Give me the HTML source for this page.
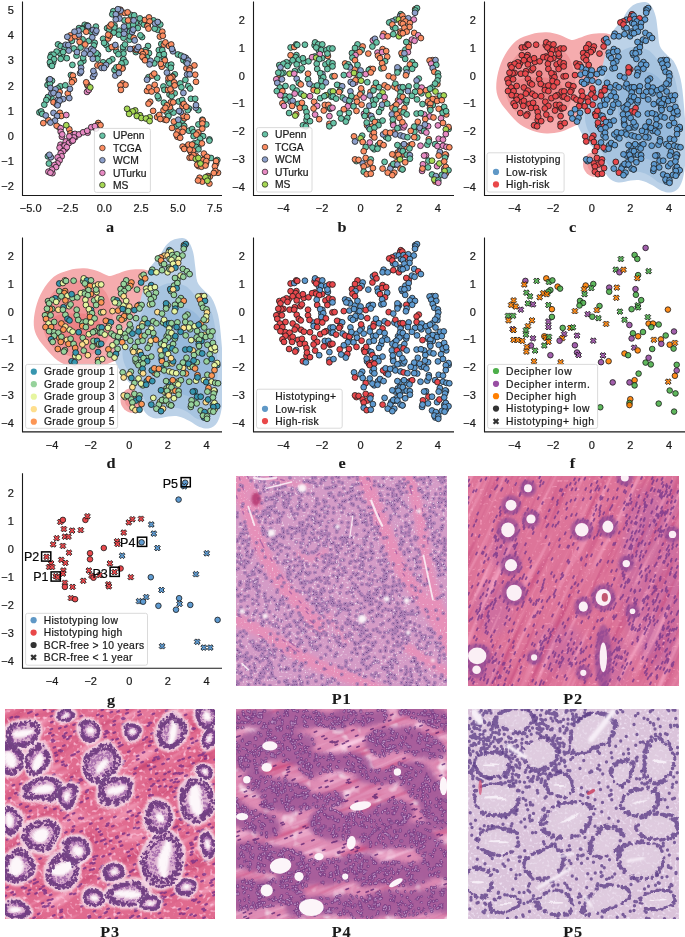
<!DOCTYPE html>
<html><head><meta charset="utf-8"><style>
html,body{margin:0;padding:0;background:#fff;}
body{width:685px;height:937px;overflow:hidden;position:relative;font-family:"Liberation Sans", sans-serif;}
svg{position:absolute;left:0;top:0;will-change:transform;}
.cap{font-family:"Liberation Serif", serif;font-weight:bold;}
text{stroke:#1a1a1a;stroke-width:0.22px;} text.cap{stroke-width:0.1px;}
.sc circle{r:2.9px;} .sc2 circle{r:2.8px;} .sc circle,.sc use{stroke:#1a1a1a;stroke-width:.8px;}
.k0{fill:#66c2a5}.k1{fill:#fc8d62}.k2{fill:#8da0cb}.k3{fill:#e78ac3}.k4{fill:#a6d854}.k5{fill:#e8484c}.k6{fill:#5e9ad0}.k7{fill:#96d29b}.k8{fill:#fc9655}.k9{fill:#e6f5a0}.k10{fill:#3796af}.k11{fill:#fede8c}.k12{fill:#984ea3}.k13{fill:#ff7f00}.k14{fill:#4daf4a}
</style></head><body>
<svg width="685" height="937" viewBox="0 0 685 937" font-family='"Liberation Sans", sans-serif' font-size="11" fill="#1a1a1a">
<defs><path id="xm" d="M-1.3 2.7L0.0 1.4L1.3 2.7L2.7 1.3L1.4 -0.0L2.7 -1.3L1.3 -2.7L-0.0 -1.4L-1.3 -2.7L-2.7 -1.3L-1.4 0.0L-2.7 1.3Z"/></defs><defs><clipPath id="clc"><rect x="485" y="0" width="200" height="195"/></clipPath><clipPath id="cld"><rect x="23" y="236" width="199" height="195"/></clipPath></defs><g clip-path="url(#clc)"><path d="M496.3 89.2C496.0 84.3 496.8 77.8 498.2 72.1C499.6 66.4 501.9 60.2 504.9 55.0C507.9 49.8 511.9 44.3 516.3 40.8C520.7 37.3 526.3 35.6 531.4 34.2C536.5 32.8 541.9 32.1 546.6 32.3C551.4 32.4 555.8 33.8 559.9 35.1C564.0 36.4 568.1 39.4 571.3 39.9C574.5 40.4 575.7 39.0 578.9 38.0C582.1 37.0 586.5 35.0 590.3 34.2C594.1 33.4 598.3 33.2 601.7 33.2C605.1 33.2 608.4 33.4 610.5 34.5C612.6 35.6 614.3 36.4 614.6 40.0C614.9 43.6 613.8 50.2 612.5 56.0C611.2 61.8 608.9 68.5 607.0 75.0C605.1 81.5 603.2 89.2 601.0 95.0C598.8 100.8 596.8 105.7 594.0 110.0C591.2 114.3 588.1 118.0 584.0 121.0C579.9 124.0 573.4 126.5 569.4 128.3C565.4 130.1 563.7 131.2 559.9 132.0C556.1 132.8 551.0 133.6 546.6 133.4C542.2 133.2 537.7 132.5 533.3 131.0C528.9 129.5 524.2 127.4 520.1 124.4C516.0 121.4 512.0 116.8 508.7 113.0C505.4 109.2 502.2 105.6 500.1 101.6C498.0 97.6 496.6 94.1 496.3 89.2Z" fill="#f5acae"/><path d="M506.8 75.9C507.9 70.5 509.6 65.1 512.5 60.7C515.4 56.3 519.2 52.0 523.9 49.3C528.6 46.6 535.5 45.1 540.9 44.6C546.3 44.1 552.0 45.1 556.1 46.5C560.2 47.9 563.1 50.4 565.6 53.1C568.1 55.8 569.7 58.2 571.3 62.6C572.9 67.0 574.8 74.3 575.1 79.7C575.4 85.1 574.5 90.2 573.2 94.9C571.9 99.7 570.4 104.4 567.5 108.2C564.6 112.0 560.5 115.5 556.1 117.7C551.7 119.9 546.0 121.5 540.9 121.5C535.8 121.5 530.5 119.9 525.8 117.7C521.1 115.5 515.8 112.3 512.5 108.2C509.2 104.1 506.8 98.4 505.8 93.0C504.9 87.6 505.7 81.3 506.8 75.9Z" fill="#f09598"/><path d="M516.3 81.6C518.4 79.1 522.7 78.4 527.7 77.8C532.8 77.2 541.2 76.8 546.6 77.8C552.0 78.8 557.0 81.0 559.9 83.5C562.8 86.0 563.7 89.5 563.7 93.0C563.7 96.5 562.8 101.6 559.9 104.4C557.0 107.2 551.4 109.1 546.6 110.1C541.9 111.0 535.8 111.0 531.4 110.1C527.0 109.1 522.8 107.2 520.1 104.4C517.4 101.6 515.9 96.8 515.3 93.0C514.7 89.2 514.2 84.1 516.3 81.6Z" fill="#ec8386"/><circle cx="595.5" cy="164.3" r="12.5" fill="#f5acae"/><circle cx="594.5" cy="165" r="7" fill="#f09598"/><path d="M634.9 4.2C637.8 2.9 642.5 1.8 645.3 2.1C648.1 2.4 649.8 3.8 651.5 6.2C653.2 8.6 654.7 12.4 655.7 16.6C656.8 20.8 657.1 26.3 657.8 31.2C658.5 36.0 658.4 41.9 659.8 45.7C661.2 49.5 663.7 51.3 666.1 54.1C668.5 56.9 672.0 58.2 674.4 62.4C676.8 66.5 679.0 72.1 680.6 79.0C682.2 85.9 682.9 93.8 683.8 104.0C684.7 114.2 685.9 129.0 686.0 140.0C686.1 151.0 685.5 162.3 684.5 170.0C683.5 177.7 682.1 182.3 680.0 186.0C677.9 189.7 675.0 191.5 672.0 192.3C669.0 193.1 665.3 192.2 662.0 191.0C658.7 189.8 655.5 186.8 652.0 185.0C648.5 183.2 644.5 181.2 641.0 180.5C637.5 179.8 634.5 180.2 630.7 180.5C626.9 180.8 621.9 182.9 618.3 182.5C614.7 182.1 611.5 180.4 609.0 178.0C606.5 175.6 605.2 172.5 603.0 168.0C600.8 163.5 598.2 155.5 595.5 151.0C592.8 146.5 589.4 144.7 586.7 141.0C584.0 137.3 581.1 133.0 579.4 129.1C577.7 125.2 576.2 121.8 576.4 117.4C576.6 113.0 578.3 107.6 580.8 102.7C583.2 97.8 587.9 92.9 591.1 88.0C594.3 83.1 597.7 78.3 599.9 73.4C602.1 68.5 602.8 64.1 604.3 58.7C605.8 53.3 607.2 45.8 608.7 41.1C610.2 36.5 610.9 34.3 613.1 30.8C615.3 27.3 619.4 23.5 621.9 20.0C624.4 16.5 625.8 12.6 628.0 10.0C630.2 7.4 632.0 5.5 634.9 4.2Z" fill="#bcd2e8"/><path d="M620.0 52.0C623.5 49.5 628.3 47.3 633.0 47.0C637.7 46.7 643.5 47.5 648.0 50.0C652.5 52.5 656.0 58.3 660.0 62.0C664.0 65.7 669.2 67.7 672.0 72.0C674.8 76.3 675.8 81.7 677.0 88.0C678.2 94.3 678.5 101.3 679.0 110.0C679.5 118.7 680.2 130.3 680.0 140.0C679.8 149.7 679.5 160.8 678.0 168.0C676.5 175.2 674.0 180.5 671.0 183.0C668.0 185.5 663.5 184.2 660.0 183.0C656.5 181.8 653.3 177.8 650.0 176.0C646.7 174.2 643.7 172.7 640.0 172.0C636.3 171.3 632.0 171.8 628.0 172.0C624.0 172.2 619.3 174.2 616.0 173.0C612.7 171.8 610.3 168.5 608.0 165.0C605.7 161.5 604.3 156.2 602.0 152.0C599.7 147.8 596.5 144.0 594.0 140.0C591.5 136.0 588.5 132.3 587.0 128.0C585.5 123.7 584.5 118.7 585.0 114.0C585.5 109.3 587.8 104.3 590.0 100.0C592.2 95.7 595.3 92.3 598.0 88.0C600.7 83.7 603.7 78.3 606.0 74.0C608.3 69.7 609.7 65.7 612.0 62.0C614.3 58.3 616.5 54.5 620.0 52.0Z" fill="#a7c4e0"/><path d="M628.0 78.0C633.0 73.0 642.0 71.0 648.0 72.0C654.0 73.0 660.0 78.5 664.0 84.0C668.0 89.5 670.5 96.5 672.0 105.0C673.5 113.5 673.8 125.8 673.0 135.0C672.2 144.2 670.8 155.8 667.0 160.0C663.2 164.2 655.5 161.7 650.0 160.0C644.5 158.3 638.7 155.0 634.0 150.0C629.3 145.0 624.7 138.0 622.0 130.0C619.3 122.0 617.0 110.7 618.0 102.0C619.0 93.3 623.0 83.0 628.0 78.0Z" fill="#98badc"/></g><g clip-path="url(#cld)"><path d="M33.8 325.2C33.5 320.3 34.3 313.8 35.7 308.1C37.1 302.4 39.4 296.2 42.4 291.0C45.4 285.8 49.4 280.3 53.8 276.8C58.2 273.3 63.8 271.6 68.9 270.2C73.9 268.8 79.4 268.1 84.1 268.3C88.9 268.5 93.3 269.8 97.4 271.1C101.5 272.4 105.6 275.4 108.8 275.9C112.0 276.4 113.2 274.9 116.4 274.0C119.6 273.1 124.0 271.0 127.8 270.2C131.6 269.4 135.8 269.1 139.2 269.2C142.6 269.2 145.8 269.4 148.0 270.5C150.2 271.6 151.8 272.4 152.1 276.0C152.4 279.6 151.3 286.2 150.0 292.0C148.7 297.8 146.4 304.5 144.5 311.0C142.6 317.5 140.7 325.2 138.5 331.0C136.3 336.8 134.3 341.7 131.5 346.0C128.7 350.3 125.6 353.9 121.5 357.0C117.4 360.1 110.9 362.5 106.9 364.3C102.9 366.1 101.2 367.1 97.4 368.0C93.6 368.9 88.5 369.6 84.1 369.4C79.7 369.2 75.2 368.5 70.8 367.0C66.4 365.5 61.7 363.4 57.6 360.4C53.5 357.4 49.5 352.8 46.2 349.0C42.9 345.2 39.7 341.6 37.6 337.6C35.5 333.6 34.1 330.1 33.8 325.2Z" fill="#f5acae"/><path d="M44.3 311.9C45.4 306.5 47.2 301.1 50.0 296.7C52.8 292.3 56.7 288.0 61.4 285.3C66.1 282.6 73.0 281.1 78.4 280.6C83.8 280.1 89.5 281.1 93.6 282.5C97.7 283.9 100.6 286.4 103.1 289.1C105.6 291.8 107.2 294.2 108.8 298.6C110.4 303.0 112.3 310.3 112.6 315.7C112.9 321.1 112.0 326.1 110.7 330.9C109.4 335.6 107.9 340.4 105.0 344.2C102.1 348.0 98.0 351.5 93.6 353.7C89.2 355.9 83.4 357.5 78.4 357.5C73.3 357.5 68.0 355.9 63.3 353.7C58.6 351.5 53.3 348.3 50.0 344.2C46.7 340.1 44.3 334.4 43.3 329.0C42.4 323.6 43.2 317.3 44.3 311.9Z" fill="#f09598"/><path d="M53.8 317.6C55.9 315.1 60.2 314.4 65.2 313.8C70.3 313.2 78.7 312.9 84.1 313.8C89.5 314.8 94.5 317.0 97.4 319.5C100.2 322.0 101.2 325.5 101.2 329.0C101.2 332.5 100.2 337.5 97.4 340.4C94.5 343.2 88.9 345.2 84.1 346.1C79.4 347.1 73.3 347.1 68.9 346.1C64.5 345.2 60.3 343.2 57.6 340.4C54.9 337.5 53.4 332.8 52.8 329.0C52.2 325.2 51.7 320.1 53.8 317.6Z" fill="#ec8386"/><circle cx="133.0" cy="400.3" r="12.5" fill="#f5acae"/><circle cx="132.0" cy="401" r="7" fill="#f09598"/><path d="M172.4 240.2C175.3 238.9 180.0 237.8 182.8 238.1C185.6 238.4 187.3 239.8 189.0 242.2C190.7 244.6 192.2 248.4 193.2 252.6C194.3 256.8 194.6 262.3 195.3 267.2C196.0 272.1 195.9 277.9 197.3 281.7C198.7 285.5 201.2 287.3 203.6 290.1C206.0 292.9 209.5 294.2 211.9 298.4C214.3 302.5 216.5 308.1 218.1 315.0C219.7 321.9 220.4 329.8 221.3 340.0C222.2 350.2 223.4 365.0 223.5 376.0C223.6 387.0 223.0 398.3 222.0 406.0C221.0 413.7 219.6 418.3 217.5 422.0C215.4 425.7 212.5 427.5 209.5 428.3C206.5 429.1 202.8 428.2 199.5 427.0C196.2 425.8 193.0 422.8 189.5 421.0C186.0 419.2 182.0 417.2 178.5 416.5C175.0 415.8 172.0 416.2 168.2 416.5C164.4 416.8 159.4 418.9 155.8 418.5C152.2 418.1 149.0 416.4 146.5 414.0C144.0 411.6 142.8 408.5 140.5 404.0C138.2 399.5 135.7 391.5 133.0 387.0C130.3 382.5 126.9 380.6 124.2 377.0C121.5 373.4 118.6 369.0 116.9 365.1C115.2 361.2 113.7 357.8 113.9 353.4C114.1 349.0 115.8 343.6 118.3 338.7C120.7 333.8 125.4 328.9 128.6 324.0C131.8 319.1 135.2 314.3 137.4 309.4C139.6 304.5 140.3 300.1 141.8 294.7C143.3 289.3 144.7 281.8 146.2 277.1C147.7 272.5 148.4 270.3 150.6 266.8C152.8 263.3 156.9 259.5 159.4 256.0C161.9 252.5 163.3 248.6 165.5 246.0C167.7 243.4 169.5 241.5 172.4 240.2Z" fill="#bcd2e8"/><path d="M157.5 288.0C161.0 285.5 165.8 283.3 170.5 283.0C175.2 282.7 181.0 283.5 185.5 286.0C190.0 288.5 193.5 294.3 197.5 298.0C201.5 301.7 206.7 303.7 209.5 308.0C212.3 312.3 213.3 317.7 214.5 324.0C215.7 330.3 216.0 337.3 216.5 346.0C217.0 354.7 217.7 366.3 217.5 376.0C217.3 385.7 217.0 396.8 215.5 404.0C214.0 411.2 211.5 416.5 208.5 419.0C205.5 421.5 201.0 420.2 197.5 419.0C194.0 417.8 190.8 413.8 187.5 412.0C184.2 410.2 181.2 408.7 177.5 408.0C173.8 407.3 169.5 407.8 165.5 408.0C161.5 408.2 156.8 410.2 153.5 409.0C150.2 407.8 147.8 404.5 145.5 401.0C143.2 397.5 141.8 392.2 139.5 388.0C137.2 383.8 134.0 380.0 131.5 376.0C129.0 372.0 126.0 368.3 124.5 364.0C123.0 359.7 122.0 354.7 122.5 350.0C123.0 345.3 125.3 340.3 127.5 336.0C129.7 331.7 132.8 328.3 135.5 324.0C138.2 319.7 141.2 314.3 143.5 310.0C145.8 305.7 147.2 301.7 149.5 298.0C151.8 294.3 154.0 290.5 157.5 288.0Z" fill="#a7c4e0"/><path d="M165.5 314.0C170.5 309.0 179.5 307.0 185.5 308.0C191.5 309.0 197.5 314.5 201.5 320.0C205.5 325.5 208.0 332.5 209.5 341.0C211.0 349.5 211.3 361.8 210.5 371.0C209.7 380.2 208.3 391.8 204.5 396.0C200.7 400.2 193.0 397.7 187.5 396.0C182.0 394.3 176.2 391.0 171.5 386.0C166.8 381.0 162.2 374.0 159.5 366.0C156.8 358.0 154.5 346.7 155.5 338.0C156.5 329.3 160.5 319.0 165.5 314.0Z" fill="#98badc"/></g><defs><filter id="bl1" x="-30%" y="-30%" width="160%" height="160%"><feGaussianBlur stdDeviation="0.8"/></filter><filter id="bl2" x="-20%" y="-20%" width="140%" height="140%"><feGaussianBlur stdDeviation="2"/></filter><filter id="bl4" x="-20%" y="-20%" width="140%" height="140%"><feGaussianBlur stdDeviation="4"/></filter><filter id="bl05" x="-5%" y="-5%" width="110%" height="110%"><feGaussianBlur stdDeviation="0.35"/></filter><filter id="t1b" filterUnits="userSpaceOnUse" x="236" y="476" width="211" height="211" color-interpolation-filters="sRGB"><feTurbulence type="fractalNoise" baseFrequency="0.5" numOctaves="1" seed="11"/><feColorMatrix type="matrix" values="0 0 0 0 0.961 0 0 0 0 0.882 0 0 0 0 0.941 -5.0 0 0 0 1.75"/></filter><clipPath id="clP1"><rect x="236" y="476" width="211" height="210"/></clipPath><filter id="s2l" x="0" y="0" width="1" height="1" color-interpolation-filters="sRGB"><feTurbulence type="fractalNoise" baseFrequency="0.012 0.16" numOctaves="2" seed="5"/><feColorMatrix type="matrix" values="0 0 0 0 0.961 0 0 0 0 0.647 0 0 0 0 0.765 3.0 0 0 0 -1.65"/></filter><filter id="s2d" x="0" y="0" width="1" height="1" color-interpolation-filters="sRGB"><feTurbulence type="fractalNoise" baseFrequency="0.012 0.16" numOctaves="2" seed="5"/><feColorMatrix type="matrix" values="0 0 0 0 0.784 0 0 0 0 0.314 0 0 0 0 0.510 -3.0 0 0 0 1.35"/></filter><filter id="t2b" filterUnits="userSpaceOnUse" x="468" y="476" width="211" height="211" color-interpolation-filters="sRGB"><feTurbulence type="fractalNoise" baseFrequency="0.35" numOctaves="1" seed="17"/><feColorMatrix type="matrix" values="0 0 0 0 0.961 0 0 0 0 0.627 0 0 0 0 0.745 -5.0 0 0 0 1.9"/></filter><clipPath id="clP2"><rect x="468" y="476" width="211" height="210"/></clipPath><filter id="s3l" x="0" y="0" width="1" height="1" color-interpolation-filters="sRGB"><feTurbulence type="fractalNoise" baseFrequency="0.02 0.12" numOctaves="2" seed="9"/><feColorMatrix type="matrix" values="0 0 0 0 0.973 0 0 0 0 0.686 0 0 0 0 0.784 3.0 0 0 0 -1.65"/></filter><filter id="s3d" x="0" y="0" width="1" height="1" color-interpolation-filters="sRGB"><feTurbulence type="fractalNoise" baseFrequency="0.02 0.12" numOctaves="2" seed="9"/><feColorMatrix type="matrix" values="0 0 0 0 0.784 0 0 0 0 0.275 0 0 0 0 0.451 -3.0 0 0 0 1.35"/></filter><filter id="t3b" filterUnits="userSpaceOnUse" x="5" y="709" width="210" height="211" color-interpolation-filters="sRGB"><feTurbulence type="fractalNoise" baseFrequency="0.3" numOctaves="1" seed="23"/><feColorMatrix type="matrix" values="0 0 0 0 0.980 0 0 0 0 0.725 0 0 0 0 0.824 -5.0 0 0 0 2.2"/></filter><filter id="dp3" filterUnits="userSpaceOnUse" x="-5" y="699" width="230" height="230" color-interpolation-filters="sRGB"><feTurbulence type="fractalNoise" baseFrequency="0.035" numOctaves="1" seed="21" result="t"/><feDisplacementMap in="SourceGraphic" in2="t" scale="14" xChannelSelector="R" yChannelSelector="G"/></filter><clipPath id="clP3"><rect x="5" y="709" width="210" height="210"/></clipPath><filter id="t4b" filterUnits="userSpaceOnUse" x="236" y="709" width="211" height="211" color-interpolation-filters="sRGB"><feTurbulence type="fractalNoise" baseFrequency="0.08" numOctaves="2" seed="31"/><feColorMatrix type="matrix" values="0 0 0 0 0.961 0 0 0 0 0.871 0 0 0 0 0.922 -4.0 0 0 0 1.75"/></filter><filter id="s4l" x="0" y="0" width="1" height="1" color-interpolation-filters="sRGB"><feTurbulence type="fractalNoise" baseFrequency="0.015 0.14" numOctaves="2" seed="13"/><feColorMatrix type="matrix" values="0 0 0 0 0.973 0 0 0 0 0.784 0 0 0 0 0.882 3.0 0 0 0 -1.65"/></filter><filter id="s4d" x="0" y="0" width="1" height="1" color-interpolation-filters="sRGB"><feTurbulence type="fractalNoise" baseFrequency="0.015 0.14" numOctaves="2" seed="13"/><feColorMatrix type="matrix" values="0 0 0 0 0.804 0 0 0 0 0.314 0 0 0 0 0.510 -3.0 0 0 0 1.35"/></filter><filter id="dp4" filterUnits="userSpaceOnUse" x="226" y="699" width="231" height="230" color-interpolation-filters="sRGB"><feTurbulence type="fractalNoise" baseFrequency="0.04" numOctaves="1" seed="8" result="t"/><feDisplacementMap in="SourceGraphic" in2="t" scale="12" xChannelSelector="R" yChannelSelector="G"/></filter><clipPath id="clP4"><rect x="236" y="709" width="211" height="210"/></clipPath><filter id="t5b" filterUnits="userSpaceOnUse" x="468" y="709" width="211" height="211" color-interpolation-filters="sRGB"><feTurbulence type="fractalNoise" baseFrequency="0.4" numOctaves="1" seed="37"/><feColorMatrix type="matrix" values="0 0 0 0 0.933 0 0 0 0 0.882 0 0 0 0 0.949 -5.0 0 0 0 2.3"/></filter><filter id="dp5" filterUnits="userSpaceOnUse" x="458" y="699" width="231" height="230" color-interpolation-filters="sRGB"><feTurbulence type="fractalNoise" baseFrequency="0.03" numOctaves="1" seed="41" result="t"/><feDisplacementMap in="SourceGraphic" in2="t" scale="16" xChannelSelector="R" yChannelSelector="G"/></filter><clipPath id="clP5"><rect x="468" y="709" width="211" height="210"/></clipPath></defs><g clip-path="url(#clP1)"><rect x="236" y="476" width="211" height="210" fill="#d49bc6" /><g filter="url(#bl2)"><path d="M236.0 482.1C224.7 464.2 244.2 502.1 248.3 512.9C252.4 523.7 255.5 535.4 260.6 546.7C265.7 558.0 272.4 570.8 279.0 580.5C285.7 590.3 294.4 598.5 300.6 605.1C306.7 611.8 326.7 641.0 315.9 620.5" fill="none" stroke="#e88fb8" stroke-width="13.8" stroke-linecap="round" stroke-linejoin="round" stroke-opacity="0.9"/><path d="M242.1 476.0C241.6 474.0 251.9 489.3 254.4 494.4C257.0 499.6 259.6 509.8 257.5 506.7" fill="none" stroke="#e88fb8" stroke-width="9.2" stroke-linecap="round" stroke-linejoin="round" stroke-opacity="0.9"/><path d="M365.1 476.0C352.8 452.9 370.8 493.9 374.4 503.7C377.9 513.4 382.6 524.2 386.7 534.4C390.8 544.7 393.8 555.4 399.0 565.2C404.1 574.9 411.3 583.6 417.4 592.8C423.6 602.1 430.7 612.3 435.9 620.5C441.0 628.7 459.9 666.1 448.2 642.0" fill="none" stroke="#e88fb8" stroke-width="13.8" stroke-linecap="round" stroke-linejoin="round" stroke-opacity="0.9"/><path d="M408.2 476.0C403.1 457.0 414.8 495.5 417.4 506.7C420.0 518.0 421.5 531.9 423.6 543.6C425.6 555.4 427.1 566.7 429.7 577.5C432.3 588.2 435.9 601.0 438.9 608.2C442.0 615.4 453.3 642.5 448.2 620.5" fill="none" stroke="#e88fb8" stroke-width="10.8" stroke-linecap="round" stroke-linejoin="round" stroke-opacity="0.9"/><path d="M236.0 620.5C218.1 611.5 256.5 628.7 266.7 634.3C277.0 640.0 287.2 648.4 297.5 654.3C307.7 660.2 319.0 665.6 328.2 669.7C337.5 673.8 345.2 675.9 352.8 678.9C360.5 682.0 393.8 697.9 374.4 688.2" fill="none" stroke="#e88fb8" stroke-width="12.3" stroke-linecap="round" stroke-linejoin="round" stroke-opacity="0.9"/><path d="M408.2 648.2C404.6 646.1 420.0 656.4 426.6 660.5C433.3 664.6 451.2 674.8 448.2 672.8" fill="none" stroke="#e88fb8" stroke-width="9.2" stroke-linecap="round" stroke-linejoin="round" stroke-opacity="0.9"/><path d="M297.5 552.9C295.4 554.4 308.3 559.5 312.9 559.0C317.5 558.5 327.7 550.8 325.2 549.8" fill="none" stroke="#e88fb8" stroke-width="4.3" stroke-linecap="round" stroke-linejoin="round" stroke-opacity="0.9"/><path d="M328.2 614.4C326.7 612.3 334.4 625.1 337.5 629.7C340.5 634.3 348.2 644.6 346.7 642.0" fill="none" stroke="#e88fb8" stroke-width="3.7" stroke-linecap="round" stroke-linejoin="round" stroke-opacity="0.9"/><path d="M266.7 476.0C263.2 475.5 278.5 480.6 285.2 482.1C291.9 483.7 309.8 486.2 306.7 485.2" fill="none" stroke="#e88fb8" stroke-width="4.6" stroke-linecap="round" stroke-linejoin="round" stroke-opacity="0.9"/></g><rect x="236" y="476" width="211" height="210" fill="none" filter="url(#t1b)"/><g filter="url(#bl05)"><path transform="translate(236 476) scale(.25)" d="M60 19h0m30-19h0m6 23h0m17 0h0m28-21h0m75 5h0m57 16h0m10-3h0m7 2h0m16-14h0m11-1h0m26 9h0m7-3h0m5 4h0m5-13h0m25 5h0m16-9h0m8 5h0m3 18h0m40-17h0m16-6h0m17 1h0m1 11h0m41-1h0m28 11h0m34-13h0m35 1h0m31 13h0m17-10h0m42-7h0m11 11h0m11-4h0m6 0h0m11-1h0m16-12h0m0 4h0m9 14h0m30-12h0m8 12h0m7-11h0m9-3h0m1-2h0m1 17h0m4 25h0m-14-18h0m-47 5h0m-12 16h0m-14-20h0m-51 16h0m-12-18h0m-10 7h0m-7 13h0m-7-16h0m-12 15h0m-3-7h0m-6 0h0m-53 1h0m-6 4h0m-7-1h0m-4 0h0m-3-5h0m-17 2h0m-62-7h0m-11 3h0m-13 3h0m-3 10h0m-39-19h0m-26 11h0m-2 3h0m-8 0h0m-1-17h0m-1 21h0m-14 1h0m-34-18h0m-16 11h0m-6-9h0m-9-7h0m-12 1h0m-100 17h0m-12 3h0m-16-17h0m-17-3h0m-9 5h0m-29 11h0m-29 3h0m-4-7h0m-55 3h0m-7-3h0m-6 19h0m84 13h0m15-15h0m2 6h0m14-8h0m30-1h0m6 19h0m7-2h0m3-18h0m13 17h0m23 3h0m3-1h0m12-14h0m0-5h0m21 3h0m5 8h0m3 7h0m8-8h0m1 3h0m3-5h0m0-5h0m7 8h0m16 10h0m21 0h0m51-22h0m7 0h0m5 21h0m8-1h0m35-1h0m16-18h0m13 18h0m4-1h0m11-7h0m1-10h0m6 8h0m26 10h0m0 1h0m15-4h0m69 5h0m30-20h0m12 2h0m9 16h0m4-13h0m18-5h0m8 11h0m10 8h0m16-5h0m49-6h0m0-8h0m1 4h0m5 1h0m7 9h0m24 7h0m47-20h0m3 20h0m15-3h0m3-6h0m-2 11h0m-1 19h0m-5 1h0m-15-3h0m-15-18h0m-9 19h0m-24-6h0m-2 5h0m-6-11h0m-8 6h0m-89-13h0m-7 18h0m-11 5h0m-2-15h0m0-4h0m-15 5h0m-18-7h0m-28 4h0m-82 14h0m-5-20h0m-11 20h0m-4-14h0m-15 3h0m0 1h0m-4 9h0m-5 3h0m-26-18h0m-16 0h0m-22 8h0m-15-6h0m-51 13h0m-19-16h0m-42 1h0m-11 13h0m-25-17h0m-11 19h0m-1-11h0m-14 13h0m-6-15h0m-7 7h0m-17-9h0m-3-2h0m-6 2h0m-1 15h0m-9-9h0m-5 10h0m-5 1h0m-2-6h0m-12 6h0m-7-6h0m-29 4h0m-64 21h0m75-4h0m16-10h0m37 9h0m9-9h0m25 18h0m0-11h0m3 6h0m16-11h0m0 11h0m44 4h0m1-10h0m5-8h0m23 17h0m41-17h0m0 14h0m8 0h0m20-14h0m3 7h0m6-2h0m39-4h0m14 18h0m8 2h0m6-16h0m8 0h0m2-4h0m25 13h0m6 2h0m1 3h0m38-14h0m9 2h0m62-8h0m8 0h0m18 3h0m1 12h0m9-4h0m8 11h0m2-12h0m10 9h0m1-18h0m11 3h0m5-4h0m14 10h0m0 6h0m4-6h0m6 11h0m81 2h0m33-6h0m21-7h0m11-1h0m17 13h0m1-16h0m-10 36h0m-16-16h0m-20 2h0m-17 17h0m0-14h0m-74 10h0m-4 4h0m-14-15h0m-38 4h0m-13 7h0m-5-8h0m-28 3h0m-10 9h0m-50-15h0m-10-1h0m-17 14h0m-15-2h0m-9-13h0m-57 5h0m-19-4h0m-23 4h0m-19-7h0m-5 21h0m0-21h0m-11-1h0m-7 11h0m-6 1h0m-23 10h0m-2-21h0m-11 19h0m-22-19h0m-12 14h0m-11-11h0m-7-3h0m-5 5h0m-1 5h0m-3-10h0m-23 18h0m-2-11h0m-18-4h0m-7-1h0m-33 17h0m-7 1h0m-2-22h0m-11 14h0m-1-11h0m-7 3h0m-7 2h0m-10 11h0m-8 3h0m-26-1h0m-29-1h0m-29-18h0m-24 40h0m3 1h0m1-15h0m65 1h0m14 14h0m5 4h0m6-6h0m6 1h0m8-10h0m15 0h0m7 9h0m1-15h0m3 11h0m22-11h0m15 3h0m1 4h0m9 7h0m8-13h0m38 8h0m7-4h0m10 1h0m48 10h0m10 1h0m12 4h0m3-23h0m3 7h0m13 8h0m1-2h0m20 7h0m1-18h0m10 3h0m25-2h0m33-2h0m27 9h0m16-1h0m1 0h0m4 6h0m26-5h0m1 10h0m15-8h0m9 2h0m12-5h0m5 14h0m4-19h0m75 12h0m18-9h0m15 11h0m26-2h0m6-4h0m67 1h0m1 1h0m3-4h0m23 8h0m13-17h0m10 10h0m28 15h0m-7 4h0m-30 15h0m-16-11h0m-5-9h0m-2 17h0m-8-15h0m-55 15h0m-27 2h0m-61-15h0m-7 14h0m-70-9h0m-21 6h0m-2-9h0m-1 5h0m-4 6h0m-6-1h0m-29-7h0m-4 3h0m-25 6h0m-26-2h0m-37-8h0m-16 7h0m-27-3h0m-11 5h0m-2-1h0m-11-5h0m-4 9h0m-10-15h0m-21 1h0m-17 11h0m-12 2h0m-20-17h0m-60 12h0m-1-12h0m-7 5h0m-2 8h0m-19 1h0m-9 4h0m-19-4h0m-1-11h0m-24 9h0m-58 1h0m-16 8h0m11 22h0m8-14h0m2 13h0m66-8h0m3 6h0m30-1h0m48 1h0m29-5h0m7 4h0m3-1h0m14 1h0m14-5h0m11-12h0m1 3h0m15 14h0m4-9h0m4-6h0m13 7h0m10 12h0m26-17h0m25 6h0m31 0h0m3-4h0m5 5h0m9 6h0m37-5h0m28-11h0m8-2h0m40 4h0m18-3h0m2 21h0m12-9h0m9 10h0m5-12h0m91 2h0m18-3h0m12-4h0m0-1h0m5 15h0m62 2h0m7-22h0m4 12h0m14 2h0m1-14h0m37 13h0m1 10h0m4-10h0m1-6h0m-13 37h0m-9-17h0m-10 8h0m-9 6h0m-94-10h0m0 14h0m-14-9h0m-14-1h0m-1-7h0m-21 17h0m-3-21h0m-64 15h0m-10-5h0m-11 6h0m-24-6h0m-17-9h0m-31 18h0m-39-10h0m-40-1h0m0-7h0m-31 14h0m-12-12h0m-4 13h0m-10 6h0m-3-17h0m-4 9h0m-12-3h0m-19 5h0m-6-5h0m-24 1h0m-3-9h0m-8 9h0m0-12h0m0 21h0m-13-18h0m-10 2h0m-7 7h0m-14 8h0m-15-7h0m-2-9h0m-16 6h0m-1-6h0m-14 16h0m-29-8h0m-1 8h0m-17-10h0m-3 4h0m0-4h0m-11-6h0m-4 13h0m-4-14h0m-61 10h0m-14 2h0m-4-2h0m-7 1h0m-15 31h0m1-5h0m9-8h0m2-6h0m12 14h0m11 3h0m13-7h0m73-11h0m1-1h0m19 13h0m5-1h0m3 5h0m7 5h0m1-19h0m20-2h0m8 6h0m1-4h0m31 6h0m47 4h0m25-5h0m11 8h0m10-8h0m6 8h0m7 3h0m10-11h0m26 5h0m4-13h0m6 15h0m23-6h0m20 2h0m4-3h0m5-3h0m3 15h0m5-14h0m5 2h0m2 7h0m5-10h0m15 2h0m1-1h0m50 5h0m8-3h0m0-4h0m2 13h0m2-16h0m31 10h0m8 3h0m28-6h0m12-2h0m58 7h0m4 10h0m5-1h0m5-22h0m24 18h0m16-7h0m2-7h0m2 11h0m7-8h0m27-4h0m17 8h0m16 5h0m5-11h0m2-1h0m15 17h0m7-4h0m18-7h0m2 5h0m0 5h0m0 11h0m-1 13h0m0 1h0m-13-16h0m-12-5h0m-5 19h0m-6-8h0m-4-2h0m-44 7h0m-48-5h0m-39 0h0m-4-8h0m-5 7h0m-66 8h0m-2 4h0m-42-5h0m-3-10h0m-27 2h0m-1-9h0m-15 18h0m-13-4h0m-19-9h0m-1-3h0m-13 12h0m-4 2h0m-4-16h0m-3 0h0m-15 8h0m-17 6h0m-9 8h0m-1-5h0m-9-13h0m-5 1h0m-3 1h0m-21-6h0m-1 15h0m-8-1h0m-1-9h0m-19 9h0m-38-10h0m-9 12h0m-18-11h0m-7 16h0m-1-17h0m-18-4h0m-41 22h0m-16-9h0m-8-3h0m-10 11h0m-15-17h0m-5 3h0m-9 8h0m-5-3h0m-3-5h0m-47-4h0m-32 1h0m-2 9h0m-22-9h0m-13 20h0m25 1h0m5 16h0m2-3h0m22-2h0m39-2h0m37-9h0m8 5h0m29 6h0m33-11h0m21 22h0m34-6h0m8-8h0m8 10h0m4 3h0m16-5h0m6 1h0m9-5h0m7-9h0m53 2h0m24 2h0m3 5h0m3 5h0m11-16h0m19 21h0m12-8h0m9-2h0m9-4h0m3-7h0m32 4h0m13 14h0m3-1h0m17-3h0m2-7h0m3 5h0m4 8h0m3-1h0m30-8h0m4-12h0m74 3h0m15 13h0m15-12h0m4 10h0m4-2h0m24-8h0m10 2h0m4 8h0m62 0h0m3 2h0m27 4h0m7-15h0m4 3h0m-1 18h0m-15 1h0m-1 18h0m-8-12h0m-16 8h0m-3 5h0m-1-3h0m-11-17h0m-45-1h0m-10 9h0m-6 10h0m0-2h0m-5 0h0m-4 1h0m-37-19h0m-71-1h0m-3 23h0m-8-18h0m-48 11h0m-2 1h0m-2 4h0m-24-5h0m-5-3h0m-2 0h0m-4 0h0m-3-13h0m-4 9h0m-31-2h0m-39 15h0m-23-10h0m-7 5h0m-14-14h0m-1 10h0m-7 10h0m-3-17h0m-13-2h0m-2 15h0m-12-10h0m-23 10h0m-70-5h0m-15 8h0m-31-14h0m-1-5h0m-37-2h0m-11 17h0m-40-5h0m-54-11h0m-7 11h0m-12-7h0m-22 2h0m-5 9h0m-4-16h0m-7 2h0m-2 8h0m1 21h0m11 4h0m4 5h0m3-10h0m13-4h0m5 11h0m5-7h0m4 2h0m37 7h0m80-7h0m22 5h0m6-10h0m6 7h0m6-7h0m12 2h0m28 16h0m9-16h0m9 15h0m0-15h0m17 9h0m30 6h0m12-20h0m27 6h0m2 2h0m15 11h0m4-11h0m9 4h0m8 0h0m11-4h0m15 9h0m5-17h0m11-1h0m25 13h0m0-2h0m4-5h0m16-4h0m4 3h0m11-4h0m8 19h0m6-13h0m3 15h0m0-5h0m23-17h0m39 4h0m7 0h0m3 14h0m7-18h0m7 5h0m15 8h0m20 6h0m1-3h0m49 6h0m12-21h0m31 8h0m14-2h0m64-6h0m5 17h0m0-11h0m1 7h0m5-2h0m11 8h0m8-1h0m2-17h0m8 34h0m-4 3h0m-2-11h0m-20 14h0m-3-16h0m-2 9h0m-42 2h0m-31-6h0m-9-1h0m-2-3h0m-5 8h0m-22 1h0m-24 2h0m-50 8h0m-13 0h0m-9-20h0m-9 15h0m0 4h0m-5-6h0m-34-6h0m-8 12h0m-8-18h0m-22 20h0m-12-11h0m-10-4h0m-18-3h0m-41 2h0m-3 12h0m-6-11h0m-17 10h0m-15-8h0m-3 1h0m-33-5h0m-4 3h0m-5 11h0m-2-1h0m-23-14h0m-37-5h0m-19 11h0m-6 11h0m0-1h0m-1-1h0m-28-19h0m0-1h0m-3 18h0m-16-16h0m-1 3h0m-4 10h0m-104-14h0m-6 21h0m-4-3h0m-5-2h0m-12-11h0m-9 13h0m-4 4h0m-31-18h0m-1-4h0m-24 9h0m-8 4h0m35 13h0m11 13h0m5-3h0m8-2h0m13-3h0m21-8h0m21 10h0m61 4h0m31 5h0m0-15h0m8-3h0m2 8h0m21 11h0m5-3h0m7-12h0m7 3h0m22-6h0m2 4h0m8 4h0m6-7h0m21-1h0m18 21h0m20 0h0m15 0h0m20-9h0m15 4h0m0 5h0m2-6h0m2 4h0m6-12h0m12 3h0m13-11h0m1 0h0m21 19h0m9-15h0m8 7h0m4-2h0m5-4h0m22 12h0m23-13h0m24 10h0m37 0h0m4-8h0m5 10h0m1-12h0m26 18h0m83-12h0m3-2h0m23 8h0m72-3h0m8-3h0m12-2h0m-63 37h0m-29-10h0m-11-12h0m0 7h0m-73 16h0m-1-14h0m-22 6h0m-30-14h0m-4 5h0m-4-1h0m-4 9h0m-3 1h0m-1-8h0m-2 2h0m-4-7h0m-13 10h0m-20-4h0m-3 15h0m-10-18h0m-35-2h0m-8-1h0m-23 19h0m-13-15h0m-48-4h0m-1 10h0m-32 9h0m-8-11h0m-8 10h0m-17-8h0m-12-8h0m-6-1h0m-2 4h0m-13 4h0m-7 6h0m-13-1h0m-12-4h0m-7 7h0m-7-1h0m-1 3h0m-4-15h0m-35 6h0m-10-8h0m-19 15h0m-25-19h0m-25 13h0m-21-13h0m-36 5h0m-1 10h0m-1-10h0m-7 5h0m-3 12h0m-4-7h0m-15-8h0m-1 8h0m-8-1h0m-26 8h0m-2-6h0m-1 2h0m-15 27h0m1 1h0m13-18h0m27 13h0m1-15h0m5 2h0m0 11h0m5 2h0m17-8h0m10 3h0m1-12h0m0 19h0m12-12h0m91 3h0m39 4h0m46 0h0m8-14h0m19 20h0m33-12h0m20 11h0m45-12h0m25 7h0m4-7h0m41 10h0m12 2h0m1-15h0m0 15h0m8-5h0m19-13h0m19-1h0m10 6h0m27 16h0m7-1h0m9-5h0m16-8h0m1 13h0m6-14h0m10 5h0m16-1h0m4-3h0m13-3h0m16 3h0m12-8h0m4 7h0m29 0h0m14 8h0m36-14h0m2 3h0m66 5h0m8 35h0m-91-15h0m-19-4h0m-58 0h0m-8 20h0m-10-15h0m-2-5h0m-15 3h0m-2 11h0m-10 3h0m-16-7h0m-3-3h0m-1 7h0m-2-3h0m-25-3h0m-5 9h0m0-15h0m-10 13h0m-17 6h0m-2-15h0m-5 10h0m-24 4h0m-4-5h0m-8-10h0m-27 4h0m-9-5h0m-12 7h0m-28 0h0m-30-9h0m-10 5h0m-23-5h0m-11-3h0m0 14h0m-2 3h0m-1-8h0m-16 10h0m-2-10h0m-11-4h0m0 13h0m-17-13h0m-4 6h0m-14-2h0m-18-2h0m-14-4h0m-77-3h0m-2 9h0m-49 5h0m-23-9h0m-4 3h0m-3 10h0m-49-18h0m-17 17h0m-11 4h0m1 4h0m11 19h0m14-5h0m2-13h0m14-2h0m17 14h0m15 5h0m7-16h0m25-3h0m3 9h0m3 12h0m12-2h0m10-13h0m12 10h0m23 3h0m2-3h0m8-12h0m1 11h0m15-4h0m81 3h0m3 1h0m7-15h0m23 14h0m5 0h0m6-9h0m15 7h0m27 11h0m9-19h0m2 12h0m5 5h0m1-8h0m26 9h0m56-19h0m46 1h0m2 12h0m2 3h0m6-13h0m3 12h0m8-11h0m3 15h0m0-12h0m8 0h0m13 11h0m20-15h0m6-6h0m12 4h0m7 17h0m9-17h0m1-2h0m2 13h0m0 0h0m12-2h0m41-4h0m10 6h0m14-5h0m13 12h0m2-2h0m14-13h0m82 3h0m11-5h0m6-5h0m-96 47h0m-59-20h0m-19 5h0m-3-4h0m-5 19h0m-25-20h0m-1 2h0m-32 3h0m-7-4h0m-1 14h0m-6 4h0m-24-14h0m-7 0h0m-1 2h0m-22 11h0m-13-14h0m-15-6h0m-19 8h0m-4 1h0m-6-5h0m-10 10h0m-8-8h0m-4 1h0m-16 4h0m-4 1h0m-10 1h0m-13-9h0m-2-1h0m-2 9h0m-7-8h0m-19 10h0m-2-11h0m-13-4h0m-2 17h0m-9-6h0m-5-4h0m-5-1h0m-3 7h0m-1 1h0m0 3h0m-7-12h0m-7 0h0m-3 0h0m-59 15h0m-36-4h0m-1 5h0m-19-14h0m-15 2h0m-6 7h0m-7-6h0m-39 5h0m-1 5h0m-32-11h0m-22-2h0m-22 12h0m-26 2h0m-6 14h0m9 1h0m17 7h0m5 3h0m2-5h0m30-1h0m5-5h0m29 7h0m8-14h0m15 11h0m28-10h0m7 0h0m51 17h0m6-6h0m26 4h0m56-2h0m15-11h0m11 11h0m8 5h0m1-10h0m5-12h0m7 3h0m8 2h0m3 9h0m4-7h0m40-6h0m0 18h0m7-8h0m1-12h0m6 6h0m10-4h0m3 4h0m9 2h0m5 0h0m4 3h0m29 1h0m14-10h0m35 16h0m4-2h0m7-6h0m2 1h0m23-8h0m17 9h0m11-8h0m13 4h0m12 1h0m10 12h0m7 2h0m2-10h0m13-10h0m5 19h0m2-5h0m2-1h0m12-1h0m2 2h0m25-2h0m4-3h0m23 6h0m0 1h0m2-2h0m28-11h0m6 8h0m35-5h0m29 12h0m-22 23h0m-38-8h0m-50-10h0m-11-2h0m-8 0h0m-12 0h0m-13 1h0m-1 17h0m-2-8h0m-7-6h0m-6 2h0m-6 4h0m-21-1h0m-1 4h0m-17 10h0m-32-15h0m-11-5h0m-1-1h0m-8 3h0m0 4h0m-18 8h0m-40-15h0m-3 19h0m-2-18h0m-6 15h0m-13-9h0m-26-7h0m-7 19h0m-47-16h0m-49 7h0m-18 6h0m-68-3h0m-3 8h0m-2 0h0m-4-18h0m-38 3h0m-15 9h0m-7-15h0m-28 21h0m-14-14h0m-30 12h0m-23-9h0m-4-11h0m-25 0h0m-61 1h0m41 24h0m17-2h0m33 15h0m5 6h0m1-16h0m3 5h0m24 1h0m14 9h0m11-4h0m22-12h0m32 15h0m19-15h0m5 5h0m6 14h0m4-13h0m10-8h0m15 9h0m5 9h0m6-2h0m27-13h0m38 9h0m18-10h0m5 7h0m14-8h0m13 0h0m4 8h0m36 1h0m6 5h0m4-17h0m7 13h0m2-7h0m10 16h0m2-1h0m6-9h0m9 4h0m11 7h0m15-16h0m0 11h0m15-13h0m23 1h0m31 13h0m8-5h0m21-12h0m20 13h0m13-12h0m3 7h0m2 0h0m17-7h0m17 9h0m0 9h0m13-12h0m2-2h0m1 2h0m18 7h0m65 21h0m-2 5h0m-9-7h0m-36-11h0m-15 19h0m-5-8h0m-7 7h0m-27-3h0m-9-6h0m-12-4h0m-2-3h0m-10 4h0m-2 14h0m-2-18h0m-3 5h0m-10 11h0m-5-3h0m-11 3h0m-46 3h0m-4-9h0m-13 4h0m-26 1h0m-7 1h0m-9-15h0m0 1h0m-7 12h0m-14-1h0m-1-1h0m-12-2h0m-7-9h0m-42 12h0m0-11h0m-4 8h0m-18-6h0m-56-3h0m-12 5h0m-23 12h0m-8-17h0m-12 0h0m-14 19h0m-8-8h0m-7 6h0m-9-13h0m-36-6h0m-14 0h0m-12 10h0m-22-6h0m-13-5h0m-126 20h0m-25 17h0m11-12h0m9 17h0m1 0h0m14-12h0m97 2h0m30-2h0m22-6h0m11 17h0m10-7h0m4-6h0m33 0h0m21-2h0m12 16h0m2 2h0m38-20h0m3 8h0m3 4h0m1-7h0m5 14h0m10-12h0m9-7h0m8 13h0m1-6h0m26 6h0m8 9h0m16-5h0m26 6h0m1-11h0m12 4h0m5-12h0m8 7h0m31-1h0m5 6h0m4-11h0m7-1h0m12 13h0m7-2h0m8 4h0m1-9h0m38-8h0m12 18h0m3-1h0m4-17h0m13 0h0m18 7h0m10-3h0m14 12h0m12-10h0m5 5h0m11-5h0m4 0h0m5 12h0m6-11h0m28 4h0m15-11h0m6 12h0m14 1h0m2 5h0m17 1h0m9-1h0m3-19h0m7 4h0m25 15h0m-2 25h0m-2-20h0m-11 20h0m-6-3h0m-22 2h0m-5-2h0m-4 2h0m-15-14h0m-7-6h0m-11 12h0m-43-3h0m-10 12h0m0-17h0m-13 0h0m-4 16h0m-19-2h0m-1-3h0m-15-12h0m-1-2h0m-20 17h0m-2-4h0m-48 3h0m-13 4h0m-16-5h0m-15-11h0m-4 3h0m-10 5h0m-10 9h0m-13-1h0m0 1h0m-2-4h0m-12-11h0m-45 16h0m-4-22h0m-2 17h0m-4-1h0m-6-5h0m-29 0h0m-40-10h0m-15 11h0m-11 3h0m-12 2h0m-1-16h0m-29 16h0m-5-12h0m-4 14h0m-12-19h0m-26 10h0m-54-5h0m-47 10h0m-4-2h0m-5-7h0m-3 3h0m-4 5h0m-32 6h0m-2-8h0m-10 2h0m-41-2h0m-15 6h0m17 10h0m2 3h0m7 4h0m43-4h0m8 5h0m3 7h0m2-3h0m2-12h0m4 2h0m3 7h0m3-7h0m8 14h0m9-4h0m14-12h0m6 17h0m18-18h0m1 19h0m9-2h0m46-3h0m40-9h0m6-8h0m46 3h0m9 5h0m1 10h0m12-7h0m3 11h0m2-5h0m12-12h0m29 7h0m48-7h0m16 4h0m0-1h0m7-6h0m39 16h0m1-18h0m1 21h0m18-7h0m0 0h0m25 0h0m6 2h0m12 6h0m8-16h0m3-2h0m48 9h0m34-7h0m16 1h0m0-2h0m8-2h0m12 14h0m56-15h0m6 14h0m13 2h0m16-2h0m4-10h0m41 4h0m14 9h0m11-6h0m3 28h0m-17 4h0m-1-18h0m-35 8h0m-1 5h0m-18-2h0m-102-6h0m-22 11h0m-7-18h0m-8 4h0m-22-3h0m-1-3h0m-20 4h0m-1 0h0m-45-4h0m-2 3h0m-5 5h0m-4 3h0m-11 7h0m-25-3h0m-2-1h0m-19-4h0m-61 3h0m-4 5h0m-21-17h0m-20 18h0m-79-18h0m-5 5h0m0-4h0m-38 9h0m-30-11h0m-20 23h0m-6-21h0m-25 4h0m-1-6h0m-1 21h0m-11-2h0m-2-7h0m-5-8h0m-1 8h0m-6 11h0m-13-21h0m-9 12h0m-5 9h0m-10-23h0m-47 12h0m-6 8h0m-22-10h0m-7 13h0m-1-20h0m-2 0h0m-1-3h0m-3 25h0m3 10h0m12-9h0m11-1h0m8 18h0m2-15h0m6 4h0m1 13h0m8-9h0m8-8h0m18 5h0m4 1h0m2 2h0m10 11h0m12-7h0m8-12h0m0 3h0m9-1h0m2 4h0m5 10h0m24-16h0m26 13h0m6-17h0m7 8h0m48 14h0m98-14h0m56-6h0m44 18h0m21-5h0m45-1h0m8 1h0m11-6h0m0-1h0m7-5h0m22 3h0m3 12h0m2 4h0m6 0h0m27-17h0m27 16h0m5-7h0m5 3h0m9-4h0m0 9h0m64 0h0m9-14h0m1 12h0m3-1h0m0 2h0m1-11h0m96 2h0m22-4h0m0 1h0m-21 15h0m-21 20h0m-45-14h0m-14 17h0m-7-18h0m-3 6h0m-44 9h0m-34-16h0m-20 9h0m-1 7h0m-6-10h0m-9-8h0m-2 21h0m-4-2h0m-5 0h0m-11 0h0m-18-20h0m-20 3h0m-10 10h0m-17 5h0m-12-10h0m-6-6h0m-63 0h0m-2 13h0m-27 4h0m-1-3h0m-32-9h0m-56-7h0m-44 2h0m-14 8h0m-2 3h0m-1-8h0m-6 12h0m-19-11h0m-5-1h0m-3 10h0m-27 7h0m-29-10h0m-26 10h0m-6-11h0m-2-9h0m-6 2h0m-6 9h0m-8 8h0m-45-1h0m-1-13h0m-19 11h0m-21-7h0m-21 2h0m-1 4h0m-9 22h0m2-5h0m13 11h0m3-4h0m23-13h0m18 7h0m0 11h0m15-22h0m1 10h0m20 11h0m4-4h0m9-13h0m4 15h0m5-19h0m9 6h0m14 16h0m1-6h0m2-17h0m35 6h0m17 0h0m2-1h0m2-3h0m9 1h0m25 6h0m20 1h0m98-6h0m71-4h0m27 5h0m9 6h0m15 4h0m10-5h0m12-2h0m25-5h0m7-3h0m31 20h0m26-20h0m8 5h0m13 10h0m9 7h0m9-22h0m35 10h0m19 12h0m2-16h0m2 9h0m15 0h0m1-10h0m21-3h0m5 2h0m1 8h0m13 3h0m19-4h0m66 22h0m-1-5h0m-4 13h0m-23-9h0m-41 7h0m-17-12h0m-2 0h0m-3 20h0m-32-19h0m0 5h0m-13 9h0m-11-17h0m-7 18h0m-31 0h0m-5-13h0m-6 10h0m-7-15h0m-8 1h0m-3 11h0m-3-6h0m-36 1h0m-14-6h0m-4 9h0m-10-8h0m-25 7h0m-6 1h0m-18-9h0m-71 0h0m-38 16h0m-42-11h0m0 9h0m-34-12h0m-9 9h0m-16 0h0m-29 9h0m-1-13h0m-96 9h0m-10-7h0m-4-8h0m-12 12h0m-24-4h0m-11 6h0m-2-10h0m-13 15h0m-20-8h0m-12 2h0m-11-7h0m-11 2h0m-8 12h0m-18 20h0m2-12h0m5 7h0m41 5h0m27-5h0m4-12h0m10-1h0m4 10h0m17 7h0m24 5h0m36-15h0m23-3h0m5 4h0m3-7h0m1 16h0m5 4h0m2-5h0m16 4h0m4-16h0m2 14h0m5-13h0m3 12h0m18-2h0m4 7h0m1-14h0m23-1h0m0 4h0m33-8h0m26 17h0m16-1h0m4-9h0m2-11h0m13 8h0m14-8h0m14 14h0m76 2h0m33 3h0m77-12h0m16-2h0m6 10h0m45-4h0m13 11h0m6-1h0m2-11h0m13 12h0m2-13h0m4 1h0m3-9h0m17 11h0m5 9h0m35-19h0m4 20h0m5-13h0m20 14h0m4-12h0m41-7h0m4-2h0" fill="none" stroke="#9a6aa8" stroke-width="16.0" stroke-linecap="round" stroke-opacity="0.7"/><path transform="translate(236 476) scale(.25)" d="M60 19h0m30-19h0m6 23h0m17 0h0m28-21h0m75 5h0m57 16h0m10-3h0m7 2h0m16-14h0m11-1h0m26 9h0m7-3h0m5 4h0m5-13h0m25 5h0m16-9h0m8 5h0m3 18h0m40-17h0m16-6h0m17 1h0m1 11h0m41-1h0m28 11h0m34-13h0m35 1h0m31 13h0m17-10h0m42-7h0m11 11h0m11-4h0m6 0h0m11-1h0m16-12h0m0 4h0m9 14h0m30-12h0m8 12h0m7-11h0m9-3h0m1-2h0m1 17h0m4 25h0m-14-18h0m-47 5h0m-12 16h0m-14-20h0m-51 16h0m-12-18h0m-10 7h0m-7 13h0m-7-16h0m-12 15h0m-3-7h0m-6 0h0m-53 1h0m-6 4h0m-7-1h0m-4 0h0m-3-5h0m-17 2h0m-62-7h0m-11 3h0m-13 3h0m-3 10h0m-39-19h0m-26 11h0m-2 3h0m-8 0h0m-1-17h0m-1 21h0m-14 1h0m-34-18h0m-16 11h0m-6-9h0m-9-7h0m-12 1h0m-100 17h0m-12 3h0m-16-17h0m-17-3h0m-9 5h0m-29 11h0m-29 3h0m-4-7h0m-55 3h0m-7-3h0m-6 19h0m84 13h0m15-15h0m2 6h0m14-8h0m30-1h0m6 19h0m7-2h0m3-18h0m13 17h0m23 3h0m3-1h0m12-14h0m0-5h0m21 3h0m5 8h0m3 7h0m8-8h0m1 3h0m3-5h0m0-5h0m7 8h0m16 10h0m21 0h0m51-22h0m7 0h0m5 21h0m8-1h0m35-1h0m16-18h0m13 18h0m4-1h0m11-7h0m1-10h0m6 8h0m26 10h0m0 1h0m15-4h0m69 5h0m30-20h0m12 2h0m9 16h0m4-13h0m18-5h0m8 11h0m10 8h0m16-5h0m49-6h0m0-8h0m1 4h0m5 1h0m7 9h0m24 7h0m47-20h0m3 20h0m15-3h0m3-6h0m-2 11h0m-1 19h0m-5 1h0m-15-3h0m-15-18h0m-9 19h0m-24-6h0m-2 5h0m-6-11h0m-8 6h0m-89-13h0m-7 18h0m-11 5h0m-2-15h0m0-4h0m-15 5h0m-18-7h0m-28 4h0m-82 14h0m-5-20h0m-11 20h0m-4-14h0m-15 3h0m0 1h0m-4 9h0m-5 3h0m-26-18h0m-16 0h0m-22 8h0m-15-6h0m-51 13h0m-19-16h0m-42 1h0m-11 13h0m-25-17h0m-11 19h0m-1-11h0m-14 13h0m-6-15h0m-7 7h0m-17-9h0m-3-2h0m-6 2h0m-1 15h0m-9-9h0m-5 10h0m-5 1h0m-2-6h0m-12 6h0m-7-6h0m-29 4h0m-64 21h0m75-4h0m16-10h0m37 9h0m9-9h0m25 18h0m0-11h0m3 6h0m16-11h0m0 11h0m44 4h0m1-10h0m5-8h0m23 17h0m41-17h0m0 14h0m8 0h0m20-14h0m3 7h0m6-2h0m39-4h0m14 18h0m8 2h0m6-16h0m8 0h0m2-4h0m25 13h0m6 2h0m1 3h0m38-14h0m9 2h0m62-8h0m8 0h0m18 3h0m1 12h0m9-4h0m8 11h0m2-12h0m10 9h0m1-18h0m11 3h0m5-4h0m14 10h0m0 6h0m4-6h0m6 11h0m81 2h0m33-6h0m21-7h0m11-1h0m17 13h0m1-16h0m-10 36h0m-16-16h0m-20 2h0m-17 17h0m0-14h0m-74 10h0m-4 4h0m-14-15h0m-38 4h0m-13 7h0m-5-8h0m-28 3h0m-10 9h0m-50-15h0m-10-1h0m-17 14h0m-15-2h0m-9-13h0m-57 5h0m-19-4h0m-23 4h0m-19-7h0m-5 21h0m0-21h0m-11-1h0m-7 11h0m-6 1h0m-23 10h0m-2-21h0m-11 19h0m-22-19h0m-12 14h0m-11-11h0m-7-3h0m-5 5h0m-1 5h0m-3-10h0m-23 18h0m-2-11h0m-18-4h0m-7-1h0m-33 17h0m-7 1h0m-2-22h0m-11 14h0m-1-11h0m-7 3h0m-7 2h0m-10 11h0m-8 3h0m-26-1h0m-29-1h0m-29-18h0m-24 40h0m3 1h0m1-15h0m65 1h0m14 14h0m5 4h0m6-6h0m6 1h0m8-10h0m15 0h0m7 9h0m1-15h0m3 11h0m22-11h0m15 3h0m1 4h0m9 7h0m8-13h0m38 8h0m7-4h0m10 1h0m48 10h0m10 1h0m12 4h0m3-23h0m3 7h0m13 8h0m1-2h0m20 7h0m1-18h0m10 3h0m25-2h0m33-2h0m27 9h0m16-1h0m1 0h0m4 6h0m26-5h0m1 10h0m15-8h0m9 2h0m12-5h0m5 14h0m4-19h0m75 12h0m18-9h0m15 11h0m26-2h0m6-4h0m67 1h0m1 1h0m3-4h0m23 8h0m13-17h0m10 10h0m28 15h0m-7 4h0m-30 15h0m-16-11h0m-5-9h0m-2 17h0m-8-15h0m-55 15h0m-27 2h0m-61-15h0m-7 14h0m-70-9h0m-21 6h0m-2-9h0m-1 5h0m-4 6h0m-6-1h0m-29-7h0m-4 3h0m-25 6h0m-26-2h0m-37-8h0m-16 7h0m-27-3h0m-11 5h0m-2-1h0m-11-5h0m-4 9h0m-10-15h0m-21 1h0m-17 11h0m-12 2h0m-20-17h0m-60 12h0m-1-12h0m-7 5h0m-2 8h0m-19 1h0m-9 4h0m-19-4h0m-1-11h0m-24 9h0m-58 1h0m-16 8h0m11 22h0m8-14h0m2 13h0m66-8h0m3 6h0m30-1h0m48 1h0m29-5h0m7 4h0m3-1h0m14 1h0m14-5h0m11-12h0m1 3h0m15 14h0m4-9h0m4-6h0m13 7h0m10 12h0m26-17h0m25 6h0m31 0h0m3-4h0m5 5h0m9 6h0m37-5h0m28-11h0m8-2h0m40 4h0m18-3h0m2 21h0m12-9h0m9 10h0m5-12h0m91 2h0m18-3h0m12-4h0m0-1h0m5 15h0m62 2h0m7-22h0m4 12h0m14 2h0m1-14h0m37 13h0m1 10h0m4-10h0m1-6h0m-13 37h0m-9-17h0m-10 8h0m-9 6h0m-94-10h0m0 14h0m-14-9h0m-14-1h0m-1-7h0m-21 17h0m-3-21h0m-64 15h0m-10-5h0m-11 6h0m-24-6h0m-17-9h0m-31 18h0m-39-10h0m-40-1h0m0-7h0m-31 14h0m-12-12h0m-4 13h0m-10 6h0m-3-17h0m-4 9h0m-12-3h0m-19 5h0m-6-5h0m-24 1h0m-3-9h0m-8 9h0m0-12h0m0 21h0m-13-18h0m-10 2h0m-7 7h0m-14 8h0m-15-7h0m-2-9h0m-16 6h0m-1-6h0m-14 16h0m-29-8h0m-1 8h0m-17-10h0m-3 4h0m0-4h0m-11-6h0m-4 13h0m-4-14h0m-61 10h0m-14 2h0m-4-2h0m-7 1h0m-15 31h0m1-5h0m9-8h0m2-6h0m12 14h0m11 3h0m13-7h0m73-11h0m1-1h0m19 13h0m5-1h0m3 5h0m7 5h0m1-19h0m20-2h0m8 6h0m1-4h0m31 6h0m47 4h0m25-5h0m11 8h0m10-8h0m6 8h0m7 3h0m10-11h0m26 5h0m4-13h0m6 15h0m23-6h0m20 2h0m4-3h0m5-3h0m3 15h0m5-14h0m5 2h0m2 7h0m5-10h0m15 2h0m1-1h0m50 5h0m8-3h0m0-4h0m2 13h0m2-16h0m31 10h0m8 3h0m28-6h0m12-2h0m58 7h0m4 10h0m5-1h0m5-22h0m24 18h0m16-7h0m2-7h0m2 11h0m7-8h0m27-4h0m17 8h0m16 5h0m5-11h0m2-1h0m15 17h0m7-4h0m18-7h0m2 5h0m0 5h0m0 11h0m-1 13h0m0 1h0m-13-16h0m-12-5h0m-5 19h0m-6-8h0m-4-2h0m-44 7h0m-48-5h0m-39 0h0m-4-8h0m-5 7h0m-66 8h0m-2 4h0m-42-5h0m-3-10h0m-27 2h0m-1-9h0m-15 18h0m-13-4h0m-19-9h0m-1-3h0m-13 12h0m-4 2h0m-4-16h0m-3 0h0m-15 8h0m-17 6h0m-9 8h0m-1-5h0m-9-13h0m-5 1h0m-3 1h0m-21-6h0m-1 15h0m-8-1h0m-1-9h0m-19 9h0m-38-10h0m-9 12h0m-18-11h0m-7 16h0m-1-17h0m-18-4h0m-41 22h0m-16-9h0m-8-3h0m-10 11h0m-15-17h0m-5 3h0m-9 8h0m-5-3h0m-3-5h0m-47-4h0m-32 1h0m-2 9h0m-22-9h0m-13 20h0m25 1h0m5 16h0m2-3h0m22-2h0m39-2h0m37-9h0m8 5h0m29 6h0m33-11h0m21 22h0m34-6h0m8-8h0m8 10h0m4 3h0m16-5h0m6 1h0m9-5h0m7-9h0m53 2h0m24 2h0m3 5h0m3 5h0m11-16h0m19 21h0m12-8h0m9-2h0m9-4h0m3-7h0m32 4h0m13 14h0m3-1h0m17-3h0m2-7h0m3 5h0m4 8h0m3-1h0m30-8h0m4-12h0m74 3h0m15 13h0m15-12h0m4 10h0m4-2h0m24-8h0m10 2h0m4 8h0m62 0h0m3 2h0m27 4h0m7-15h0m4 3h0m-1 18h0m-15 1h0m-1 18h0m-8-12h0m-16 8h0m-3 5h0m-1-3h0m-11-17h0m-45-1h0m-10 9h0m-6 10h0m0-2h0m-5 0h0m-4 1h0m-37-19h0m-71-1h0m-3 23h0m-8-18h0m-48 11h0m-2 1h0m-2 4h0m-24-5h0m-5-3h0m-2 0h0m-4 0h0m-3-13h0m-4 9h0m-31-2h0m-39 15h0m-23-10h0m-7 5h0m-14-14h0m-1 10h0m-7 10h0m-3-17h0m-13-2h0m-2 15h0m-12-10h0m-23 10h0m-70-5h0m-15 8h0m-31-14h0m-1-5h0m-37-2h0m-11 17h0m-40-5h0m-54-11h0m-7 11h0m-12-7h0m-22 2h0m-5 9h0m-4-16h0m-7 2h0m-2 8h0m1 21h0m11 4h0m4 5h0m3-10h0m13-4h0m5 11h0m5-7h0m4 2h0m37 7h0m80-7h0m22 5h0m6-10h0m6 7h0m6-7h0m12 2h0m28 16h0m9-16h0m9 15h0m0-15h0m17 9h0m30 6h0m12-20h0m27 6h0m2 2h0m15 11h0m4-11h0m9 4h0m8 0h0m11-4h0m15 9h0m5-17h0m11-1h0m25 13h0m0-2h0m4-5h0m16-4h0m4 3h0m11-4h0m8 19h0m6-13h0m3 15h0m0-5h0m23-17h0m39 4h0m7 0h0m3 14h0m7-18h0m7 5h0m15 8h0m20 6h0m1-3h0m49 6h0m12-21h0m31 8h0m14-2h0m64-6h0m5 17h0m0-11h0m1 7h0m5-2h0m11 8h0m8-1h0m2-17h0m8 34h0m-4 3h0m-2-11h0m-20 14h0m-3-16h0m-2 9h0m-42 2h0m-31-6h0m-9-1h0m-2-3h0m-5 8h0m-22 1h0m-24 2h0m-50 8h0m-13 0h0m-9-20h0m-9 15h0m0 4h0m-5-6h0m-34-6h0m-8 12h0m-8-18h0m-22 20h0m-12-11h0m-10-4h0m-18-3h0m-41 2h0m-3 12h0m-6-11h0m-17 10h0m-15-8h0m-3 1h0m-33-5h0m-4 3h0m-5 11h0m-2-1h0m-23-14h0m-37-5h0m-19 11h0m-6 11h0m0-1h0m-1-1h0m-28-19h0m0-1h0m-3 18h0m-16-16h0m-1 3h0m-4 10h0m-104-14h0m-6 21h0m-4-3h0m-5-2h0m-12-11h0m-9 13h0m-4 4h0m-31-18h0m-1-4h0m-24 9h0m-8 4h0m35 13h0m11 13h0m5-3h0m8-2h0m13-3h0m21-8h0m21 10h0m61 4h0m31 5h0m0-15h0m8-3h0m2 8h0m21 11h0m5-3h0m7-12h0m7 3h0m22-6h0m2 4h0m8 4h0m6-7h0m21-1h0m18 21h0m20 0h0m15 0h0m20-9h0m15 4h0m0 5h0m2-6h0m2 4h0m6-12h0m12 3h0m13-11h0m1 0h0m21 19h0m9-15h0m8 7h0m4-2h0m5-4h0m22 12h0m23-13h0m24 10h0m37 0h0m4-8h0m5 10h0m1-12h0m26 18h0m83-12h0m3-2h0m23 8h0m72-3h0m8-3h0m12-2h0m-63 37h0m-29-10h0m-11-12h0m0 7h0m-73 16h0m-1-14h0m-22 6h0m-30-14h0m-4 5h0m-4-1h0m-4 9h0m-3 1h0m-1-8h0m-2 2h0m-4-7h0m-13 10h0m-20-4h0m-3 15h0m-10-18h0m-35-2h0m-8-1h0m-23 19h0m-13-15h0m-48-4h0m-1 10h0m-32 9h0m-8-11h0m-8 10h0m-17-8h0m-12-8h0m-6-1h0m-2 4h0m-13 4h0m-7 6h0m-13-1h0m-12-4h0m-7 7h0m-7-1h0m-1 3h0m-4-15h0m-35 6h0m-10-8h0m-19 15h0m-25-19h0m-25 13h0m-21-13h0m-36 5h0m-1 10h0m-1-10h0m-7 5h0m-3 12h0m-4-7h0m-15-8h0m-1 8h0m-8-1h0m-26 8h0m-2-6h0m-1 2h0m-15 27h0m1 1h0m13-18h0m27 13h0m1-15h0m5 2h0m0 11h0m5 2h0m17-8h0m10 3h0m1-12h0m0 19h0m12-12h0m91 3h0m39 4h0m46 0h0m8-14h0m19 20h0m33-12h0m20 11h0m45-12h0m25 7h0m4-7h0m41 10h0m12 2h0m1-15h0m0 15h0m8-5h0m19-13h0m19-1h0m10 6h0m27 16h0m7-1h0m9-5h0m16-8h0m1 13h0m6-14h0m10 5h0m16-1h0m4-3h0m13-3h0m16 3h0m12-8h0m4 7h0m29 0h0m14 8h0m36-14h0m2 3h0m66 5h0m8 35h0m-91-15h0m-19-4h0m-58 0h0m-8 20h0m-10-15h0m-2-5h0m-15 3h0m-2 11h0m-10 3h0m-16-7h0m-3-3h0m-1 7h0m-2-3h0m-25-3h0m-5 9h0m0-15h0m-10 13h0m-17 6h0m-2-15h0m-5 10h0m-24 4h0m-4-5h0m-8-10h0m-27 4h0m-9-5h0m-12 7h0m-28 0h0m-30-9h0m-10 5h0m-23-5h0m-11-3h0m0 14h0m-2 3h0m-1-8h0m-16 10h0m-2-10h0m-11-4h0m0 13h0m-17-13h0m-4 6h0m-14-2h0m-18-2h0m-14-4h0m-77-3h0m-2 9h0m-49 5h0m-23-9h0m-4 3h0m-3 10h0m-49-18h0m-17 17h0m-11 4h0m1 4h0m11 19h0m14-5h0m2-13h0m14-2h0m17 14h0m15 5h0m7-16h0m25-3h0m3 9h0m3 12h0m12-2h0m10-13h0m12 10h0m23 3h0m2-3h0m8-12h0m1 11h0m15-4h0m81 3h0m3 1h0m7-15h0m23 14h0m5 0h0m6-9h0m15 7h0m27 11h0m9-19h0m2 12h0m5 5h0m1-8h0m26 9h0m56-19h0m46 1h0m2 12h0m2 3h0m6-13h0m3 12h0m8-11h0m3 15h0m0-12h0m8 0h0m13 11h0m20-15h0m6-6h0m12 4h0m7 17h0m9-17h0m1-2h0m2 13h0m0 0h0m12-2h0m41-4h0m10 6h0m14-5h0m13 12h0m2-2h0m14-13h0m82 3h0m11-5h0m6-5h0m-96 47h0m-59-20h0m-19 5h0m-3-4h0m-5 19h0m-25-20h0m-1 2h0m-32 3h0m-7-4h0m-1 14h0m-6 4h0m-24-14h0m-7 0h0m-1 2h0m-22 11h0m-13-14h0m-15-6h0m-19 8h0m-4 1h0m-6-5h0m-10 10h0m-8-8h0m-4 1h0m-16 4h0m-4 1h0m-10 1h0m-13-9h0m-2-1h0m-2 9h0m-7-8h0m-19 10h0m-2-11h0m-13-4h0m-2 17h0m-9-6h0m-5-4h0m-5-1h0m-3 7h0m-1 1h0m0 3h0m-7-12h0m-7 0h0m-3 0h0m-59 15h0m-36-4h0m-1 5h0m-19-14h0m-15 2h0m-6 7h0m-7-6h0m-39 5h0m-1 5h0m-32-11h0m-22-2h0m-22 12h0m-26 2h0m-6 14h0m9 1h0m17 7h0m5 3h0m2-5h0m30-1h0m5-5h0m29 7h0m8-14h0m15 11h0m28-10h0m7 0h0m51 17h0m6-6h0m26 4h0m56-2h0m15-11h0m11 11h0m8 5h0m1-10h0m5-12h0m7 3h0m8 2h0m3 9h0m4-7h0m40-6h0m0 18h0m7-8h0m1-12h0m6 6h0m10-4h0m3 4h0m9 2h0m5 0h0m4 3h0m29 1h0m14-10h0m35 16h0m4-2h0m7-6h0m2 1h0m23-8h0m17 9h0m11-8h0m13 4h0m12 1h0m10 12h0m7 2h0m2-10h0m13-10h0m5 19h0m2-5h0m2-1h0m12-1h0m2 2h0m25-2h0m4-3h0m23 6h0m0 1h0m2-2h0m28-11h0m6 8h0m35-5h0m29 12h0m-22 23h0m-38-8h0m-50-10h0m-11-2h0m-8 0h0m-12 0h0m-13 1h0m-1 17h0m-2-8h0m-7-6h0m-6 2h0m-6 4h0m-21-1h0m-1 4h0m-17 10h0m-32-15h0m-11-5h0m-1-1h0m-8 3h0m0 4h0m-18 8h0m-40-15h0m-3 19h0m-2-18h0m-6 15h0m-13-9h0m-26-7h0m-7 19h0m-47-16h0m-49 7h0m-18 6h0m-68-3h0m-3 8h0m-2 0h0m-4-18h0m-38 3h0m-15 9h0m-7-15h0m-28 21h0m-14-14h0m-30 12h0m-23-9h0m-4-11h0m-25 0h0m-61 1h0m41 24h0m17-2h0m33 15h0m5 6h0m1-16h0m3 5h0m24 1h0m14 9h0m11-4h0m22-12h0m32 15h0m19-15h0m5 5h0m6 14h0m4-13h0m10-8h0m15 9h0m5 9h0m6-2h0m27-13h0m38 9h0m18-10h0m5 7h0m14-8h0m13 0h0m4 8h0m36 1h0m6 5h0m4-17h0m7 13h0m2-7h0m10 16h0m2-1h0m6-9h0m9 4h0m11 7h0m15-16h0m0 11h0m15-13h0m23 1h0m31 13h0m8-5h0m21-12h0m20 13h0m13-12h0m3 7h0m2 0h0m17-7h0m17 9h0m0 9h0m13-12h0m2-2h0m1 2h0m18 7h0m65 21h0m-2 5h0m-9-7h0m-36-11h0m-15 19h0m-5-8h0m-7 7h0m-27-3h0m-9-6h0m-12-4h0m-2-3h0m-10 4h0m-2 14h0m-2-18h0m-3 5h0m-10 11h0m-5-3h0m-11 3h0m-46 3h0m-4-9h0m-13 4h0m-26 1h0m-7 1h0m-9-15h0m0 1h0m-7 12h0m-14-1h0m-1-1h0m-12-2h0m-7-9h0m-42 12h0m0-11h0m-4 8h0m-18-6h0m-56-3h0m-12 5h0m-23 12h0m-8-17h0m-12 0h0m-14 19h0m-8-8h0m-7 6h0m-9-13h0m-36-6h0m-14 0h0m-12 10h0m-22-6h0m-13-5h0m-126 20h0m-25 17h0m11-12h0m9 17h0m1 0h0m14-12h0m97 2h0m30-2h0m22-6h0m11 17h0m10-7h0m4-6h0m33 0h0m21-2h0m12 16h0m2 2h0m38-20h0m3 8h0m3 4h0m1-7h0m5 14h0m10-12h0m9-7h0m8 13h0m1-6h0m26 6h0m8 9h0m16-5h0m26 6h0m1-11h0m12 4h0m5-12h0m8 7h0m31-1h0m5 6h0m4-11h0m7-1h0m12 13h0m7-2h0m8 4h0m1-9h0m38-8h0m12 18h0m3-1h0m4-17h0m13 0h0m18 7h0m10-3h0m14 12h0m12-10h0m5 5h0m11-5h0m4 0h0m5 12h0m6-11h0m28 4h0m15-11h0m6 12h0m14 1h0m2 5h0m17 1h0m9-1h0m3-19h0m7 4h0m25 15h0m-2 25h0m-2-20h0m-11 20h0m-6-3h0m-22 2h0m-5-2h0m-4 2h0m-15-14h0m-7-6h0m-11 12h0m-43-3h0m-10 12h0m0-17h0m-13 0h0m-4 16h0m-19-2h0m-1-3h0m-15-12h0m-1-2h0m-20 17h0m-2-4h0m-48 3h0m-13 4h0m-16-5h0m-15-11h0m-4 3h0m-10 5h0m-10 9h0m-13-1h0m0 1h0m-2-4h0m-12-11h0m-45 16h0m-4-22h0m-2 17h0m-4-1h0m-6-5h0m-29 0h0m-40-10h0m-15 11h0m-11 3h0m-12 2h0m-1-16h0m-29 16h0m-5-12h0m-4 14h0m-12-19h0m-26 10h0m-54-5h0m-47 10h0m-4-2h0m-5-7h0m-3 3h0m-4 5h0m-32 6h0m-2-8h0m-10 2h0m-41-2h0m-15 6h0m17 10h0m2 3h0m7 4h0m43-4h0m8 5h0m3 7h0m2-3h0m2-12h0m4 2h0m3 7h0m3-7h0m8 14h0m9-4h0m14-12h0m6 17h0m18-18h0m1 19h0m9-2h0m46-3h0m40-9h0m6-8h0m46 3h0m9 5h0m1 10h0m12-7h0m3 11h0m2-5h0m12-12h0m29 7h0m48-7h0m16 4h0m0-1h0m7-6h0m39 16h0m1-18h0m1 21h0m18-7h0m0 0h0m25 0h0m6 2h0m12 6h0m8-16h0m3-2h0m48 9h0m34-7h0m16 1h0m0-2h0m8-2h0m12 14h0m56-15h0m6 14h0m13 2h0m16-2h0m4-10h0m41 4h0m14 9h0m11-6h0m3 28h0m-17 4h0m-1-18h0m-35 8h0m-1 5h0m-18-2h0m-102-6h0m-22 11h0m-7-18h0m-8 4h0m-22-3h0m-1-3h0m-20 4h0m-1 0h0m-45-4h0m-2 3h0m-5 5h0m-4 3h0m-11 7h0m-25-3h0m-2-1h0m-19-4h0m-61 3h0m-4 5h0m-21-17h0m-20 18h0m-79-18h0m-5 5h0m0-4h0m-38 9h0m-30-11h0m-20 23h0m-6-21h0m-25 4h0m-1-6h0m-1 21h0m-11-2h0m-2-7h0m-5-8h0m-1 8h0m-6 11h0m-13-21h0m-9 12h0m-5 9h0m-10-23h0m-47 12h0m-6 8h0m-22-10h0m-7 13h0m-1-20h0m-2 0h0m-1-3h0m-3 25h0m3 10h0m12-9h0m11-1h0m8 18h0m2-15h0m6 4h0m1 13h0m8-9h0m8-8h0m18 5h0m4 1h0m2 2h0m10 11h0m12-7h0m8-12h0m0 3h0m9-1h0m2 4h0m5 10h0m24-16h0m26 13h0m6-17h0m7 8h0m48 14h0m98-14h0m56-6h0m44 18h0m21-5h0m45-1h0m8 1h0m11-6h0m0-1h0m7-5h0m22 3h0m3 12h0m2 4h0m6 0h0m27-17h0m27 16h0m5-7h0m5 3h0m9-4h0m0 9h0m64 0h0m9-14h0m1 12h0m3-1h0m0 2h0m1-11h0m96 2h0m22-4h0m0 1h0m-21 15h0m-21 20h0m-45-14h0m-14 17h0m-7-18h0m-3 6h0m-44 9h0m-34-16h0m-20 9h0m-1 7h0m-6-10h0m-9-8h0m-2 21h0m-4-2h0m-5 0h0m-11 0h0m-18-20h0m-20 3h0m-10 10h0m-17 5h0m-12-10h0m-6-6h0m-63 0h0m-2 13h0m-27 4h0m-1-3h0m-32-9h0m-56-7h0m-44 2h0m-14 8h0m-2 3h0m-1-8h0m-6 12h0m-19-11h0m-5-1h0m-3 10h0m-27 7h0m-29-10h0m-26 10h0m-6-11h0m-2-9h0m-6 2h0m-6 9h0m-8 8h0m-45-1h0m-1-13h0m-19 11h0m-21-7h0m-21 2h0m-1 4h0m-9 22h0m2-5h0m13 11h0m3-4h0m23-13h0m18 7h0m0 11h0m15-22h0m1 10h0m20 11h0m4-4h0m9-13h0m4 15h0m5-19h0m9 6h0m14 16h0m1-6h0m2-17h0m35 6h0m17 0h0m2-1h0m2-3h0m9 1h0m25 6h0m20 1h0m98-6h0m71-4h0m27 5h0m9 6h0m15 4h0m10-5h0m12-2h0m25-5h0m7-3h0m31 20h0m26-20h0m8 5h0m13 10h0m9 7h0m9-22h0m35 10h0m19 12h0m2-16h0m2 9h0m15 0h0m1-10h0m21-3h0m5 2h0m1 8h0m13 3h0m19-4h0m66 22h0m-1-5h0m-4 13h0m-23-9h0m-41 7h0m-17-12h0m-2 0h0m-3 20h0m-32-19h0m0 5h0m-13 9h0m-11-17h0m-7 18h0m-31 0h0m-5-13h0m-6 10h0m-7-15h0m-8 1h0m-3 11h0m-3-6h0m-36 1h0m-14-6h0m-4 9h0m-10-8h0m-25 7h0m-6 1h0m-18-9h0m-71 0h0m-38 16h0m-42-11h0m0 9h0m-34-12h0m-9 9h0m-16 0h0m-29 9h0m-1-13h0m-96 9h0m-10-7h0m-4-8h0m-12 12h0m-24-4h0m-11 6h0m-2-10h0m-13 15h0m-20-8h0m-12 2h0m-11-7h0m-11 2h0m-8 12h0m-18 20h0m2-12h0m5 7h0m41 5h0m27-5h0m4-12h0m10-1h0m4 10h0m17 7h0m24 5h0m36-15h0m23-3h0m5 4h0m3-7h0m1 16h0m5 4h0m2-5h0m16 4h0m4-16h0m2 14h0m5-13h0m3 12h0m18-2h0m4 7h0m1-14h0m23-1h0m0 4h0m33-8h0m26 17h0m16-1h0m4-9h0m2-11h0m13 8h0m14-8h0m14 14h0m76 2h0m33 3h0m77-12h0m16-2h0m6 10h0m45-4h0m13 11h0m6-1h0m2-11h0m13 12h0m2-13h0m4 1h0m3-9h0m17 11h0m5 9h0m35-19h0m4 20h0m5-13h0m20 14h0m4-12h0m41-7h0m4-2h0" fill="none" stroke="#b58fc0" stroke-width="10.4" stroke-linecap="round" stroke-opacity="0.8"/><path transform="translate(236 476) scale(.25)" d="M60 19h0m30-19h0m5 22h0m46-20h0m75 6h0m57 15h0m11-3h0m6 1h0m16-13h0m2 15h0m8-16h0m26 9h0m9-2h0m4 3h0m5-13h0m24 4h0m17-7h0m8 4h0m3 18h0m40-17h0m16-6h0m16 1h0m1 11h0m42-1h0m28 10h0m34-11h0m35 0h0m31 13h0m17-10h0m42-7h0m10 10h0m12-4h0m6 1h0m11-1h0m17-12h0m0 4h0m8 14h0m30-12h0m8 13h0m8-12h0m8-2h0m1-4h0m1 18h0m4 25h0m-13-19h0m-48 6h0m-12 16h0m-14-21h0m-51 16h0m-12-17h0m-10 7h0m-8 13h0m-6-15h0m-12 14h0m-4-7h0m-5 0h0m-53 1h0m-6 4h0m-7 0h0m-4-1h0m-2-5h0m-19 2h0m-62-7h0m-10 3h0m-13 3h0m-2 10h0m-40-19h0m-25 12h0m-3 2h0m-8 0h0m-1-17h0m-1 21h0m-14 1h0m-34-19h0m-16 13h0m-7-11h0m-20-4h0m-100 16h0m-12 2h0m-16-16h0m-17-4h0m-8 6h0m-29 11h0m-1-17h0m-30 20h0m-2-7h0m-56 3h0m-7-2h0m-6 18h0m84 13h0m14-16h0m3 7h0m13-8h0m31 0h0m6 18h0m7-2h0m3-18h0m13 17h0m22 3h0m4-1h0m12-13h0m0-6h0m3 21h0m19-18h0m4 8h0m4 6h0m8-8h0m0 4h0m3-5h0m0-5h0m7 9h0m16 9h0m21 0h0m51-22h0m7 0h0m5 21h0m8-2h0m35-1h0m17-18h0m13 19h0m2-1h0m12-6h0m1-11h0m6 8h0m26 10h0m1 1h0m14-4h0m68 5h0m31-20h0m12 2h0m8 16h0m5-12h0m18-6h0m8 11h0m10 8h0m16-5h0m49-6h0m1-8h0m0 4h0m5 0h0m6 10h0m24 7h0m49-20h0m2 20h0m15-3h0m3-6h0m-2 10h0m-1 20h0m-5 0h0m-16-3h0m-14-17h0m-9 19h0m-24-5h0m-2 4h0m-6-12h0m-8 7h0m-89-13h0m-7 18h0m-11 5h0m-1-20h0m-1 5h0m-15 0h0m-18-6h0m-29 5h0m-81 12h0m-5-19h0m-11 19h0m-4-12h0m-15 3h0m0 0h0m-4 9h0m-5 3h0m-26-17h0m-16-1h0m-22 8h0m-16-6h0m-50 13h0m-19-17h0m-43 1h0m-10 15h0m-36 1h0m-1-11h0m-14 13h0m-6-15h0m-7 6h0m-17-8h0m-3-3h0m-6 3h0m-1 15h0m-9-9h0m-4 11h0m-5 0h0m-3-7h0m-12 7h0m-7-6h0m-29 4h0m-64 22h0m75-4h0m16-10h0m38 9h0m8-11h0m26 18h0m0-10h0m1 6h0m17-11h0m0 11h0m45 4h0m0-10h0m6-8h0m22 17h0m41-17h0m0 14h0m9 1h0m19-15h0m3 7h0m7-1h0m37-5h0m15 17h0m8 3h0m6-16h0m7 0h0m3-4h0m25 13h0m6 1h0m1 4h0m39-14h0m8 3h0m61-8h0m9-1h0m18 3h0m2 12h0m8-4h0m8 11h0m2-12h0m10-8h0m0 17h0m12-15h0m4-4h0m15 9h0m0 8h0m4-6h0m6 10h0m81 2h0m33-6h0m21-7h0m12-1h0m16 13h0m1-16h0m-11 35h0m-15-14h0m-20 0h0m-17 17h0m0-14h0m-74 11h0m-5 4h0m-13-15h0m-38 4h0m-13 6h0m-5-7h0m-27 2h0m-11 10h0m-50-15h0m-10-1h0m-18 14h0m-15-2h0m-8-13h0m-57 5h0m-19-4h0m-23 3h0m-19-5h0m-4 19h0m-1-20h0m-11-1h0m-7 11h0m-6 1h0m-24 10h0m-1-21h0m-11 19h0m-21-18h0m-13 13h0m-12-11h0m-6-4h0m-5 6h0m-1 5h0m-3-10h0m-23 18h0m-2-11h0m-18-4h0m-7-2h0m-32 18h0m-8 1h0m-2-22h0m-11 14h0m-2-11h0m-6 3h0m-7 1h0m-11 12h0m-7 3h0m-26-1h0m-29-1h0m-29-18h0m-24 41h0m4 1h0m1-16h0m63 0h0m15 15h0m5 4h0m6-5h0m7 0h0m7-10h0m15 0h0m8-5h0m0 14h0m2-4h0m23-10h0m15 2h0m1 3h0m10 9h0m8-14h0m37 8h0m7-4h0m10 1h0m48 10h0m11 2h0m13-20h0m4 7h0m13 9h0m1-3h0m20 7h0m1-18h0m9 3h0m26-2h0m33-2h0m27 10h0m15-1h0m2-1h0m4 6h0m26-5h0m1 10h0m15-8h0m9 2h0m12-5h0m5 14h0m5-18h0m74 11h0m19-9h0m14 11h0m26-2h0m6-4h0m67 0h0m1 3h0m4-5h0m22 8h0m12-17h0m11 10h0m28 16h0m-6 3h0m-32 15h0m-8 2h0m-6-12h0m-5-9h0m-3 16h0m-8-15h0m-56 16h0m-26 0h0m-61-14h0m-7 14h0m-71-9h0m-20 6h0m-2-9h0m-1 5h0m-4 6h0m-7 0h0m-28-8h0m-5 2h0m-24 7h0m-26-2h0m-37-7h0m-16 6h0m-26-3h0m-12 6h0m-3-2h0m-10-4h0m-4 9h0m-1-22h0m-9 6h0m-21 1h0m-16 10h0m-13 3h0m-20-17h0m-61 12h0m0-12h0m-8 5h0m-1 8h0m-19 2h0m-9 4h0m-20-17h0m0 12h0m-25-1h0m-57 0h0m-17 7h0m12 23h0m8-14h0m2 13h0m66-8h0m3 5h0m31-1h0m47 2h0m29-5h0m6 3h0m4 0h0m15 1h0m13-5h0m11-12h0m1 3h0m15 15h0m4-10h0m4-6h0m13 7h0m9 12h0m27-18h0m25 7h0m31 0h0m3-5h0m4 6h0m10 6h0m37-5h0m29-11h0m6-2h0m40 4h0m19-3h0m2 22h0m12-10h0m9 10h0m5-13h0m91 2h0m19-2h0m11-4h0m0-1h0m5 15h0m63 2h0m6-22h0m4 12h0m14 3h0m38-1h0m1 8h0m4-16h0m1 7h0m-13 31h0m-10-17h0m-8 8h0m-10 7h0m-94-10h0m0 13h0m-13-9h0m-15-1h0m-1-6h0m-21 16h0m-2-20h0m-65 14h0m-10-5h0m-11 6h0m-24-6h0m-16-9h0m-31 18h0m-41-10h0m-38-1h0m-1-7h0m-31 15h0m-12-14h0m-4 15h0m-11 5h0m-2-17h0m-3 10h0m-13-4h0m-19 6h0m-6-6h0m-24 1h0m-3-9h0m-7 18h0m-1-9h0m0-12h0m-13 3h0m-11 2h0m-6 7h0m-15 8h0m-14-7h0m-3-9h0m-15 6h0m0-6h0m-14 15h0m-30-7h0m-1 8h0m-17-10h0m-2 4h0m-1-4h0m-11-6h0m-4 13h0m-4-14h0m-62 10h0m-12 3h0m-5-3h0m-7 1h0m-15 31h0m1-5h0m9-8h0m3-6h0m12 15h0m9 2h0m14-7h0m73-11h0m1 0h0m20 13h0m5-2h0m1 4h0m8 6h0m1-19h0m20-2h0m8 6h0m1-4h0m31 6h0m47 5h0m25-7h0m12 8h0m8-7h0m7 9h0m7 2h0m10-11h0m27 5h0m2-13h0m7 16h0m23-8h0m20 3h0m4-4h0m5-2h0m3 15h0m5-14h0m5 2h0m2 7h0m4 8h0m1-18h0m15 2h0m1-1h0m49 5h0m9-3h0m0-4h0m3 13h0m2-16h0m29 10h0m10 3h0m27-6h0m12-2h0m58 8h0m5 9h0m5 0h0m4-22h0m24 18h0m16-7h0m2-8h0m3 11h0m6-8h0m28-4h0m15 8h0m18 6h0m3-12h0m3-1h0m14 17h0m8-4h0m18-7h0m2 5h0m0 5h0m1 11h0m-3 12h0m0 2h0m-12-16h0m-11-5h0m-6 18h0m-5-7h0m-5-2h0m-43 7h0m-48-4h0m-39-1h0m-5-7h0m-5 6h0m-66 8h0m-2 4h0m-43-5h0m-2-10h0m-27 2h0m-1-9h0m-15 18h0m-13-4h0m-19-12h0m0 3h0m-14 9h0m-4 2h0m-6-16h0m-16 8h0m-17 6h0m-8 8h0m-2-6h0m-9-13h0m-5 2h0m-3 1h0m-20-6h0m-3 15h0m-7-1h0m-1-9h0m-19 9h0m-37-11h0m-9 12h0m-19-10h0m-7 16h0m-1-17h0m-18-4h0m-41 22h0m-16-9h0m-8-3h0m-10 10h0m-15-16h0m-4 3h0m-10 7h0m-5-3h0m-3-4h0m-47-4h0m-31 2h0m-3 8h0m-21-8h0m-14 18h0m25 2h0m5 16h0m3-3h0m20-2h0m41-1h0m37-10h0m7 4h0m28 6h0m34-10h0m20 22h0m36-6h0m6-7h0m10 10h0m2 2h0m17-6h0m7 3h0m8-6h0m6-9h0m54 1h0m23 3h0m5 6h0m2 4h0m11-16h0m19 21h0m11-8h0m10-3h0m9-2h0m2-8h0m34 4h0m12 14h0m3-1h0m17-4h0m2-6h0m3 5h0m4 8h0m3-1h0m30-8h0m4-12h0m74 3h0m16 12h0m14-12h0m5 11h0m3-2h0m24-9h0m10 3h0m4 9h0m63-2h0m2 4h0m28 2h0m6-14h0m4 3h0m-1 18h0m-14 1h0m-2 18h0m-9-12h0m-15 8h0m-3 2h0m-1 2h0m-11-20h0m-45 1h0m-11 8h0m-5 10h0m0-2h0m-5 0h0m-4 0h0m-36-18h0m-72-1h0m-4 22h0m-6-17h0m-49 11h0m-2 0h0m-2 4h0m-23-4h0m-6-3h0m-2 1h0m-4-2h0m-4-12h0m-3 9h0m-31-2h0m-39 16h0m-23-11h0m-7 5h0m-14-14h0m-1 10h0m-10-6h0m-13-3h0m-2 15h0m-12-10h0m-23 10h0m-70-5h0m-15 8h0m-30-14h0m-1-4h0m-39-3h0m-10 16h0m-40-4h0m-54-11h0m-6 11h0m-14-7h0m-21 1h0m-4 9h0m-4-15h0m-8 2h0m-3 9h0m2 20h0m11 4h0m3 5h0m4-10h0m12-4h0m6 11h0m5-8h0m4 2h0m36 8h0m81-8h0m22 6h0m6-10h0m6 6h0m7-6h0m12 1h0m27 17h0m9-17h0m9 17h0m0-15h0m17 9h0m30 5h0m11-20h0m29 6h0m1 2h0m15 11h0m5-11h0m2-9h0m6 13h0m8 0h0m10-4h0m16 9h0m6-17h0m10-1h0m24 13h0m1-1h0m4-7h0m16-3h0m4 3h0m11-4h0m8 19h0m7-13h0m1 15h0m1-6h0m23-16h0m40 4h0m6 0h0m3 14h0m7-18h0m6 5h0m16 8h0m21 6h0m1-3h0m48 7h0m11-22h0m32 8h0m15-1h0m63-6h0m5 16h0m0-12h0m1 8h0m5-3h0m11 9h0m8-2h0m3-16h0m6 34h0m-3 3h0m-2-11h0m-20 14h0m-3-17h0m-2 9h0m-41 3h0m-33-6h0m-8-1h0m-2-3h0m-5 7h0m-21 3h0m-25 1h0m-50 8h0m-13 0h0m-8-21h0m-10 15h0m0 4h0m-4-5h0m-35-5h0m-9 11h0m-7-18h0m-21 20h0m-13-12h0m-9-4h0m-19-2h0m-42 3h0m-2 11h0m-7-11h0m-16 9h0m-14-6h0m-4 0h0m-32-5h0m-5 3h0m-5 11h0m-2-1h0m-23-14h0m-36-5h0m-20 11h0m-6 11h0m-1-2h0m0 1h0m-28-20h0m0-1h0m-2 18h0m-17-16h0m-1 2h0m-4 10h0m-104-13h0m-6 21h0m-4-3h0m-5-2h0m-12-12h0m-9 15h0m-4 3h0m-31-18h0m-1-5h0m-24 10h0m-8 4h0m35 13h0m11 14h0m5-3h0m8-3h0m13-3h0m21-8h0m21 10h0m61 4h0m31 5h0m0-14h0m8-5h0m2 8h0m21 12h0m5-3h0m7-12h0m7 3h0m22-6h0m2 4h0m7 4h0m7-6h0m21-2h0m18 21h0m20-1h0m15 1h0m20-8h0m15 3h0m0 5h0m1-6h0m3 3h0m6-11h0m11 3h0m14-11h0m0 1h0m22 19h0m8-15h0m10 7h0m3-2h0m5-5h0m22 12h0m23-12h0m24 9h0m36 0h0m5-8h0m5-2h0m0 13h0m27 5h0m83-12h0m3-2h0m13 14h0m10-6h0m72-3h0m8-2h0m12-3h0m-63 38h0m-28-11h0m-12-6h0m-74 17h0m0-15h0m-22 7h0m-30-13h0m-4 4h0m-4-1h0m-5 8h0m-2 2h0m-2-8h0m-1 2h0m-4-7h0m-13 10h0m-20-4h0m-4 15h0m-9-18h0m-34-2h0m-10 0h0m-22 18h0m-14-15h0m-47-4h0m0 10h0m-34 9h0m-7-10h0m-8 9h0m-17-9h0m-12-7h0m-6-1h0m-2 4h0m-13 4h0m-7 6h0m-13-1h0m-10 7h0m-2-10h0m-8 7h0m-6 1h0m0-4h0m-6-11h0m-34 6h0m-10-7h0m-19 14h0m-25-19h0m-25 14h0m-21-14h0m-36 5h0m-1 10h0m-1-10h0m-7 4h0m-3 13h0m-4-7h0m-14-8h0m-2 9h0m-8-2h0m-26 8h0m-1-6h0m-2 1h0m-14 29h0m0 0h0m13-18h0m26 14h0m2-15h0m5 12h0m1-11h0m4 13h0m17-7h0m10 1h0m1-11h0m0 19h0m12-12h0m91 3h0m39 4h0m46 0h0m26 6h0m33-12h0m22 11h0m44-12h0m25 7h0m4-7h0m42 10h0m10 1h0m2 1h0m1-15h0m8 10h0m18-12h0m20-2h0m9 6h0m27 17h0m6-2h0m10-5h0m16-8h0m2 13h0m5-14h0m10 5h0m16-1h0m3-3h0m14-3h0m16 3h0m12-8h0m4 7h0m29 0h0m14 7h0m36-13h0m2 3h0m65 5h0m9 34h0m-91-15h0m-20-3h0m-57 1h0m-8 19h0m-9-15h0m-3-4h0m-16 1h0m-1 13h0m-9 2h0m-18-6h0m-2-4h0m-1 8h0m-2-4h0m-25-2h0m-5 7h0m0-14h0m-10 12h0m-18-8h0m0 14h0m-6-4h0m-24 5h0m-5-6h0m-6-10h0m-29 4h0m-9-5h0m-12 6h0m-27 2h0m-30-9h0m-10 5h0m-23-6h0m-11 11h0m-1 2h0m0-16h0m-2 9h0m-16 9h0m-3-9h0m-10-4h0m0 13h0m-17-14h0m-4 7h0m-14-3h0m-19 0h0m-13-4h0m-77-4h0m-3 8h0m-48 6h0m-23-10h0m-5 4h0m-2 10h0m-48-18h0m-18 18h0m-11 3h0m1 4h0m11 18h0m13-4h0m3-13h0m13-2h0m18 14h0m16 5h0m5-16h0m26-3h0m3 9h0m3 12h0m12-2h0m10-13h0m12 11h0m22 2h0m3-3h0m7-12h0m2 11h0m14-5h0m81 4h0m4 2h0m8-15h0m22 13h0m5 1h0m5-10h0m15 6h0m28 12h0m9-19h0m1 12h0m6 5h0m1-8h0m26 8h0m56-18h0m46 1h0m1 12h0m3 2h0m7-12h0m2 13h0m8-12h0m2 3h0m1 12h0m8-12h0m13 11h0m19-15h0m7-5h0m12 3h0m7 17h0m9-17h0m1-2h0m1 13h0m1 1h0m12-4h0m41-3h0m9 6h0m15-6h0m13 14h0m2-3h0m14-13h0m82 3h0m11-6h0m6-3h0m-96 46h0m-60-20h0m-18 5h0m-3-4h0m-5 19h0m-24-20h0m-2 3h0m-32 3h0m-6-6h0m-2 15h0m-5 4h0m-24-14h0m-8 0h0m0 2h0m-23 11h0m-13-14h0m-15-6h0m-19 8h0m-3 2h0m-7-5h0m-10 10h0m-9-10h0m-3 2h0m-15 4h0m-5 1h0m-10 1h0m-13-9h0m-2-1h0m-2 8h0m-6-7h0m-21 10h0m-1-11h0m-13-4h0m-3 17h0m-8-6h0m-5-5h0m-5-1h0m-3 8h0m0 4h0m-1-3h0m-7-9h0m-7 0h0m-3 0h0m-59 15h0m-36-4h0m-1 5h0m-20-14h0m-14 2h0m-7 7h0m-6-6h0m-39 5h0m-2 5h0m-31-11h0m-22-2h0m-22 12h0m-26 3h0m-6 13h0m9 1h0m17 7h0m5 3h0m2-5h0m29 0h0m6-5h0m29 6h0m8-15h0m14 13h0m28-11h0m8 0h0m52 17h0m5-7h0m26 4h0m56-1h0m14-11h0m12 10h0m9-4h0m5-12h0m6 3h0m9 2h0m4 9h0m3-8h0m39-4h0m1 17h0m7-9h0m1-11h0m6 6h0m10-4h0m3 4h0m9 2h0m4 0h0m6 3h0m28 1h0m15-10h0m34 16h0m3-2h0m7-6h0m4 1h0m22-8h0m17 9h0m12-9h0m11 6h0m13 0h0m10 12h0m6 2h0m4-10h0m11-10h0m6 19h0m2-5h0m2-1h0m12-1h0m2 2h0m25-2h0m4-3h0m23 6h0m0 2h0m2-4h0m27-10h0m7 9h0m34-6h0m30 13h0m-22 22h0m-38-8h0m-49-10h0m-12-2h0m-8 0h0m-12 1h0m-13 1h0m-1 16h0m-2-7h0m-7-7h0m-6 2h0m-6 4h0m-21-1h0m-2 4h0m-16 9h0m-31-15h0m-13-5h0m0 0h0m-7 2h0m-1 5h0m-18 7h0m-40-14h0m-3 19h0m-2-19h0m-6 16h0m-13-10h0m-25-6h0m-8 19h0m-46-16h0m-50 7h0m-10-12h0m-8 19h0m-68-4h0m-3 8h0m-6-19h0m-38 4h0m-15 9h0m-8-15h0m-41 7h0m-30 12h0m-23-9h0m-5-11h0m-25 0h0m-59 1h0m40 25h0m17-2h0m33 14h0m5 7h0m2-17h0m2 5h0m24 1h0m13 8h0m12-3h0m8-16h0m14 4h0m32 16h0m19-16h0m5 5h0m6 14h0m4-13h0m10-8h0m2-2h0m13 12h0m5 8h0m6-1h0m27-15h0m38 9h0m18-10h0m5 9h0m15-9h0m12-1h0m4 10h0m36 0h0m6 5h0m4-17h0m7 12h0m3-6h0m9 16h0m2-1h0m6-9h0m9 4h0m10 7h0m17-17h0m0 12h0m15-13h0m22 1h0m32 13h0m7-5h0m22-11h0m19 11h0m14-11h0m2 7h0m2 1h0m16-8h0m18 9h0m0 9h0m14-12h0m1-2h0m2 1h0m17 8h0m65 21h0m-2 5h0m-9-7h0m-35-11h0m-16 19h0m-5-8h0m-6 7h0m-27-3h0m-10-6h0m-13-4h0m0-3h0m-11 3h0m-1 15h0m-3-18h0m-3 6h0m-11 9h0m-3-2h0m-12 3h0m-46 3h0m-4-9h0m-14 4h0m-25 1h0m-6 1h0m-10-15h0m0 1h0m-7 13h0m-14-2h0m-1-1h0m-11-2h0m-8-8h0m-42 11h0m0-11h0m-4 8h0m-18-6h0m-51 17h0m-5-21h0m-11 5h0m-25 13h0m-7-18h0m-12 1h0m-14 18h0m-7-7h0m-9 6h0m-9-13h0m-34-6h0m-15 0h0m-12 10h0m-22-6h0m-12-5h0m-127 20h0m-25 17h0m11-12h0m10 17h0m0 1h0m14-12h0m97 1h0m30-1h0m22-6h0m11 16h0m11-8h0m3-5h0m33 0h0m21-2h0m12 16h0m2 2h0m38-20h0m3 8h0m3-4h0m0 8h0m7 7h0m9-12h0m17 6h0m1-5h0m26 4h0m9 10h0m16-5h0m25 5h0m1-10h0m12 4h0m6-11h0m7 6h0m31 0h0m5 4h0m4-10h0m8-1h0m11 13h0m6-2h0m8 3h0m2-8h0m38-9h0m12 19h0m3-1h0m4-16h0m13-1h0m18 7h0m10-4h0m14 13h0m13-10h0m5 5h0m10-5h0m5 0h0m5 11h0m5-10h0m28 4h0m15-11h0m6 12h0m14 1h0m2 5h0m17 1h0m9-1h0m3-18h0m7 2h0m25 17h0m-2 24h0m-3-20h0m-10 20h0m-6-3h0m-22 1h0m-5-2h0m-4 3h0m-14-14h0m-9-6h0m-11 13h0m-42-4h0m-9 12h0m0-16h0m-14-1h0m-5 15h0m-18-4h0m-1 3h0m-15-15h0m-1-2h0m-20 18h0m-3-6h0m-47 3h0m-12 5h0m-17-4h0m-15-12h0m-3 3h0m-11 6h0m-10 8h0m-14 0h0m0-1h0m-1-4h0m-12-11h0m-45 17h0m-3-22h0m-3 17h0m-4-2h0m-5-4h0m-29-1h0m-40-9h0m-16 12h0m-11 2h0m-12 2h0m-1-16h0m-28 15h0m-6-11h0m-4 14h0m-12-19h0m-25 10h0m-55-5h0m-48 10h0m-2-1h0m-6-8h0m-3 4h0m-5 3h0m-31 7h0m-2-8h0m-10 2h0m-41-3h0m-15 7h0m17 9h0m3 5h0m6 2h0m43-3h0m8 5h0m3 7h0m2-3h0m2-12h0m4 2h0m3 7h0m3-7h0m8 14h0m9-5h0m14-11h0m6 17h0m18 1h0m0-19h0m10 17h0m46-4h0m40-8h0m6-8h0m45 3h0m9 4h0m2 11h0m12-7h0m2 11h0m3-5h0m12-13h0m29 7h0m48-6h0m15 4h0m2 0h0m6-8h0m39 17h0m1-18h0m1 22h0m18-9h0m1 1h0m23 0h0m7 2h0m13 6h0m7-16h0m3-2h0m49 9h0m33-7h0m16 0h0m0 0h0m9-3h0m12 13h0m56-13h0m5 12h0m12 3h0m17-2h0m4-10h0m41 3h0m14 10h0m11-6h0m3 29h0m-17 3h0m-1-18h0m-35 13h0m0-5h0m-18 3h0m-103-6h0m-22 11h0m-8-18h0m-7 5h0m-23-7h0m0 4h0m-20 0h0m-1 0h0m-45-4h0m-2 2h0m-5 6h0m-4 2h0m-11 8h0m-24-3h0m-2-1h0m-19-4h0m-61 3h0m-5 5h0m-22-17h0m-19 19h0m-79-19h0m-5 5h0m0-4h0m-39 9h0m-28-11h0m-21 23h0m-6-21h0m-24 4h0m-2-6h0m-2 21h0m-10-2h0m-2-7h0m-4-9h0m-1 9h0m-19-10h0m-9 12h0m-6 9h0m-10-23h0m-47 12h0m-6 7h0m-23-10h0m-5 14h0m-2-20h0m-2 0h0m-1-3h0m-2 25h0m2 10h0m12-9h0m11-2h0m8 18h0m2-13h0m6 3h0m1 14h0m8-10h0m8-8h0m18 5h0m3 1h0m3 3h0m10 10h0m12-8h0m7-11h0m2 2h0m8 0h0m2 4h0m1-10h0m4 20h0m25-15h0m25 12h0m6-17h0m8 8h0m47 15h0m98-16h0m56-5h0m44 19h0m21-6h0m45-1h0m8 1h0m10-6h0m1-1h0m7-6h0m23 4h0m2 12h0m2 4h0m7-1h0m26-16h0m27 16h0m4-7h0m6 3h0m8-4h0m1 10h0m64-1h0m8-14h0m2 12h0m3-2h0m0-8h0m0 12h0m97-10h0m21-3h0m0-1h0m-20 17h0m-21 19h0m-45-14h0m-15 17h0m-6-17h0m-4 5h0m-42 9h0m-35-15h0m-21 8h0m-1 7h0m-5-10h0m-9-8h0m-2 21h0m-5-1h0m-5 0h0m-9-2h0m-19-18h0m-21 1h0m-9 11h0m-17 5h0m-12-10h0m-6-6h0m-63 0h0m-2 13h0m-27 4h0m-1-3h0m-32-9h0m-56-7h0m-44 1h0m-14 9h0m-1 3h0m-2-8h0m-5 11h0m-19-10h0m-6-1h0m-2 11h0m-27 6h0m-30-10h0m-26 10h0m-5-12h0m-4-8h0m-5 2h0m-5 9h0m-9 9h0m-45-2h0m-1-13h0m-19 11h0m-20-7h0m-22 2h0m-1 3h0m-9 23h0m2-5h0m13 11h0m4-4h0m23-13h0m16 18h0m1-12h0m14-10h0m1 10h0m22 11h0m2-3h0m10-14h0m4 15h0m6-19h0m8 6h0m14 16h0m0-6h0m4-17h0m33 7h0m18-1h0m3-4h0m0 3h0m10-2h0m26 5h0m20 2h0m97-6h0m71-4h0m27 5h0m8 6h0m16 4h0m9-5h0m14-3h0m24-3h0m7-4h0m31 20h0m26-20h0m8 6h0m13 9h0m10 7h0m8-22h0m35 10h0m20 13h0m2-16h0m1 9h0m15-1h0m1-11h0m21-1h0m5 0h0m1 9h0m13 3h0m19-5h0m67 24h0m-1-6h0m-5 14h0m-23-11h0m-42 9h0m-16-12h0m-2-1h0m-3 20h0m-31-14h0m-1-5h0m-13 15h0m-11-18h0m-7 18h0m-31 1h0m-5-15h0m-7 11h0m-6-14h0m-8 0h0m-3 11h0m-4-7h0m-35 2h0m-14-6h0m-4 9h0m-9-8h0m-26 7h0m-6 0h0m-18-9h0m-71 1h0m-38 16h0m-42-11h0m-1 9h0m-33-13h0m-9 10h0m-16 0h0m-29-4h0m-1 13h0m-96-4h0m-10-7h0m-3-8h0m-12 12h0m-25-4h0m-12 6h0m-1-10h0m-13 15h0m-21-8h0m-11 1h0m-11-6h0m-12 2h0m-7 12h0m-18 20h0m2-11h0m4 7h0m42 4h0m28-5h0m3-11h0m10-1h0m3 10h0m18 6h0m24 5h0m36-15h0m23-2h0m5 3h0m3-8h0m2 18h0m5 2h0m1-4h0m16 3h0m4-15h0m2 14h0m6-13h0m2 12h0m18-2h0m6-7h0m22-1h0m0 4h0m33-7h0m26 16h0m17-1h0m3-9h0m1-11h0m14 8h0m13-8h0m15 15h0m77 1h0m32 3h0m78-13h0m14-1h0m7 9h0m45-3h0m13 11h0m6-2h0m1-10h0m14 12h0m1-13h0m6 1h0m2-9h0m17 12h0m4 9h0m35-20h0m6 20h0m5-13h0m19 14h0m4-11h0m41-9h0m3-1h0m-576 22h0" fill="none" stroke="#5e2d70" stroke-width="4.4" stroke-linecap="round" stroke-opacity="0.85"/><path transform="translate(236 476) scale(.25)" d="M75 3h0m12-1h0m7 20h0m3-9h0m6 0h0m132-4h0m20 10h0m14-10h0m3 1h0m2 8h0m23-8h0m63 8h0m29 5h0m180-1h0m24-2h0m9-7h0m5-3h0m10 7h0m2-1h0m13-5h0m33 10h0m136-15h0m9 12h0m25 18h0m-19 8h0m-32-13h0m-19 4h0m-2-9h0m-34 6h0m-51 9h0m-50-12h0m-47 11h0m0-6h0m-90-9h0m-10-1h0m-16 17h0m-5 1h0m-25-4h0m-14 5h0m-32 0h0m-40-4h0m-16-1h0m-22 9h0m-1-2h0m0-7h0m-94 9h0m-57-18h0m-9 6h0m-9-7h0m-21 1h0m-3 16h0m-42-21h0m14 30h0m1 6h0m27-4h0m30 6h0m19-9h0m10 4h0m21 6h0m6 5h0m24-18h0m11 19h0m63-12h0m1 4h0m86 3h0m45-4h0m6 2h0m47-3h0m98-1h0m151-8h0m17 7h0m16-6h0m34 4h0m16 15h0m14 18h0m-44-5h0m-4 10h0m-24-4h0m-70-3h0m-19-11h0m-31 12h0m-157-6h0m-53 0h0m-61 8h0m-18-11h0m-45 7h0m-3-9h0m-35 15h0m-48-3h0m-2-15h0m-36 8h0m-19 12h0m-8-4h0m-31 5h0m45 8h0m21-4h0m25 19h0m31 1h0m1-15h0m22 9h0m35-14h0m1 3h0m103 14h0m44-12h0m139 5h0m13-4h0m13-2h0m9 5h0m36-10h0m9 11h0m87 9h0m8-20h0m13 8h0m12 4h0m15-3h0m32 25h0m-18 3h0m-26-8h0m-20 3h0m-71 13h0m-12-3h0m-2-14h0m-90 11h0m-88 7h0m-15-23h0m-31 19h0m-43-1h0m-6 1h0m-13 3h0m-35-21h0m-7 7h0m-8 4h0m-109-8h0m-74 16h0m-9-14h0m-80 27h0m10 7h0m36-2h0m7 8h0m42-9h0m31-2h0m5 10h0m7-14h0m0 11h0m2-4h0m20 1h0m30 0h0m17-11h0m26 4h0m42-8h0m63 17h0m22-2h0m14-8h0m5 11h0m33-7h0m46-5h0m92-1h0m11 3h0m171 2h0m16-1h0m2-6h0m1 12h0m1 24h0m-9-12h0m-50 4h0m-15 15h0m-63-2h0m-3-10h0m-25 2h0m-9-6h0m-140 4h0m-21-4h0m-86-4h0m-3 5h0m-37 7h0m-25 4h0m-37-14h0m0 11h0m-3-15h0m-24 16h0m-54-11h0m-13-5h0m-30 20h0m-39-19h0m-38 3h0m-3 7h0m-2 9h0m-92 16h0m7-2h0m5 3h0m75-4h0m85-2h0m6-2h0m54 2h0m67-4h0m23 12h0m6-5h0m124-8h0m172 19h0m2-2h0m8-13h0m60 17h0m68-12h0m1-2h0m11 8h0m26 17h0m-7-7h0m-20 2h0m-71 3h0m-46-3h0m-108 8h0m-13-10h0m-85 20h0m-24-23h0m-13 21h0m-72-16h0m-34-3h0m-15 4h0m-147-3h0m-22 20h0m-83 0h0m-11-4h0m10 8h0m177 14h0m14 6h0m51-4h0m18-4h0m19-11h0m1 6h0m9-5h0m5 14h0m27-10h0m6 8h0m92-8h0m0-4h0m19 8h0m23-3h0m13 2h0m9-10h0m14 15h0m4-11h0m16 15h0m2-16h0m73-5h0m25 0h0m2 3h0m34-3h0m73 4h0m41 7h0m-21 26h0m-98 4h0m-2 1h0m-153-1h0m-17 3h0m-24-4h0m-7 3h0m-24-8h0m-26-5h0m-1 12h0m-34-13h0m-29-5h0m-2 21h0m-5 0h0m-14-4h0m-32-8h0m-13-7h0m-22 6h0m-11 12h0m-14-14h0m-1 8h0m-31-5h0m-26-3h0m-16 7h0m-51-5h0m-14 7h0m-78-15h0m-25 16h0m-14-10h0m23 35h0m118-13h0m129 16h0m133-1h0m25-3h0m10-14h0m2 13h0m114 6h0m135-4h0m7-17h0m77 7h0m13 8h0m9 0h0m5 1h0m11 13h0m-29 0h0m-2 8h0m-62-10h0m-37 7h0m-110 6h0m-14-1h0m-8-1h0m-27 4h0m-28 4h0m-12-7h0m-13-15h0m-4 20h0m-54 1h0m-20-20h0m-75 21h0m-59-4h0m-42 3h0m-3 2h0m-14-10h0m-13-6h0m-31 13h0m-3-10h0m-13-1h0m-128 3h0m-4-8h0m-6 18h0m-11-6h0m3 24h0m17-7h0m39 5h0m28 8h0m88-15h0m29-2h0m3 1h0m63 5h0m2 9h0m19-2h0m3-6h0m17-5h0m13 10h0m32-15h0m44 7h0m1-6h0m6 19h0m3-5h0m13-15h0m35 20h0m33-9h0m91-2h0m23 3h0m4-3h0m103-11h0m2 9h0m94 12h0m16-8h0m7 9h0m3 10h0m-7 0h0m-35-8h0m-78 0h0m-91 7h0m-20 15h0m-49-9h0m-10 9h0m-42 0h0m-1-17h0m-12 16h0m-67-19h0m-23 3h0m-4 17h0m-23-9h0m-53-6h0m-44 0h0m-4 9h0m-16 5h0m-29-17h0m-2 4h0m-19-6h0m-4 5h0m-8-1h0m-85-1h0m-40 10h0m-34 3h0m-33 25h0m53-10h0m31 8h0m146-1h0m42 2h0m0-1h0m77-4h0m21 3h0m4-2h0m1-9h0m20 14h0m3 3h0m13-1h0m18 1h0m96-9h0m2-8h0m88 11h0m7-6h0m6-3h0m11 11h0m75-7h0m15 1h0m2 3h0m103-6h0m-110 16h0m-145 7h0m-11 7h0m-29 6h0m-22-4h0m-12-5h0m-7-2h0m-7 2h0m-41 0h0m-6 8h0m-15-15h0m-6 14h0m-101-2h0m-8-2h0m-32 5h0m-10-16h0m-15 5h0m-32 12h0m-10-9h0m-110 1h0m-28 1h0m-5 4h0m-6-13h0m-10 5h0m-25 2h0m-12 34h0m5-2h0m64-8h0m145 0h0m70 0h0m4 4h0m50-8h0m30 8h0m2-7h0m7-5h0m46 10h0m4-1h0m13 3h0m98-5h0m15 8h0m85-11h0m82-3h0m92 18h0m-6 8h0m-64 12h0m0-2h0m-77-10h0m-107 15h0m-48-20h0m-61 12h0m-2-14h0m-8 18h0m-4-17h0m-35 15h0m-14-3h0m-5-5h0m-23 15h0m-52-20h0m-22 10h0m-14 4h0m-23-5h0m-4-2h0m-83 13h0m-79-6h0m-22-5h0m-37-6h0m-21 5h0m42 33h0m42-14h0m88 6h0m108 1h0m0-6h0m16 3h0m25 12h0m7-7h0m7-9h0m28-5h0m29-1h0m12 6h0m37 16h0m13-22h0m9 10h0m80-2h0m4 4h0m24-3h0m32-9h0m0 11h0m1 2h0m23-12h0m6 7h0m12-6h0m13 15h0m16-1h0m5-10h0m2 8h0m119-8h0m10-3h0m-150 27h0m-3 10h0m-47-15h0m-132 12h0m-18-8h0m-5 1h0m-115-3h0m-6 12h0m-34-9h0m-27 3h0m-103 13h0m-27-15h0m-26 0h0m-2-7h0m-17 13h0m-8-5h0m-30-2h0m-7 9h0m-68-8h0m25 35h0m11-17h0m11-1h0m11 21h0m16-19h0m31 0h0m6 1h0m1 8h0m43-11h0m3 11h0m45-2h0m6-2h0m124 15h0m7-2h0m23-14h0m12 0h0m12 9h0m9-11h0m6-1h0m9 10h0m40 2h0m26 2h0m77 3h0m57-2h0m11 5h0m2-12h0m2-2h0m41-1h0m49 14h0m28 19h0m-30 2h0m-4-16h0m-21 18h0m-99-13h0m-52 11h0m-5-13h0m-101 3h0m-40 13h0m-8-1h0m-2-1h0m-44-4h0m-172 4h0m-12-8h0m-1-1h0m-2 6h0m-10-16h0m-54 6h0m-15-5h0m-4 10h0m-13 3h0m-1-9h0m-22 1h0m47 21h0m35 10h0m27-4h0m0-9h0m13 22h0m13-20h0m7 19h0m4-14h0m59-6h0m29 13h0m209-12h0m9 13h0m37-16h0m142 14h0m26 7h0m7-1h0m58 0h0m-35 25h0m-8-15h0m-54 14h0m-54-4h0m-17-11h0m-81-5h0m-29 22h0m-18-18h0m-2 17h0m-31-5h0m-48 2h0m-15-15h0m-1-3h0m-1 22h0m-13-11h0m-54 10h0m-1-3h0m-28-18h0m-27 4h0m-32 8h0m-72-7h0m43 20h0m34 16h0m6-14h0m7 5h0m6 6h0m6 5h0m18-5h0m4-11h0m5 1h0m22-4h0m21 19h0m5 3h0m2-18h0m5 18h0m23 0h0m22-9h0m14 0h0m2-6h0m25 5h0m22-1h0m32 8h0m3 0h0m23-11h0m112-5h0m58 19h0m92-4h0m16 5h0m8 19h0m-27-13h0m-45 17h0m-28-12h0m-43 12h0m-58-20h0m-19 0h0m-95 4h0m-8 8h0m-4-4h0m-31 2h0m-30-6h0m-14-2h0m-1 14h0m-51-1h0m-20-2h0m0 0h0m-32 4h0m-7-17h0m-37 16h0m-23-10h0m-88 12h0m-18-13h0m-17 6h0m-16 3h0m-18-14h0m-24 20h0m-21 3h0m39 10h0m11-11h0m73 22h0m7-5h0m105-17h0m27 18h0m38-15h0m3 18h0m82-2h0m3-11h0m9 4h0m19 2h0m88-6h0m6-2h0m79-2h0m28 6h0m107 2h0m16-12h0m0 22h0m28-13h0m38-6h0m0 23h0m-19 19h0m-8-4h0m-16-8h0m-4 4h0m-81 2h0m-24-13h0m-9 8h0m-5 12h0m-5-9h0m-13 3h0m-36 0h0m-32-4h0m-49-4h0m-78-1h0m-9 15h0m-10-14h0m-28 13h0m-64-19h0m-18 6h0m-126-6h0m-19 13h0m-13-3h0m-5-4h0m-118 7h0m-7 4h0m-9-12h0m100 28h0m11-1h0m10-9h0m25 13h0m46-8h0m6 6h0m44 9h0m108-21h0m55 2h0m51 9h0m26-8h0m67 8h0m9 1h0m8 2h0m12 4h0m15 5h0m2-6h0m14-13h0m12 16h0m75-17h0m8 12h0m106-7h0m19-1h0m-90 34h0m-30-8h0m-61 8h0m-6-16h0m-30 17h0m-31-12h0m-2 0h0m-3 13h0m-11-19h0m-10 1h0m-8 5h0m-71 15h0m-22-11h0m-8 3h0m-71-9h0m-126 16h0m-58 1h0m-12-1h0m-3-3h0m-30 6h0m-51-6h0m-20-12h0m-52 9h0m-23-10h0m0 31h0m40-1h0m32 12h0m8-14h0m5 9h0m38-12h0m2 18h0m54-11h0m19 5h0m65-11h0m12 12h0m18-13h0m173 10h0m40 6h0m38-1h0m23 1h0m48-2h0m10-11h0m81-5h0m5 12h0m33 6h0m26-15h0m1-3h0m19 16h0m41 26h0m-48-8h0m-8-6h0m-46-6h0m-40 14h0m-32-3h0m-18-10h0m-17 19h0m-19-18h0m-3 1h0m-42 1h0m-3 12h0m-49-17h0m-3 9h0m-131 11h0m-9 3h0m-17-9h0m-28-13h0m-19 16h0m-19-6h0m-24 10h0m-49-4h0m-54 6h0m-8-6h0m-14 6h0m-68-19h0m-27 6h0m-10-10h0m-25 1h0m26 31h0m13-2h0m28-6h0m55 2h0m87 21h0m49-17h0m102 17h0m19-9h0m5-11h0m191-3h0m156 15h0m35 4h0m45-3h0m17-1h0" fill="none" stroke="#f3e2f0" stroke-width="5.2" stroke-linecap="round" stroke-opacity="0.85"/><path transform="translate(236 476) scale(.25)" d="M13 6l4 11m27-18l7 10m83-6l11 4m10 1l11 4m12 2l11 4m-7-4l11 4m340-7l4 11m-36 5l4 11m-479 6l4 11m508-11l4 11m154-7l3 11m1 2l3 11m-702 7l4 11m740 40l2 12m-19-5l2 12m-12-29l2 12m-693 10l4 11m539-2l4 11m-13 22l4 11m11 32l4 11m-484 17l4 11m666-7l2 12m-662 5l6 11m-9-19l4 11m-31 8l4 11m559 2l4 11m-319 6l10-7m-196 18l6 11m520 7l7 10m-488 44l6 11m479-21l7 10m87 10l3 11m-551 41l8 9m30 28l8 9m445-29l7 10m-432 38l8 8m-7 7l8 8m-279 10l11 5m275 12l8 8m-2-4l8 8m-216 50l11 5m109 19l10 7m-38-15l10 7m15 19l10 7m2-17l10 7m9 18l10 7m-27-10l10 7m-55-1l10 7m162 63l11 5m179 44l11 5" fill="none" stroke="#8a4a98" stroke-width="5.2" stroke-linecap="round" stroke-opacity="0.6"/></g><g filter="url(#bl05)"><path d="M371.3 500.6C370.5 499.1 375.6 511.9 377.4 516.0C379.2 520.1 383.1 527.8 382.0 525.2" fill="none" stroke="#fbeef6" stroke-width="2.2" stroke-linecap="round" stroke-linejoin="round" stroke-opacity="0.9"/><path d="M423.6 555.9C422.8 552.4 426.6 570.3 428.2 577.5C429.7 584.6 433.5 602.6 432.8 599.0" fill="none" stroke="#fbeef6" stroke-width="1.8" stroke-linecap="round" stroke-linejoin="round" stroke-opacity="0.9"/><path d="M248.3 506.7L254.4 525.2" fill="none" stroke="#fbeef6" stroke-width="1.8" stroke-linecap="round" stroke-linejoin="round" stroke-opacity="0.9"/><path d="M254.4 477.5C252.4 477.8 260.1 479.1 263.7 479.1C267.3 479.1 277.5 477.8 276.0 477.5" fill="none" stroke="#fbeef6" stroke-width="2.2" stroke-linecap="round" stroke-linejoin="round" stroke-opacity="0.9"/><path d="M352.8 516.0L349.8 537.5" fill="none" stroke="#fbeef6" stroke-width="1.2" stroke-linecap="round" stroke-linejoin="round" stroke-opacity="0.9"/><path d="M242.1 663.6L248.3 669.7" fill="none" stroke="#fbeef6" stroke-width="1.8" stroke-linecap="round" stroke-linejoin="round" stroke-opacity="0.9"/><path d="M266.7 488.3C264.7 488.8 274.9 486.2 279.0 485.2C283.1 484.2 293.4 481.6 291.3 482.1" fill="none" stroke="#fbeef6" stroke-width="1.5" stroke-linecap="round" stroke-linejoin="round" stroke-opacity="0.9"/></g><ellipse cx="302.1" cy="488.3" rx="4.3" ry="4.3" fill="#fbf2f7" fill-opacity="1.0" transform="rotate(0 302.1 488.3)" filter="url(#bl1)"/><ellipse cx="271.4" cy="532.9" rx="3.7" ry="3.7" fill="#fbf2f7" fill-opacity="1.0" transform="rotate(0 271.4 532.9)" filter="url(#bl1)"/><ellipse cx="362.1" cy="619.0" rx="4.3" ry="4.3" fill="#fbf2f7" fill-opacity="1.0" transform="rotate(0 362.1 619.0)" filter="url(#bl1)"/><ellipse cx="386.7" cy="599.0" rx="2.8" ry="2.8" fill="#fbf2f7" fill-opacity="1.0" transform="rotate(0 386.7 599.0)" filter="url(#bl1)"/><ellipse cx="406.6" cy="600.5" rx="2.8" ry="2.8" fill="#fbf2f7" fill-opacity="1.0" transform="rotate(0 406.6 600.5)" filter="url(#bl1)"/><ellipse cx="242.1" cy="611.3" rx="2.5" ry="2.5" fill="#fbf2f7" fill-opacity="1.0" transform="rotate(0 242.1 611.3)" filter="url(#bl1)"/><ellipse cx="265.2" cy="615.9" rx="2.5" ry="2.5" fill="#fbf2f7" fill-opacity="1.0" transform="rotate(0 265.2 615.9)" filter="url(#bl1)"/><ellipse cx="337.5" cy="526.7" rx="2.2" ry="2.2" fill="#fbf2f7" fill-opacity="1.0" transform="rotate(0 337.5 526.7)" filter="url(#bl1)"/><ellipse cx="418.9" cy="511.4" rx="2.2" ry="2.2" fill="#fbf2f7" fill-opacity="1.0" transform="rotate(0 418.9 511.4)" filter="url(#bl1)"/><ellipse cx="408.2" cy="632.8" rx="2.2" ry="2.2" fill="#fbf2f7" fill-opacity="1.0" transform="rotate(0 408.2 632.8)" filter="url(#bl1)"/><ellipse cx="432.8" cy="660.5" rx="1.8" ry="1.8" fill="#fbf2f7" fill-opacity="1.0" transform="rotate(0 432.8 660.5)" filter="url(#bl1)"/><ellipse cx="256.0" cy="499.1" rx="4.6" ry="6.8" fill="#b0306a" fill-opacity="0.8" transform="rotate(0 256.0 499.1)" filter="url(#bl1)"/></g><g clip-path="url(#clP2)"><rect x="468" y="476" width="211" height="210" fill="#dd7499" /><g filter="url(#bl4)"><ellipse cx="652.5" cy="583.6" rx="33.8" ry="73.8" fill="#bd6aa6" fill-opacity="0.42" transform="rotate(0 652.5 583.6)" /><ellipse cx="640.2" cy="512.9" rx="18.4" ry="24.6" fill="#bd6aa6" fill-opacity="0.42" transform="rotate(0 640.2 512.9)" /><ellipse cx="480.3" cy="666.6" rx="24.6" ry="21.5" fill="#bd6aa6" fill-opacity="0.42" transform="rotate(0 480.3 666.6)" /><ellipse cx="492.6" cy="608.2" rx="18.4" ry="27.7" fill="#bd6aa6" fill-opacity="0.42" transform="rotate(0 492.6 608.2)" /><ellipse cx="504.9" cy="552.9" rx="15.4" ry="18.4" fill="#bd6aa6" fill-opacity="0.42" transform="rotate(0 504.9 552.9)" /><ellipse cx="664.8" cy="500.6" rx="18.4" ry="21.5" fill="#bd6aa6" fill-opacity="0.42" transform="rotate(0 664.8 500.6)" /><ellipse cx="560.2" cy="648.2" rx="24.6" ry="24.6" fill="#bd6aa6" fill-opacity="0.42" transform="rotate(0 560.2 648.2)" /><ellipse cx="612.5" cy="660.5" rx="18.4" ry="24.6" fill="#bd6aa6" fill-opacity="0.42" transform="rotate(0 612.5 660.5)" /><ellipse cx="634.0" cy="543.6" rx="12.3" ry="15.4" fill="#bd6aa6" fill-opacity="0.42" transform="rotate(0 634.0 543.6)" /><ellipse cx="658.6" cy="648.2" rx="18.4" ry="24.6" fill="#bd6aa6" fill-opacity="0.42" transform="rotate(0 658.6 648.2)" /></g><rect x="414" y="421" width="320" height="320" filter="url(#s2l)" transform="rotate(-65 573.5 581.0)"/><rect x="414" y="421" width="320" height="320" filter="url(#s2d)" transform="rotate(-65 573.5 581.0)"/><rect x="468" y="476" width="211" height="210" fill="none" filter="url(#t2b)"/><g filter="url(#bl05)"><path transform="translate(468 476) scale(.25)" d="M1 22l4-8m45 7l4-8m16 2l4-8m42 10l4-8m30 11l4-8m3 15l4-8m64 6l4-8m56-8l4-8m0 24l4-8m131 0l4-8m14 10l4-8m19 4l4-8m64-1l4-8m62 26l4-8m14 8l4-8m-2 11l4-8m-4-6l4-8m1 16l4-8m-1-9l4-8m-2 18l4-8m-1 13l4-8m-2 10l4-8m-2 9l4-8m-2-2l4-8m50 8l4-8m39 9l4-8m0 20l4-8m11 4l4-8m16 3l4-8m34 19l4-8m-12 30l4-8m-14 6l4-8m-7 1l4-8m-16 12l4-8m-8-4l4-8m-43 8l4-8m-86 19l4-8m-24 5l4-8m-6 5l4-8m-7 6l4-8m-5 9l4-8m-18 4l4-8m-72 24l4-8m-34 6l4-8m-5 12l4-8m-5-14l4-8m-27 19l4-8m-67 2l4-8m-25 11l4-8m-18 17l4-8m-98-5l4-8m-16 18l4-8m-34-5l4-8m-8 18l4-8m-13 5l4-8m-5 14l4-8m-13 10l4-8m-6-7l4-8m-13 7l4-8m-6 25l4-8m-6-3l4-8m-8 22l4-8m-30-4l4-8m-79 17l4-8m-115 4l4-8m13 32l4-8m7 5l4-8m72 0l4-8m21 13l4-8m-2 5l4-8m69 26l4-8m6-11l4-8m1 17l4-8m2 2l4-8m-1 17l4-8m18 5l4-8m-3 8l4-8m-1 5l4-8m-3 8l4-8m105 7l4-8m2 9l4-8m37 4l4-8m12 8l4-8m35 7l4-8m16 17l4-8m16 1l4-8m9 7l4-8m32 12l4-8m34 4l4-8m23 15l4-8m2 13l4-8m78 12l4-8m15-6l4-8m-1 4l4-8m7 14l4-8m11 10l4-8m3 10l4-8m5 15l4-8m12-1l4-8m-3 16l4-8m14 0l4-8m23 12l4-8m-26 29l4-8m-13-3l4-8m-14 15l4-8m-16 5l4-8m-14 17l4-8m-8 2l4-8m-5 0l4-8m-6 14l4-8m-5 7l4-8m-54 11l4-8m-17 23l4-8m-26-6l4-8m-37 4l4-8m-4 24l4-8m-58 2l4-8m-19 10l4-8m-26 14l4-8m-26 2l4-8m-10 10l4-8m-5 1l4-8m-43 12l4-8m-34 13l4-8m-36 9l4-8m-54-12l4-8m-44 24l4-8m-62 7l4-8m-77-5l4-8m-42 26l4-8m-15 4l4-8m-75-2l4-8m-91 16l4-8m-5 29l4-8m147 15l4-8m11 1l4-8m1-3l4-8m-3 7l4-8m-4 29l4-8m3-9l4-8m0 7l4-8m1 27l4-8m13 6l4-8m-2-1l4-8m-4 13l4-8m87 3l4-8m55 12l4-8m-3-4l4-8m32 18l4-8m13-3l4-8m98 28l4-8m109-5l4-8m4 16l4-8m4 7l4-8m7 2l4-8m15 19l4-8m-2-1l4-8m29 7l4-8m-3 17l4-8m22-3l4-8m-2-1l4-8m57 17l4-8m12 6l4-8m12 5l4-8m-12 33l4-8m-11 13l4-8m-20 16l4-8m-26 11l4-8m-5-7l4-8m-22 6l4-8m-6 13l4-8m-45-1l4-8m-10 9l4-8m-7 24l4-8m-23-5l4-8m-9 26l4-8m-26-2l4-8m-39 7l4-8m-52-4l4-8m-11 20l4-8m-43-2l4-8m-7 18l4-8m-19 11l4-8m-121 4l4-8m-74 15l4-8m-74 10l4-8m-20 1l4-8m-47 8l4-8m-5 18l4-8m-11-15l4-8m-5 18l4-8m-4 1l4-8m-33 24l4-8m-5-9l4-8m-11 29l4-8m-6-8l4-8m-5 2l4-8m-22 29l4-8m-5-7l4-8m-93 31l4-8m71 20l4-8m11 1l4-8m50 1l4-8m41 11l4-8m9 12l4-8m21-2l4-8m-1 13l4-8m-2 24l4-8m-3-6l4-8m-3 8l4-8m3 14l4-8m27 15l4-8m33 8l4-8m8-11l4-8m29 29l4-8m17-3l4-8m15 6l4-8m66 8l4-8m19 11l4-8m-2-5l4-8m11 13l4-8m22 24l4-8m3 6l4-8m54 3l4-8m8 17l4-8m24 5l4-8m57-11l4-8m15 18l4-8m2 10l4-8m-2 15l4-8m5-11l4-8m0 19l4-8m0 0l4-8m5 6l4-8m-3 14l4-8m3 1l4-8m10 13l4-8m8 24l4-8m-37 18l4-8m-46 14l4-8m-8 3l4-8m-42 3l4-8m-4 12l4-8m-18 7l4-8m-21 23l4-8m-9 5l4-8m-19 5l4-8m-23 6l4-8m-6 11l4-8m-41 10l4-8m-24 0l4-8m-12 5l4-8m-15 1l4-8m-9 27l4-8m-10 11l4-8m-9-2l4-8m-5 16l4-8m-6-9l4-8m-5 17l4-8m-11 14l4-8m-6 4l4-8m-28 0l4-8m-30 15l4-8m-7 8l4-8m-13 7l4-8m-11 1l4-8m-15 17l4-8m-14 3l4-8m-7 16l4-8m-6 8l4-8m-76 9l4-8m-89-6l4-8m-7 17l4-8m-13 8l4-8m-13 16l4-8m-8 2l4-8m-11 1l4-8m-19 5l4-8m-10 5l4-8m-5 15l4-8m-4 16l4-8m-70 9l4-8m-10-3l4-8m-5 22l4-8m-49-2l4-8m-75 7l4-8m-36 30l4-8m19 5l4-8m94 25l4-8m7 8l4-8m-1-11l4-8m3 13l4-8m-4 21l4-8m5 7l4-8m-4-13l4-8m-3 28l4-8m12 7l4-8m-2 6l4-8m-3 9l4-8m10-1l4-8m3 4l4-8m26 11l4-8m-2 17l4-8m16 1l4-8m9 10l4-8m-1 15l4-8m50-2l4-8m1 2l4-8m15 11l4-8m8 9l4-8m84 23l4-8m20 4l4-8m4-5l4-8m3 25l4-8m10-14l4-8m-1 30l4-8m-3 3l4-8m31-3l4-8m7 21l4-8m-1 4l4-8m24-1l4-8m1 24l4-8m0-2l4-8m-3 10l4-8m3-3l4-8m30 23l4-8m7-8l4-8m51 13l4-8m8 9l4-8m21 6l4-8m21 5l4-8m6 28l4-8m5-2l4-8m18 0l4-8m3 24l4-8m-1 4l4-8m14 9l4-8m11 18l4-8m-12 11l4-8m-4 16l4-8m-17 1l4-8m-36 3l4-8m-12 11l4-8m-5 25l4-8m-9-11l4-8m-8 26l4-8m-20-7l4-8m-53 11l4-8m-6 12l4-8m-4 7l4-8m-17-1l4-8m-17 10l4-8m-7 13l4-8m-16 6l4-8m-19-1l4-8m-41 18l4-8m-26 7l4-8m-12 6l4-8m-6 20l4-8m-4 2l4-8m-8 10l4-8m-17 8l4-8m-29 11l4-8m-12-6l4-8m-10 23l4-8m-29-8l4-8m-4 7l4-8m-8 12l4-8m-6 6l4-8m-11 6l4-8m-6 6l4-8m-8 20l4-8m-6 17l4-8m-13 4l4-8m-9-1l4-8m-10 5l4-8m-21 6l4-8m-11 20l4-8m-10 1l4-8m-36 13l4-8m-132 7l4-8m-61-1l4-8m-11 19l4-8m-11 10l4-8m-4 14l4-8m-12-11l4-8m-10 27l4-8m-7-11l4-8m-12 15l4-8m-10 1l4-8m-8 26l4-8m-9 3l4-8m-12 14l4-8m-8 1l4-8m-4 7l4-8m-9 16l4-8m-6-11l4-8m-12 15l4-8m-8 4l4-8m-25 2l4-8m-86 28l4-8m25 12l4-8m58 9l4-8m0 13l4-8m-3 19l4-8m5 7l4-8m9-7l4-8m0 12l4-8m0 7l4-8m-1 21l4-8m20-2l4-8m6 14l4-8m-2-1l4-8m6 19l4-8m117-3l4-8m50 18l4-8m42-2l4-8m25 11l4-8m8 10l4-8m28-1l4-8m-1 11l4-8m13 12l4-8m62 2l4-8m61 27l4-8m10-1l4-8m0-1l4-8m1 21l4-8m12 8l4-8m18 15l4-8m49-2l4-8m40-3l4-8m3 10l4-8m18 23l4-8m8 28l4-8m-20 4l4-8m-21 15l4-8m-27 0l4-8m-57 4l4-8m-22 12l4-8m-18 1l4-8m-15 13l4-8m-5 15l4-8m-30 13l4-8m-9 2l4-8m-9 17l4-8m-23 3l4-8m-43-2l4-8m-10 9l4-8m-50 6l4-8m-119 10l4-8m-22 19l4-8m-8 7l4-8m-37 6l4-8m-45 0l4-8m-99 9l4-8m-39 8l4-8m-9 14l4-8m-11 8l4-8m-42-7l4-8m-16 25l4-8m-7 9l4-8m-66 12l4-8m-38 32l4-8m19 4l4-8m0 10l4-8m45 10l4-8m1-13l4-8m28 28l4-8m2-7l4-8m31 2l4-8m-2 27l4-8m36 7l4-8m205-8l4-8m205 6l4-8m2 10l4-8m16 21l4-8m15 8l4-8m15 8l4-8m51 6l4-8m25-1l4-8m3 15l4-8m11-3l4-8m-9 55l4-8m-13-13l4-8m-14 9l4-8m-5 20l4-8m-27 5l4-8m-11 11l4-8m-66 3l4-8m-17 21l4-8m-4-7l4-8m-19 6l4-8m-19 15l4-8m-6 2l4-8m-17 19l4-8m-5-3l4-8m-7 22l4-8m-10 8l4-8m-7 3l4-8m-9 9l4-8m-5 12l4-8m-134-8l4-8m-23 11l4-8m-25 22l4-8m-5 3l4-8m-121 11l4-8m-95 7l4-8m-52 6l4-8m-4 7l4-8m-12-4l4-8m-15 26l4-8m-7 5l4-8m-7 8l4-8m-10-3l4-8m-8 21l4-8m-4-1l4-8m-13 11l4-8m-16 16l4-8m-30-14l4-8m-4 16l4-8m-15 3l4-8m-26 23l4-8m-14-6l4-8m-11 35l4-8m49 13l4-8m16 1l4-8m7 19l4-8m12-9l4-8m15 20l4-8m3 2l4-8m4 14l4-8m-2 16l4-8m4 3l4-8m38-1l4-8m144 5l4-8m1 15l4-8m63 17l4-8m42 7l4-8m8-6l4-8m-3 7l4-8m26 12l4-8m14 7l4-8m31 14l4-8m-3 18l4-8m8-2l4-8m9 19l4-8m1-15l4-8m-3 25l4-8m-3 0l4-8m2 12l4-8m-2 8l4-8m-1 10l4-8m31 15l4-8m52 8l4-8m1 0l4-8m25 1l4-8m0 9l4-8m9 20l4-8m10-9l4-8m15 5l4-8m1 36l4-8m-27 14l4-8m-91 20l4-8m-9-10l4-8m-15 19l4-8m-27 0l4-8m-58 17l4-8m-6-4l4-8m-8 15l4-8m-8-1l4-8m-5 6l4-8m-9 17l4-8m-28 16l4-8m-24 11l4-8m-327-9l4-8m-42 13l4-8m-12 21l4-8m-9 6l4-8m-6-7l4-8m-4 13l4-8m-15 10l4-8m-8 15l4-8m-9-8l4-8m-9 18l4-8m-6 17l4-8m-12 0l4-8m-7 7l4-8m-21 7l4-8m-9 12l4-8m-81 13l4-8m-24 22l4-8m90 3l4-8m26 11l4-8m16 17l4-8m34 4l4-8m54-3l4-8m49 10l4-8m6 21l4-8m28-2l4-8m0 17l4-8m38 12l4-8m193-9l4-8m-2 18l4-8m0 9l4-8m59 0l4-8m0 2l4-8m-1 26l4-8m15 10l4-8m-4 0l4-8m30 12l4-8m17 15l4-8m36-7l4-8m-4 3l4-8m12 20l4-8m1 13l4-8m-2-8l4-8m-46 45l4-8m-25-2l4-8m-31 13l4-8m-16 5l4-8m-21 4l4-8m-5 12l4-8m-32 18l4-8m-43 1l4-8m-9 12l4-8m-4-1l4-8m-14 20l4-8m-10-9l4-8m-43 10l4-8m-133 14l4-8m-31 19l4-8m-5 8l4-8m-60-12l4-8m-23 19l4-8m-52 4l4-8m-8 23l4-8m-27 0l4-8m-49-6l4-8m-19 7l4-8m-15 11l4-8m-15 23l4-8m-7 7l4-8m-22-4l4-8m-16 24l4-8m-9 8l4-8m-23 3l4-8m-33 8l4-8m-28 7l4-8m-17 6l4-8m-61 30l4-8m20-2l4-8m20 12l4-8m11 25l4-8m25-11l4-8m41 15l4-8m0 1l4-8m-1 27l4-8m-4 0l4-8m0 14l4-8m6 3l4-8m4-4l4-8m18 27l4-8m8 1l4-8m3 13l4-8m-1 8l4-8m14-11l4-8m50 17l4-8m-4 16l4-8m112 4l4-8m22-2l4-8m81 18l4-8m6 17l4-8m4 2l4-8m10 14l4-8m-3-15l4-8m-2 31l4-8m-4 4l4-8m-2 0l4-8m9 2l4-8m34 10l4-8m9 13l4-8m94 9l4-8m16 7l4-8m2 9l4-8m-1 18l4-8m36 1l4-8m5 38l4-8m-9-8l4-8m-9 2l4-8m-20 11l4-8m-20 24l4-8m-19-6l4-8m-11 17l4-8m-54-5l4-8m-24 15l4-8m-6 3l4-8m-18 5l4-8m-37 31l4-8m-45 4l4-8m-5 11l4-8m-23-3l4-8m-14 17l4-8m-6 4l4-8m-6-1l4-8m-13 11l4-8m-6-1l4-8m-13 17l4-8m-4 18l4-8m-9 11l4-8m-12-10l4-8m-10 19l4-8m-9 8l4-8m-7 11l4-8m-59-4l4-8m-41 24l4-8m-59-13l4-8m-10 21l4-8m-56-4l4-8m-59 10l4-8m-8 19l4-8m-38 6l4-8m-19 10l4-8m-6 7l4-8m-14-5l4-8m-16 24l4-8m-5-6l4-8m-7 21l4-8m-58-7l4-8m-11 14l4-8m-25 21l4-8m-18 3l4-8m-62 7l4-8m44 23l4-8m55 15l4-8m-3 17l4-8m14-11l4-8m12 25l4-8m3-11l4-8m-1 12l4-8m14 8l4-8m0 24l4-8m37-7l4-8m0 12l4-8m22 11l4-8m1 16l4-8m18 6l4-8m5 5l4-8m9 12l4-8m17 7l4-8m5-5l4-8m16 4l4-8m88 28l4-8m10 9l4-8m2-5l4-8m9 10l4-8m-4 5l4-8m27 21l4-8m-3-5l4-8m-3 11l4-8m16 9l4-8m3 4l4-8m1-1l4-8m-1 16l4-8m-3 10l4-8m-3 12l4-8m2-6l4-8m5 24l4-8m3 14l4-8m4 9l4-8m0-13l4-8m0 26l4-8m-2-8l4-8m-4 7l4-8m0 19l4-8m22 3l4-8m21 19l4-8m1-2l4-8m21 10l4-8m5 14l4-8m21 6l4-8m3 5l4-8m0 2l4-8m1 3l4-8m1 14l4-8m15 19l4-8m7 8l4-8m2-7l4-8m6 26l4-8m56-10l4-8m2 21l4-8m-10 15l4-8m-29 25l4-8m-48 11l4-8m-20-6l4-8m-30 12l4-8m-16-1l4-8m-37 18l4-8m-6 1l4-8m-7 7l4-8m-5 25l4-8m-27 5l4-8m-56-1l4-8m-11 23l4-8m-13-12l4-8m-13 20l4-8m-17-1l4-8m-8 5l4-8m-10 13l4-8m-13 20l4-8m-24 3l4-8m-33 8l4-8m-10-1l4-8m-5 15l4-8m-14 8l4-8m-7 17l4-8m-13-7l4-8m-13 5l4-8m-7 17l4-8m-6-2l4-8m-70 22l4-8m-15-3l4-8m-69 24l4-8m-31-6l4-8m-14 8l4-8m-44 2l4-8m-9 22l4-8m-20-5l4-8m-11 11l4-8m-8 8l4-8m-34 7l4-8m-8 25l4-8m-56-5l4-8m-12 2l4-8m-10 16l4-8m-15 16l4-8m-32-3l4-8m-48 17l4-8m23 26l4-8m1 17l4-8m4-4l4-8m-3 0l4-8m21 9l4-8m5 23l4-8m13-7l4-8m61 15l4-8m30 4l4-8m76 21l4-8m6 9l4-8m142 7l4-8m1-5l4-8m-1 21l4-8m2-7l4-8m-2 14l4-8m0 14l4-8m5 4l4-8m9 21l4-8m2-9l4-8m3 16l4-8m41 3l4-8m9 8l4-8m10 1l4-8m6 10l4-8m62 21l4-8m-2-7l4-8m-1 20l4-8m6 2l4-8m-3 4l4-8m0 7l4-8m0 15l4-8m-4 10l4-8m1 0l4-8m-1 11l4-8m0 18l4-8m0 6l4-8m18-4l4-8m20 9l4-8m18 10l4-8m5 12l4-8m0-1l4-8m14 14l4-8m-4 5l4-8m17 4l4-8m3 10l4-8m5 25l4-8m23 4l4-8m-8 17l4-8m-46 20l4-8m-9-4l4-8m-4 13l4-8m-51 14l4-8m-19 13l4-8m-12-4l4-8m-10 16l4-8m-5 19l4-8m-12 3l4-8m-24-6l4-8m-12 10l4-8m-13 13l4-8m-4 10l4-8m-5 2l4-8m-10 2l4-8m-17 19l4-8m-6 15l4-8m-13-11l4-8m-48 16l4-8m-11 17l4-8m-7 0l4-8m-48 19l4-8m-59 2l4-8m-53 3l4-8m-37 20l4-8m-67-7l4-8m-73 10l4-8m-11 10l4-8m-99 19l4-8m-16-1l4-8m-77 8l4-8m-8 2l4-8m-27 8l4-8m-5 15l4-8m-14 4l4-8m-7 18l4-8m-29 7l4-8m-12 14l4-8m59 25l4-8m8-6l4-8m61 20l4-8m32 6l4-8m75 16l4-8m113 0l4-8m71 3l4-8m59 3l4-8m10 5l4-8m106 8l4-8m0 23l4-8m8 14l4-8m0-10l4-8m21 26l4-8m30 9l4-8m2-1l4-8m-2-1l4-8m11 5l4-8m-1 24l4-8m7-4l4-8m40 13l4-8m10 3l4-8m3 3l4-8m7 42l4-8m-14 13l4-8m-11 8l4-8m-14 10l4-8m-9-4l4-8m-9 11l4-8m-18 13l4-8m-6-3l4-8m-6 17l4-8m-69 12l4-8m-11 2l4-8m-24 11l4-8m-11 13l4-8m-14 5l4-8m-12 2l4-8m-9 12l4-8m-6 5l4-8m-94 15l4-8m-16 10l4-8m-53-2l4-8m-121 3l4-8m-51 20l4-8m-21 9l4-8m-27-5l4-8m-76 19l4-8m-55 12l4-8m-17 12l4-8m-62 7l4-8m-37-7l4-8m-6 25l4-8m-38-2l4-8m-16 39l4-8m49-8l4-8m11 21l4-8m144 5l4-8m29-1l4-8m28 20l4-8m16 13l4-8m0 1l4-8m-4-4l4-8m28 23l4-8m24-2l4-8m22 5l4-8m100 11l4-8m1 15l4-8m-3 14l4-8m1-10l4-8m-2 27l4-8m-3-13l4-8m2 25l4-8m-3-9l4-8m9 15l4-8m120 23l4-8m25-10l4-8m57 20l4-8m-4 1l4-8m6 15l4-8m14 3l4-8m4 5l4-8m17 28l4-8m-19 17l4-8m-13 1l4-8m-23 22l4-8m-18-13l4-8m-18 25l4-8m-79 1l4-8m-25 19l4-8m-48-7l4-8m-15 18l4-8m-17 0l4-8m-13 2l4-8m-48 8l4-8m-6 15l4-8m-8 20l4-8m-5 5l4-8m-10-1l4-8m-6 1l4-8m-7 21l4-8m-33-7l4-8m-43 29l4-8m-31 8l4-8m-16-7l4-8m-47 15l4-8m-7 2l4-8m-17 11l4-8m-37 14l4-8m-11-4l4-8m-11 11l4-8m-12 19l4-8m-13 4l4-8m-36 17l4-8m-79 1l4-8m-22 2l4-8m-74 9l4-8m-64 3l4-8m-37 44l4-8m-1 0l4-8m19 11l4-8m-1 1l4-8m12 14l4-8m-3 6l4-8m10 8l4-8m-2 14l4-8m2 13l4-8m-2 6l4-8m24-3l4-8m25 11l4-8m49 9l4-8m81 1l4-8m20 22l4-8m-2-9l4-8m-2 8l4-8m1 26l4-8m-2 2l4-8m95-3l4-8m-2 24l4-8m6 12l4-8m18 2l4-8m14 13l4-8m17 0l4-8m16 2l4-8m17 7l4-8m13 19l4-8m11-8l4-8m0 12l4-8m-1 5l4-8m-4 6l4-8m0 25l4-8m0 0l4-8m-4 7l4-8m-1 10l4-8m26 14l4-8m0 14l4-8m2-1l4-8m-2 16l4-8m101 1l4-8m-3-4l4-8m35 27l4-8m0-13l4-8m3 15l4-8m0 18l4-8m25 12l4-8m8 22l4-8m-16 17l4-8m-5 10l4-8m-8-12l4-8m-156 21l4-8m-14 0l4-8m-47 4l4-8m-13 20l4-8m-12 10l4-8m-4 1l4-8m-5 20l4-8m-13-4l4-8m-14 10l4-8m-6 1l4-8m-12 8l4-8m-7 4l4-8m-5 14l4-8m-4 9l4-8m-17 13l4-8m-12 16l4-8m-55-9l4-8m-13 13l4-8m-36 8l4-8m-5 11l4-8m-25 3l4-8m-26 7l4-8m-18 24l4-8m-18 0l4-8m-12 2l4-8m-52 13l4-8m-9 16l4-8m-15 2l4-8m-11-3l4-8m-9 24l4-8m-25 9l4-8m-61-1l4-8m-4 7l4-8m-52 17l4-8m-33 3l4-8m-36 1l4-8m-12 22l4-8m-21-3l4-8m-15 3l4-8m-7 6l4-8m-6 17l4-8m-10-4l4-8m-4 21l4-8m-19 10l4-8m-12 11l4-8m-12-7l4-8m-2 46l4-8m7 3l4-8m13 3l4-8m-1 5l4-8m3 8l4-8m-2 10l4-8m11 4l4-8m-2 4l4-8m-1 14l4-8m2 18l4-8m-3-5l4-8m9 25l4-8m0 9l4-8m8-6l4-8m1 23l4-8m5 2l4-8m54 11l4-8m33 7l4-8m13-10l4-8m13 21l4-8m24 1l4-8m0 15l4-8m46 1l4-8m19 2l4-8m4 30l4-8m17-7l4-8m2 14l4-8m18 10l4-8m23 3l4-8m27 16l4-8m5 4l4-8m12-6l4-8m24 15l4-8m8 13l4-8m-3 11l4-8m-2 5l4-8m2-4l4-8m0 26l4-8m9 10l4-8m2-11l4-8m-1 29l4-8m2 1l4-8m-3 9l4-8m-1 10l4-8m14-4l4-8m2 2l4-8m3 12l4-8m5 9l4-8m0 11l4-8m12 16l4-8m64-1l4-8m13 17l4-8m17 15l4-8m10-13l4-8m40 20l4-8m0 17l4-8m-2 1l4-8m16 20l4-8m-6 18l4-8m-6 7l4-8m-5 3l4-8m-31 0l4-8m-16 11l4-8m-22 25l4-8m-57 6l4-8m-59-6l4-8m-19 12l4-8m-23 18l4-8m-28-1l4-8m-14 0l4-8m-21 21l4-8m-16 17l4-8m-7 5l4-8m-5-4l4-8m-6 3l4-8m-6 22l4-8m-9 10l4-8m-10-5l4-8m-19 8l4-8m-9 7l4-8m-37 17l4-8m-25 10l4-8m-9 13l4-8m-11-11l4-8m-5 27l4-8m-19-8l4-8m-22 17l4-8m-5 1l4-8m-11 6l4-8m-37 4l4-8m-10 24l4-8m-7-6l4-8m-40 14l4-8m-27 13l4-8m-41-4l4-8m-9 7l4-8m-6 9l4-8m-54 28l4-8m-48 4l4-8m-27-3l4-8m-9 8l4-8m-20 4l4-8m-29 5l4-8m-35 18l4-8m-5 0l4-8m-23 10l4-8m-16 5l4-8m-5 14l4-8m-4 19l4-8m-21-6l4-8m-11 7l4-8m-6 28l4-8m-7 2l4-8m-6 6l4-8m2 23l4-8m-1 22l4-8m2 8l4-8m-1 1l4-8m5-5l4-8m-3 28l4-8m-3 6l4-8m1 4l4-8m13-5l4-8m0 22l4-8m8-1l4-8m29 11l4-8m10 18l4-8m24-9l4-8m5 20l4-8m4 12l4-8m42 9l4-8m111-11l4-8m6 16l4-8m101 21l4-8m14 8l4-8m8-5l4-8m49 22l4-8m2-6l4-8m13 22l4-8m-3 8l4-8m1 3l4-8m6 8l4-8m-2-2l4-8m-2 8l4-8m-2 10l4-8m7 0l4-8m-2 20l4-8m36 16l4-8m3-13l4-8m28 13l4-8m46 19l4-8m2-1l4-8m34 4l4-8m13 5l4-8m10 12l4-8m1 22l4-8m3 0l4-8m6 9l4-8m-54 37l4-8m-5 0l4-8m-25 1l4-8m-9 12l4-8m-13 20l4-8m-10-8l4-8m-111 29l4-8m-10 1l4-8m-56-4l4-8m-15 5l4-8m-9 20l4-8m-8 14l4-8m-7-1l4-8m-5 11l4-8m-9-1l4-8m-10 25l4-8m-25-7l4-8m-31 23l4-8m-8-4l4-8m-20 13l4-8m-56 15l4-8m-10-4l4-8m-36 11l4-8m-210 18l4-8m-24-1l4-8m-9 4l4-8m-6 13l4-8m-19 13l4-8m-44-6l4-8m-6 13l4-8m-5 21l4-8m-18 5l4-8m-38 12l4-8m-13 1l4-8m-12 14l4-8m18 21l4-8m51 7l4-8m-2-1l4-8m16 15l4-8m17 23l4-8m21 4l4-8m27 11l4-8m23-14l4-8m52 10l4-8m8 19l4-8m13 13l4-8m1-5l4-8m5 15l4-8m162 4l4-8m64 0l4-8m-2 29l4-8m2 1l4-8m-2 17l4-8m1-6l4-8m3 18l4-8m6-10l4-8m89 9l4-8m65 19l4-8" fill="none" stroke="#7a3a8c" stroke-width="6.8" stroke-linecap="round" stroke-opacity="0.8"/></g><ellipse cx="511.0" cy="505.2" rx="10.1" ry="10.1" fill="#9c4f96" fill-opacity="0.75" transform="rotate(0 511.0 505.2)" filter="url(#bl1)"/><ellipse cx="528.0" cy="488.3" rx="8.6" ry="8.6" fill="#9c4f96" fill-opacity="0.75" transform="rotate(0 528.0 488.3)" filter="url(#bl1)"/><ellipse cx="508.0" cy="529.8" rx="11.4" ry="12.5" fill="#9c4f96" fill-opacity="0.75" transform="rotate(0 508.0 529.8)" filter="url(#bl1)"/><ellipse cx="531.0" cy="519.0" rx="9.2" ry="9.2" fill="#9c4f96" fill-opacity="0.75" transform="rotate(0 531.0 519.0)" filter="url(#bl1)"/><ellipse cx="511.0" cy="565.2" rx="10.8" ry="10.8" fill="#9c4f96" fill-opacity="0.75" transform="rotate(0 511.0 565.2)" filter="url(#bl1)"/><ellipse cx="514.1" cy="592.8" rx="12.3" ry="12.9" fill="#9c4f96" fill-opacity="0.75" transform="rotate(0 514.1 592.8)" filter="url(#bl1)"/><ellipse cx="581.8" cy="529.8" rx="11.4" ry="11.4" fill="#9c4f96" fill-opacity="0.75" transform="rotate(0 581.8 529.8)" filter="url(#bl1)"/><ellipse cx="607.9" cy="526.7" rx="10.1" ry="11.2" fill="#9c4f96" fill-opacity="0.75" transform="rotate(0 607.9 526.7)" filter="url(#bl1)"/><ellipse cx="603.3" cy="597.4" rx="12.3" ry="13.5" fill="#9c4f96" fill-opacity="0.75" transform="rotate(0 603.3 597.4)" filter="url(#bl1)"/><ellipse cx="583.3" cy="606.7" rx="9.2" ry="10.1" fill="#9c4f96" fill-opacity="0.75" transform="rotate(0 583.3 606.7)" filter="url(#bl1)"/><ellipse cx="626.3" cy="563.6" rx="8.3" ry="8.3" fill="#9c4f96" fill-opacity="0.75" transform="rotate(0 626.3 563.6)" filter="url(#bl1)"/><ellipse cx="672.5" cy="534.4" rx="8.3" ry="8.3" fill="#9c4f96" fill-opacity="0.75" transform="rotate(0 672.5 534.4)" filter="url(#bl1)"/><ellipse cx="477.2" cy="655.9" rx="13.8" ry="12.5" fill="#9c4f96" fill-opacity="0.75" transform="rotate(0 477.2 655.9)" filter="url(#bl1)"/><ellipse cx="476.6" cy="669.7" rx="8.9" ry="8.9" fill="#9c4f96" fill-opacity="0.75" transform="rotate(0 476.6 669.7)" filter="url(#bl1)"/><ellipse cx="534.1" cy="657.4" rx="7.7" ry="7.7" fill="#9c4f96" fill-opacity="0.75" transform="rotate(0 534.1 657.4)" filter="url(#bl1)"/><ellipse cx="624.8" cy="477.5" rx="8.6" ry="8.6" fill="#9c4f96" fill-opacity="0.75" transform="rotate(0 624.8 477.5)" filter="url(#bl1)"/><ellipse cx="583.3" cy="672.8" rx="7.7" ry="7.7" fill="#9c4f96" fill-opacity="0.75" transform="rotate(0 583.3 672.8)" filter="url(#bl1)"/><ellipse cx="603.3" cy="657.4" rx="8.3" ry="33.2" fill="#9c4f96" fill-opacity="0.75" transform="rotate(0 603.3 657.4)" filter="url(#bl1)"/><ellipse cx="632.5" cy="611.3" rx="7.4" ry="7.4" fill="#9c4f96" fill-opacity="0.75" transform="rotate(0 632.5 611.3)" filter="url(#bl1)"/><ellipse cx="511.0" cy="505.2" rx="5.5" ry="5.5" fill="#fbeff5" fill-opacity="1.0" transform="rotate(0 511.0 505.2)" filter="url(#bl05)"/><ellipse cx="528.0" cy="488.3" rx="4.0" ry="4.0" fill="#fbeff5" fill-opacity="1.0" transform="rotate(0 528.0 488.3)" filter="url(#bl05)"/><ellipse cx="508.0" cy="529.8" rx="6.8" ry="7.4" fill="#fbeff5" fill-opacity="1.0" transform="rotate(0 508.0 529.8)" filter="url(#bl05)"/><ellipse cx="531.0" cy="519.0" rx="4.6" ry="4.6" fill="#fbeff5" fill-opacity="1.0" transform="rotate(0 531.0 519.0)" filter="url(#bl05)"/><ellipse cx="511.0" cy="565.2" rx="6.1" ry="6.1" fill="#fbeff5" fill-opacity="1.0" transform="rotate(0 511.0 565.2)" filter="url(#bl05)"/><ellipse cx="514.1" cy="592.8" rx="7.7" ry="8.1" fill="#fbeff5" fill-opacity="1.0" transform="rotate(0 514.1 592.8)" filter="url(#bl05)"/><ellipse cx="581.8" cy="529.8" rx="6.8" ry="6.8" fill="#fbeff5" fill-opacity="1.0" transform="rotate(0 581.8 529.8)" filter="url(#bl05)"/><ellipse cx="607.9" cy="526.7" rx="5.5" ry="6.1" fill="#fbeff5" fill-opacity="1.0" transform="rotate(0 607.9 526.7)" filter="url(#bl05)"/><ellipse cx="603.3" cy="597.4" rx="7.7" ry="8.5" fill="#fbeff5" fill-opacity="1.0" transform="rotate(0 603.3 597.4)" filter="url(#bl05)"/><ellipse cx="583.3" cy="606.7" rx="4.6" ry="5.1" fill="#fbeff5" fill-opacity="1.0" transform="rotate(0 583.3 606.7)" filter="url(#bl05)"/><ellipse cx="626.3" cy="563.6" rx="3.7" ry="3.7" fill="#fbeff5" fill-opacity="1.0" transform="rotate(0 626.3 563.6)" filter="url(#bl05)"/><ellipse cx="672.5" cy="534.4" rx="3.7" ry="3.7" fill="#fbeff5" fill-opacity="1.0" transform="rotate(0 672.5 534.4)" filter="url(#bl05)"/><ellipse cx="477.2" cy="655.9" rx="9.2" ry="8.3" fill="#fbeff5" fill-opacity="1.0" transform="rotate(0 477.2 655.9)" filter="url(#bl05)"/><ellipse cx="476.6" cy="669.7" rx="4.3" ry="4.3" fill="#fbeff5" fill-opacity="1.0" transform="rotate(0 476.6 669.7)" filter="url(#bl05)"/><ellipse cx="534.1" cy="657.4" rx="3.1" ry="3.1" fill="#fbeff5" fill-opacity="1.0" transform="rotate(0 534.1 657.4)" filter="url(#bl05)"/><ellipse cx="624.8" cy="477.5" rx="4.0" ry="4.0" fill="#fbeff5" fill-opacity="1.0" transform="rotate(0 624.8 477.5)" filter="url(#bl05)"/><ellipse cx="583.3" cy="672.8" rx="3.1" ry="3.1" fill="#fbeff5" fill-opacity="1.0" transform="rotate(0 583.3 672.8)" filter="url(#bl05)"/><ellipse cx="603.3" cy="657.4" rx="3.7" ry="14.8" fill="#fbeff5" fill-opacity="1.0" transform="rotate(0 603.3 657.4)" filter="url(#bl05)"/><ellipse cx="632.5" cy="611.3" rx="2.8" ry="2.8" fill="#fbeff5" fill-opacity="1.0" transform="rotate(0 632.5 611.3)" filter="url(#bl05)"/><ellipse cx="604.8" cy="597.4" rx="3.1" ry="4.3" fill="#b4304f" fill-opacity="0.8" transform="rotate(0 604.8 597.4)" /></g><g clip-path="url(#clP3)"><rect x="5" y="709" width="210" height="210" fill="#e06a8f" /><rect x="-50" y="654" width="320" height="320" filter="url(#s3l)" transform="rotate(-25 110.0 814.0)"/><rect x="-50" y="654" width="320" height="320" filter="url(#s3d)" transform="rotate(-25 110.0 814.0)"/><rect x="5" y="709" width="210" height="210" fill="none" filter="url(#t3b)"/><g filter="url(#bl05)"><path transform="translate(5 709) scale(.25)" d="M92 17l7-3m1-1l7-3m17 14l7-3m24-18l7-3m26 10l7-3m173 18l7-3m11-17l7-3m29 12l7-3m20 0l7-3m27 11l7-3m-5 2l7-3m-6-12l7-3m40 12l7-3m-3 15l7-3m46 0l7-3m46-10l7-3m69 20l7-3m-193 4l7-3m-68 18l7-3m-12 0l7-3m-90-5l7-3m-90 3l7-3m-125 3l7-3m-142 7l7-3m-14 2l7-3m-26 5l7-3m155 22l7-3m49 21l7-3m26-5l7-3m153 4l7-3m-6-12l7-3m29 15l7-3m93 9l7-3m-3-8l7-3m-2 4l7-3m167 26l7-3m-12 1l7-3m-321 20l7-3m-33 3l7-3m-14-3l7-3m-132 4l7-3m-67-10l7-3m-41 7l7-3m-13 19l7-3m5 12l7-3m36 4l7-3m-3 10l7-3m-2-14l7-3m1 26l7-3m2-7l7-3m133 6l7-3m-7-9l7-3m158 16l7-3m16-13l7-3m152 24l7-3m12 12l7-3m-23 11l7-3m-171-3l7-3m-12 3l7-3m-33-4l7-3m-105 16l7-3m-16-12l7-3m-27 6l7-3m-241 8l7-3m-9 4l7-3m-10-3l7-3m1 33l7-3m15 15l7-3m9-16l7-3m215 6l7-3m3-2l7-3m104 5l7-3m20 23l7-3m-6-1l7-3m122-3l7-3m60 34l7-3m-13-10l7-3m-12 9l7-3m-8 5l7-3m-20 6l7-3m-174 9l7-3m-63-15l7-3m-31 17l7-3m-42-14l7-3m-210 4l7-3m-23 13l7-3m-15 6l7-3m-49-13l7-3m-27 20l7-3m-11-7l7-3m-2 36l7-3m16 6l7-3m237 1l7-3m-5 3l7-3m48-5l7-3m10 14l7-3m40-5l7-3m-2-7l7-3m7 7l7-3m31 5l7-3m37 8l7-3m9-3l7-3m19-3l7-3m57 8l7-3m31 6l7-3m-95 19l7-3m-50 15l7-3m-15 0l7-3m-76-4l7-3m-41 15l7-3m-31-2l7-3m-58 13l7-3m-9 5l7-3m-58-14l7-3m-233 8l7-3m-19-1l7-3m-44 43l7-3m317-1l7-3m56-15l7-3m17 21l7-3m27 4l7-3m9-5l7-3m14 10l7-3m-2 2l7-3m4 2l7-3m1 5l7-3m-1 1l7-3m11 13l7-3m-9 3l7-3m-46 17l7-3m-26 8l7-3m-36 0l7-3m-30 8l7-3m-39-4l7-3m-283 8l7-3m-11-1l7-3m-42-6l7-3m-11 17l7-3m-236 21l7-3m22-2l7-3m224 0l7-3m287 14l7-3m0-4l7-3m18 12l7-3m16 3l7-3m14 5l7-3m7-16l7-3m8 2l7-3m132 13l7-3m-154 18l7-3m-16 17l7-3m-105-5l7-3m-255 6l7-3m-10 9l7-3m-315 28l7-3m18-17l7-3m5 9l7-3m267 18l7-3m193-2l7-3m43-5l7-3m-6 5l7-3m1 2l7-3m86 9l7-3m-383 24l7-3m-250 12l7-3m17 13l7-3m-4 2l7-3m5 20l7-3m54-10l7-3m30 8l7-3m21 8l7-3m457 9l7-3m-162 9l7-3m-16 15l7-3m-25 0l7-3m-16-14l7-3m-14 6l7-3m-61 23l7-3m-172-11l7-3m-32 11l7-3m-161 9l7-3m136 7l7-3m10 12l7-3m37-5l7-3m3 4l7-3m69 3l7-3m96 5l7-3m36 17l7-3m163-12l7-3m-2 7l7-3m115 35l7-3m-18-10l7-3m-90 5l7-3m-56 10l7-3m-13 6l7-3m-154 6l7-3m-21 2l7-3m-94-4l7-3m-27-7l7-3m-10 11l7-3m-72-5l7-3m-76 14l7-3m-38 27l7-3m19-1l7-3m-4-3l7-3m25 9l7-3m57-6l7-3m3 13l7-3m0 15l7-3m82-1l7-3m12 8l7-3m198-19l7-3m25 17l7-3m35-4l7-3m4 5l7-3m0-4l7-3m-32 33l7-3m-10 10l7-3m-214-2l7-3m-114 3l7-3m-8-2l7-3m-32 20l7-3m-31-2l7-3m-19 8l7-3m-383-3l7-3m37 22l7-3m304-5l7-3m30 10l7-3m51-6l7-3m-1 19l7-3m59-1l7-3m204-4l7-3m-4 10l7-3m-5 3l7-3m-6 17l7-3m-9 18l7-3m-247-8l7-3m-22 14l7-3m-67-10l7-3m-299 43l7-3m209-5l7-3m3 1l7-3m19 4l7-3m20-6l7-3m70 10l7-3m242-2l7-3m84 40l7-3m-41-11l7-3m-45 4l7-3m-17 10l7-3m-12-3l7-3m-238 17l7-3m-167-17l7-3m-10 19l7-3m-18 2l7-3m-33 23l7-3m17 10l7-3m3 1l7-3m23-1l7-3m0-7l7-3m116 20l7-3m205-16l7-3m67 40l7-3m-10 1l7-3m-38 14l7-3m-44-7l7-3m-231-8l7-3m-14 20l7-3m-403 26l7-3m11-5l7-3m3 13l7-3m241-12l7-3m405 14l7-3m28 9l7-3m-2-7l7-3m4-2l7-3m-18 29l7-3m-421 0l7-3m-119 2l7-3m-14 11l7-3m-149 3l7-3m-19 13l7-3m-30-19l7-3m-44 22l7-3m-18 0l7-3m-69 3l7-3m13 23l7-3m2 12l7-3m50 0l7-3m-3-12l7-3m19 16l7-3m24-10l7-3m-2 13l7-3m-7-3l7-3m-6 12l7-3m14 9l7-3m74-1l7-3m8 3l7-3m340-1l7-3m8 2l7-3m32 7l7-3m148-2l7-3m-5 14l7-3m-60 5l7-3m-28 19l7-3m-11 7l7-3m-14 0l7-3m-90-16l7-3m-36 11l7-3m-16 12l7-3m-11-8l7-3m-446 14l7-3m-21 6l7-3m-179-14l7-3m142 32l7-3m-3 16l7-3m1 4l7-3m2 0l7-3m-1-7l7-3m7 16l7-3m110 1l7-3m313-14l7-3m5 14l7-3m128-7l7-3m22 12l7-3m-13 27l7-3m-13-3l7-3m-69 1l7-3m-40 6l7-3m-181-1l7-3m-7 14l7-3m-8-6l7-3m-117 4l7-3m-15 16l7-3m-10 6l7-3m-51-4l7-3m-139-2l7-3m-8 11l7-3m-115 26l7-3m11-12l7-3m54 9l7-3m23 11l7-3m104-2l7-3m-5 8l7-3m34 2l7-3m30 10l7-3m22 0l7-3m2-17l7-3m42 20l7-3m0-3l7-3m16 5l7-3m21 12l7-3m49-19l7-3m-1 26l7-3m72-18l7-3m6 4l7-3m22 6l7-3m9 7l7-3m29 11l7-3" fill="none" stroke="#7a2f86" stroke-width="8.0" stroke-linecap="round" stroke-opacity="0.8"/></g><g filter="url(#dp3)"><ellipse cx="23.4" cy="733.6" rx="20.6" ry="15.7" fill="#f7e3ec" fill-opacity="0.9" transform="rotate(-10 23.4 733.6)" filter="url(#bl1)"/><ellipse cx="23.4" cy="733.6" rx="17.8" ry="12.9" fill="#dcb0cf" fill-opacity="1.0" transform="rotate(-10 23.4 733.6)" filter="url(#bl1)"/><ellipse cx="9.6" cy="759.7" rx="15.1" ry="21.2" fill="#f7e3ec" fill-opacity="0.9" transform="rotate(0 9.6 759.7)" filter="url(#bl1)"/><ellipse cx="9.6" cy="759.7" rx="12.3" ry="18.4" fill="#dcb0cf" fill-opacity="1.0" transform="rotate(0 9.6 759.7)" filter="url(#bl1)"/><ellipse cx="37.3" cy="759.7" rx="16.6" ry="18.8" fill="#f7e3ec" fill-opacity="0.9" transform="rotate(20 37.3 759.7)" filter="url(#bl1)"/><ellipse cx="37.3" cy="759.7" rx="13.8" ry="16.0" fill="#dcb0cf" fill-opacity="1.0" transform="rotate(20 37.3 759.7)" filter="url(#bl1)"/><ellipse cx="100.3" cy="764.3" rx="19.7" ry="24.9" fill="#f7e3ec" fill-opacity="0.9" transform="rotate(25 100.3 764.3)" filter="url(#bl1)"/><ellipse cx="100.3" cy="764.3" rx="16.9" ry="22.1" fill="#dcb0cf" fill-opacity="1.0" transform="rotate(25 100.3 764.3)" filter="url(#bl1)"/><ellipse cx="88.0" cy="730.5" rx="12.0" ry="13.5" fill="#f7e3ec" fill-opacity="0.9" transform="rotate(0 88.0 730.5)" filter="url(#bl1)"/><ellipse cx="88.0" cy="730.5" rx="9.2" ry="10.8" fill="#dcb0cf" fill-opacity="1.0" transform="rotate(0 88.0 730.5)" filter="url(#bl1)"/><ellipse cx="171.0" cy="732.1" rx="16.6" ry="21.8" fill="#f7e3ec" fill-opacity="0.9" transform="rotate(10 171.0 732.1)" filter="url(#bl1)"/><ellipse cx="171.0" cy="732.1" rx="13.8" ry="19.1" fill="#dcb0cf" fill-opacity="1.0" transform="rotate(10 171.0 732.1)" filter="url(#bl1)"/><ellipse cx="206.4" cy="718.2" rx="14.5" ry="15.1" fill="#f7e3ec" fill-opacity="0.9" transform="rotate(0 206.4 718.2)" filter="url(#bl1)"/><ellipse cx="206.4" cy="718.2" rx="11.7" ry="12.3" fill="#dcb0cf" fill-opacity="1.0" transform="rotate(0 206.4 718.2)" filter="url(#bl1)"/><ellipse cx="209.5" cy="738.2" rx="10.5" ry="10.5" fill="#f7e3ec" fill-opacity="0.9" transform="rotate(0 209.5 738.2)" filter="url(#bl1)"/><ellipse cx="209.5" cy="738.2" rx="7.7" ry="7.7" fill="#dcb0cf" fill-opacity="1.0" transform="rotate(0 209.5 738.2)" filter="url(#bl1)"/><ellipse cx="43.4" cy="790.5" rx="21.8" ry="15.7" fill="#f7e3ec" fill-opacity="0.9" transform="rotate(-5 43.4 790.5)" filter="url(#bl1)"/><ellipse cx="43.4" cy="790.5" rx="19.1" ry="12.9" fill="#dcb0cf" fill-opacity="1.0" transform="rotate(-5 43.4 790.5)" filter="url(#bl1)"/><ellipse cx="68.0" cy="796.6" rx="12.0" ry="13.5" fill="#f7e3ec" fill-opacity="0.9" transform="rotate(0 68.0 796.6)" filter="url(#bl1)"/><ellipse cx="68.0" cy="796.6" rx="9.2" ry="10.8" fill="#dcb0cf" fill-opacity="1.0" transform="rotate(0 68.0 796.6)" filter="url(#bl1)"/><ellipse cx="115.7" cy="790.5" rx="21.8" ry="15.7" fill="#f7e3ec" fill-opacity="0.9" transform="rotate(-20 115.7 790.5)" filter="url(#bl1)"/><ellipse cx="115.7" cy="790.5" rx="19.1" ry="12.9" fill="#dcb0cf" fill-opacity="1.0" transform="rotate(-20 115.7 790.5)" filter="url(#bl1)"/><ellipse cx="11.1" cy="819.7" rx="13.5" ry="18.1" fill="#f7e3ec" fill-opacity="0.9" transform="rotate(0 11.1 819.7)" filter="url(#bl1)"/><ellipse cx="11.1" cy="819.7" rx="10.8" ry="15.4" fill="#dcb0cf" fill-opacity="1.0" transform="rotate(0 11.1 819.7)" filter="url(#bl1)"/><ellipse cx="41.9" cy="835.1" rx="21.8" ry="20.6" fill="#f7e3ec" fill-opacity="0.9" transform="rotate(0 41.9 835.1)" filter="url(#bl1)"/><ellipse cx="41.9" cy="835.1" rx="19.1" ry="17.8" fill="#dcb0cf" fill-opacity="1.0" transform="rotate(0 41.9 835.1)" filter="url(#bl1)"/><ellipse cx="77.3" cy="850.4" rx="15.1" ry="16.6" fill="#f7e3ec" fill-opacity="0.9" transform="rotate(0 77.3 850.4)" filter="url(#bl1)"/><ellipse cx="77.3" cy="850.4" rx="12.3" ry="13.8" fill="#dcb0cf" fill-opacity="1.0" transform="rotate(0 77.3 850.4)" filter="url(#bl1)"/><ellipse cx="17.3" cy="865.8" rx="17.5" ry="20.6" fill="#f7e3ec" fill-opacity="0.9" transform="rotate(10 17.3 865.8)" filter="url(#bl1)"/><ellipse cx="17.3" cy="865.8" rx="14.8" ry="17.8" fill="#dcb0cf" fill-opacity="1.0" transform="rotate(10 17.3 865.8)" filter="url(#bl1)"/><ellipse cx="61.9" cy="872.0" rx="21.8" ry="20.6" fill="#f7e3ec" fill-opacity="0.9" transform="rotate(-10 61.9 872.0)" filter="url(#bl1)"/><ellipse cx="61.9" cy="872.0" rx="19.1" ry="17.8" fill="#dcb0cf" fill-opacity="1.0" transform="rotate(-10 61.9 872.0)" filter="url(#bl1)"/><ellipse cx="157.2" cy="816.6" rx="17.5" ry="18.8" fill="#f7e3ec" fill-opacity="0.9" transform="rotate(0 157.2 816.6)" filter="url(#bl1)"/><ellipse cx="157.2" cy="816.6" rx="14.8" ry="16.0" fill="#dcb0cf" fill-opacity="1.0" transform="rotate(0 157.2 816.6)" filter="url(#bl1)"/><ellipse cx="161.8" cy="859.7" rx="23.7" ry="32.0" fill="#f7e3ec" fill-opacity="0.9" transform="rotate(5 161.8 859.7)" filter="url(#bl1)"/><ellipse cx="161.8" cy="859.7" rx="20.9" ry="29.2" fill="#dcb0cf" fill-opacity="1.0" transform="rotate(5 161.8 859.7)" filter="url(#bl1)"/><ellipse cx="195.6" cy="801.2" rx="18.8" ry="24.9" fill="#f7e3ec" fill-opacity="0.9" transform="rotate(-10 195.6 801.2)" filter="url(#bl1)"/><ellipse cx="195.6" cy="801.2" rx="16.0" ry="22.1" fill="#dcb0cf" fill-opacity="1.0" transform="rotate(-10 195.6 801.2)" filter="url(#bl1)"/><ellipse cx="204.9" cy="772.0" rx="10.5" ry="12.0" fill="#f7e3ec" fill-opacity="0.9" transform="rotate(0 204.9 772.0)" filter="url(#bl1)"/><ellipse cx="204.9" cy="772.0" rx="7.7" ry="9.2" fill="#dcb0cf" fill-opacity="1.0" transform="rotate(0 204.9 772.0)" filter="url(#bl1)"/><ellipse cx="94.2" cy="896.6" rx="14.5" ry="12.6" fill="#f7e3ec" fill-opacity="0.9" transform="rotate(0 94.2 896.6)" filter="url(#bl1)"/><ellipse cx="94.2" cy="896.6" rx="11.7" ry="9.8" fill="#dcb0cf" fill-opacity="1.0" transform="rotate(0 94.2 896.6)" filter="url(#bl1)"/><ellipse cx="128.0" cy="893.5" rx="23.7" ry="14.5" fill="#f7e3ec" fill-opacity="0.9" transform="rotate(-5 128.0 893.5)" filter="url(#bl1)"/><ellipse cx="128.0" cy="893.5" rx="20.9" ry="11.7" fill="#dcb0cf" fill-opacity="1.0" transform="rotate(-5 128.0 893.5)" filter="url(#bl1)"/><ellipse cx="114.2" cy="872.0" rx="12.0" ry="10.5" fill="#f7e3ec" fill-opacity="0.9" transform="rotate(0 114.2 872.0)" filter="url(#bl1)"/><ellipse cx="114.2" cy="872.0" rx="9.2" ry="7.7" fill="#dcb0cf" fill-opacity="1.0" transform="rotate(0 114.2 872.0)" filter="url(#bl1)"/><ellipse cx="17.3" cy="908.9" rx="16.6" ry="13.5" fill="#f7e3ec" fill-opacity="0.9" transform="rotate(0 17.3 908.9)" filter="url(#bl1)"/><ellipse cx="17.3" cy="908.9" rx="13.8" ry="10.8" fill="#dcb0cf" fill-opacity="1.0" transform="rotate(0 17.3 908.9)" filter="url(#bl1)"/><ellipse cx="186.4" cy="887.3" rx="12.0" ry="12.0" fill="#f7e3ec" fill-opacity="0.9" transform="rotate(0 186.4 887.3)" filter="url(#bl1)"/><ellipse cx="186.4" cy="887.3" rx="9.2" ry="9.2" fill="#dcb0cf" fill-opacity="1.0" transform="rotate(0 186.4 887.3)" filter="url(#bl1)"/><ellipse cx="149.5" cy="902.7" rx="11.4" ry="10.5" fill="#f7e3ec" fill-opacity="0.9" transform="rotate(0 149.5 902.7)" filter="url(#bl1)"/><ellipse cx="149.5" cy="902.7" rx="8.6" ry="7.7" fill="#dcb0cf" fill-opacity="1.0" transform="rotate(0 149.5 902.7)" filter="url(#bl1)"/><ellipse cx="207.9" cy="844.3" rx="10.5" ry="15.1" fill="#f7e3ec" fill-opacity="0.9" transform="rotate(0 207.9 844.3)" filter="url(#bl1)"/><ellipse cx="207.9" cy="844.3" rx="7.7" ry="12.3" fill="#dcb0cf" fill-opacity="1.0" transform="rotate(0 207.9 844.3)" filter="url(#bl1)"/><ellipse cx="134.1" cy="730.5" rx="10.5" ry="10.5" fill="#f7e3ec" fill-opacity="0.9" transform="rotate(0 134.1 730.5)" filter="url(#bl1)"/><ellipse cx="134.1" cy="730.5" rx="7.7" ry="7.7" fill="#dcb0cf" fill-opacity="1.0" transform="rotate(0 134.1 730.5)" filter="url(#bl1)"/><ellipse cx="66.5" cy="715.1" rx="12.0" ry="8.9" fill="#f7e3ec" fill-opacity="0.9" transform="rotate(0 66.5 715.1)" filter="url(#bl1)"/><ellipse cx="66.5" cy="715.1" rx="9.2" ry="6.1" fill="#dcb0cf" fill-opacity="1.0" transform="rotate(0 66.5 715.1)" filter="url(#bl1)"/><ellipse cx="23.4" cy="733.6" rx="10.8" ry="3.7" fill="#fdf7fa" fill-opacity="1.0" transform="rotate(-10 23.4 733.6)" filter="url(#bl1)"/><ellipse cx="9.6" cy="759.7" rx="4.6" ry="10.8" fill="#fdf7fa" fill-opacity="1.0" transform="rotate(0 9.6 759.7)" filter="url(#bl1)"/><ellipse cx="38.8" cy="761.3" rx="5.5" ry="9.2" fill="#fdf7fa" fill-opacity="1.0" transform="rotate(20 38.8 761.3)" filter="url(#bl1)"/><ellipse cx="102.8" cy="767.4" rx="3.7" ry="7.7" fill="#fdf7fa" fill-opacity="1.0" transform="rotate(25 102.8 767.4)" filter="url(#bl1)"/><ellipse cx="88.0" cy="730.5" rx="3.1" ry="3.1" fill="#fdf7fa" fill-opacity="1.0" transform="rotate(0 88.0 730.5)" filter="url(#bl1)"/><ellipse cx="172.6" cy="732.1" rx="3.7" ry="13.8" fill="#fdf7fa" fill-opacity="1.0" transform="rotate(10 172.6 732.1)" filter="url(#bl1)"/><ellipse cx="206.4" cy="718.2" rx="3.7" ry="4.6" fill="#fdf7fa" fill-opacity="1.0" transform="rotate(0 206.4 718.2)" filter="url(#bl1)"/><ellipse cx="209.5" cy="738.2" rx="2.5" ry="2.5" fill="#fdf7fa" fill-opacity="1.0" transform="rotate(0 209.5 738.2)" filter="url(#bl1)"/><ellipse cx="43.4" cy="792.0" rx="10.8" ry="4.6" fill="#fdf7fa" fill-opacity="1.0" transform="rotate(-5 43.4 792.0)" filter="url(#bl1)"/><ellipse cx="68.0" cy="796.6" rx="3.1" ry="3.7" fill="#fdf7fa" fill-opacity="1.0" transform="rotate(0 68.0 796.6)" filter="url(#bl1)"/><ellipse cx="115.7" cy="790.5" rx="10.8" ry="3.7" fill="#fdf7fa" fill-opacity="1.0" transform="rotate(-20 115.7 790.5)" filter="url(#bl1)"/><ellipse cx="9.6" cy="819.7" rx="3.7" ry="7.7" fill="#fdf7fa" fill-opacity="1.0" transform="rotate(0 9.6 819.7)" filter="url(#bl1)"/><ellipse cx="40.4" cy="835.1" rx="7.7" ry="9.2" fill="#fdf7fa" fill-opacity="1.0" transform="rotate(0 40.4 835.1)" filter="url(#bl1)"/><ellipse cx="77.3" cy="850.4" rx="4.6" ry="4.6" fill="#fdf7fa" fill-opacity="1.0" transform="rotate(0 77.3 850.4)" filter="url(#bl1)"/><ellipse cx="14.8" cy="865.8" rx="6.1" ry="10.8" fill="#fdf7fa" fill-opacity="1.0" transform="rotate(10 14.8 865.8)" filter="url(#bl1)"/><ellipse cx="61.9" cy="867.3" rx="13.8" ry="6.1" fill="#fdf7fa" fill-opacity="1.0" transform="rotate(-10 61.9 867.3)" filter="url(#bl1)"/><ellipse cx="157.2" cy="816.6" rx="4.6" ry="4.6" fill="#fdf7fa" fill-opacity="1.0" transform="rotate(0 157.2 816.6)" filter="url(#bl1)"/><ellipse cx="165.5" cy="859.7" rx="4.6" ry="20.0" fill="#fdf7fa" fill-opacity="1.0" transform="rotate(5 165.5 859.7)" filter="url(#bl1)"/><ellipse cx="195.6" cy="801.2" rx="5.5" ry="15.4" fill="#fdf7fa" fill-opacity="1.0" transform="rotate(-10 195.6 801.2)" filter="url(#bl1)"/><ellipse cx="204.9" cy="772.0" rx="2.5" ry="3.1" fill="#fdf7fa" fill-opacity="1.0" transform="rotate(0 204.9 772.0)" filter="url(#bl1)"/><ellipse cx="94.2" cy="896.6" rx="4.6" ry="3.1" fill="#fdf7fa" fill-opacity="1.0" transform="rotate(0 94.2 896.6)" filter="url(#bl1)"/><ellipse cx="128.0" cy="893.5" rx="13.8" ry="3.7" fill="#fdf7fa" fill-opacity="1.0" transform="rotate(-5 128.0 893.5)" filter="url(#bl1)"/><ellipse cx="114.2" cy="872.0" rx="3.1" ry="2.5" fill="#fdf7fa" fill-opacity="1.0" transform="rotate(0 114.2 872.0)" filter="url(#bl1)"/><ellipse cx="17.3" cy="908.9" rx="6.1" ry="3.1" fill="#fdf7fa" fill-opacity="1.0" transform="rotate(0 17.3 908.9)" filter="url(#bl1)"/><ellipse cx="186.4" cy="887.3" rx="3.1" ry="3.1" fill="#fdf7fa" fill-opacity="1.0" transform="rotate(0 186.4 887.3)" filter="url(#bl1)"/><ellipse cx="149.5" cy="902.7" rx="3.1" ry="2.5" fill="#fdf7fa" fill-opacity="1.0" transform="rotate(0 149.5 902.7)" filter="url(#bl1)"/><ellipse cx="207.9" cy="844.3" rx="2.5" ry="4.6" fill="#fdf7fa" fill-opacity="1.0" transform="rotate(0 207.9 844.3)" filter="url(#bl1)"/><ellipse cx="134.1" cy="730.5" rx="2.5" ry="2.5" fill="#fdf7fa" fill-opacity="1.0" transform="rotate(0 134.1 730.5)" filter="url(#bl1)"/><ellipse cx="66.5" cy="715.1" rx="3.1" ry="1.8" fill="#fdf7fa" fill-opacity="1.0" transform="rotate(0 66.5 715.1)" filter="url(#bl1)"/><g filter="url(#bl05)"><path transform="translate(5 709) scale(.25)" d="M829 -5h0m-4-2h0m-1 5h0m-3 1h0m-4-5h0m-3 5h0m-3-11h0m0 7h0m0-1h0m-5-3h0m-1 8h0m-3-2h0m-3 1h0m-2-9h0m0 10h0m-3-5h0m-2 0h0m-1 0h0m-5 2h0m-1 2h0m-1 1h0m-1-1h0m-570 22h0m1 2h0m0-6h0m1 2h0m6-6h0m1 11h0m1-15h0m1 5h0m0-6h0m2 3h0m3-3h0m0 5h0m2-2h0m3-6h0m9 0h0m4 1h0m0 1h0m2 0h0m0 1h0m1 1h0m3-5h0m4 5h0m0 2h0m4-6h0m0 1h0m3 3h0m1 5h0m5 1h0m0 5h0m0-3h0m3 1h0m1 0h0m4 2h0m3 3h0m0-1h0m382 0h0m6-1h0m97-4h0m3 0h0m0-1h0m1-8h0m3 13h0m0-16h0m1 17h0m4-19h0m1 1h0m0 14h0m2-3h0m1-3h0m2 3h0m2-5h0m2-4h0m2 0h0m1 0h0m4-5h0m4 3h0m1 2h0m10-2h0m2-3h0m2 4h0m0-3h0m4 5h0m3 0h0m1 3h0m1-1h0m3 4h0m1-4h0m1-4h0m0 9h0m1 1h0m3 4h0m0-9h0m1 13h0m1-3h0m1 1h0m3-10h0m0-4h0m2 10h0m2 6h0m4 1h0m2-3h0m2 2h0m-2 9h0m-5-3h0m-1-3h0m0 1h0m-1 21h0m-2-13h0m-63-7h0m-4 11h0m0-7h0m-1-7h0m-1 16h0m-2-4h0m-1 10h0m-1-22h0m0 3h0m-1 10h0m-1 7h0m0-16h0m-1-1h0m-51 20h0m-6-10h0m-2 6h0m-5-2h0m0 5h0m-3-7h0m-1-2h0m-1 8h0m-2-6h0m-3 6h0m-3-11h0m-2 11h0m-4-10h0m-2-2h0m-2-4h0m-1-1h0m-4 2h0m0-4h0m-4 7h0m0-8h0m0 5h0m-2 1h0m0-4h0m0 1h0m-1 5h0m-4 1h0m-2 3h0m0-2h0m0 6h0m-2 3h0m-4-10h0m-4-6h0m-1 14h0m-2 2h0m0-3h0m-5 4h0m-6-8h0m-9 9h0m-279 1h0m-12-1h0m-4 1h0m-51-14h0m0-7h0m0 9h0m0-5h0m-1-4h0m0-1h0m-1 4h0m-1-5h0m-1 0h0m-1 7h0m0-7h0m-1 12h0m0-7h0m-1-5h0m0 2h0m-1 3h0m0-1h0m-1 7h0m0-1h0m-2 1h0m0 3h0m-1 0h0m-3 2h0m-1 5h0m-1 0h0m-1-4h0m-1 1h0m-3-2h0m-2 0h0m0 4h0m-2 0h0m-3 2h0m-6-5h0m-4 3h0m-3 2h0m-1-6h0m-1 2h0m-1-1h0m-2 4h0m0 1h0m0 0h0m-7-5h0m-2-7h0m0 7h0m-1 0h0m0 1h0m-1-17h0m0 12h0m-1 2h0m-2-12h0m-2 1h0m0 1h0m0-5h0m-1 9h0m-1-6h0m-1 7h0m-117 13h0m-16 0h0m-60 23h0m10 1h0m0-3h0m2-5h0m3 0h0m2-1h0m0-4h0m0 4h0m1 2h0m3 3h0m4-4h0m1-4h0m10 8h0m5-11h0m0 9h0m0-7h0m4-8h0m1 2h0m2 10h0m2-4h0m3 4h0m0-5h0m7-7h0m0 13h0m2 0h0m1-11h0m1-1h0m8-2h0m6 9h0m2 7h0m0-8h0m1 2h0m3 5h0m0-4h0m0 7h0m3-3h0m0-7h0m4 6h0m1-2h0m1 9h0m2 1h0m1-7h0m0-11h0m5 4h0m6 3h0m2 10h0m6-1h0m2 0h0m113-21h0m1 1h0m8-1h0m39 23h0m4-7h0m0 2h0m2 1h0m1-8h0m2-3h0m4-2h0m1 5h0m1-5h0m0 8h0m1 3h0m0-10h0m5 1h0m0 6h0m0-14h0m1 7h0m4 0h0m0-3h0m1 6h0m1-1h0m0-1h0m5-8h0m3 0h0m3 7h0m7 3h0m2-9h0m1 6h0m1 10h0m1-17h0m2 7h0m2 15h0m2-1h0m3-4h0m1 5h0m1 0h0m0-2h0m0-7h0m0 1h0m0 5h0m1-6h0m1 8h0m128 2h0m8-7h0m0 0h0m2 6h0m3-10h0m2 0h0m2 1h0m2 1h0m1 1h0m1-2h0m3 3h0m1-3h0m1-3h0m2 6h0m1-2h0m3 1h0m2-4h0m0 4h0m0 4h0m0-7h0m2 5h0m2-4h0m0 4h0m3 5h0m4-5h0m81-3h0m1 6h0m3-1h0m2-13h0m0 6h0m0-10h0m2 21h0m1-12h0m0 11h0m3-7h0m0-3h0m0-2h0m1-9h0m4 6h0m1-2h0m1-3h0m1 1h0m0 5h0m1 6h0m4-14h0m57 3h0m1 7h0m4 10h0m1-14h0m0-6h0m1 0h0m2 15h0m1-13h0m5 1h0m3 19h0m0-3h0m0-9h0m50 3h0m0-5h0m1-2h0m1 10h0m1 0h0m1 1h0m0-5h0m2-10h0m1 14h0m1-7h0m1 6h0m1 4h0m2-4h0m5 7h0m2-8h0m12 9h0m5-1h0m17-3h0m0 3h0m5-3h0m5-6h0m4-6h0m1 8h0m3 2h0m1-5h0m1 9h0m0-21h0m2 9h0m0-2h0m0 3h0m1 9h0m1-7h0m1-10h0m1 10h0m1-11h0m1 6h0m1-6h0m-13 45h0m-6-22h0m-6 9h0m-1 12h0m-1 1h0m-3-6h0m0 6h0m-1 1h0m-1 0h0m-2-7h0m0 4h0m-1-18h0m0 14h0m-1-16h0m-2 10h0m0-6h0m-1 9h0m0 9h0m-1-19h0m0-1h0m-1 5h0m-2 6h0m0 7h0m0-3h0m-1-15h0m-1-1h0m-3 6h0m0 5h0m-1 1h0m0-9h0m0-1h0m0 18h0m-2-11h0m-1-8h0m-6 2h0m-2 6h0m-7-4h0m-2-2h0m-59 8h0m-1-1h0m-1 6h0m0 2h0m-1 0h0m-1-9h0m-2 13h0m-3-13h0m0-8h0m-5 18h0m-5 0h0m-73-17h0m-1 13h0m-1 3h0m-1-19h0m0 14h0m-3 8h0m-2-8h0m-1 5h0m-4 1h0m-4-6h0m-64 1h0m-1-7h0m0 10h0m-1-6h0m0 8h0m-1 1h0m-1-13h0m-1 1h0m0-7h0m-1 20h0m-2-11h0m0-10h0m-1 12h0m0-2h0m0-3h0m-1 1h0m-3-9h0m-33 0h0m-2 0h0m-2 7h0m-2 13h0m0-16h0m-1 19h0m0 0h0m-2-20h0m0 5h0m-1 5h0m-1 9h0m0-3h0m-1-4h0m-122-2h0m-1-2h0m-1-7h0m0-4h0m0 6h0m-2 5h0m0 11h0m-1-11h0m-2 5h0m0-7h0m-1-1h0m0 5h0m0-2h0m0-9h0m-2 1h0m0 15h0m-49-10h0m-1 1h0m0-7h0m-2 10h0m0-9h0m-1 17h0m-1-14h0m-5-4h0m-156 7h0m0 12h0m-6-20h0m0 2h0m-1 6h0m-2-2h0m-3 14h0m0-5h0m-1-1h0m-1-3h0m-1 10h0m-2-2h0m0-2h0m-1-2h0m-1 2h0m-1 2h0m-1-2h0m0-13h0m-3-5h0m-9 0h0m-70 5h0m-1-1h0m-9 10h0m-1 4h0m-5-17h0m0 5h0m-1 5h0m-1 4h0m-1-11h0m0-2h0m-5 7h0m-5 13h0m0-1h0m-2-7h0m-4 15h0m1-1h0m1 6h0m1 9h0m2 2h0m2-20h0m1 5h0m1 1h0m1 15h0m5-22h0m0 9h0m1 7h0m1 4h0m0-10h0m1 12h0m2-15h0m0 7h0m2 8h0m0-15h0m2 16h0m1-2h0m85-2h0m4-6h0m5 0h0m1 8h0m5-17h0m3 6h0m0 12h0m3-10h0m2-2h0m0-4h0m1 3h0m0 1h0m1-8h0m0 0h0m2 5h0m161-1h0m4 0h0m0-4h0m0 13h0m1 3h0m1-1h0m1 2h0m1-10h0m1-3h0m3 16h0m1-2h0m0-4h0m3-1h0m4 7h0m0-1h0m1-1h0m5 2h0m1-3h0m2 3h0m7-2h0m1 1h0m5 2h0m0-4h0m3 3h0m4-14h0m1 11h0m0-11h0m2 12h0m1-14h0m2-1h0m2 0h0m0 9h0m2 2h0m0-8h0m2-6h0m1 1h0m127-2h0m0 0h0m0 0h0m4 1h0m2 7h0m1-7h0m0 9h0m0-7h0m2 12h0m2-9h0m1 5h0m0 1h0m1-4h0m1 8h0m1 1h0m3-5h0m1-2h0m1 1h0m1 5h0m2-1h0m0-3h0m2-2h0m1 1h0m1-1h0m3 6h0m4-2h0m1-7h0m1 1h0m2 1h0m0-3h0m1 1h0m0-2h0m3-3h0m1 1h0m0 2h0m0-2h0m2 1h0m1 4h0m0-9h0m73 9h0m1 8h0m0-8h0m1-7h0m5 2h0m0 17h0m2-11h0m1 3h0m2 8h0m3 0h0m76-17h0m0 5h0m1 0h0m4 13h0m0-6h0m2 5h0m0 2h0m1-20h0m5 19h0m0 1h0m2-21h0m72 20h0m1-10h0m1 11h0m2-7h0m0-9h0m2 2h0m0 11h0m2-6h0m1 5h0m0-18h0m3 6h0m1-4h0m0 1h0m1 3h0m2-4h0m6-3h0m5 0h0m14 4h0m2 2h0m1 0h0m2 2h0m1-6h0m1 3h0m1 0h0m2 5h0m0 6h0m1 6h0m0-14h0m2 3h0m0-3h0m4 21h0m-2 3h0m-1-5h0m-1-2h0m-1-1h0m0 9h0m0 3h0m-1 4h0m0-8h0m-1 7h0m-1-3h0m0-10h0m0 2h0m0-3h0m0 14h0m-4-5h0m0 5h0m-4 3h0m-1-1h0m-4 1h0m0 3h0m-2-1h0m-2-3h0m-1 2h0m-4 1h0m-5 0h0m0-1h0m-2-2h0m-2 1h0m0-3h0m-1 3h0m-1 4h0m-1-8h0m-2 7h0m-3-8h0m0-1h0m-2-8h0m-1 6h0m-1-6h0m-1 2h0m-1 8h0m0-13h0m-2 9h0m0-10h0m-2 1h0m0 3h0m0-3h0m-78 3h0m0-2h0m-2 4h0m-1-2h0m0 3h0m-3 8h0m-2-12h0m0-2h0m-2 2h0m-1 14h0m-1 0h0m-2-9h0m-1 8h0m-3-5h0m-1 6h0m-1-12h0m-1 17h0m-3-5h0m0-8h0m0 2h0m-1 3h0m-2 5h0m0-5h0m-3 1h0m-1 5h0m-3-2h0m-8 5h0m-30-9h0m-4 8h0m0-3h0m-4-7h0m-2-9h0m0 14h0m-2-11h0m-2 3h0m0-8h0m0 17h0m-4-10h0m-2 7h0m0 1h0m-3-7h0m-198 13h0m-23 1h0m-23-2h0m-26-18h0m-1-2h0m-2 2h0m-1 0h0m-3-3h0m0 0h0m-1 1h0m0 1h0m-2 3h0m-1 3h0m-2-1h0m-9 1h0m0-8h0m-2 4h0m-3-4h0m-2 0h0m-2 3h0m-2-1h0m-182 20h0m-5-16h0m-1-1h0m-5-3h0m0-1h0m-2 2h0m-3 7h0m0-5h0m-3 9h0m-1-14h0m0 18h0m-3-4h0m0 6h0m-1-15h0m-8 8h0m-3 1h0m-1-1h0m-1 6h0m0-1h0m-1 0h0m-2 1h0m-5-1h0m-3-5h0m-1-1h0m-2 9h0m-2-2h0m-3 3h0m-1-9h0m-1 5h0m-2-3h0m-2 6h0m-4-4h0m-3 6h0m-1-8h0m-1-2h0m-3 8h0m-4-4h0m-3-3h0m-6 1h0m-1 1h0m-1 7h0m-2-8h0m-2-9h0m0 15h0m-2-7h0m-1 1h0m-1-3h0m0-10h0m-1 15h0m-2-14h0m-4-2h0m0 18h0m-1-9h0m0-3h0m0 4h0m-1-9h0m-1 14h0m0-4h0m-1 0h0m-1-1h0m-1-4h0m-1 6h0m-1-10h0m-1 6h0m-1-5h0m-1 6h0m-1 10h0m-4-17h0m-3 20h0m0-8h0m-1-1h0m-11 7h0m-15 17h0m1-1h0m0 6h0m1-1h0m2-2h0m2-8h0m1 9h0m3-11h0m1 2h0m1-1h0m1-2h0m0 5h0m2-2h0m1 1h0m0-3h0m0 2h0m1-4h0m8 3h0m2-7h0m1 0h0m3 2h0m0 9h0m1-8h0m6 1h0m0 6h0m1-3h0m0-6h0m1 7h0m0 1h0m2-2h0m0-6h0m0 8h0m5-8h0m4 2h0m0-3h0m0 5h0m5 9h0m0-2h0m0 5h0m1-6h0m1-5h0m0 13h0m1-10h0m0 1h0m1-9h0m2 22h0m0-1h0m2-13h0m0-9h0m0 12h0m2-8h0m0 18h0m0-14h0m1-8h0m0 5h0m1-1h0m2-1h0m3 17h0m0-5h0m4 4h0m7-19h0m4 3h0m6 0h0m2 1h0m1 0h0m1 0h0m12 17h0m1-3h0m8-4h0m0 0h0m4 6h0m4-6h0m5 2h0m4 0h0m3-12h0m0 12h0m1-5h0m1-4h0m0 9h0m1-8h0m0 5h0m1-2h0m0-2h0m0-4h0m1 1h0m4-2h0m1 12h0m1-3h0m1-5h0m3 5h0m1-12h0m0-1h0m2 15h0m0-9h0m2-6h0m2 11h0m1-2h0m11-6h0m7 16h0m5 2h0m1-2h0m0 0h0m6 4h0m1-2h0m0-1h0m170 2h0m5-10h0m0 9h0m5-8h0m3 6h0m3-2h0m1-2h0m3 8h0m1-20h0m2 11h0m1 8h0m3-16h0m1-5h0m6 7h0m0-7h0m0 7h0m0 12h0m1-3h0m1-13h0m2-3h0m0 16h0m1-17h0m7 14h0m0 5h0m0-7h0m1 0h0m1 4h0m1 3h0m3-17h0m1 19h0m4-2h0m3-11h0m1 7h0m0 7h0m3-3h0m1-2h0m2 4h0m2-4h0m1-12h0m1 17h0m1-11h0m3 2h0m0 6h0m1-16h0m3 8h0m2-9h0m1 19h0m4 1h0m4-10h0m2 4h0m2 1h0m2 1h0m182-17h0m2 5h0m0-1h0m1-4h0m5 0h0m5 11h0m6 6h0m0-18h0m1 8h0m1-1h0m2 6h0m0-4h0m1-6h0m2 4h0m1 1h0m3 7h0m2-7h0m0-7h0m1 14h0m1-5h0m4 4h0m3-5h0m0 14h0m1-21h0m0 18h0m2-14h0m1 5h0m1-9h0m1 15h0m0-15h0m1 8h0m1 5h0m1-12h0m0 0h0m2 0h0m1 3h0m2 8h0m0-10h0m4-4h0m1 16h0m0-5h0m0-7h0m1 9h0m1-5h0m6-3h0m8-3h0m119-1h0m4 0h0m2 0h0m-372 45h0m-4-10h0m-1 10h0m-5-5h0m-1 6h0m-2-5h0m0 0h0m-1-12h0m0 6h0m-1 9h0m-4-21h0m0 9h0m0 14h0m-1-17h0m0 2h0m-2 3h0m-1-9h0m-1 18h0m-4-15h0m-3 3h0m-3-1h0m-2-5h0m-4 0h0m-48 0h0m-1 1h0m-1 3h0m-3 0h0m-1-4h0m-7 6h0m0 3h0m-3 0h0m-3-1h0m-2-3h0m0 15h0m-3-8h0m-1 8h0m-2 0h0m-2-12h0m0 10h0m-1-2h0m0-4h0m-2-5h0m-2 4h0m-4 7h0m-2 3h0m-139-6h0m-4-11h0m-2 9h0m-1-12h0m-1 18h0m0-21h0m-3 18h0m-1-11h0m0 3h0m0 9h0m-1-19h0m-1 13h0m0-4h0m0-1h0m-4-3h0m0-1h0m-2 4h0m-2-8h0m0 11h0m-4-11h0m-50 1h0m-7 2h0m-1 6h0m0 0h0m0-3h0m0-6h0m-2 9h0m-1 7h0m-3-14h0m-2 3h0m-1 9h0m-1-6h0m-1 1h0m-6 3h0m-2 3h0m-5 6h0m-12-8h0m-1 9h0m-2-7h0m-2-9h0m0-3h0m-1 18h0m0-10h0m-1-8h0m0 5h0m-1-5h0m-3 1h0m-1-4h0m-1 22h0m0-18h0m-1 8h0m-1-4h0m0 2h0m-1-2h0m-2 0h0m-4-6h0m-47-2h0m-3 0h0m-1 6h0m-7 12h0m-1 3h0m-2-16h0m-1 11h0m-1-12h0m0 19h0m-1-17h0m0 2h0m-1 6h0m0-9h0m-6 16h0m0 3h0m0 13h0m6 6h0m0-8h0m2 6h0m0-17h0m2 2h0m4-1h0m66 6h0m1 6h0m0 1h0m2-6h0m2-8h0m1 14h0m2 4h0m0-11h0m4-3h0m1 2h0m10 12h0m1-11h0m2 2h0m0 8h0m1-15h0m0 8h0m0 13h0m4-12h0m5 12h0m4-9h0m0 4h0m77-9h0m1 7h0m2-4h0m3-5h0m0-3h0m0 16h0m2 3h0m0-13h0m0 5h0m1-7h0m0 8h0m0 2h0m1-1h0m2 4h0m0-11h0m2 11h0m0-16h0m0-1h0m3 6h0m0-3h0m131 6h0m5 7h0m1-16h0m3 12h0m1-1h0m1 2h0m2-9h0m8 9h0m2-4h0m3-9h0m87 0h0m2 19h0m0-19h0m1 2h0m0 2h0m0 10h0m17-6h0m3 4h0m0-9h0m0-4h0m372 44h0m0-9h0m-2 5h0m-1-5h0m-6-1h0m0-1h0m0 0h0m-1-8h0m-4 6h0m0 4h0m0-8h0m-3 2h0m-3-8h0m0 5h0m-1 3h0m-1 1h0m-2-9h0m0 11h0m-5-3h0m-1-6h0m-3-1h0m0 3h0m-2 10h0m-1-7h0m0 1h0m-1-3h0m-3 11h0m-1-3h0m-1 2h0m-1-1h0m0-2h0m-1 7h0m-2 2h0m-1-9h0m-2 4h0m-3 4h0m-320-16h0m-3 0h0m-2 5h0m-3 11h0m-4-19h0m-3 18h0m-3-15h0m-2 6h0m-1 6h0m-97-3h0m-2-6h0m-2-5h0m-2 10h0m-1 4h0m0-1h0m-4 8h0m-1-17h0m-8 15h0m-1-9h0m0 0h0m-3 9h0m-133-15h0m-6 17h0m0-20h0m0 10h0m0 10h0m-5-4h0m-3-12h0m0-1h0m-4 12h0m0 2h0m-1-4h0m-1-1h0m-2-1h0m-3 6h0m-51 0h0m-2 1h0m-5-14h0m-1 5h0m-1-8h0m-2-1h0m-1 8h0m-1-5h0m-1-5h0m0 9h0m-1 8h0m0-4h0m0-12h0m-1-2h0m0 10h0m-4-2h0m0 12h0m0 1h0m0-3h0m-1-5h0m-17 5h0m-1-11h0m0-1h0m-1-6h0m-6 14h0m-1-5h0m-4 7h0m-4 1h0m-3 6h0m-49-4h0m-3 2h0m-6-8h0m0-9h0m-2 4h0m-2-8h0m-1 14h0m-1-6h0m0-5h0m-1-3h0m-1 4h0m-3 5h0m-1-9h0m0 11h0m0 2h0m-1-3h0m15 33h0m2-3h0m2 0h0m1-12h0m1-1h0m2 2h0m0 10h0m1 6h0m4 0h0m1-15h0m1 10h0m5 4h0m0-1h0m13-2h0m2 2h0m0-4h0m1 7h0m2 0h0m2-6h0m1-2h0m4 7h0m0-13h0m7-1h0m2 0h0m2-3h0m7-2h0m2 10h0m1-11h0m5 5h0m3-6h0m28 8h0m1 4h0m9 2h0m1 2h0m2-4h0m1 2h0m1 5h0m4-17h0m1 6h0m4-4h0m4 9h0m0 1h0m0 0h0m3-4h0m2-3h0m1 15h0m0-2h0m0-15h0m2 14h0m2-5h0m5 0h0m1 1h0m5-9h0m1 16h0m1-19h0m1 10h0m1-11h0m5 4h0m1-1h0m0 8h0m2-1h0m3-8h0m0 5h0m2-5h0m1 11h0m1-13h0m1-1h0m0 5h0m2-5h0m8-1h0m3 0h0m140 3h0m4 0h0m0 17h0m1 3h0m1-8h0m0 3h0m0 3h0m1-1h0m1-19h0m2 8h0m1 4h0m1 3h0m1-2h0m5 0h0m1 8h0m4-21h0m2 20h0m1-1h0m75-3h0m0 0h0m5 6h0m1-11h0m6-12h0m2 4h0m3 10h0m2 3h0m0-9h0m1 4h0m1-8h0m1 4h0m2 4h0m1 3h0m1-14h0m3 12h0m1-12h0m327 12h0m3 6h0m1-17h0m0 19h0m2-10h0m1 1h0m1 0h0m0 3h0m1 2h0m41 2h0m0-13h0m1-6h0m1 9h0m1 7h0m0 0h0m1-4h0m0-7h0m2 12h0m2-7h0m1 7h0m0 2h0m0-6h0m1-3h0m0-6h0m1 6h0m-5 15h0m0 4h0m-1 2h0m-2-5h0m-3 9h0m0-1h0m-1-3h0m0-6h0m-1 4h0m-1 9h0m-3 1h0m0 2h0m-1-7h0m-1 5h0m0-3h0m-2 2h0m0 6h0m-1-1h0m0-4h0m0-1h0m0 9h0m-2-7h0m-2-1h0m-1 4h0m-2-6h0m-4 5h0m-1-5h0m-2 3h0m-1 5h0m-3-11h0m-1 5h0m0 6h0m-2-12h0m0 1h0m-5-6h0m-2 3h0m-2-6h0m-2 22h0m-1-13h0m-1-8h0m-1 2h0m-1 1h0m-20 18h0m-11-3h0m-245 0h0m-1-1h0m-9-2h0m-2-2h0m-1 8h0m-2-8h0m-3-2h0m-2-1h0m-2 10h0m-2-8h0m-4 1h0m0 7h0m-1-11h0m-1 6h0m-2-5h0m-2-4h0m-3 8h0m-4-2h0m-5 7h0m0-11h0m-3 2h0m0 4h0m-1-2h0m-1 9h0m0-13h0m-6 12h0m-2-10h0m-1 3h0m-5 0h0m-6-14h0m-5 6h0m0 10h0m-1-9h0m-3 15h0m-5-15h0m-1 9h0m-2 1h0m-1-3h0m-2-12h0m-6 6h0m-15 13h0m-2-1h0m-3-3h0m-1-2h0m-2-1h0m-10 6h0m-1-1h0m-12-1h0m-2 1h0m0 3h0m-3-16h0m-6-6h0m0-1h0m-1 8h0m-1 3h0m0-5h0m0 14h0m-3-2h0m-2-13h0m-3-5h0m0 0h0m-4 2h0m-3 5h0m-1 13h0m-1-11h0m-2 1h0m0-9h0m-131 21h0m0 1h0m-3-4h0m-11-4h0m-4-2h0m-2 10h0m-1-1h0m-1-5h0m-3 5h0m-9-6h0m-1-6h0m-3 3h0m0 8h0m-3 1h0m-2-2h0m-2 1h0m-2 1h0m0-8h0m-2 9h0m-7-9h0m-1 8h0m-2 1h0m-9-6h0m-89-12h0m-4 5h0m-3-5h0m-7 6h0m-4-2h0m0 2h0m-2-7h0m-4 3h0m-5 1h0m-1-3h0m0-1h0m-6-2h0m89 45h0m0-4h0m3-4h0m3-3h0m5 8h0m1 3h0m3-12h0m2-1h0m2-4h0m2 5h0m0 0h0m0 9h0m0-1h0m4-15h0m1 10h0m1-14h0m0 14h0m6-8h0m5 5h0m1 0h0m1-2h0m1-2h0m1-1h0m5-2h0m0 2h0m2-3h0m4-3h0m16 2h0m1 0h0m1-2h0m4 2h0m16-1h0m2 3h0m4-1h0m2 2h0m3 0h0m1 4h0m3 0h0m1-5h0m2-4h0m2 14h0m0-11h0m2 16h0m0-6h0m3-2h0m3 12h0m2-21h0m0 1h0m1 19h0m1-2h0m1-11h0m1 0h0m6 3h0m2-1h0m4 11h0m24-2h0m8 3h0m7 0h0m69-22h0m6 4h0m2-1h0m1 0h0m4-4h0m0 12h0m3-8h0m6 7h0m13 4h0m2 3h0m1-17h0m2-1h0m0 10h0m5-3h0m1 8h0m1-14h0m1 4h0m4 7h0m0-8h0m2 11h0m0 7h0m2-11h0m1 5h0m3 7h0m2-10h0m0 6h0m0-3h0m1 1h0m1-6h0m1-7h0m2 2h0m0-1h0m1 3h0m2 3h0m1-10h0m0 7h0m1 11h0m2-19h0m0 2h0m1 18h0m8-18h0m2 9h0m0-11h0m5 8h0m8-2h0m1-5h0m3 4h0m7-3h0m2 0h0m29 2h0m2 0h0m7-2h0m0 4h0m5-1h0m4-3h0m2 7h0m1 9h0m1-15h0m1 20h0m1-6h0m0-13h0m0 14h0m1 0h0m1 4h0m0-7h0m1 7h0m2-3h0m5 4h0m0-2h0m3-11h0m0 5h0m6 4h0m215-2h0m4-2h0m1 0h0m1-6h0m1-4h0m2 16h0m1-21h0m4 22h0m1-10h0m2-11h0m0 16h0m7 0h0m0 4h0m2-5h0m2-9h0m0-3h0m2 10h0m1-10h0m7 15h0m2-1h0m2-1h0m4-11h0m1-2h0m8 19h0m3-12h0m1 11h0m3-2h0m3-4h0m2 6h0m0-3h0m0-19h0m3 17h0m1 5h0m16 22h0m-3 3h0m-2-9h0m-5-7h0m-2 2h0m0-3h0m-2 6h0m-2 3h0m-5 2h0m-1 3h0m0-5h0m-2 3h0m-6-8h0m-1-5h0m-5-1h0m-5-1h0m-2-2h0m-35 1h0m-2 4h0m-3-3h0m-3 9h0m-1-8h0m-1 2h0m-2 3h0m-6 8h0m-1-5h0m-2 0h0m0-3h0m-1 9h0m0-4h0m0-9h0m-3 14h0m0-9h0m0 8h0m0-11h0m-1 2h0m-1-7h0m-1 2h0m-1 13h0m-1-9h0m-1 13h0m-4 2h0m-194-21h0m0 2h0m-2 6h0m-4 11h0m-1-10h0m0 3h0m-1 6h0m0-19h0m0 20h0m-2-3h0m-2-7h0m0 1h0m0 5h0m-2-7h0m-2 13h0m-3-2h0m-91-21h0m-4 13h0m-3 10h0m0-4h0m-1-15h0m-5 16h0m-1-7h0m-1-3h0m-1 2h0m0-3h0m-5 0h0m0-6h0m0 3h0m-2 16h0m-2-6h0m-93-1h0m-4-3h0m-1 9h0m-1-1h0m0-11h0m-1 2h0m0 9h0m-1-13h0m0 8h0m-1-6h0m-1-2h0m-1 8h0m0-6h0m-1 8h0m-2-17h0m-1 9h0m-3-2h0m0-7h0m-8 9h0m0-6h0m-1 0h0m-6-2h0m-1 3h0m-7 5h0m-2 2h0m-1-5h0m-6 7h0m0-5h0m-1 12h0m-1-4h0m-1 1h0m-1-9h0m0 2h0m-1 7h0m0-6h0m0-2h0m-2 3h0m0 0h0m-2 11h0m-1-5h0m0 0h0m-2 3h0m-1-17h0m-3 1h0m0 7h0m0 4h0m-4-7h0m-1 8h0m-3-10h0m-2 15h0m-1-3h0m-97-18h0m-3 5h0m-1-3h0m-5 10h0m0-5h0m-3 11h0m0-4h0m-1-1h0m-2 0h0m0-1h0m-2 2h0m-1-8h0m-1-5h0m0 0h0m-1 4h0m-2-4h0m-4 1h0m1 30h0m0 0h0m3 0h0m0-2h0m1 8h0m2-15h0m0 1h0m1 17h0m0-14h0m2 18h0m3-8h0m1 4h0m0 4h0m1-4h0m2 0h0m2 2h0m0-4h0m0 1h0m3-1h0m1-16h0m0 12h0m1 8h0m6-10h0m6 11h0m5 1h0m49-1h0m6 2h0m6-5h0m8 2h0m0-1h0m1-8h0m2 12h0m4-19h0m3-1h0m0 5h0m1 8h0m4-14h0m0 10h0m0 3h0m2-10h0m0 7h0m2 4h0m0-5h0m6-2h0m1 14h0m1-21h0m1 2h0m1 13h0m0-6h0m1-11h0m0 16h0m0-10h0m0 8h0m1-14h0m0 0h0m1 3h0m0 17h0m0 3h0m0-4h0m1-18h0m2 12h0m2 8h0m1-15h0m1-4h0m45 2h0m2 10h0m2-3h0m1-5h0m2-2h0m2-4h0m2 19h0m1-18h0m84 14h0m0-7h0m4 4h0m2-8h0m1 0h0m1 6h0m2-6h0m2 1h0m3 4h0m0-6h0m1 1h0m0-1h0m1 2h0m1 13h0m1 0h0m1-12h0m4 6h0m2-2h0m2 9h0m57 3h0m9-3h0m1 4h0m0-2h0m6-5h0m8-9h0m0 10h0m1-4h0m6 9h0m0-5h0m1 5h0m0 0h0m2-13h0m0-8h0m0 8h0m3 10h0m1-14h0m1 9h0m4 0h0m3-11h0m2 3h0m1-5h0m0 2h0m197 19h0m0-4h0m0 5h0m0-13h0m2 10h0m0-16h0m3 12h0m1-14h0m1 10h0m0-4h0m1 8h0m2 4h0m2-9h0m0 8h0m2-10h0m0-4h0m2 17h0m1-21h0m1 1h0m2 2h0m78 0h0m4 14h0m1-9h0m2 14h0m1-15h0m3-4h0m0 13h0m5-12h0m0 14h0m1-9h0m10 24h0m-1 13h0m-7 0h0m-3-14h0m-1 4h0m-2 4h0m0-5h0m-3-11h0m-88 21h0m-2-7h0m-1 5h0m-3 0h0m0-4h0m-2 1h0m-4 3h0m-1-6h0m-3 2h0m-2-8h0m-1-3h0m-1 15h0m-1-13h0m-1 0h0m0-3h0m-56 16h0m-4 1h0m-8 0h0m-8-5h0m-1 2h0m-1-2h0m-2 4h0m-3-1h0m0 4h0m-6-5h0m0-4h0m-1 2h0m-2 2h0m-1-4h0m-3 5h0m-2 0h0m0-7h0m0 4h0m-3 3h0m-2-7h0m-7 7h0m-1 2h0m-2 1h0m-1-5h0m-4 5h0m-4-2h0m-1-1h0m0 0h0m-2 2h0m-99-14h0m-1-5h0m-3 0h0m-15 12h0m-2-3h0m-1 1h0m-2-11h0m0 15h0m-1-1h0m-1-8h0m0 1h0m0-7h0m-1 17h0m-2-16h0m-5 7h0m0 1h0m-1 3h0m0-10h0m-13 4h0m-3 7h0m-2 5h0m-2-3h0m0 4h0m-1-14h0m0 14h0m-2-7h0m-1-5h0m0 0h0m-2 9h0m0-8h0m-1-7h0m0 12h0m-3-3h0m-1 9h0m0-12h0m0-5h0m-1 2h0m-3 1h0m-2-4h0m0-1h0m-2 0h0m-4 1h0m-3 4h0m-5 7h0m-2-5h0m-3 0h0m-3-5h0m-98 1h0m-1-2h0m0 11h0m0-7h0m0-6h0m-1 14h0m0-13h0m-1 12h0m-1-1h0m-3 3h0m-1-9h0m-1 6h0m-2 2h0m0 7h0m-1-13h0m-1 3h0m-2 12h0m-2-3h0m-4 0h0m-1-2h0m-4 2h0m0 3h0m-1-1h0m-9-3h0m-1-1h0m-3 1h0m0 1h0m-4-3h0m0 6h0m-2-2h0m-1 2h0m0-2h0m-2-4h0m-6-16h0m-1 13h0m0 1h0m-1-12h0m-2-1h0m-2 10h0m0 0h0m-2-5h0m-2-6h0m-1 3h0m-18-3h0m-10-1h0m-1 1h0m-1 5h0m-3 3h0m-7 0h0m0-7h0m-1 0h0m-3-1h0m-1 14h0m-2-7h0m-4 0h0m-1 6h0m-1-6h0m-7 5h0m-3-13h0m-7 11h0m-3-7h0m-1 10h0m-1-14h0m-1 1h0m-1 16h0m0-9h0m0 2h0m-4 0h0m-3-5h0m0-5h0m0 3h0m-1-2h0m-3 4h0m-6-5h0m-1 8h0m-1 3h0m-3-4h0m-1-1h0m0-1h0m-3 0h0m-2-2h0m-6 4h0m-2-1h0m-3-3h0m-85 20h0m-26 23h0m4-3h0m4-9h0m0 1h0m3 4h0m2-7h0m2 3h0m3 2h0m3 8h0m1-5h0m4-6h0m0 6h0m0-13h0m1 6h0m3 0h0m3-8h0m1 8h0m1 5h0m2 3h0m0-7h0m1 6h0m1 0h0m1-8h0m0 5h0m2 2h0m1-2h0m0-8h0m2 2h0m0 5h0m0 4h0m1-7h0m1 4h0m1-8h0m0 15h0m1-16h0m4 16h0m2-3h0m0 4h0m1 2h0m1-5h0m196-15h0m1-2h0m1 8h0m0-9h0m2 3h0m1-3h0m2 6h0m4-6h0m4 4h0m4 3h0m1-5h0m6-2h0m2 0h0m287 22h0m5 0h0m2-8h0m2 5h0m1-15h0m2 17h0m0-2h0m1-3h0m1-10h0m1 14h0m1 0h0m4-9h0m0 5h0m1-5h0m0-11h0m1 6h0m4 0h0m3-3h0m1 2h0m16-1h0m4 0h0m9 1h0m2-3h0m1 2h0m2-3h0m0 2h0m0 4h0m4-1h0m1 2h0m3-7h0m2 8h0m8-9h0m2 2h0m7 9h0m2 4h0m0-11h0m0 6h0m1-3h0m3 8h0m46-8h0m4-2h0m0 13h0m2 3h0m0-16h0m1-4h0m2 3h0m0 6h0m7 9h0m3-17h0m1 10h0m0 7h0m1-14h0m83 16h0m0-11h0m1-6h0m0 8h0m10 4h0m9-14h0m1-1h0m-4 24h0m-7 9h0m-2 5h0m-1-10h0m-2-5h0m-1 7h0m-1-1h0m-1 16h0m-3-21h0m0 22h0m0-15h0m0 6h0m-1-14h0m0 15h0m-1-14h0m0 11h0m-3-6h0m-1 13h0m0-7h0m-1-11h0m0 11h0m-1-6h0m-1 8h0m-1-9h0m-3 3h0m0 8h0m-1 3h0m0 3h0m-5-7h0m-2 4h0m-1-4h0m-6 3h0m-31 2h0m-3-7h0m0-4h0m-2-1h0m-5 2h0m0 12h0m-4-16h0m-2 17h0m0-10h0m-1-10h0m-5 0h0m-3 18h0m-1-17h0m-1 0h0m0-4h0m0 5h0m-2 5h0m-7-7h0m-48 14h0m0-12h0m-5-2h0m-1 16h0m-1 2h0m0 2h0m0-1h0m-1-10h0m0 1h0m-3-13h0m0 4h0m-1 19h0m0-13h0m-1 7h0m-79-8h0m-1 5h0m-2-4h0m-3-7h0m-1 0h0m-1 17h0m0 1h0m-1-7h0m-4-2h0m0-5h0m-2 9h0m-1-14h0m-489 20h0m-2 0h0m-2-5h0m-3-1h0m-2-5h0m0 4h0m-1-3h0m-2 3h0m-1 1h0m0-9h0m-4 5h0m-1-11h0m-42 3h0m-3-3h0m-2 7h0m-2 4h0m0-3h0m-2 5h0m0 1h0m-1-13h0m-1 11h0m-1 7h0m0-18h0m-1 13h0m-1 2h0m-1-1h0m0-12h0m-8 40h0m1 0h0m3 2h0m0-6h0m3-12h0m2 7h0m2 6h0m0-2h0m2-10h0m0-4h0m58 18h0m4-2h0m3 1h0m0-18h0m0 14h0m1 5h0m2-2h0m4-9h0m44 5h0m0 3h0m3-6h0m3 4h0m3-8h0m3 0h0m2 5h0m2 0h0m3 10h0m1-8h0m3-1h0m1 4h0m5-12h0m8-1h0m0 19h0m2 1h0m1-6h0m1-11h0m0 17h0m4-18h0m2 7h0m1-7h0m0-2h0m1 6h0m2-4h0m3 3h0m1 15h0m1-12h0m2 7h0m3-4h0m2 8h0m1-11h0m0 2h0m5 6h0m1 1h0m12-3h0m5 3h0m353-15h0m5 16h0m0-11h0m3 8h0m1 2h0m1-3h0m0-3h0m1 7h0m1-2h0m3-8h0m1 0h0m2 4h0m1-3h0m3 4h0m2 5h0m70-6h0m2 7h0m2-16h0m2 6h0m2-1h0m4-7h0m0 8h0m2 0h0m1-6h0m0 11h0m0-16h0m5 4h0m69-5h0m4 0h0m9 15h0m4-1h0m0 5h0m2-9h0m1 1h0m0-8h0m2 5h0m1 9h0m0-16h0m2 4h0m3 15h0m4 0h0m1-4h0m3 4h0m2 0h0m6-17h0m3 7h0m1-6h0m0 6h0m1-5h0m1-4h0m2 15h0m2-12h0m1-3h0m1 15h0m1-6h0m3-1h0m1-7h0m1 10h0m14-9h0m-35 21h0m-115 5h0m0-1h0m-5 3h0m-3-7h0m-2 13h0m0-13h0m-2 12h0m-3 3h0m-2-6h0m-3-9h0m0 22h0m0-17h0m-6 10h0m-1 8h0m0-8h0m0-5h0m-1 13h0m-8 0h0m-3-1h0m-6-4h0m-6 3h0m-1-2h0m-16-3h0m-4 4h0m-3-1h0m-1-6h0m-3 5h0m0-1h0m-3 5h0m-2-4h0m-1-1h0m-2 4h0m0-10h0m-5-10h0m-1 17h0m-1-18h0m-2 5h0m-1-2h0m-1-1h0m-344 21h0m-4-7h0m0 3h0m-4-8h0m-2 10h0m-5 0h0m-5-16h0m-5 18h0m0-14h0m0-8h0m-1 22h0m-1-22h0m-1 17h0m-1-15h0m0 2h0m0 6h0m-2 4h0m-1-2h0m-1-3h0m-3-9h0m-1 9h0m-1-7h0m-3 4h0m-4-7h0m-9 1h0m-7-1h0m-3 1h0m-4-1h0m-24 5h0m-2-1h0m-2-4h0m-2 9h0m-5 0h0m-4-2h0m-6 11h0m0-8h0m-2-7h0m-2 16h0m0-7h0m-2-9h0m0-3h0m-3 7h0m-4 16h0m-3 0h0m0-6h0m-1-1h0m-25-4h0m0-9h0m-2 0h0m-2 7h0m0-2h0m0 7h0m-2-12h0m-1 18h0m-3-21h0m-2 18h0m0 4h0m-1-9h0m-3 3h0m-2 7h0m-6 0h0m-32 0h0m-1-1h0m-2-4h0m-2-4h0m-2-2h0m-2-3h0m0 4h0m-4-4h0m-1-1h0m0 3h0m-1 11h0m0-22h0m-1 23h0m-2-12h0m8 21h0m2 1h0m3 0h0m2-3h0m0-6h0m1 8h0m4-3h0m0 10h0m4-14h0m0 17h0m4-15h0m0 6h0m1-5h0m0 10h0m0-2h0m1 0h0m1 10h0m2-1h0m1-4h0m0-2h0m0-6h0m0 12h0m1 1h0m1-3h0m3-6h0m1 2h0m0-4h0m0-8h0m1 14h0m0-11h0m6 11h0m1-5h0m0-2h0m4-10h0m0 16h0m5-15h0m2 4h0m1-1h0m1 0h0m0 4h0m0-4h0m1 0h0m1-2h0m0 5h0m1 2h0m26 2h0m1-8h0m8 0h0m0 3h0m1 0h0m1-5h0m1 16h0m1 0h0m1-4h0m0-5h0m1-2h0m1 16h0m2-18h0m1 7h0m99-2h0m3 5h0m1 3h0m1-9h0m1-4h0m0 18h0m1-14h0m0 11h0m2-12h0m0 0h0m0 10h0m1-12h0m1 17h0m0-17h0m1 9h0m0-12h0m0 20h0m1-13h0m6-9h0m1 3h0m2 15h0m2-10h0m355-5h0m4 1h0m2 2h0m3-5h0m8 1h0m1 7h0m2 4h0m1-13h0m1 10h0m2-4h0m6 2h0m1 5h0m0-8h0m0 11h0m2-9h0m2-1h0m0-4h0m0 0h0m0 7h0m1 8h0m2-9h0m4-5h0m0 14h0m2-5h0m1-3h0m0 3h0m2-1h0m2-3h0m1 1h0m1-2h0m2 0h0m3 16h0m1-22h0m0 18h0m1-11h0m4 1h0m1-5h0m0 5h0m1-9h0m0 23h0m4-23h0m5 12h0m3 5h0m4-3h0m7 9h0m137-4h0m7 2h0m4-1h0m0-1h0m2-3h0m2 3h0m1-5h0m0 5h0m0-2h0m3 0h0m2 6h0m2-3h0m18 27h0m-3-2h0m-5-8h0m0 10h0m-2-14h0m0 6h0m-1-10h0m-2 6h0m-1-2h0m-1-7h0m-1 8h0m-1-6h0m-1-3h0m-2 7h0m-2-7h0m-1 5h0m-4-4h0m-7 0h0m-1 2h0m-4-4h0m0 7h0m-1-5h0m-4 11h0m0 1h0m-2-14h0m-1 17h0m-1-14h0m0 4h0m-1 7h0m0 1h0m0 5h0m-1-13h0m-2-2h0m0 8h0m-4 1h0m-97 7h0m-3-6h0m-2 4h0m-13-9h0m-1-3h0m-6 10h0m0 2h0m-1-2h0m-1 0h0m0-10h0m-1 0h0m0 8h0m-8 1h0m-6 3h0m-2-2h0m-2 2h0m-8-11h0m-1 8h0m-1 5h0m-1-11h0m0-3h0m-2 4h0m-2-10h0m-6 19h0m-3-8h0m-1-8h0m-3 16h0m-1-11h0m-5 1h0m-2 12h0m-3-20h0m-4 8h0m-3-3h0m-7-7h0m0 2h0m-4 3h0m-2 15h0m-7-1h0m-258 1h0m-5 2h0m-8-3h0m-4-5h0m-2-1h0m-1 10h0m-1-11h0m-1-1h0m-1 2h0m-1 1h0m-1 5h0m-2-2h0m-5 3h0m0 2h0m-1-1h0m0-8h0m-1 1h0m0 3h0m-2-3h0m-3-3h0m0 8h0m-6-1h0m-7-1h0m-1-2h0m-5 8h0m-38-20h0m-2 1h0m-1 13h0m-4-12h0m-1-1h0m-2 8h0m-1-10h0m-9 18h0m-4-10h0m0 6h0m-2 4h0m-1-3h0m-1 5h0m-97-10h0m0 2h0m0-14h0m0 9h0m-1 12h0m0-13h0m-2 3h0m0-1h0m-1-6h0m-2 14h0m-1-3h0m-2 6h0m-4-13h0m-2 0h0m-3 12h0m-2-11h0m-2 8h0m8 12h0m0-1h0m6-3h0m1 5h0m2 10h0m5-11h0m3-1h0m1 4h0m0 12h0m0-19h0m2 3h0m4 13h0m0 0h0m0-8h0m1 1h0m1 7h0m2-3h0m2-1h0m0 7h0m67 0h0m1 0h0m3-6h0m2 6h0m6-9h0m0-8h0m1 0h0m3 13h0m7-12h0m3 12h0m8-9h0m1-7h0m28 19h0m1 2h0m4-1h0m2-9h0m2 2h0m2 0h0m2 3h0m1-5h0m0-7h0m1-1h0m1 3h0m1 11h0m0-2h0m6-10h0m0 6h0m7-11h0m1 0h0m2 3h0m1-1h0m0-1h0m1 0h0m20 0h0m13 7h0m1-6h0m2 0h0m1 7h0m2-2h0m1 12h0m0 1h0m0-3h0m1 3h0m1-4h0m3-13h0m3 12h0m3 7h0m2-4h0m1-6h0m235 2h0m5-5h0m11 8h0m5-4h0m1-2h0m0 9h0m2-16h0m1 10h0m3 0h0m2-3h0m3-2h0m51-6h0m7-3h0m9 8h0m1-5h0m4 5h0m1-4h0m4 0h0m1 18h0m3-8h0m0 7h0m6-3h0m1-14h0m4 8h0m1 6h0m1-17h0m6 17h0m1-5h0m82 9h0m1-22h0m0 5h0m0 18h0m0-21h0m1 1h0m1-3h0m2 23h0m2-20h0m0 5h0m1 12h0m1-16h0m0 0h0m0 19h0m41-21h0m1 6h0m0 8h0m3-5h0m0 4h0m1-4h0m0-10h0m4 13h0m-1 16h0m0-2h0m-2 8h0m-3-4h0m0 5h0m-1-1h0m-2 10h0m-1-4h0m-1 5h0m-1-6h0m-3-7h0m0 10h0m-6 1h0m0 1h0m-4 1h0m-9-1h0m-2 0h0m-2-1h0m-4-2h0m0 2h0m-3-5h0m-1-4h0m-4-3h0m-2-4h0m0 17h0m0-5h0m0-6h0m-1 4h0m-1 3h0m0-14h0m-1 8h0m-85 10h0m0-1h0m-4-11h0m-5-10h0m-5 4h0m-1 5h0m-1 4h0m-1-4h0m-3 11h0m-3 0h0m-96-17h0m-5 14h0m-3 3h0m-8-10h0m-2 6h0m-2 0h0m-15 7h0m-210-5h0m-1-8h0m-2 10h0m-1-5h0m0-8h0m0-3h0m0 8h0m-2 9h0m0 2h0m-1-10h0m0 1h0m0-7h0m-2-4h0m-2 0h0m0 20h0m-4-1h0m0-10h0m-1-1h0m0 3h0m-1-10h0m-64 3h0m0-4h0m-1 17h0m-2-20h0m-1 8h0m0 9h0m-1-7h0m-3 0h0m-7 10h0m-48-15h0m-1-1h0m-2 1h0m-2-1h0m0-4h0m-4 12h0m-4-6h0m-3 9h0m-2 1h0m-2-7h0m-1-6h0m-3 11h0m-8-12h0m-1-1h0m-3-1h0m-2 12h0m-3 11h0m-1-14h0m0 11h0m-5-20h0m-4 18h0m-1-16h0m-2 0h0m-1 2h0m-1-1h0m-2-1h0m0 6h0m0 8h0m0 2h0m-5-5h0m0-8h0m-1 12h0m-2-6h0m-1-11h0m-1 15h0m-7-14h0m-2 1h0m0 1h0m-2 9h0m-1-10h0m-1 6h0m-2-2h0m-3 7h0m0-6h0m-4 3h0m-5-8h0m-13 15h0m-13-4h0m-4-3h0m-3 2h0m0-2h0m-5 9h0m-1 3h0m0-3h0m-4-14h0m-1 7h0m-1 11h0m0-18h0m-1 2h0m-6 6h0m-1 0h0m0 0h0m-1 0h0m-1-4h0m-7 9h0m-1-1h0m0-9h0m0 3h0m-4 6h0m-5-1h0m-30 31h0m3-3h0m0-1h0m3-5h0m1 1h0m2-5h0m5 6h0m2-4h0m0 7h0m5-5h0m1-1h0m2 6h0m3-3h0m1-12h0m4 8h0m10-10h0m8 0h0m0-1h0m1 1h0m4 1h0m10 2h0m7 1h0m0-5h0m1-1h0m0 6h0m3-5h0m6 9h0m2-5h0m1 5h0m3-9h0m0 16h0m1 3h0m0 1h0m1 0h0m1 2h0m1-12h0m0 2h0m1 2h0m1-5h0m1-3h0m1-6h0m1 19h0m0 1h0m7-1h0m88 2h0m11-4h0m7-5h0m3 0h0m0 5h0m2-7h0m4 10h0m6-14h0m1 10h0m1-4h0m8 1h0m1 9h0m2-3h0m0 1h0m1-14h0m2 0h0m0-1h0m3 9h0m1-6h0m2 0h0m0 1h0m2-10h0m1 17h0m2-7h0m0-5h0m2-4h0m0 20h0m1-5h0m0 0h0m0 3h0m3 4h0m1-8h0m0-7h0m0 5h0m4-5h0m2 10h0m3 0h0m3 2h0m2 1h0m2 2h0m1-2h0m42-6h0m1 5h0m0 2h0m1-8h0m1-4h0m5 12h0m0-7h0m0 0h0m1-5h0m2-10h0m2 2h0m1 5h0m0-3h0m2 0h0m5-1h0m209 13h0m10-13h0m1 18h0m2-21h0m7 20h0m2-19h0m1 10h0m0 8h0m0-12h0m1 5h0m2-1h0m0 10h0m1-4h0m1-9h0m111 8h0m1-15h0m1 14h0m2-7h0m1 6h0m2-13h0m1-1h0m4 3h0m0-3h0m1 8h0m1 5h0m2 5h0m1-5h0m0-2h0m2-3h0m3 1h0m2-8h0m83 0h0m1-1h0m1 2h0m3 0h0m3 7h0m0-4h0m1-4h0m0 1h0m1 5h0m4 0h0m5-7h0m0 2h0m7 9h0m2-11h0m1 11h0m1-5h0m0 2h0m3-2h0m0 2h0m0-8h0m3 6h0m3-3h0m-119 27h0m-4 14h0m-5-4h0m-2-7h0m-5-2h0m0 8h0m-2 6h0m-2-18h0m0-2h0m-1 11h0m0 9h0m0-19h0m-3 9h0m-1-11h0m-1 23h0m0-11h0m-1 10h0m-112-3h0m-1-19h0m-3 21h0m-4-11h0m0 7h0m0-3h0m-3 4h0m-2-9h0m-4 8h0m-1-7h0m-1-10h0m-4 19h0m0 1h0m-5-6h0m-110 9h0m-111-23h0m-2 0h0m-8 1h0m-3 4h0m-1 0h0m-2 0h0m0 4h0m0-2h0m-3-5h0m0-2h0m-5 17h0m-3-15h0m-1 12h0m-3 5h0m-1-16h0m-1 9h0m0 10h0m-1-19h0m0 7h0m0 4h0m-1 4h0m-1 1h0m0-15h0m0 16h0m-1-15h0m0 4h0m-1-7h0m-3 7h0m0 0h0m0 2h0m-1-5h0m-2 4h0m0 12h0m-1-20h0m0 10h0m0-9h0m-2 11h0m0-4h0m-1-7h0m0 17h0m-1-9h0m0 9h0m0-2h0m-1-17h0m-2 6h0m-2 14h0m-1 0h0m-1-21h0m0 14h0m0-4h0m-2 0h0m-1-5h0m-1-4h0m0 5h0m-2-5h0m-1 3h0m-5 2h0m-4 1h0m-6-1h0m-5-6h0m0 2h0m-3 2h0m-22 2h0m-3-4h0m-2 5h0m-1 1h0m0-5h0m-2-2h0m-1 4h0m-3 1h0m-5 1h0m-2 3h0m0-10h0m-5 0h0m-1 3h0m-3 17h0m-1-12h0m-1 1h0m-1 1h0m0-8h0m0 11h0m0 9h0m-1-11h0m-3-6h0m-3 5h0m-3 2h0m-7 6h0m-61-14h0m-1 16h0m-1-15h0m0 3h0m0-6h0m-3 21h0m0 0h0m0-12h0m0 1h0m-3 6h0m-4-3h0m-2-1h0m-1-14h0m-3 9h0m-1 4h0m-1-7h0m-75 15h0m-1-6h0m0-8h0m-1 14h0m-1-17h0m-1 1h0m0 12h0m-1-16h0m-1 15h0m-1 3h0m-1 2h0m-2-6h0m0-12h0m-5 13h0m-3-6h0m0 3h0m-1-1h0m4 21h0m1-5h0m1 9h0m0 7h0m2-20h0m1 6h0m1 7h0m1 6h0m1-1h0m1-16h0m1 17h0m0-19h0m1 6h0m4 13h0m1 4h0m77-1h0m3-22h0m1 16h0m2 6h0m2-16h0m2 7h0m6-6h0m1 9h0m2-14h0m49 11h0m7 4h0m0-4h0m5-9h0m2 6h0m1-5h0m1 12h0m0 5h0m0 0h0m0-2h0m1 2h0m8-18h0m5-3h0m87 7h0m9-8h0m6 10h0m4 10h0m7-3h0m3 6h0m98 0h0m2-7h0m1 5h0m0 0h0m4-9h0m0-3h0m1 5h0m1-1h0m3 6h0m2-15h0m1 10h0m1-3h0m1 2h0m4-6h0m1 1h0m1-2h0m1-5h0m1 3h0m0 1h0m0 0h0m1 2h0m2-3h0m9 1h0m1 2h0m1-1h0m4-2h0m5 6h0m1-5h0m1 3h0m5-6h0m0 1h0m1 10h0m2 7h0m0-15h0m2 17h0m1 0h0m1-7h0m0-2h0m2 4h0m0-5h0m3 4h0m4 5h0m75-19h0m7 3h0m0 1h0m2 13h0m3-16h0m0 19h0m4-7h0m1-15h0m2 8h0m2-2h0m3 5h0m0 12h0m4-16h0m1 9h0m1 7h0m96 0h0m2-4h0m3-1h0m4 2h0m4-2h0m0-12h0m4 2h0m1 4h0m3-1h0m5-3h0m4-7h0m1 10h0m-5 17h0m-2 0h0m-4 3h0m-3 0h0m-1-5h0m-6 5h0m-1 3h0m-1-7h0m-2 1h0m0 4h0m-7-8h0m-2 11h0m-2 4h0m0 3h0m-5 2h0m-1 3h0m-2-5h0m-1 3h0m-3-3h0m-2 2h0m-61 1h0m-1 0h0m-6-5h0m-4-1h0m-2-5h0m0-4h0m-7 13h0m-3 0h0m-1-11h0m0 2h0m-4-2h0m-1 12h0m0-19h0m-2 3h0m0 7h0m-1 11h0m-5-10h0m-85-10h0m-1 13h0m-1-12h0m0 13h0m0-9h0m0-2h0m-1 4h0m-2 5h0m-1 4h0m0-9h0m-1-4h0m0 5h0m-1 8h0m-1-4h0m0-1h0m0-7h0m0 6h0m-1 9h0m-1-9h0m-1 4h0m-4 5h0m-4-1h0m0 3h0m-33-5h0m-1 4h0m-1-3h0m-1-5h0m-1 3h0m-2 2h0m-1-10h0m0-1h0m-1 15h0m0-19h0m-2 9h0m-2-6h0m-2 6h0m0-11h0m-2 2h0m-103 3h0m0 13h0m-3-3h0m-2-9h0m-4-2h0m-1 14h0m-1-12h0m-1-4h0m-1 0h0m-1 8h0m-1-1h0m0 3h0m-2-10h0m0 2h0m-1 15h0m-2-4h0m-2 2h0m-99-3h0m-3-8h0m0 1h0m-4-1h0m-1 9h0m-2-8h0m-4 5h0m-2 8h0m-4-12h0m-2 2h0m-2 5h0m-1-7h0m-51-5h0m-3 7h0m-4 3h0m-3 8h0m-2-10h0m-3 3h0m-1 1h0m-1 5h0m0-7h0m-2-13h0m-1 3h0m-18 17h0m-34 0h0m-8-6h0m-1 1h0m-1-2h0m-4 8h0m0-6h0m-1-1h0m-1 7h0m0-3h0m-3-9h0m0 11h0m-3-18h0m-2 18h0m-2-5h0m-2-6h0m0-9h0m-1 3h0m-2 2h0m0-2h0m-1 13h0m0-4h0m-1-13h0m8 28h0m3 1h0m5 5h0m0-2h0m2 3h0m4-10h0m5 7h0m1-6h0m1 17h0m3-6h0m5 9h0m1-18h0m0 17h0m0-15h0m2 8h0m1-3h0m3-3h0m0 5h0m1-8h0m4 2h0m1 14h0m0-17h0m1 11h0m3-13h0m0 1h0m5 9h0m2 3h0m1-15h0m0 2h0m2 10h0m2-12h0m0 17h0m0-7h0m1-2h0m3 6h0m6-12h0m2 13h0m3-6h0m6-8h0m2 3h0m73 5h0m0-1h0m2-6h0m1 12h0m1-15h0m1 1h0m6 16h0m2-9h0m2 14h0m3-15h0m2-3h0m0 10h0m1-5h0m0-5h0m1 10h0m1 8h0m0-1h0m1-4h0m0 5h0m1-12h0m1 8h0m0 1h0m2-6h0m1 1h0m7 4h0m5 3h0m54-1h0m1-1h0m8 4h0m1-3h0m4 3h0m2-19h0m2 9h0m0-11h0m1 10h0m0-11h0m3 16h0m1 5h0m4-4h0m4-3h0m1-7h0m2 10h0m1 2h0m1-13h0m2 5h0m122-8h0m1-3h0m0 1h0m2 4h0m4-3h0m1-2h0m2 7h0m4-7h0m0 7h0m3-4h0m2 2h0m4-1h0m0-2h0m1 7h0m0-8h0m3 0h0m2 0h0m2 5h0m7-5h0m1-1h0m7 1h0m4-2h0m37 19h0m3 3h0m28 1h0m37-21h0m2 15h0m1-2h0m1-14h0m4 6h0m0-3h0m5-1h0m7 2h0m0 15h0m5-5h0m2 8h0m4-7h0m3-8h0m0 1h0m1-7h0m0 3h0m2 6h0m1-5h0m1 0h0m0 1h0m3 13h0m1-10h0m4 6h0m7 7h0m2-1h0m1-14h0m0 13h0m0-10h0m3-3h0m4 15h0m1-16h0m9 0h0m0 8h0m1 2h0m4-11h0m2 14h0m0-10h0m6 7h0m1 2h0m1-17h0m6 1h0m3 8h0m0 7h0m2-16h0m1 18h0m2-17h0m2 4h0m2 13h0m1-18h0m0 2h0m4-1h0m7 1h0m10 18h0m6-3h0m0-1h0m3-4h0m0 2h0m0 3h0m1 3h0m0-7h0m1-6h0m4-2h0m2-1h0m2 8h0m1-9h0m2 1h0m0 2h0m2 2h0m1-3h0m4-1h0m0 0h0m4 11h0m2-8h0m0 5h0m0 0h0m2 1h0m1 2h0m2-8h0m0 3h0m1-3h0m3 12h0m2-1h0m3-8h0m2 1h0m0 3h0m2 1h0m1 2h0m5 4h0m4 12h0m0 12h0m-1-7h0m0 2h0m-2-14h0m0 11h0m0-4h0m0 2h0m-3-5h0m-1-6h0m0 8h0m-2 0h0m0-6h0m-2 4h0m-1-6h0m-43-2h0m-1 2h0m0-2h0m-5 8h0m0 1h0m0 5h0m-2-5h0m0-1h0m-1-6h0m-3 9h0m-1 3h0m-1-8h0m-2 5h0m-1 11h0m-22-22h0m-2 7h0m-1-7h0m-8 10h0m0 0h0m-7-8h0m-2 8h0m0-10h0m-6 15h0m-4-12h0m-2-1h0m-2 14h0m-1-13h0m0 17h0m-2-4h0m-5 5h0m-1-16h0m-1-3h0m-6 13h0m-2 5h0m-8-17h0m0 14h0m-2 0h0m-6-13h0m-2 1h0m-2 5h0m0-2h0m-9 2h0m-1-3h0m-29 15h0m-2-4h0m-3 4h0m-1-4h0m-8 1h0m-1-14h0m-3 0h0m-1 12h0m0-11h0m0 14h0m-1-19h0m0 18h0m-1-15h0m-1 15h0m0-16h0m-4 13h0m-1-1h0m-1-15h0m-1 1h0m-1 8h0m0 5h0m-2 0h0m-1-2h0m-2 1h0m-2-8h0m-5-3h0m-2 4h0m-2 1h0m-1-2h0m-2 5h0m0-4h0m-1 4h0m-4-6h0m-2 2h0m-15 0h0m-5-4h0m-2 8h0m0-7h0m-2 8h0m-1-10h0m-2 5h0m-1 2h0m-2-5h0m-1 6h0m-1 2h0m-4 3h0m-1-10h0m-1 1h0m0 3h0m-1 0h0m-1-4h0m0 14h0m0-2h0m-1-3h0m-2-2h0m0 0h0m0-3h0m-1-3h0m0 13h0m-1-7h0m-1-8h0m-1 5h0m-4 14h0m-2-8h0m-2 0h0m-1 4h0m0-7h0m-2-3h0m-2 8h0m-1 2h0m-1 2h0m-3-9h0m-56 10h0m-3 0h0m0 0h0m-6-4h0m0 6h0m-1-2h0m-9 1h0m-8-5h0m-1 2h0m-5 1h0m-8 3h0m-59-19h0m-6 0h0m-4 4h0m-4 7h0m-2-2h0m-2-4h0m0-8h0m-5 19h0m-1-11h0m-2-8h0m-2 4h0m0 2h0m-1-7h0m-2 17h0m-3-16h0m-4 18h0m-1 2h0m0-15h0m-1 7h0m0 9h0m-1-5h0m-2-4h0m-1 5h0m0-8h0m-1-2h0m-4 5h0m-3 1h0m-2-1h0m-1-1h0m0-5h0m-4-3h0m-1 19h0m-1-4h0m-1-6h0m0 3h0m-4-9h0m-1 7h0m-3-9h0m0 4h0m-1 11h0m-2-16h0m-3 19h0m0-19h0m0 5h0m-5-1h0m-1-5h0m-4-3h0m-2 2h0m-1 11h0m0-12h0m-1 6h0m-4 3h0m-4-9h0m-2 8h0m0-5h0m-6-4h0m41 25h0m0 0h0m9-1h0m90 23h0m1-1h0m2-6h0m0-3h0m2 2h0m0 7h0m3-16h0m1 11h0m1-6h0m4 3h0m0-11h0m1 2h0m0 12h0m0 3h0m1-4h0m4-6h0m1-10h0m1 5h0m3 0h0m5-2h0m7 2h0m2-3h0m2 2h0m5-3h0m0 2h0m0 1h0m5 0h0m5 1h0m0-1h0m1-1h0m1 1h0m0-1h0m1 2h0m1-4h0m0 5h0m2 3h0m4-8h0m0 11h0m1-6h0m0 7h0m2-2h0m0-6h0m1-1h0m1 4h0m1 4h0m0-8h0m0 4h0m1 8h0m1 6h0m1-3h0m2-13h0m0 11h0m4-8h0m0 6h0m1 8h0m2-3h0m12 1h0m8-8h0m2-2h0m1-1h0m2 12h0m3-17h0m3 10h0m1-7h0m2-1h0m0 7h0m1-5h0m0 4h0m1-9h0m1 16h0m1 1h0m1-4h0m3-11h0m1 0h0m4-3h0m103-1h0m2 8h0m1 9h0m1-17h0m1 2h0m1-2h0m2 9h0m3 4h0m1-10h0m1 0h0m4-2h0m0 17h0m5-19h0m1 6h0m0 7h0m1 7h0m1-1h0m119-14h0m0-2h0m0 0h0m2 6h0m2-9h0m2 2h0m3 6h0m0-8h0m0 17h0m0-3h0m1 1h0m1-2h0m1-8h0m2 8h0m1 7h0m0-1h0m1-7h0m1 3h0m3 7h0m3-4h0m1-2h0m1-1h0m2 5h0m2 0h0m1-1h0m4-2h0m1 0h0m2 0h0m2-1h0m1 6h0m2-2h0m3-1h0m1-4h0m1 0h0m1 2h0m1-3h0m8-11h0m1 3h0m0 12h0m5-13h0m2-3h0m2 6h0m-17 15h0m-4 2h0m-1-1h0m-1 3h0m0-3h0m-7 0h0m-125 21h0m0-5h0m-1-4h0m-1-1h0m-1-4h0m-3 7h0m-3-8h0m0 1h0m0 6h0m-5-11h0m-1 5h0m-1-3h0m0 7h0m-1-4h0m-1 0h0m0 2h0m-1 1h0m-4-4h0m-2-5h0m0-1h0m-1 7h0m0 2h0m-3-9h0m0 8h0m-1-2h0m-1-6h0m-1 10h0m-3-5h0m-2-1h0m-1 4h0m-1-2h0m-5-5h0m-2 11h0m0 0h0m-1-10h0m0 17h0m0-9h0m0 10h0m-1-3h0m0-10h0m-1 9h0m-1-5h0m-1 7h0m0-4h0m-1-10h0m0 6h0m-2-6h0m-1 12h0m-1-1h0m0-14h0m-2-1h0m-2 21h0m-3-14h0m-1 0h0m-4 7h0m-1-3h0m-87 6h0m-1 5h0m-1-2h0m-1-4h0m0-3h0m-4-1h0m-2-2h0m0 8h0m0 3h0m-3-7h0m-1 3h0m-3-4h0m0-7h0m-1 4h0m-1 9h0m-2-12h0m-4 0h0m-2-1h0m-1-7h0m-7 6h0m-13 10h0m0 4h0m-2-9h0m-1-11h0m-5 3h0m-2 9h0m0-3h0m-2 4h0m-2 5h0m0-2h0m-1 6h0m-1 0h0m-2 1h0m-58 0h0m-3-7h0m-1-3h0m0 3h0m-1-11h0m-1-2h0m0-1h0m-2 14h0m-5-9h0m-234 15h0m-6-6h0m-5 2h0m-4 1h0m-1 1h0m0-4h0m-7-2h0m-5 9h0m-1-5h0m-2 3h0m-1-1h0m-1-1h0m-5 2h0m0-3h0m-4 5h0m-1-9h0m-17 7h0m-20 22h0m1 1h0m2 2h0m4-6h0m1 3h0m1-4h0m1 6h0m1-10h0m2 2h0m12-2h0m26-9h0m20 1h0m1 3h0m1 1h0m3-4h0m2 7h0m1 0h0m4-4h0m0 0h0m0 1h0m3-4h0m1 4h0m0 13h0m0-4h0m0 0h0m4 5h0m1-17h0m2 8h0m1 9h0m1 1h0m2-2h0m4 1h0m1-6h0m2 4h0m214-19h0m6 5h0m3 3h0m1-5h0m3 6h0m0-1h0m1-3h0m2-5h0m1 5h0m3 13h0m3-8h0m1-3h0m0 0h0m4 4h0m1-1h0m3 7h0m1-3h0m0-3h0m1 2h0m1-1h0m2 2h0m1 6h0m2-7h0m2 8h0m7-8h0m2 3h0m0-5h0m2 2h0m1-3h0m3-1h0m1-4h0m0 4h0m0-4h0m3-2h0m1 1h0m2-4h0m1 15h0m2-3h0m0-3h0m2-6h0m10-3h0m2 0h0m31 2h0m1 1h0m10-2h0m4 7h0m4-7h0m0 0h0m1 9h0m1-2h0m2-5h0m2 5h0m0 0h0m2 4h0m0-10h0m3 11h0m0-12h0m1 3h0m1 11h0m2-13h0m1 11h0m1 1h0m0 1h0m1-12h0m0-1h0m8 6h0m3-5h0m0 2h0m1-3h0m0 10h0m1 3h0m0-3h0m1 0h0m1 2h0m0-8h0m5 8h0m3-5h0m1-2h0m3-6h0m1 0h0m1 1h0m4 5h0m6 0h0m1 6h0m0-11h0m1 10h0m3-5h0m3-2h0m2-1h0m0 1h0m3 5h0m1-7h0m4 1h0m6 3h0m17 6h0m0 0h0m1 4h0m1-1h0m0-7h0m1-7h0m0 9h0m2 9h0m4 2h0m6 1h0m38-2h0m2-7h0m2 8h0m0-8h0m1-7h0m1 8h0m0-9h0m1-1h0m1-5h0m1 14h0m0-4h0m0 6h0m1-1h0m0-8h0m0 2h0m1 0h0m3-8h0m0 5h0m-8 19h0m0 0h0m-3 2h0m-1-1h0m-2-2h0m-1 3h0m-2 1h0m0 2h0m-2 2h0m0 1h0m-1 1h0m-1 0h0m0-6h0m-4 5h0m-1-6h0m-3 6h0m-1 3h0m-3-2h0m-1-6h0m-2 8h0m-1-1h0m-1-6h0m-2 0h0m0-1h0m-2 0h0m-6 3h0m-3-3h0m0 3h0m-1-4h0m-1 4h0m-2-3h0m-455 16h0m-1-6h0m0 2h0m-1 6h0m0-8h0m-1 8h0m-1-12h0m-1-5h0m-2 12h0m0-17h0m0 4h0m-1 4h0m-1 8h0m-1-13h0m0 6h0m-3 12h0m0-21h0m0 9h0m-1 13h0m-1-6h0m-72 7h0m-3-20h0m0 7h0m-3-5h0m-1 7h0m0-11h0m0 7h0m-1 7h0m-1-1h0m0-11h0m0 19h0m-1 0h0m0-10h0m-1 4h0m0 3h0m-2-1h0m-1-17h0m-5 5h0m0 5h0m-1-4h0m8 21h0m2 1h0m2 4h0m1-6h0m2-2h0m4 10h0m1-8h0m1 10h0m0 3h0m4-8h0m0-7h0m1 14h0m1-4h0m3 8h0m1-4h0m3 8h0m1-15h0m0 6h0m2-5h0m2 6h0m3 6h0m1-1h0m2-3h0m4 1h0m7 1h0m4-5h0m0-2h0m0 11h0m1-1h0m0-4h0m2-4h0m0 1h0m2-4h0m2 9h0m1-9h0m1 4h0m1 4h0m1-2h0m1-3h0m1-3h0m2 0h0m1-1h0m0 13h0m2-5h0m1 0h0m0-12h0m2 4h0m1 2h0m0 6h0m0-3h0m0-10h0m4-2h0m1 13h0m1-7h0m3-7h0m3 4h0m3-5h0m4 4h0m-32 19h0" fill="none" stroke="#56206e" stroke-width="9.2" stroke-linecap="round" stroke-opacity="0.78"/><path transform="translate(5 709) scale(.25)" d="M223 21h0m3 0h0m0-5h0m1 7h0m2-5h0m2 0h0m2-4h0m2-1h0m1-4h0m1 4h0m1-3h0m9 1h0m0-3h0m12 3h0m0-1h0m2 5h0m5 8h0m514-3h0m9 2h0m1-15h0m1 12h0m12-7h0m6-8h0m18 16h0m6-1h0m3 13h0m-3 11h0m-2-11h0m-4-2h0m0 4h0m-1-4h0m0 7h0m-38-13h0m-4 20h0m-3-10h0m-6 11h0m-112 1h0m-398-18h0m-2 5h0m-7 4h0m-11 3h0m-20-11h0m-1-5h0m0 1h0m-178 46h0m12-4h0m5-1h0m5-3h0m14 2h0m22 6h0m213-5h0m5 0h0m1-7h0m0 4h0m1-2h0m7 5h0m8 4h0m5-5h0m170 6h0m1-5h0m1 4h0m119-8h0m2 5h0m6-10h0m4 2h0m5 5h0m1-9h0m0 16h0m7-21h0m38 19h0m1-1h0m82-11h0m9 10h0m4-3h0m5-4h0m4 11h0m1-9h0m2 5h0m2-5h0m5-1h0m0 4h0m1-2h0m8-9h0m9 0h0m0-4h0m1 8h0m-131 18h0m-1 14h0m0-16h0m-47 1h0m-4 7h0m-2 5h0m-5-3h0m-2 8h0m-1-18h0m-1 10h0m-104 9h0m-2-7h0m-1-7h0m-23-6h0m-1 1h0m-3 0h0m-1 19h0m0-14h0m-1 0h0m-2 4h0m0-10h0m-154 0h0m-27 0h0m-2 1h0m-2 4h0m-1-3h0m-1 0h0m-1 19h0m-2-5h0m-2 3h0m0-14h0m-225-2h0m-13-2h0m-4 5h0m-3-7h0m-16 9h0m-6 2h0m-1-7h0m-4 5h0m0-2h0m-1 2h0m-3 33h0m54 4h0m0-1h0m2-1h0m2 0h0m6-3h0m2 4h0m8-8h0m2 6h0m0 0h0m10-8h0m195-5h0m6 4h0m0-4h0m2 10h0m11 0h0m4 1h0m9-7h0m2-9h0m0 9h0m2-9h0m1 1h0m160 2h0m3 2h0m1 2h0m7 0h0m5-7h0m5 1h0m2-1h0m95 4h0m2 7h0m3 0h0m6 10h0m4-6h0m0-5h0m2 8h0m3-11h0m44-7h0m1 14h0m6-9h0m109 1h0m6-6h0m0 2h0m10 0h0m1 0h0m3 2h0m4 6h0m2 5h0m0-9h0m2 16h0m1 0h0m-15 13h0m0 0h0m-3 6h0m-10-5h0m-2-1h0m-4-10h0m0 6h0m-2-7h0m-117 4h0m-41-1h0m-540-1h0m-24 10h0m-5-11h0m-3 9h0m-1-2h0m-11-5h0m-9 8h0m-8-10h0m-1 3h0m-3-1h0m-1 0h0m-3-1h0m-36 41h0m26-12h0m98 15h0m9 0h0m1-3h0m3-3h0m3 0h0m285 25h0m-4-2h0m-8 6h0m-2-6h0m0-7h0m-1 2h0m-3 1h0m-3-11h0m-1 8h0m-2 3h0m-4 2h0m-8 6h0m-5-6h0m-1-3h0m-2 6h0m-1-15h0m-2 14h0m-4 5h0m-1 0h0m-2-5h0m-3-8h0m-1 14h0m-8-8h0m-5 6h0m-190-10h0m0 1h0m-14-10h0m-22 5h0m-2-2h0m-7 8h0m-5 4h0m-2 4h0m-3-18h0m0 4h0m-1 15h0m0-10h0m-5 12h0m-1-8h0m-5 6h0m-48-10h0m-2-3h0m-1 7h0m0-9h0m-1 14h0m-1-10h0m-3-10h0m-46 22h0m-1-2h0m-3-8h0m-3 17h0m0 11h0m0 3h0m1 0h0m8-3h0m47-10h0m6 6h0m2 4h0m1-2h0m40 8h0m2-22h0m1 4h0m4 8h0m0-12h0m3 23h0m5-18h0m59 0h0m174 9h0m12 6h0m0-13h0m1 7h0m2 3h0m3-8h0m4 4h0m1-7h0m0 7h0m3-3h0m0 2h0m1 7h0m5-8h0m2-7h0m1 7h0m3 2h0m7-11h0m1 10h0m2-5h0m8-7h0m7 0h0m5 7h0m2-1h0m3 5h0m1-3h0m0 8h0m3-16h0m398 41h0m-7 2h0m-15 2h0m-1-6h0m-362-4h0m-6-6h0m0 10h0m-2-10h0m0 7h0m-2-2h0m-4-4h0m-49-3h0m0 3h0m-4 15h0m-1-3h0m-3-10h0m-3-4h0m0 17h0m-2-3h0m-3-12h0m-2 4h0m-1-5h0m-1-1h0m-3-2h0m-3 4h0m-2 17h0m-3-21h0m-173-2h0m-60 4h0m-1 15h0m-1-14h0m-1 8h0m-3-1h0m-3-5h0m-49 3h0m-5 10h0m-46-10h0m0-7h0m-1 5h0m-1-5h0m6 24h0m5 1h0m11 9h0m2-1h0m27-12h0m297 5h0m6-2h0m3 19h0m0-1h0m3-17h0m0 0h0m3 7h0m1 1h0m0-3h0m2 13h0m7-14h0m2 12h0m1-15h0m0-2h0m28 19h0m3-1h0m9-13h0m6-4h0m368 7h0m2-3h0m0 6h0m2-13h0m1 21h0m28-19h0m1 8h0m2 1h0m0-6h0m1 0h0m2 3h0m-3 16h0m-1 3h0m-2 1h0m-13 4h0m-1 3h0m-10-8h0m-1 3h0m-6-6h0m-383 6h0m-3-7h0m-13 6h0m-5 8h0m-18-11h0m-241 33h0m2 7h0m4 0h0m2-8h0m5-5h0m1 0h0m8 11h0m1-3h0m4 0h0m10 5h0m0-5h0m4-7h0m3 8h0m17-8h0m10 8h0m3-1h0m231 5h0m10-1h0m0-12h0m6 1h0m5-1h0m4-1h0m3 3h0m1 6h0m1-4h0m1-1h0m0 4h0m11-10h0m2 4h0m0 0h0m1-6h0m1 6h0m2 2h0m5-2h0m4 4h0m308 33h0m-3-11h0m-3 1h0m-3-2h0m-1 8h0m-3-6h0m-294 11h0m-4-5h0m-6 6h0m-69-12h0m-12 12h0m-119 1h0m-2-1h0m0 1h0m-20-13h0m-8 8h0m-1 1h0m-4-2h0m-1 4h0m-33-6h0m-1-6h0m-4-3h0m-90 1h0m-6 8h0m-1-6h0m5 23h0m34 13h0m9-1h0m12-1h0m3 2h0m35-19h0m36 19h0m32-15h0m0-2h0m3 13h0m1-2h0m4-9h0m2 4h0m154 6h0m2 1h0m5-4h0m2 9h0m1-5h0m9-1h0m6-6h0m3-3h0m0-2h0m2 1h0m6-2h0m2-3h0m6 2h0m2-1h0m244 20h0m6-6h0m57-14h0m1 7h0m0 4h0m8-5h0m9 7h0m-2 31h0m-5 0h0m-1-20h0m-4 16h0m-2-15h0m-53 16h0m-4-1h0m-1-8h0m-4 4h0m-2-2h0m-295-12h0m-4 0h0m-164 11h0m-2 5h0m-2-6h0m-7 4h0m-5-4h0m-6-4h0m-1-3h0m-1 3h0m-5 5h0m-3-9h0m-203 43h0m1-1h0m550 1h0m2 2h0m3-2h0m14-14h0m3 6h0m4 0h0m3-3h0m2 9h0m1-4h0m1-11h0m17 5h0m2 2h0m97 1h0m2 8h0m5-13h0m1 1h0m2 3h0m0 10h0m55-5h0m0-1h0m6 6h0m0-2h0m0-16h0m3 12h0m1-1h0m1 5h0m2-15h0m-9 24h0m-47 3h0m-7 0h0m-98 16h0m-3-7h0m-2-11h0m-4 16h0m-3-5h0m-1-15h0m-4 3h0m-4-1h0m-2-3h0m-34 9h0m-1-3h0m-3 16h0m0-1h0m-1-14h0m-1 3h0m-2 1h0m-1 1h0m-530 0h0m-4 8h0m-1-8h0m-1 3h0m-2-9h0m-1 7h0m-2-12h0m-3 7h0m-2-1h0m-27 1h0m-9 15h0m-1 17h0m45-8h0m0 7h0m0-2h0m1 9h0m1-22h0m0 17h0m1-5h0m3-5h0m0 3h0m0 7h0m0-13h0m530 9h0m1-3h0m6 8h0m2-4h0m4-3h0m22 11h0m14-7h0m7-14h0m2 22h0m4-6h0m1-13h0m3 16h0m2-19h0m0 18h0m0 2h0m1-13h0m-7 19h0m-3-2h0m-3 7h0m-5-7h0m-4 13h0m-2 0h0m-2-11h0m-2 11h0m-5-13h0m-6 13h0m-10-13h0m-1-1h0m-2 4h0m-6-3h0m-2 1h0m-394 20h0m-1-4h0m-1 5h0m-21-15h0m-4 2h0m-2 1h0m-115 2h0m-3 4h0m0-8h0m-5 2h0m0-9h0m-2 18h0m0-2h0m-11 5h0m-5 0h0m-19-16h0m33 18h0m60 13h0m2 0h0m77-13h0m6 11h0m9-8h0m8 13h0m0-11h0m0 15h0m627 20h0m-3-6h0m-2 3h0m-3-3h0m0-3h0m-2 5h0m-4-1h0m-2 2h0m-7 6h0m-1-5h0m-1-5h0m-170 9h0m-434-15h0m-2 13h0m-4-1h0m-2-16h0m-1 4h0m-10 13h0m-1-1h0m-66 6h0m-8-13h0m0-3h0m-2 4h0m6 18h0m2 1h0m7 1h0m2 3h0m4 9h0m5-2h0m42-1h0m3-2h0m3 3h0m8-15h0m3 10h0m2-7h0m85 4h0m2 4h0m1 4h0m0-5h0m4-2h0m2 2h0m0-3h0m9-8h0m1 3h0m0 8h0m2 3h0m6 1h0m5-11h0m0 11h0m1-1h0m3 4h0m2-3h0m287-2h0m8 9h0m0-15h0m6-3h0m4 7h0m0 12h0m3-18h0m3 12h0m10-17h0m168 0h0m29 15h0m1-8h0m4 3h0m-7 15h0m-2 4h0m-1 5h0m-2 5h0m-2 3h0m-3 4h0m-2-4h0m-2 2h0m-6-9h0m-7 4h0m0-12h0m-1 9h0m-5-8h0m-111 17h0m-9 2h0m-3-22h0m-47 20h0m-1-7h0m-3 0h0m-5-14h0m-1 12h0m-6 2h0m-1-13h0m-8 16h0m-5-2h0m-3-9h0m-10 7h0m-264-2h0m-1-1h0m-2-6h0m0 18h0m-46-20h0m-2 0h0m-1 9h0m-2-4h0m-194 28h0m2 12h0m7-4h0m2-4h0m189-6h0m6 8h0m2 6h0m8-10h0m3 3h0m2 1h0m3 4h0m4-6h0m12-7h0m3-4h0m2 8h0m262-1h0m10-5h0m1 14h0m3 3h0m10-15h0m1 0h0m5-8h0m1 10h0m2 12h0m1-17h0m3 9h0m1-7h0m3 3h0m3-2h0m0-8h0m48 21h0m6-14h0m3-2h0m2 14h0m1-11h0m3 10h0m1-1h0m1-1h0m-5 18h0m0 5h0m-8 8h0m-3-13h0m-58 0h0m-5-5h0m-2-3h0m-5-1h0m-1 14h0m-1 4h0m-18-5h0m-2 9h0m-1-22h0m-488 2h0m-8 5h0m0 15h0m-1-20h0m-3-1h0m-1 4h0m-2 3h0m-1 0h0m0-4h0m-60 14h0m58 20h0m11-2h0m5-7h0m333 15h0m6-4h0m1-6h0m0-2h0m4-1h0m3 4h0m24 9h0m0-1h0m2-4h0m121-6h0m3-7h0m4 11h0m1-7h0m0 16h0m1-8h0m3 3h0m7-4h0m0-12h0m2 17h0m5-19h0m3 22h0m1-9h0m2 2h0m1 0h0m2-8h0m3 6h0m1 3h0m43 6h0m14-5h0m-16 21h0m-40-14h0m-1 20h0m-2-17h0m-7 11h0m-2 2h0m-11-5h0m-1 1h0m-136-3h0m0-1h0m0-4h0m0 0h0m-1-4h0m-6 18h0m-4-2h0m-7 4h0m-2-1h0m-12 2h0m-1-1h0m-6-12h0m0 5h0m0 3h0m-139-9h0m-24 3h0m-12 9h0m-3-1h0m-1-5h0m-4 6h0m-3 0h0m-3 0h0m-15 3h0m0-5h0m-7 0h0m0 1h0m-17-2h0m-7-2h0m-1 4h0m-7-2h0m-98-8h0m-8 4h0m-1-7h0m-2-3h0m-4 12h0m-2-1h0m-6 6h0m-4 3h0m-5 6h0m1-3h0m0 2h0m10-2h0m124 1h0m6-2h0m1 7h0m1 7h0m0-9h0m6 14h0m1-19h0m0 9h0m2 3h0m4 9h0m8-21h0m1 12h0m2-4h0m3 1h0m1 7h0m2 3h0m1-15h0m4-2h0m2 5h0m2 1h0m4 11h0m6-19h0m3 22h0m1-12h0m1-6h0m3-2h0m0 9h0m2 4h0m4-12h0m12 7h0m347-3h0m10-7h0m93 22h0m2-3h0m1 2h0m6-2h0m10-1h0m14 17h0m0 2h0m-1-8h0m-2 2h0m-3-3h0m-9-4h0m-5 0h0m-13 1h0m-2 0h0m-3 0h0m-3 8h0m-1 10h0m-2 3h0m-1-9h0m-180 3h0m-2 0h0m-5-3h0m-6 9h0m-10-6h0m-1-6h0m-3 9h0m-5-7h0m-8 5h0m-1-1h0m-1 6h0m-6 0h0m-4-6h0m-8 0h0m-7 7h0m-228-17h0m0-3h0m-12 1h0m114 41h0m4 2h0m1-1h0m7-15h0m2 9h0m0-7h0m6 0h0m0 1h0m12 2h0m17 6h0m3-3h0m3 6h0m60-14h0m4-2h0m6-4h0m5 3h0m75-4h0m168 1h0m3 2h0m16 12h0m4-1h0m2-1h0m5 0h0m15-11h0m-161 37h0m0-2h0m-1 4h0m-1-4h0m-4-1h0m-1-2h0m-14 2h0m-6 9h0m-3 2h0m-18-18h0m-17 8h0m-3 2h0m-6-3h0m-2 11h0m-2-3h0m-1-3h0m-7-4h0m-2 4h0m-20 4h0m0-1h0m-5-5h0m-6 2h0m-80-4h0m-2-1h0m-3 10h0m-1-9h0m-39 10h0m-3-3h0m-4 2h0m-2-6h0m0-10h0m-1-1h0m-5 9h0m-298 19h0m9 1h0m5-6h0m4 1h0m2 4h0m6 1h0m0-5h0m7-2h0m6 13h0m1-4h0m0-6h0m5 11h0m1-3h0m1-1h0m4 2h0m262-15h0m7 1h0m19 4h0m5-4h0m183 9h0m7 9h0m1 3h0m1-4h0m4 5h0m3-2h0m17 2h0m1-3h0m1-3h0m3 5h0m0-7h0m4 0h0m-12 10h0m-5 1h0m-6-1h0m-557 0h0m-2 4h0m-3 12h0m0-12h0m9 20h0m4 1h0m7 6h0m1-2h0m0-5h0m1 0h0m10 5h0m2 5h0m5-1h0m2-8h0m12 1h0m8 0h0m3-1h0" fill="none" stroke="#8a4a9a" stroke-width="7.6" stroke-linecap="round" stroke-opacity="0.6"/></g></g></g><g clip-path="url(#clP4)"><rect x="236" y="709" width="211" height="210" fill="#df8db5" /><rect x="236" y="709" width="211" height="210" fill="none" filter="url(#t4b)"/><rect x="182" y="654" width="320" height="320" filter="url(#s4l)" transform="rotate(-22 341.5 814.0)"/><rect x="182" y="654" width="320" height="320" filter="url(#s4d)" transform="rotate(-22 341.5 814.0)"/><g filter="url(#dp4)"><g filter="url(#bl2)"><path d="M248.3 755.1C243.7 754.1 261.6 743.8 269.8 742.8C278.0 741.8 301.1 746.9 297.5 749.0" fill="none" stroke="#a45c9a" stroke-width="31.8" stroke-linecap="round" stroke-linejoin="round" stroke-opacity="0.95"/><path d="M254.4 779.7C250.3 778.7 265.7 786.4 272.9 788.9C280.1 791.5 300.6 796.6 297.5 795.1" fill="none" stroke="#a45c9a" stroke-width="21.2" stroke-linecap="round" stroke-linejoin="round" stroke-opacity="0.95"/><path d="M282.1 721.3C278.0 720.8 303.6 718.2 312.9 718.2C322.1 718.2 342.6 720.8 337.5 721.3" fill="none" stroke="#a45c9a" stroke-width="19.4" stroke-linecap="round" stroke-linejoin="round" stroke-opacity="0.95"/><path d="M340.5 715.1C338.0 715.7 358.5 718.2 365.1 718.2C371.8 718.2 384.6 715.7 380.5 715.1" fill="none" stroke="#a45c9a" stroke-width="15.9" stroke-linecap="round" stroke-linejoin="round" stroke-opacity="0.95"/><path d="M380.5 742.8C375.4 741.3 393.3 738.7 402.0 739.7C410.7 740.8 436.4 748.5 432.8 749.0" fill="none" stroke="#a45c9a" stroke-width="24.8" stroke-linecap="round" stroke-linejoin="round" stroke-opacity="0.95"/><path d="M309.8 767.4C305.7 766.9 326.2 761.8 334.4 761.3C342.6 760.8 363.1 763.3 359.0 764.3" fill="none" stroke="#a45c9a" stroke-width="19.4" stroke-linecap="round" stroke-linejoin="round" stroke-opacity="0.95"/><path d="M362.1 773.6C358.0 774.6 375.9 777.2 383.6 776.6C391.3 776.1 411.8 771.0 408.2 770.5" fill="none" stroke="#a45c9a" stroke-width="17.7" stroke-linecap="round" stroke-linejoin="round" stroke-opacity="0.95"/><path d="M414.3 776.6C412.8 773.6 425.6 788.9 429.7 795.1C433.8 801.2 441.5 816.6 438.9 813.5" fill="none" stroke="#a45c9a" stroke-width="31.8" stroke-linecap="round" stroke-linejoin="round" stroke-opacity="0.95"/><path d="M236.0 813.5C233.4 812.5 246.2 817.6 251.4 819.7C256.5 821.7 269.3 826.9 266.7 825.8" fill="none" stroke="#a45c9a" stroke-width="24.8" stroke-linecap="round" stroke-linejoin="round" stroke-opacity="0.95"/><path d="M272.9 801.2C267.8 801.8 293.4 801.8 303.6 801.2C313.9 800.7 339.5 798.2 334.4 798.2" fill="none" stroke="#a45c9a" stroke-width="17.7" stroke-linecap="round" stroke-linejoin="round" stroke-opacity="0.95"/><path d="M325.2 822.8C318.0 824.8 343.6 826.3 352.8 825.8C362.1 825.3 373.3 821.7 380.5 819.7C387.7 817.6 405.1 813.0 395.9 813.5" fill="none" stroke="#a45c9a" stroke-width="28.3" stroke-linecap="round" stroke-linejoin="round" stroke-opacity="0.95"/><path d="M368.2 838.1C364.1 839.2 387.2 839.2 395.9 838.1C404.6 837.1 425.1 832.0 420.5 832.0" fill="none" stroke="#a45c9a" stroke-width="21.2" stroke-linecap="round" stroke-linejoin="round" stroke-opacity="0.95"/><path d="M236.0 856.6C230.9 855.6 251.4 855.6 260.6 856.6C269.8 857.6 295.4 862.7 291.3 862.7" fill="none" stroke="#a45c9a" stroke-width="28.3" stroke-linecap="round" stroke-linejoin="round" stroke-opacity="0.95"/><path d="M291.3 875.0C283.1 876.1 306.7 873.0 315.9 872.0C325.2 870.9 338.5 869.9 346.7 868.9C354.9 867.9 374.4 864.8 365.1 865.8" fill="none" stroke="#a45c9a" stroke-width="24.8" stroke-linecap="round" stroke-linejoin="round" stroke-opacity="0.95"/><path d="M368.2 872.0C362.6 873.0 385.6 875.5 395.9 875.0C406.1 874.5 434.3 869.4 429.7 868.9" fill="none" stroke="#a45c9a" stroke-width="24.8" stroke-linecap="round" stroke-linejoin="round" stroke-opacity="0.95"/><path d="M236.0 896.6C230.9 896.6 251.4 894.0 260.6 893.5C269.8 893.0 295.4 893.0 291.3 893.5" fill="none" stroke="#a45c9a" stroke-width="28.3" stroke-linecap="round" stroke-linejoin="round" stroke-opacity="0.95"/><path d="M297.5 908.9C291.3 908.9 317.0 906.3 328.2 905.8C339.5 905.3 370.3 905.3 365.1 905.8" fill="none" stroke="#a45c9a" stroke-width="21.2" stroke-linecap="round" stroke-linejoin="round" stroke-opacity="0.95"/><path d="M374.4 905.8C368.1 906.3 396.2 903.7 408.2 902.7C420.1 901.7 451.6 899.1 446.0 899.6" fill="none" stroke="#a45c9a" stroke-width="24.8" stroke-linecap="round" stroke-linejoin="round" stroke-opacity="0.95"/><path d="M426.6 844.3C425.5 842.2 435.7 852.5 438.9 856.6C442.2 860.7 448.0 870.9 446.0 868.9" fill="none" stroke="#a45c9a" stroke-width="24.8" stroke-linecap="round" stroke-linejoin="round" stroke-opacity="0.95"/><path d="M408.2 709.0C405.0 708.0 420.3 713.1 426.6 715.1C432.9 717.2 449.1 722.3 446.0 721.3" fill="none" stroke="#a45c9a" stroke-width="17.7" stroke-linecap="round" stroke-linejoin="round" stroke-opacity="0.95"/><path d="M236.0 721.3C233.4 720.8 243.7 718.2 248.3 718.2C252.9 718.2 265.7 720.8 263.7 721.3" fill="none" stroke="#a45c9a" stroke-width="17.7" stroke-linecap="round" stroke-linejoin="round" stroke-opacity="0.95"/></g><g filter="url(#bl05)"><path transform="translate(236 709) scale(.25)" d="M32 7h0m2 12h0m1-3h0m16-11h0m4 4h0m15 11h0m2-8h0m13 10h0m6 0h0m12-6h0m92 5h0m11-5h0m20-9h0m4 6h0m6 0h0m14 1h0m25-3h0m12-6h0m29 5h0m8-8h0m6 16h0m5-6h0m0-3h0m5 9h0m15-9h0m6 10h0m29-8h0m43-4h0m17-4h0m0 7h0m4-3h0m2 1h0m6 7h0m3 4h0m9-9h0m7 2h0m7 7h0m19-11h0m20 6h0m13 0h0m24-12h0m17 0h0m8 16h0m4-12h0m4-2h0m63 11h0m3 5h0m3-10h0m10 13h0m4-9h0m0-8h0m13 7h0m17 5h0m19 3h0m12-1h0m1-7h0m5-1h0m5 8h0m3-16h0m9 14h0m12-15h0m3 11h0m7 8h0m43 17h0m-6-9h0m-10 0h0m-9 17h0m-8-1h0m-3-20h0m-6 7h0m0 0h0m-9 7h0m-1 5h0m-2 2h0m-6-23h0m-3 19h0m-47-2h0m-15 1h0m-2-4h0m-12-14h0m-87 4h0m-4 10h0m-1-14h0m-8 1h0m-47 13h0m-8 5h0m-2-7h0m-2 8h0m-4-12h0m-13 15h0m-1-20h0m-4 14h0m-13 1h0m-12-8h0m-5 5h0m-4 7h0m-24-18h0m-8 13h0m-2 0h0m-5 2h0m-5-14h0m0 7h0m-6 8h0m-15-11h0m-2 6h0m-8-14h0m-5 21h0m-8-15h0m-6-4h0m-12 9h0m-6-5h0m-19 2h0m-3 12h0m-16-7h0m-5-8h0m-1 15h0m-5-2h0m-12-5h0m-5-10h0m-11 6h0m-11-4h0m-4 6h0m-26 3h0m-2 7h0m-33-13h0m-7-7h0m-10 7h0m-18 10h0m-16-15h0m-68 6h0m-1-2h0m-7 0h0m-4-3h0m-14-3h0m-5 14h0m-6-6h0m-3 2h0m-2-8h0m-1 7h0m-4-4h0m-4-2h0m-28 1h0m-2-4h0m-5 23h0m6 22h0m1-20h0m12-3h0m12 2h0m3 2h0m10-1h0m16 5h0m17 1h0m4-4h0m16 16h0m3-11h0m7 9h0m5 2h0m9-12h0m14-2h0m2-7h0m2 7h0m1-1h0m7 1h0m5 0h0m4-7h0m18 22h0m10-16h0m3 7h0m23 10h0m14-15h0m2 3h0m1 7h0m4-8h0m6-1h0m28 10h0m3-15h0m1 2h0m3 16h0m39-14h0m8 9h0m6-4h0m7-2h0m5 6h0m8 2h0m24 2h0m10-15h0m2 4h0m3 0h0m1 7h0m12-5h0m6-3h0m8-6h0m7 8h0m9 12h0m27-12h0m5-4h0m8-4h0m40 5h0m81-6h0m142 2h0m15-2h0m13 6h0m6 2h0m10-10h0m0 15h0m7 4h0m8-17h0m5 20h0m15-8h0m5 1h0m17-2h0m-5 15h0m-114 12h0m-21 0h0m-2 4h0m-19 0h0m-50-2h0m-5-9h0m-35 13h0m-15-2h0m-9 2h0m-139-20h0m-35 7h0m-12-1h0m-14-6h0m-12-1h0m-121 18h0m0-13h0m-38-2h0m-2 3h0m-5 1h0m-1-5h0m-10 10h0m0-10h0m-5-1h0m-28 7h0m-11-1h0m-1 10h0m-27-15h0m-68 0h0m-3-3h0m52 43h0m3 2h0m6-21h0m10 7h0m22 14h0m6-1h0m0-18h0m7 12h0m3-12h0m9 19h0m11-1h0m1-3h0m34 6h0m3-15h0m13-6h0m4 15h0m7-12h0m1 11h0m1 2h0m11 3h0m13 1h0m7-18h0m2-2h0m2 12h0m0 4h0m278-2h0m11 3h0m4-9h0m18 5h0m0-15h0m1 3h0m19 15h0m5-5h0m4-4h0m20 10h0m4 4h0m0-22h0m12 13h0m4-10h0m17 12h0m3 4h0m17 2h0m4-20h0m11 7h0m16 10h0m36-8h0m10 7h0m4-1h0m18 4h0m1-12h0m13 8h0m29 26h0m-15 0h0m0-11h0m-4 3h0m0 10h0m-26-10h0m-1-7h0m-7 3h0m-18 0h0m-2 9h0m-3-13h0m-1 9h0m-4 0h0m-51 11h0m-5-3h0m-15-9h0m-14 6h0m-25 6h0m-16-17h0m-15 7h0m-1 1h0m-2 6h0m-15-17h0m-1 17h0m-2-5h0m-13-8h0m-2-4h0m-1 11h0m-6-3h0m-2-1h0m-4-4h0m-248 3h0m-35 12h0m-6-4h0m-16-8h0m-1 3h0m-2 11h0m-6-8h0m-7-9h0m-38 16h0m-13-9h0m-9 1h0m-18 6h0m-21-14h0m-1 3h0m-10 14h0m-54-9h0m-10 7h0m-13-14h0m-23 7h0m2 23h0m7-9h0m14 11h0m5 4h0m24 4h0m10-23h0m2 19h0m10-9h0m6-4h0m6-4h0m2 15h0m10-2h0m1-2h0m2-9h0m18 17h0m35-7h0m16-2h0m21-5h0m2 6h0m7 2h0m20-6h0m7-6h0m17 15h0m17-4h0m10 4h0m23-10h0m236 14h0m21-18h0m17 19h0m4-20h0m3 3h0m9 17h0m1-10h0m8 1h0m2-2h0m3-9h0m1 6h0m3 14h0m3 0h0m0-17h0m3-3h0m4 6h0m6-7h0m8 19h0m17-20h0m2-1h0m1 11h0m33-3h0m2 0h0m5-1h0m28 16h0m22-4h0m10 1h0m7-16h0m3 1h0m7 4h0m8-9h0m40 19h0m5-13h0m0 17h0m0 4h0m-23-1h0m-24 14h0m-2 3h0m-9-5h0m-6-14h0m-46 11h0m-1 0h0m-5-8h0m-19-2h0m-13 4h0m-33-1h0m-1 2h0m-34-4h0m-2 2h0m-22 11h0m-4-6h0m-15 4h0m-18-6h0m-96 6h0m-65 10h0m-7-10h0m-6-8h0m-1 12h0m-54 6h0m-29-6h0m-18-6h0m0 0h0m-3-9h0m-10 9h0m-16-6h0m-1 18h0m-8-18h0m-48 8h0m-18-12h0m-5 5h0m-11 9h0m-8-3h0m-2-5h0m-4 5h0m-19-12h0m-4 21h0m-26-19h0m-3 5h0m-5 7h0m-10-3h0m-7 11h0m-3-10h0m-9-2h0m-6-4h0m-9 15h0m-21-18h0m-18 9h0m12 28h0m1 7h0m2-20h0m3 12h0m2 6h0m1-15h0m2 2h0m9-2h0m3 13h0m27-1h0m31-9h0m1 13h0m1-5h0m0-5h0m13 0h0m5-6h0m5 17h0m72-11h0m3 5h0m9-11h0m7 5h0m42 10h0m7-3h0m0-12h0m8 14h0m12-4h0m14-12h0m24 19h0m5-13h0m3-4h0m5 14h0m12-10h0m15-5h0m19 10h0m3-10h0m8-3h0m7 9h0m3-4h0m20 11h0m20-17h0m9 6h0m19-7h0m8 3h0m6 2h0m9 9h0m3-2h0m5 0h0m1 4h0m226 4h0m47-13h0m15-2h0m21 1h0m7 3h0m-68 28h0m-2-3h0m-13-6h0m-29 11h0m-15-7h0m-4 1h0m-7-5h0m-12-4h0m-19 15h0m-10-6h0m-6 4h0m-55 6h0m-65 4h0m-4-9h0m-2 8h0m-10-19h0m-20 9h0m-16-11h0m-2 13h0m-3-4h0m-36 7h0m-2-2h0m-25-4h0m-4 12h0m-9-5h0m-36-7h0m-5 4h0m-1 0h0m-29 1h0m-3-2h0m-5 9h0m-2-16h0m-9 10h0m-1-11h0m-12 4h0m-18-9h0m-162 3h0m-2 4h0m-16-1h0m-9 4h0m-20-11h0m-2 18h0m-20-3h0m-7-6h0m15 15h0m38 2h0m2 13h0m186-14h0m9 7h0m13 7h0m8 5h0m11 0h0m1-9h0m36 7h0m15-9h0m3-6h0m7 5h0m9 3h0m13-9h0m7 8h0m55-5h0m13 5h0m10-10h0m2 15h0m18 3h0m2-18h0m2 2h0m19 14h0m21-7h0m3-9h0m20 3h0m0-2h0m8 8h0m2-9h0m2 1h0m0 13h0m8-12h0m30 1h0m2 1h0m13-3h0m3 0h0m19 11h0m10-9h0m27 13h0m11-9h0m24 11h0m1-1h0m0-12h0m23 4h0m32 28h0m-5 4h0m-2-17h0m-1 7h0m-7 8h0m-60-8h0m-5 7h0m-3 1h0m-12-12h0m-7 18h0m-9-15h0m-1 4h0m-2 4h0m-3-8h0m-32-1h0m-21 9h0m-28 7h0m-10 0h0m-5-9h0m-34 1h0m-8 4h0m-1-13h0m-18 3h0m-196-6h0m-9 7h0m-117 12h0m-41-13h0m-15-4h0m-15 9h0m-1-2h0m-15-2h0m-15 15h0m-17-10h0m-7-6h0m-3 11h0m-1 10h0m19 7h0m13 8h0m6-8h0m0-3h0m1 15h0m3-22h0m23 5h0m5-4h0m26 1h0m7 12h0m4-4h0m22 5h0m4 3h0m22-17h0m0 11h0m38 9h0m300-18h0m10 0h0m7 8h0m29 4h0m33-12h0m2 7h0m10-7h0m31 10h0m7-8h0m20 1h0m21 8h0m34-7h0m7-4h0m3 17h0m4-7h0m7 0h0m10 7h0m6-19h0m23 16h0m11-2h0m6-4h0m4 8h0m1-4h0m6 25h0m-5-6h0m-22 0h0m-5-8h0m-20 14h0m0-10h0m-16 0h0m-13 11h0m-5-14h0m-2-4h0m-1 10h0m-7-8h0m-9 11h0m-22-4h0m-11 11h0m-296 1h0m-4-10h0m-68 8h0m-47-3h0m-10-10h0m-7 2h0m-11 0h0m-18-7h0m-11 20h0m-7-15h0m-1-5h0m-15 1h0m-1 21h0m-3-10h0m-14-9h0m-9 12h0m-1-2h0m-8-10h0m-7 12h0m-3 5h0m0-12h0m-6 0h0m-7-9h0m-6 1h0m-13 6h0m-15 4h0m-35-8h0m-6 7h0m-18-8h0m63 30h0m13-1h0m40-5h0m6 10h0m13-8h0m3 3h0m7-4h0m14 16h0m24 4h0m9-12h0m1-1h0m9 5h0m6-2h0m7 0h0m1-10h0m8 17h0m2-16h0m2 12h0m2-5h0m23-4h0m1 1h0m4-3h0m4 7h0m11 2h0m0 2h0m2 2h0m5-17h0m13 15h0m1-8h0m20 5h0m2 3h0m2-6h0m2-2h0m5-7h0m12 20h0m17-20h0m1 9h0m1-10h0m10 17h0m288-5h0m8-10h0m10 21h0m9-9h0m21-8h0m2 9h0m15-8h0m7 5h0m35 8h0m30 9h0m-16-3h0m-8 8h0m-15 8h0m-19-11h0m-6 16h0m-15-14h0m0 12h0m-15-15h0m-1-4h0m-68 19h0m-1-1h0m-7-3h0m-3 1h0m-1-9h0m-3 2h0m-18 12h0m-3-6h0m-2 5h0m-6-17h0m-15 4h0m-7 8h0m-180-15h0m-2 0h0m-12 5h0m-6 8h0m-2 6h0m-12-21h0m-4 2h0m-17 0h0m-1 12h0m-14-8h0m-1 1h0m-36 1h0m-17 12h0m-34 1h0m-54-13h0m-6 1h0m-3 10h0m-4-15h0m-4 14h0m-15-3h0m-3-9h0m-24-4h0m0 6h0m-12 9h0m-10 0h0m-8-6h0m-2-11h0m-8 19h0m-2-14h0m-107 7h0m-6 0h0m5 14h0m4 4h0m2 7h0m10 6h0m10 4h0m1-14h0m12 1h0m9 11h0m35 1h0m2-4h0m34-18h0m13 4h0m7 7h0m4-2h0m45-6h0m3 9h0m6 1h0m13-5h0m3-3h0m3 6h0m2-3h0m5-4h0m27 13h0m1-13h0m21 12h0m2-4h0m1 1h0m1-7h0m9 6h0m26-6h0m4 6h0m2-7h0m8 7h0m16 8h0m6-14h0m6 12h0m5 5h0m4-23h0m14 21h0m8-15h0m6-4h0m90 20h0m16-1h0m1 2h0m66-1h0m8-13h0m50 11h0m3-19h0m11 16h0m30-1h0m69 4h0m16-7h0m12 0h0m41-8h0m4-2h0m5 13h0m5-3h0m-10 17h0m-23 12h0m-1-2h0m-8-15h0m-13 17h0m-1-18h0m-11 10h0m-7-10h0m-61 23h0m-15-16h0m-7-6h0m-5 22h0m-25-15h0m-4 11h0m-7-18h0m-12 15h0m-11-11h0m-8 5h0m-19 5h0m-12-9h0m-24 9h0m-12 7h0m-13-6h0m-7-15h0m-8 13h0m-8 1h0m0-7h0m-19-3h0m-1 17h0m-1-14h0m-3 15h0m-2-8h0m-3-9h0m-6 9h0m-9-7h0m-2 14h0m-11-2h0m-15 1h0m-1-4h0m-9-8h0m-7-2h0m-9-5h0m-11-2h0m0 3h0m-20 19h0m-11-12h0m-7-7h0m-3 5h0m-3 7h0m-5-5h0m0 3h0m0 10h0m-1-11h0m-179 11h0m-26-5h0m-17-4h0m-29 6h0m-5-3h0m-1-14h0m0 6h0m-8 1h0m-15 10h0m0-9h0m-3-6h0m-7 4h0m-11 1h0m-5 4h0m-25-1h0m5 16h0m12-1h0m17 17h0m6-13h0m34 8h0m0-2h0m16-7h0m3-2h0m8-4h0m28 7h0m1 2h0m14 10h0m176-3h0m1-10h0m16 6h0m3-2h0m29-3h0m13 0h0m6 9h0m2 1h0m9 4h0m2-6h0m31-11h0m5 10h0m12-5h0m21 0h0m8 7h0m2 4h0m21-8h0m3 9h0m0 1h0m7-16h0m14-1h0m15 2h0m0 8h0m16 0h0m28-4h0m38 3h0m23 6h0m17 1h0m4-15h0m0 0h0m1 0h0m2 5h0m0 6h0m4-14h0m1 18h0m8-11h0m2-6h0m8-4h0m33 22h0m16 0h0m8-3h0m17 1h0m19-21h0m9 3h0m3 11h0m10-9h0m10-3h0m2 11h0m19 5h0m-22 23h0m-29-7h0m-45-7h0m-17 13h0m-55-15h0m-8 3h0m-8 1h0m-23-5h0m-7 15h0m-9 6h0m-1-2h0m-8-8h0m-1-3h0m-13-2h0m-25 16h0m-4-16h0m-25 7h0m-21-3h0m0 3h0m-9-2h0m-13-7h0m-26-1h0m-10 13h0m-10-11h0m0 16h0m-7-16h0m-13 16h0m-1-13h0m-3 4h0m-42 3h0m-32-3h0m-8 8h0m-8-16h0m-12 5h0m-4-7h0m-7 2h0m0 9h0m-158 10h0m-33-6h0m-5-3h0m-9 7h0m-3-19h0m-27 19h0m-5-8h0m-9-8h0m-1-2h0m-4 12h0m-5-1h0m-5 5h0m-3-17h0m-14 14h0m-13 7h0m45 1h0m6 7h0m6 9h0m2-5h0m8-11h0m27 6h0m17 13h0m26-14h0m5 10h0m162-7h0m5 13h0m0-20h0m12 7h0m29-7h0m13 13h0m4-2h0m1-8h0m8 17h0m10-18h0m22 3h0m18 6h0m10-4h0m5 6h0m48 7h0m35-5h0m6-8h0m2 8h0m1-12h0m6 7h0m13-1h0m4-2h0m5-6h0m13 12h0m9 8h0m5 0h0m0-18h0m4 15h0m10 4h0m21-19h0m7 15h0m8-19h0m21 18h0m14-8h0m8 10h0m7 0h0m6-11h0m18 11h0m29-15h0m12 3h0m3 32h0m-19-7h0m-5-1h0m-8-8h0m-4 16h0m-3-11h0m-8 17h0m-10-1h0m-2-20h0m-1 13h0m-15-6h0m-1 10h0m-36-2h0m-16-16h0m-1 3h0m-6 5h0m-11 1h0m-5 3h0m-9-12h0m-22 17h0m-13-13h0m-5 6h0m-1 0h0m-8 10h0m-29-19h0m-2 0h0m-7 7h0m-5 13h0m-7-5h0m-6-5h0m-12 0h0m-40-5h0m-4 12h0m-17-6h0m-5-11h0m-29-1h0m-13 3h0m-44-3h0m-216 8h0m-20-7h0m-100 43h0m23-3h0m7-7h0m9 12h0m28-14h0m6 2h0m16 7h0m32-5h0m12 10h0m360-17h0m2-4h0m25 12h0m2 8h0m25-4h0m13-17h0m8 8h0m16 6h0m13 6h0m24-13h0m0-4h0m14 19h0m13-8h0m16 1h0m29 0h0m23-6h0m1-1h0m17-4h0m7 2h0m2 14h0m4-19h0m40 2h0m13 18h0m2-6h0m14-5h0m12 34h0m-16-6h0m-16-14h0m-11 16h0m-47-15h0m-9 1h0m-12 16h0m-1-7h0m-1-7h0m-125-4h0m-67 2h0m-279 21h0m-15 0h0m-8-9h0m-1 5h0m-4-9h0m-6 1h0m-13-5h0m-12 4h0m-3-6h0m-9 18h0m0-2h0m-6-7h0m-25 9h0m-7 1h0m-16-9h0m0-9h0m-11 9h0m-6-10h0m0-1h0m-11 7h0m-36-4h0m-6 15h0m-14-10h0m-12-6h0m-8-5h0m-7 0h0m-1 16h0m-7 4h0m-7 20h0m11-11h0m10-1h0m3 7h0m32 1h0m7 4h0m4 2h0m2-10h0m23 10h0m8-6h0m1 11h0m11-15h0m6 0h0m3-4h0m3 17h0m8-7h0m4-7h0m4 16h0m24-14h0m4-6h0m5 4h0m3-4h0m7 10h0m28-5h0m0 12h0m11-4h0m18-14h0m11 17h0m2-6h0m7 5h0m100 5h0m18-3h0m67-7h0m25 5h0m2-1h0m0 1h0m11 2h0m0 2h0m1-14h0m9 8h0m45 3h0m201-8h0m3 0h0m7-10h0m20 9h0m10 8h0m5-17h0m45 1h0m3 10h0m-8 28h0m-4-5h0m-3 1h0m-62 6h0m-10-5h0m-3-11h0m-5 11h0m-36-8h0m-5 5h0m-1 8h0m-5-6h0m-42 6h0m-10-2h0m-12 3h0m-23 1h0m-8-2h0m-3 5h0m-8-3h0m-28-3h0m-5-4h0m-3-8h0m-1 12h0m-30-9h0m-14-1h0m-10 10h0m-1 6h0m0-2h0m-7-21h0m-12 0h0m-5 13h0m-7-1h0m-18 2h0m-1 2h0m-3-16h0m-38 12h0m-7-12h0m-6 2h0m-10 12h0m-13-5h0m-1 6h0m0-10h0m-8-3h0m-12 18h0m-26-4h0m-1-8h0m-7 6h0m-4-3h0m-14-5h0m-9 4h0m-24 6h0m-5-12h0m-9 8h0m-7 4h0m-33-11h0m0 6h0m-1-10h0m-26-1h0m-1 21h0m-5-3h0m-1-14h0m-5 17h0m-15-5h0m-3 2h0m-9-17h0m-5 4h0m-27 17h0m-8-3h0m-13-5h0m-31 3h0m-2 3h0m-1-11h0m-16-7h0m-11 6h0m-19 20h0m1 9h0m2-5h0m5-2h0m28 0h0m7 14h0m3-10h0m31-1h0m2-6h0m0-3h0m3 21h0m0-17h0m16 17h0m29-1h0m39-4h0m2-16h0m1 15h0m0-7h0m6 13h0m17 2h0m1-7h0m40 5h0m6 1h0m1-15h0m5-1h0m5-3h0m13 10h0m1-6h0m6 10h0m0-14h0m11 18h0m16-18h0m2 2h0m18 18h0m11-12h0m0 8h0m6-15h0m12 7h0m36-5h0m6 13h0m2-8h0m33-10h0m17 14h0m7-3h0m3-6h0m21-1h0m2 6h0m5 7h0m6-11h0m3 11h0m13 0h0m7 3h0m8-20h0m48 18h0m20 2h0m12-10h0m18-8h0m11-2h0m18 21h0m1 1h0m12-12h0m1-4h0m16 4h0m7 0h0m9 12h0m8-15h0m10-3h0m1 5h0m0-10h0m9 14h0m36-13h0m8 17h0m14 2h0m10-4h0m11-14h0m1 8h0m1-2h0m7 3h0m3-9h0m5 3h0m3 2h0m-9 29h0m-14 5h0m-22 0h0m0 5h0m-72-7h0m-1-4h0m-1 9h0m-11-16h0m-5 6h0m-42-1h0m-20 2h0m-1 6h0m-8-17h0m-11 14h0m-1-5h0m-5 0h0m-11 10h0m-6-15h0m-13 6h0m-9-3h0m-4 14h0m-3-11h0m-1 13h0m-1-3h0m-5-7h0m-10 4h0m-22 4h0m-4-19h0m-2 18h0m-1 3h0m-26-14h0m-11-5h0m-10-3h0m-17 5h0m-6 8h0m-2-14h0m-9 3h0m-8 17h0m-13-9h0m-2-7h0m-7 10h0m-5-9h0m-15 11h0m-1-8h0m-4 2h0m0 8h0m-19-4h0m-6-13h0m-6 17h0m-1-16h0m-1 13h0m-2-14h0m-44 13h0m-3-10h0m-3 16h0m-4-7h0m-16-11h0m-4 15h0m-5 5h0m-1-19h0m-26 13h0m-5-15h0m-5 18h0m-2-18h0m-2 0h0m-23 20h0m-49-16h0m-38-4h0m-71 42h0m19-1h0m6 1h0m7 3h0m0-9h0m63 10h0m9-4h0m7 3h0m2-9h0m39 5h0m10 5h0m3-12h0m9 0h0m6-3h0m16 1h0m23 10h0m7-4h0m15-10h0m2 2h0m11 4h0m61 6h0m42-9h0m1-3h0m17 10h0m16-6h0m17 6h0m3-13h0m2 13h0m31-15h0m14 4h0m21 17h0m4-3h0m8-1h0m4-9h0m8-7h0m7 22h0m5-15h0m20 7h0m12 7h0m5-4h0m5-16h0m4 0h0m13 16h0m4-4h0m2-4h0m50 13h0m13-11h0m17-8h0m10 16h0m5-15h0m13 7h0m32 8h0m34-20h0m21 5h0m25 5h0m-32 36h0m-12 0h0m-119-16h0m-9-6h0m-14 9h0m-16-8h0m-16 10h0m-14 3h0m-1 0h0m-9-10h0m-9-1h0m-19-2h0m-5 0h0m-45-1h0m-228 8h0m-13 2h0m-2-10h0m-21 17h0m-2-12h0m-3 10h0m-6-9h0m-1 17h0m-16-1h0m-3-17h0m-4 1h0m-7 11h0m-2-9h0m-13 9h0m-9-9h0m-22-7h0m-24 3h0m-5 12h0m-1-9h0m-7 10h0m-13-8h0m-7 0h0m-7 11h0m-4-8h0m-17-11h0m-5 16h0m-4-7h0m-8-6h0m-11 1h0m-5 0h0m-2 2h0m-16-3h0m-3 17h0m0-19h0m-1 20h0m-18 1h0m-7 22h0m4-1h0m22-20h0m5 1h0m1 17h0m1-17h0m5 14h0m10-13h0m2-1h0m16 3h0m2 2h0m24 13h0m1-15h0m2 17h0m3-1h0m60-14h0m58 14h0m36-8h0m4-4h0m2-5h0m4 0h0m2 5h0m277 15h0m27-2h0m5-4h0m38 2h0m32-7h0m5 0h0m19 11h0m15-17h0m27-2h0m0 3h0m14-5h0m53 1h0m17 9h0m5 4h0m28 1h0m4 2h0m1-12h0m-2 21h0m-22 18h0m-18-17h0m-8 18h0m-6-15h0m-29-4h0m-11 2h0m-6 6h0m-4 4h0m-27 5h0m-9-15h0m-55 5h0m-7 12h0m-10-12h0m-43 9h0m-1-13h0m-3 12h0m-11-4h0m-4 1h0m0 6h0m-11-15h0m-4 6h0m-10 4h0m-9-5h0m-1-1h0m-6-9h0m-10 18h0m-12-19h0m-21 7h0m-11-7h0m-9 20h0m-43-19h0m-6 17h0m-5 1h0m-2-13h0m-2 11h0m-4-3h0m-1 6h0m-1-3h0m-23-6h0m-22 0h0m0 4h0m-44 5h0m-23-3h0m-4-16h0m-9 5h0m-32 4h0m-3-3h0m-4 12h0m-32-13h0m-3 4h0m-5 11h0m-1-8h0m-20 6h0m-1-3h0m-3-6h0m-8 12h0m-5-6h0m-13-1h0m-18-10h0m-3-5h0m-9 9h0m-6 1h0m0 11h0m0-13h0m-43-1h0m-24 9h0m-22 3h0m0 17h0m1 6h0m14 4h0m5-3h0m11-4h0m13-15h0m9 20h0m1-2h0m4 1h0m4-12h0m13 8h0m10-7h0m3 11h0m7-5h0m5-9h0m6 1h0m0-1h0m21 14h0m38-18h0m2 7h0m8 14h0m7-21h0m3 8h0m6 1h0m7 11h0m6-20h0m5-1h0m2 6h0m1 1h0m5 9h0m1-2h0m14 6h0m7-9h0m15-11h0m7 0h0m18 1h0m6 12h0m8-6h0m27 14h0m30-8h0m20-8h0m7-6h0m21 9h0m2-4h0m16 8h0m6 9h0m6-15h0m8 6h0m9 2h0m10-13h0m4 14h0m14-8h0m20-3h0m4 11h0m2-11h0m29 7h0m2 8h0m9 2h0m7-13h0m10 11h0m0-5h0m3 1h0m44-12h0m11 2h0m21 8h0m10-4h0m11-8h0m12 9h0m13 8h0m6 3h0m1-6h0m8-4h0m38-5h0m29 7h0m1-7h0m3-2h0m20-4h0m4 18h0m26-2h0m7 6h0m0-7h0m-13 11h0m-6 2h0m-20 11h0m-3-7h0m-2 9h0m-4-6h0m-7-9h0m-28 8h0m-10 9h0m-11-14h0m-20 7h0m-22-6h0m-11 8h0m-8 3h0m-1 1h0m-14-7h0m-7-7h0m-4 12h0m-38-5h0m-1-6h0m-11 3h0m-1 6h0m-4-12h0m-1 3h0m-2 9h0m-18 4h0m-16-16h0m-50 5h0m-3 2h0m-9-3h0m-31 13h0m-14-7h0m-14 3h0m-4-6h0m-28-3h0m-15 4h0m-10 8h0m0-9h0m-1 6h0m-2 6h0m-16-6h0m-7 4h0m-6-11h0m-16 7h0m-31-10h0m-1 6h0m-3 6h0m-15-13h0m-8 0h0m-1 12h0m-2-11h0m-6 7h0m-1 8h0m-7-17h0m-4 14h0m0-1h0m-28-15h0m-70 0h0m-13-2h0m-9 1h0m-11 0h0m-26 0h0m-7 3h0m-33 2h0m-2-4h0m-35 6h0m-5 3h0m234 17h0m6-3h0m3 11h0m6 9h0m11-8h0m7-8h0m11-4h0m19 10h0m7-4h0m1-6h0m9 1h0m5 15h0m37-12h0m7-3h0m3 0h0m6 3h0m31 5h0m6-7h0m2 8h0m14-8h0m30 2h0m7 8h0m30-13h0m22 5h0m21 7h0m23-10h0m33 1h0m32 3h0m20-6h0m9 9h0m13-1h0m1-5h0m18 0h0m17 1h0m16-2h0m38 1h0" fill="none" stroke="#6c347e" stroke-width="13.6" stroke-linecap="round" stroke-opacity="0.7"/><path transform="translate(236 709) scale(.25)" d="M33 6h0m1 10h0m1 2h0m16-14h0m4 4h0m16 13h0m1-9h0m13 10h0m6 0h0m12-5h0m91 4h0m13-4h0m19-11h0m4 8h0m6 0h0m13 0h0m26-3h0m11-5h0m30 3h0m9-7h0m4 16h0m6-10h0m1 4h0m5 6h0m15-10h0m4 12h0m31-8h0m41-5h0m17-3h0m0 5h0m6-3h0m1 2h0m6 8h0m3 3h0m9-8h0m7 1h0m7 6h0m20-9h0m19 4h0m13 1h0m25-12h0m17-1h0m8 18h0m3-13h0m4-1h0m63 10h0m4 4h0m2-9h0m10 13h0m4-16h0m1 7h0m12-1h0m18 6h0m18 2h0m11-1h0m3-8h0m4 0h0m5 7h0m3-16h0m9 14h0m12-14h0m4 10h0m7 10h0m42 15h0m-6-8h0m-9 0h0m-11 16h0m-7-1h0m-3-19h0m-6 6h0m0 1h0m-9 12h0m-1-6h0m-7-14h0m-3 17h0m-48-1h0m-15 0h0m-1-3h0m-13-13h0m-87 4h0m-4 8h0m-2-12h0m-6 0h0m-48 13h0m-8 5h0m-2-6h0m-2 6h0m-5-11h0m-11 15h0m-2-20h0m-4 14h0m-14 1h0m-10-9h0m-6 7h0m-4 7h0m-23-19h0m-9 13h0m-1 1h0m-5 0h0m-5-14h0m-1 8h0m-6 7h0m-15-9h0m-3 5h0m-7-13h0m-4 19h0m-10-13h0m-6-5h0m-11 9h0m-6-5h0m-19 2h0m-3 12h0m-16-6h0m-6-8h0m-1 15h0m-4-2h0m-12-5h0m-6-11h0m-11 5h0m-10-3h0m-4 6h0m-26 3h0m-3 7h0m-33-12h0m-7-7h0m-10 6h0m-17 9h0m-15-13h0m-70 6h0m-1-2h0m-6-1h0m-4-4h0m-14-2h0m-5 15h0m-7-6h0m-2 0h0m-2 0h0m-1-8h0m-3 4h0m-6-2h0m-27 0h0m-3-3h0m-4 23h0m6 22h0m0-21h0m13-1h0m5 22h0m7-21h0m3 2h0m11-1h0m14 4h0m18 1h0m4-3h0m16 16h0m3-11h0m7 9h0m5 2h0m10-12h0m12-3h0m4-6h0m0 7h0m2 0h0m7-1h0m5 2h0m4-8h0m19 22h0m9-16h0m3 6h0m23 11h0m14-14h0m2 3h0m1 6h0m5-8h0m5-1h0m28 9h0m3-14h0m2 2h0m2 17h0m39-15h0m9 9h0m5-4h0m6-2h0m6 5h0m8 3h0m25 2h0m8-16h0m4 6h0m1-1h0m3 7h0m10-5h0m8-3h0m8-7h0m7 10h0m8 10h0m27-12h0m6-2h0m8-6h0m38 6h0m83-5h0m140 0h0m15 0h0m14 5h0m5 2h0m8-10h0m3 0h0m0 15h0m8 3h0m7-16h0m4 19h0m17-6h0m5 1h0m16-2h0m-5 15h0m-114 11h0m-21 0h0m-3 3h0m-18 0h0m-49-2h0m-7-9h0m-34 13h0m-15-2h0m-8 4h0m-140-22h0m-35 9h0m-13-2h0m-14-5h0m-10-3h0m-121 7h0m-2 12h0m-37-15h0m-2 3h0m-5 0h0m-1-4h0m-10 10h0m-1-10h0m-3-2h0m-28 8h0m-12-1h0m-1 9h0m-27-14h0m-69-1h0m51 42h0m2 1h0m5-21h0m11 7h0m22 15h0m6-3h0m0-17h0m8 11h0m2-11h0m10 20h0m9-2h0m2-3h0m33 5h0m4-14h0m13-6h0m4 16h0m6-13h0m2 13h0m1-2h0m11 5h0m13 2h0m8-19h0m1-2h0m2 12h0m1 4h0m277-1h0m11 2h0m4-10h0m17 7h0m0-16h0m2 2h0m18 16h0m7-4h0m2-5h0m21 10h0m4 3h0m1-21h0m11 12h0m5-9h0m16 11h0m4 6h0m16 0h0m5-20h0m11 7h0m15 12h0m37-8h0m9 7h0m5-3h0m17 6h0m1-13h0m13 8h0m28 26h0m-13 0h0m-1-12h0m-4 15h0m-1-11h0m-25-1h0m0-6h0m-9 3h0m-17 0h0m-1 10h0m-5-5h0m0-9h0m-4 9h0m-57 9h0m-14-11h0m-6 13h0m-8-7h0m-25 7h0m-17-17h0m-13 8h0m-2 0h0m-3 7h0m-14-18h0m-1 17h0m-1-5h0m-14-9h0m-2-3h0m0 11h0m-7-3h0m-1-1h0m-4-3h0m-249 2h0m-34 13h0m-6-5h0m-17-5h0m0-3h0m-3 13h0m-6-8h0m-7-7h0m-39 15h0m-12-10h0m-8 2h0m-18 5h0m-22-13h0m-1 4h0m-10 12h0m-54-7h0m-10 6h0m-12-13h0m-23 6h0m1 24h0m7-10h0m13 10h0m5 5h0m25 4h0m9-23h0m3 19h0m11-8h0m5-5h0m6-4h0m3 15h0m9-1h0m1-2h0m3-11h0m16 19h0m36-9h0m15-1h0m23-5h0m2 7h0m6 1h0m20-6h0m8-5h0m17 14h0m16-4h0m11 5h0m22-11h0m237 14h0m21-17h0m15 18h0m5-21h0m4 5h0m9 7h0m0 9h0m7-9h0m3-2h0m3-9h0m1 7h0m3 13h0m2-17h0m2 17h0m2-19h0m4 5h0m6-8h0m8 20h0m18-21h0m2 12h0m24-12h0m8 7h0m3 0h0m6 1h0m26 15h0m23-4h0m10 1h0m7-16h0m4 1h0m6 5h0m7-10h0m41 19h0m5-13h0m0 17h0m0 4h0m-23 0h0m-24 13h0m-2 3h0m-10-4h0m-6-14h0m-45 9h0m-2 2h0m-4-9h0m-20-1h0m-11 4h0m-34-2h0m0 2h0m-35-4h0m-1 3h0m-22 11h0m-5-7h0m-15 4h0m-18-5h0m-96 5h0m-66 9h0m-5-9h0m-7-8h0m-2 13h0m-52 5h0m-29-6h0m-19-6h0m0 0h0m-4-9h0m-9 10h0m-16 11h0m-1-18h0m-7-1h0m-50 8h0m-18-11h0m-5 4h0m-10 11h0m-8-4h0m-2-5h0m-4 5h0m-19-12h0m-4 21h0m-27-19h0m-2 5h0m-6 6h0m-9-2h0m-8 11h0m-1-11h0m-10 0h0m-6-5h0m-8 15h0m-22-17h0m-18 8h0m12 28h0m3-13h0m3 12h0m2 7h0m2-16h0m1 2h0m9-1h0m3 13h0m28-1h0m30-10h0m0 14h0m2-11h0m1 5h0m13-5h0m4-7h0m5 18h0m71-11h0m3 5h0m10-12h0m8 6h0m42 10h0m5-3h0m1-12h0m7 14h0m13-4h0m15-11h0m22 18h0m7-14h0m2-3h0m6 14h0m11-10h0m16-5h0m19 11h0m1-11h0m9-2h0m7 8h0m2-3h0m22 10h0m19-16h0m9 6h0m19-8h0m9 2h0m5 2h0m9 9h0m3 0h0m6-1h0m1 3h0m226 4h0m46-13h0m16 0h0m19 1h0m7 2h0m-66 29h0m-4-4h0m-12-5h0m-29 9h0m-16-6h0m-3 2h0m-6-6h0m-13-4h0m-18 15h0m-10-6h0m-8 3h0m-54 7h0m-68-6h0m-3 9h0m-10-19h0m-20 10h0m-15-12h0m-2 13h0m-3-5h0m-37 8h0m-3-2h0m-24-5h0m-4 13h0m-9-4h0m-36-8h0m-5 4h0m0 0h0m-31 1h0m-1-2h0m-5 9h0m-4-17h0m-8 1h0m0 10h0m-14-7h0m-16-10h0m-163 3h0m-2 5h0m-15-1h0m-9 3h0m-22-10h0m-1 17h0m-20-2h0m-7-6h0m-2-9h0m16 24h0m40 2h0m2 14h0m184-16h0m9 8h0m14 7h0m7 5h0m12-9h0m0 9h0m38-3h0m15-9h0m3-4h0m5 4h0m10 3h0m13-8h0m7 7h0m55-5h0m12 5h0m10-10h0m2 14h0m20 5h0m2-19h0m1 1h0m17-1h0m2 16h0m21-7h0m2-9h0m20 4h0m1-3h0m8 7h0m2-8h0m1 14h0m2-14h0m6 2h0m31 2h0m3 0h0m13-4h0m2 2h0m19 11h0m10-11h0m28 14h0m11-9h0m23 11h0m1-1h0m1-13h0m22 5h0m31 28h0m-4 4h0m-1-16h0m-2 6h0m-6 8h0m-61-7h0m-6 6h0m-3 2h0m-11-13h0m-6 19h0m-10-16h0m-2 4h0m-1 3h0m-4-7h0m-30-1h0m-23 8h0m-27 7h0m-11 0h0m-4-8h0m-35 2h0m-8-10h0m0 13h0m-17-10h0m-197-7h0m-9 9h0m-116 11h0m-42-12h0m-15-4h0m-15 6h0m0 3h0m-16-4h0m-14 14h0m-17-11h0m-9-4h0m-2 9h0m0 11h0m17 8h0m14 7h0m6-8h0m0-4h0m4-6h0m22 5h0m5-4h0m23 21h0m5-20h0m6 13h0m3-4h0m23 4h0m5 3h0m21-16h0m0 9h0m37 10h0m302-18h0m9 0h0m7 9h0m29 3h0m34-13h0m1 7h0m10-6h0m31 9h0m6-7h0m20 2h0m21 6h0m36 9h0m0-16h0m7-3h0m1 17h0m6-7h0m6 1h0m9 7h0m6-21h0m24 18h0m11-4h0m6-3h0m3 8h0m2-4h0m7 24h0m-6-5h0m-22 0h0m-5-8h0m-20 4h0m-1 9h0m-15-9h0m-12 11h0m-5-15h0m-3 7h0m-8-8h0m-9 11h0m-22-3h0m-12 9h0m-295 2h0m-5-11h0m-66 10h0m-49-3h0m-9-12h0m-8 3h0m-9-1h0m-19-6h0m-12 20h0m-6-16h0m-1-3h0m-15 21h0m0-20h0m-4 9h0m-14-8h0m-10 10h0m0 1h0m-8-12h0m-8 13h0m-1 5h0m-1-12h0m-6 1h0m-14-9h0m-11 6h0m-16 4h0m-21-11h0m-14 3h0m-6 7h0m-19-8h0m64 30h0m13-2h0m40-5h0m6 10h0m12-7h0m4 4h0m7-4h0m14 15h0m23 4h0m10-13h0m2 1h0m8 4h0m6-2h0m7-1h0m2-10h0m6 18h0m2-17h0m4 13h0m1-6h0m23-4h0m1 2h0m4-4h0m5 7h0m9 3h0m0 2h0m4 2h0m5-17h0m12 16h0m1-9h0m19 5h0m3 3h0m1-5h0m4-3h0m3-7h0m13 19h0m17-11h0m1-9h0m1 1h0m10 15h0m289-4h0m6-9h0m11 20h0m8-8h0m23-9h0m2 9h0m14-7h0m7 5h0m34 7h0m31 8h0m-17-1h0m-6 7h0m-16 7h0m-19-10h0m-21 2h0m0 12h0m-15-14h0m0-5h0m-69 19h0m-2-1h0m-6-3h0m-3 2h0m-1-11h0m-3 3h0m-17 12h0m-4-7h0m-2 6h0m-5-16h0m-15 2h0m-9 9h0m-179-15h0m-1-1h0m-13 6h0m-7 8h0m0 6h0m-14-21h0m-3 2h0m-18 0h0m-1 12h0m-13-9h0m-1 3h0m-36-1h0m-16 13h0m-35 1h0m-54-14h0m-5 1h0m-3 11h0m-5-15h0m-3 15h0m-17-4h0m-2-9h0m-24 1h0m-1-5h0m-11 14h0m-9 2h0m-9-8h0m-3-10h0m-8 19h0m-1-15h0m-107 7h0m-6 1h0m5 15h0m4 4h0m2 6h0m10 7h0m10 3h0m2-14h0m11 1h0m10 10h0m33 3h0m2-5h0m36-18h0m11 5h0m8 6h0m5-2h0m44-6h0m4 8h0m5 1h0m12-3h0m4-4h0m3 6h0m3-2h0m3-5h0m28 13h0m1-13h0m21 11h0m2-4h0m1 3h0m1-7h0m10 5h0m26-7h0m4 0h0m0 6h0m10 1h0m16 9h0m5-16h0m6 12h0m5 6h0m4-23h0m14 20h0m9-14h0m6-4h0m90 20h0m14-1h0m2 2h0m66-2h0m8-12h0m50 11h0m4-19h0m10 16h0m29-1h0m70 4h0m15-7h0m13 10h0m0-10h0m4-13h0m38 6h0m3-2h0m5 13h0m5-3h0m-10 16h0m-24 12h0m-1-2h0m-7-14h0m-13 16h0m-13-8h0m-6-10h0m-62 23h0m-13-16h0m-8-5h0m-5 21h0m-24-16h0m-4 11h0m-9-17h0m-11 14h0m-11-9h0m-8 4h0m-18 6h0m-13-11h0m-25 9h0m-12 7h0m-13-4h0m-7-16h0m-7 13h0m-7 0h0m-1-7h0m-20-2h0m0 4h0m-1 13h0m-3 1h0m-2-8h0m-3-9h0m-7 10h0m-7-8h0m-3 15h0m-11-3h0m-15-2h0m-1 3h0m-9-12h0m-7-2h0m-8-5h0m-11 0h0m-1-2h0m-20 22h0m-12-12h0m-6-6h0m-2 5h0m-4 6h0m-5-5h0m0 2h0m-2 1h0m-178 9h0m-26-5h0m-17-3h0m-28 6h0m-5-3h0m-3-14h0m0 6h0m-6 1h0m-16 11h0m0-10h0m-4-7h0m-6 4h0m-12 1h0m-5 4h0m-24 1h0m4 15h0m13 0h0m16 17h0m7-15h0m34 7h0m1 1h0m14-8h0m4-1h0m8-4h0m27 6h0m1 2h0m15 11h0m175-5h0m2-10h0m10-6h0m5 13h0m4-2h0m30-2h0m11-1h0m6 8h0m3 1h0m9 5h0m1-5h0m31-12h0m7 9h0m12-4h0m20 0h0m8 7h0m1 5h0m22-10h0m2 10h0m1 1h0m7-16h0m14-2h0m15 4h0m1 8h0m16-1h0m28-4h0m37 3h0m23 7h0m17 0h0m3-15h0m2-1h0m1 1h0m1 6h0m1 6h0m2-14h0m3 17h0m7-11h0m3-6h0m7-3h0m34 21h0m15 0h0m8-3h0m16 2h0m20-22h0m10 3h0m3 12h0m9-9h0m10-4h0m2 11h0m19 4h0m-23 25h0m-28-8h0m-45-7h0m-16 12h0m-56-14h0m-8 2h0m-8 3h0m-23-6h0m-7 16h0m-9 6h0m-1-2h0m-8-10h0m-1-2h0m-14-3h0m-23 17h0m-5-16h0m-25 6h0m-20-3h0m0 5h0m-11-3h0m-13-8h0m-26-1h0m-9 15h0m-9-13h0m-1 17h0m-8-16h0m-12 17h0m-1-13h0m-4 3h0m-42 3h0m-32-3h0m-7 8h0m-7-15h0m-13 4h0m-4-6h0m-6 2h0m-1 7h0m-191 5h0m-6-2h0m-9 5h0m-2-17h0m-27 17h0m-6-7h0m-7-8h0m-2-2h0m-4 11h0m-5 0h0m-5 4h0m-3-16h0m-13 13h0m-14 8h0m44 2h0m7 7h0m6 8h0m2-6h0m9-10h0m25 6h0m19 14h0m24-20h0m1 5h0m5 9h0m161-6h0m6 13h0m0-21h0m13 8h0m27-7h0m14 12h0m4-1h0m1-8h0m7 17h0m8 2h0m2-19h0m22 2h0m20 5h0m10-3h0m4 7h0m48 6h0m35-5h0m5-8h0m3 8h0m1-12h0m5 6h0m14 1h0m4-2h0m6-6h0m12 11h0m10 8h0m4-1h0m1-17h0m3 15h0m31-15h0m7 15h0m8-19h0m22 19h0m13-10h0m8 10h0m7 2h0m6-12h0m19 11h0m28-14h0m12 2h0m3 31h0m-19-7h0m-5 1h0m-9-9h0m-4 15h0m-3-9h0m-8 15h0m-10 0h0m-2-20h0m0 12h0m-15-5h0m-1 11h0m-35-3h0m-17-16h0m-1 2h0m-6 7h0m-11-1h0m-5 4h0m-4-12h0m-6 0h0m-20 18h0m-14-13h0m-6 6h0m0-2h0m-8 12h0m-30-21h0m-1 0h0m-7 8h0m-5 14h0m-7-7h0m-6-4h0m-11 0h0m-40-4h0m-4 11h0m-17-6h0m-5-10h0m-43 0h0m-45-2h0m-215 7h0m-21-7h0m-99 45h0m22-3h0m8-8h0m8 13h0m29-16h0m5 3h0m17 6h0m31-4h0m12 11h0m361-18h0m3-5h0m24 13h0m2 8h0m25-4h0m14-16h0m6 6h0m17 8h0m13 6h0m23-15h0m1-3h0m15 19h0m13-9h0m16 2h0m29-1h0m22-6h0m1 0h0m16-3h0m7 1h0m4 15h0m3-20h0m41 1h0m12 18h0m2-6h0m14-5h0m13 34h0m-17-5h0m-16-14h0m-12 16h0m-45-15h0m-9 2h0m-13 8h0m0 7h0m-1-14h0m-127-3h0m-67 0h0m-279 21h0m-14 1h0m-9-9h0m0 4h0m-4-8h0m-7 0h0m-13-4h0m-11 4h0m-4-5h0m-7 16h0m-1 0h0m-6-8h0m-25 10h0m-7 0h0m-15-18h0m-1 9h0m-12 0h0m-5-11h0m-1 0h0m-9 8h0m-36-4h0m-6 14h0m-16-9h0m-12-7h0m-8-5h0m-6 1h0m-1 15h0m-7 4h0m-7 19h0m11-10h0m10-2h0m3 8h0m31 1h0m7 4h0m5 3h0m2-12h0m23 11h0m7-6h0m1 10h0m11-13h0m7-2h0m2-3h0m4 18h0m8-8h0m4-6h0m5 15h0m23-14h0m4-5h0m4 3h0m5-4h0m1 20h0m5-11h0m28-5h0m0 12h0m11-3h0m18-15h0m11 19h0m2-8h0m7 6h0m100 4h0m18-2h0m67-7h0m25 4h0m2 0h0m1 2h0m9 2h0m1-14h0m0 14h0m11-5h0m44 3h0m200-7h0m4 0h0m7-10h0m20 7h0m10 9h0m4-17h0m45 2h0m3 8h0m-8 30h0m-3-6h0m-3 0h0m-63 8h0m-9-7h0m-4-10h0m-4 12h0m-24 9h0m-11-17h0m-6 11h0m-1-7h0m-6 3h0m-40 5h0m-12-2h0m-10 2h0m-24 1h0m-8-2h0m-2 6h0m-10-4h0m-28-2h0m-4-4h0m-4-7h0m0 11h0m-30-8h0m-14-1h0m-10 9h0m-1 4h0m-1 2h0m-7-23h0m-12 0h0m-3 12h0m-9 1h0m-17 2h0m0 0h0m-3-15h0m-39 12h0m-7-12h0m-6 2h0m-10 11h0m-13-9h0m-1 5h0m-1 7h0m-6-14h0m-13 18h0m-26-3h0m-1-9h0m-6 5h0m-5-2h0m-14-5h0m-9 4h0m-24 6h0m-5-12h0m-9 8h0m-7 4h0m-33-15h0m0 4h0m0 7h0m-28 9h0m-4 2h0m-1-19h0m-1 13h0m-5 3h0m-16-5h0m-2 3h0m-8-17h0m-5 3h0m-28 18h0m-9-2h0m-12-7h0m-32 6h0m0-2h0m-1-7h0m-16-9h0m-12 7h0m-19 30h0m1-10h0m3 4h0m4-1h0m28-1h0m8 14h0m3-11h0m30 0h0m2-6h0m0-3h0m3 22h0m0-18h0m16 18h0m29-2h0m40-4h0m2-1h0m0-6h0m5 11h0m17 2h0m3-6h0m40 5h0m6-13h0m0 13h0m4-16h0m5-1h0m13 9h0m2-6h0m5-3h0m1 12h0m10 5h0m17-18h0m1 3h0m19 17h0m10-12h0m2 7h0m4-13h0m13 5h0m35-5h0m7 14h0m1-7h0m34-12h0m17 15h0m6-2h0m3-7h0m22-2h0m3 7h0m4 7h0m6-10h0m3 11h0m12 0h0m8 2h0m9-20h0m47 18h0m20 3h0m12-11h0m19-9h0m9-2h0m20 22h0m1 1h0m10-11h0m2-5h0m16 4h0m8 0h0m8 12h0m9-14h0m9-4h0m1 5h0m9 4h0m35-13h0m9 18h0m13 1h0m11-3h0m11-14h0m0 8h0m3-3h0m6 4h0m4-11h0m4 4h0m3 2h0m-8 28h0m-14 6h0m-23 1h0m-1 5h0m-71-12h0m0 5h0m-3 5h0m-10-18h0m-6 8h0m-42-1h0m-19 0h0m-1 7h0m-8-17h0m-11 15h0m-1-5h0m-5 0h0m-11 9h0m-6-15h0m-12 6h0m-10-3h0m-5 14h0m-2-10h0m-1 9h0m-5-7h0m-11 4h0m-22 4h0m-5-20h0m-1 19h0m-1 3h0m-25-13h0m-13-7h0m-9-2h0m-17 5h0m-5 9h0m-3-14h0m-8 1h0m-9 18h0m-14-9h0m-1-7h0m-7 10h0m-5-10h0m-16 13h0m0-10h0m-3 11h0m-1-9h0m-19 5h0m-6-12h0m-6 16h0m-1-16h0m-2-2h0m0 15h0m-44-1h0m-4-11h0m-2 17h0m-5-6h0m-17-11h0m-3 14h0m-5 4h0m-1-18h0m-26 13h0m-4-16h0m-6 18h0m-1-18h0m-3 0h0m-24 21h0m-49-15h0m-36-6h0m-71 42h0m18 0h0m6 2h0m6 2h0m1-9h0m63 10h0m9-4h0m8 4h0m1-11h0m40 5h0m11-6h0m10 1h0m5-3h0m18 0h0m22 10h0m7-4h0m15-9h0m2 2h0m11 3h0m61 6h0m43-8h0m0-4h0m16 11h0m16-6h0m17 6h0m4-13h0m2 12h0m32-14h0m13 2h0m21 20h0m1-1h0m3-5h0m8 1h0m4-9h0m8-8h0m6 22h0m6-16h0m2-7h0m18 14h0m12 9h0m5-4h0m6-18h0m3 1h0m14 16h0m3-4h0m2-4h0m48 13h0m3-1h0m11-10h0m18-8h0m11 17h0m4-15h0m13 5h0m32 8h0m33-18h0m21 4h0m25 5h0m-31 36h0m-11 0h0m-121-16h0m-23 3h0m-15-8h0m-16 9h0m-14 5h0m-2-2h0m-9-10h0m-8-1h0m-19-2h0m-4 1h0m-274 7h0m-13 3h0m-2-10h0m-22 5h0m0 11h0m-3-3h0m-8-8h0m-16 17h0m-4-18h0m-2 0h0m-9 11h0m0-7h0m-10-9h0m-4 17h0m-9-8h0m-22-9h0m-24 4h0m-5 12h0m-1-8h0m-8 9h0m-12-7h0m-6 0h0m-8 10h0m-4-9h0m-17-9h0m-5 15h0m-5-6h0m-7-7h0m-11 1h0m-6 0h0m0 2h0m-18-3h0m-1-1h0m-2 17h0m0 3h0m-18-1h0m-8 24h0m6-1h0m20-21h0m6 19h0m0-17h0m3-1h0m5 13h0m9-13h0m3-1h0m14 4h0m3 2h0m23 14h0m3-17h0m1 18h0m3 0h0m60-14h0m58 12h0m24-19h0m12 13h0m4-6h0m3-5h0m4 1h0m2 4h0m277 16h0m26-2h0m6-3h0m37 2h0m33-8h0m4 1h0m19 10h0m16-16h0m26-3h0m0 4h0m14-5h0m53-1h0m17 10h0m5 4h0m28 1h0m5 2h0m1-11h0m-3 20h0m-21 19h0m-18-18h0m-10 18h0m-5-15h0m-28-4h0m-12 1h0m-6 7h0m-4 4h0m-26 5h0m-9-15h0m-57 6h0m-6 11h0m-11-12h0m-42 10h0m-1-15h0m-4 14h0m-10-6h0m-3 2h0m0 6h0m-13-14h0m-3 4h0m-10 6h0m-9-5h0m-1-2h0m-6-9h0m-11 18h0m-11-19h0m-20 7h0m-12-6h0m-9 19h0m-43-18h0m-6 16h0m-6 0h0m-1-13h0m-1 12h0m-6-4h0m0 7h0m0-4h0m-24-5h0m-22 0h0m0 4h0m-44 5h0m-23-2h0m-4-17h0m-9 6h0m-32 3h0m-3-3h0m-5 12h0m-32-13h0m-1 4h0m-6 11h0m-2-8h0m-19 6h0m-2-3h0m-1-7h0m-8 12h0m-6-5h0m-14 0h0m-17-10h0m-3-7h0m-9 9h0m-5 2h0m-1 11h0m-1-12h0m-41-3h0m-25 10h0m-23 3h0m0 16h0m2 7h0m15 4h0m5-2h0m10-6h0m14-14h0m7 20h0m3-3h0m3 3h0m4-13h0m14 8h0m10-6h0m2 9h0m6-3h0m5-9h0m7 0h0m1 0h0m18 16h0m2-4h0m39-17h0m1 6h0m16-6h0m2 8h0m6 2h0m7 10h0m7-20h0m4 0h0m2 4h0m2 1h0m5 7h0m0 4h0m13 3h0m8-8h0m14-12h0m8-1h0m18 1h0m7 13h0m6-5h0m29 14h0m28-9h0m21-8h0m8-6h0m20 8h0m2-4h0m15 8h0m6 11h0m6-16h0m10 6h0m8 3h0m9-14h0m5 15h0m14-9h0m20-2h0m3 11h0m3-12h0m28 7h0m3 9h0m8 0h0m7-12h0m11 11h0m0-5h0m2 0h0m45-10h0m11 1h0m20 8h0m11-4h0m11-9h0m12 10h0m13 8h0m7-4h0m0 7h0m7-10h0m40-5h0m29-1h0m0 9h0m2-10h0m21-4h0m4 18h0m26-2h0m6-1h0m1 7h0m-14 4h0m-4 2h0m-20 11h0m-4-8h0m-3 10h0m-2-7h0m-8-8h0m-27 9h0m-11 8h0m-11-15h0m-20 7h0m-22-5h0m-11 8h0m-8 2h0m-1 2h0m-14-8h0m-7-6h0m-4 13h0m-37-5h0m-2-6h0m-11 1h0m-1 7h0m-3-11h0m-3 1h0m-1 9h0m-18 6h0m-16-17h0m-50 5h0m-4 2h0m-7-4h0m-32 14h0m-15-8h0m-13 4h0m-5-7h0m-28-2h0m-13 5h0m-11 8h0m0-9h0m-1 5h0m-2 6h0m-15-6h0m-8 5h0m-6-12h0m-16 7h0m-32-10h0m-1 6h0m-1 5h0m-16-12h0m-8-1h0m-1 14h0m-1-11h0m-8 5h0m0 8h0m-8-16h0m-2 14h0m-2-2h0m-27-14h0m-34-2h0m-36 1h0m-22 0h0m-10 0h0m-28 0h0m-7 4h0m-32 1h0m-1-4h0m-35 6h0m-6 3h0m235 17h0m5-2h0m3 10h0m6 9h0m10-8h0m8-9h0m11-3h0m18 11h0m8-5h0m1-6h0m8 1h0m6 16h0m37-13h0m7-2h0m4 0h0m5 1h0m31 7h0m6-9h0m2 8h0m14-7h0m30 2h0m7 7h0m30-11h0m22 4h0m21 7h0m23-9h0m32 1h0m33 3h0m19-7h0m11 9h0m11-2h0m3-4h0m17 1h0m16 0h0m17-3h0m39 2h0" fill="none" stroke="#c7a0cc" stroke-width="5.6" stroke-linecap="round" stroke-opacity="0.85"/></g></g><g filter="url(#bl05)"><path transform="translate(236 709) scale(.25)" d="M618 25l10-4m-18 27l10-4m115 25l10-4m55 32l10-4m-49-6l10-4m-185-9l10-4m-57 12l10-4m-87 9l10-4m-159 10l10-4m-325 25l10-4m-1 1l10-4m326 4l10-4m1 14l10-4m114-8l10-4m19 24l10-4m-77 6l10-4m-25 13l10-4m-36-4l10-4m-13 17l10-4m-11-5l10-4m-21 3l10-4m-18 1l10-4m-10 5l10-4m-58 32l10-4m111-5l10-4m24 5l10-4m174 51l10-4m148 27l10-4m-629 15l10-4m-66-1l10-4m42 19l10-4m-7 14l10-4m612 31l10-4m-23-9l10-4m-379 21l10-4m-99 8l10-4m-139-2l10-4m-13 7l10-4m-37-14l10-4m-196 7l10-4m337 46l10-4m10-19l10-4m53 9l10-4m-1 6l10-4m109 28l10-4m-100-3l10-4m-130 4l10-4m-37 6l10-4m-309 20l10-4m-8 23l10-4m22 4l10-4m363 0l10-4m97 8l10-4m-4 7l10-4m-9-6l10-4m-8 18l10-4m57 0l10-4m64 33l10-4m-230-7l10-4m-50 2l10-4m-353 18l10-4m350 17l10-4m240 10l10-4m0 5l10-4m-16 33l10-4m-465-9l10-4m-84 41l10-4m544-14l10-4m-464 42l10-4m-21-1l10-4m-94-4l10-4m-189 32l10-4m238 9l10-4m541 11l10-4m2 7l10-4m-523 24l10-4m-96-14l10-4m-32 14l10-4m-124 7l10-4m-20 7l10-4m-13 3l10-4m-70 5l10-4m-16-11l10-4m250 36l10-4m111-3l10-4m1 1l10-4m26 15l10-4m6-4l10-4m28 28l10-4m-17-1l10-4m-10 21l10-4m-27-2l10-4m-45-4l10-4m-10 3l10-4m-12 21l10-4m-27 4l10-4m-70-3l10-4m-61 22l10-4m103-2l10-4m138 11l10-4m122 9l10-4m134 117l10-4m-402 23l10-4m35 16l10-4m25 3l10-4m10-4l10-4m-521 95l10-4m-8 21l10-4m0 11l10-4m2-16l10-4m81 3l10-4m12 11l10-4" fill="none" stroke="#5a2070" stroke-width="6.0" stroke-linecap="round" stroke-opacity="0.75"/></g><g filter="url(#bl05)"><ellipse cx="280.6" cy="865.8" rx="10.8" ry="7.7" fill="#fcf5f9" fill-opacity="1.0" transform="rotate(-10 280.6 865.8)" /><ellipse cx="311.3" cy="907.3" rx="12.3" ry="8.6" fill="#fcf5f9" fill-opacity="1.0" transform="rotate(0 311.3 907.3)" /><ellipse cx="360.5" cy="805.9" rx="10.8" ry="4.3" fill="#fcf5f9" fill-opacity="1.0" transform="rotate(-10 360.5 805.9)" /><ellipse cx="351.3" cy="842.7" rx="4.3" ry="6.8" fill="#fcf5f9" fill-opacity="1.0" transform="rotate(10 351.3 842.7)" /><ellipse cx="269.8" cy="745.9" rx="7.7" ry="4.6" fill="#fcf5f9" fill-opacity="1.0" transform="rotate(0 269.8 745.9)" /><ellipse cx="266.7" cy="767.4" rx="5.2" ry="4.3" fill="#fcf5f9" fill-opacity="1.0" transform="rotate(0 266.7 767.4)" /><ellipse cx="397.4" cy="772.0" rx="3.7" ry="3.7" fill="#fcf5f9" fill-opacity="1.0" transform="rotate(0 397.4 772.0)" /><ellipse cx="395.9" cy="882.7" rx="7.7" ry="2.8" fill="#fcf5f9" fill-opacity="1.0" transform="rotate(-30 395.9 882.7)" /><ellipse cx="299.0" cy="876.6" rx="4.6" ry="4.6" fill="#fcf5f9" fill-opacity="1.0" transform="rotate(0 299.0 876.6)" /><ellipse cx="266.7" cy="890.4" rx="6.1" ry="6.1" fill="#fcf5f9" fill-opacity="1.0" transform="rotate(0 266.7 890.4)" /><ellipse cx="242.1" cy="816.6" rx="6.1" ry="3.7" fill="#fcf5f9" fill-opacity="1.0" transform="rotate(0 242.1 816.6)" /><ellipse cx="443.5" cy="785.9" rx="3.7" ry="9.2" fill="#fcf5f9" fill-opacity="1.0" transform="rotate(0 443.5 785.9)" /><ellipse cx="345.2" cy="876.6" rx="3.1" ry="3.1" fill="#fcf5f9" fill-opacity="1.0" transform="rotate(0 345.2 876.6)" /><ellipse cx="319.0" cy="856.6" rx="4.6" ry="3.7" fill="#fcf5f9" fill-opacity="1.0" transform="rotate(0 319.0 856.6)" /><ellipse cx="246.8" cy="779.7" rx="3.7" ry="3.7" fill="#fcf5f9" fill-opacity="1.0" transform="rotate(0 246.8 779.7)" /></g></g><g clip-path="url(#clP5)"><rect x="468" y="709" width="211" height="210" fill="#dac3da" /><rect x="468" y="709" width="211" height="210" fill="none" filter="url(#t5b)"/><g filter="url(#dp5)"><ellipse cx="495.7" cy="798.2" rx="18.3" ry="13.5" fill="#e4d3e4" fill-opacity="0.5" transform="rotate(0 495.7 798.2)" filter="url(#bl2)"/><ellipse cx="569.5" cy="819.7" rx="23.5" ry="13.5" fill="#e4d3e4" fill-opacity="0.5" transform="rotate(-25 569.5 819.7)" filter="url(#bl2)"/><ellipse cx="640.2" cy="859.7" rx="19.6" ry="13.5" fill="#e4d3e4" fill-opacity="0.5" transform="rotate(0 640.2 859.7)" filter="url(#bl2)"/><ellipse cx="658.6" cy="825.8" rx="18.3" ry="12.3" fill="#e4d3e4" fill-opacity="0.5" transform="rotate(-10 658.6 825.8)" filter="url(#bl2)"/><ellipse cx="544.9" cy="862.7" rx="18.3" ry="12.3" fill="#e4d3e4" fill-opacity="0.5" transform="rotate(-20 544.9 862.7)" filter="url(#bl2)"/><ellipse cx="498.7" cy="841.2" rx="15.7" ry="11.1" fill="#e4d3e4" fill-opacity="0.5" transform="rotate(0 498.7 841.2)" filter="url(#bl2)"/><ellipse cx="606.4" cy="841.2" rx="15.7" ry="9.8" fill="#e4d3e4" fill-opacity="0.5" transform="rotate(-30 606.4 841.2)" filter="url(#bl2)"/><ellipse cx="640.2" cy="801.2" rx="18.3" ry="11.1" fill="#e4d3e4" fill-opacity="0.5" transform="rotate(-20 640.2 801.2)" filter="url(#bl2)"/><ellipse cx="658.6" cy="761.3" rx="13.1" ry="19.7" fill="#e4d3e4" fill-opacity="0.5" transform="rotate(0 658.6 761.3)" filter="url(#bl2)"/><ellipse cx="591.0" cy="733.6" rx="20.9" ry="12.3" fill="#e4d3e4" fill-opacity="0.5" transform="rotate(-35 591.0 733.6)" filter="url(#bl2)"/><ellipse cx="538.7" cy="755.1" rx="15.7" ry="12.3" fill="#e4d3e4" fill-opacity="0.5" transform="rotate(0 538.7 755.1)" filter="url(#bl2)"/><ellipse cx="492.6" cy="764.3" rx="13.1" ry="9.8" fill="#e4d3e4" fill-opacity="0.5" transform="rotate(0 492.6 764.3)" filter="url(#bl2)"/><ellipse cx="514.1" cy="721.3" rx="15.7" ry="8.6" fill="#e4d3e4" fill-opacity="0.5" transform="rotate(0 514.1 721.3)" filter="url(#bl2)"/><ellipse cx="480.3" cy="881.2" rx="13.1" ry="12.3" fill="#e4d3e4" fill-opacity="0.5" transform="rotate(0 480.3 881.2)" filter="url(#bl2)"/><ellipse cx="606.4" cy="899.6" rx="20.9" ry="9.8" fill="#e4d3e4" fill-opacity="0.5" transform="rotate(-20 606.4 899.6)" filter="url(#bl2)"/><ellipse cx="658.6" cy="899.6" rx="15.7" ry="9.8" fill="#e4d3e4" fill-opacity="0.5" transform="rotate(0 658.6 899.6)" filter="url(#bl2)"/><ellipse cx="554.1" cy="902.7" rx="15.7" ry="9.8" fill="#e4d3e4" fill-opacity="0.5" transform="rotate(0 554.1 902.7)" filter="url(#bl2)"/><ellipse cx="504.9" cy="905.8" rx="13.1" ry="7.4" fill="#e4d3e4" fill-opacity="0.5" transform="rotate(0 504.9 905.8)" filter="url(#bl2)"/><ellipse cx="560.2" cy="785.9" rx="13.1" ry="9.8" fill="#e4d3e4" fill-opacity="0.5" transform="rotate(0 560.2 785.9)" filter="url(#bl2)"/><ellipse cx="621.7" cy="770.5" rx="10.5" ry="9.8" fill="#e4d3e4" fill-opacity="0.5" transform="rotate(0 621.7 770.5)" filter="url(#bl2)"/><g filter="url(#bl05)"><path transform="translate(468 709) scale(.25)" d="M135 21h0m1-3h0m1 4h0m2-3h0m7-2h0m2-4h0m0 2h0m9-5h0m1 4h0m6-3h0m4-3h0m3-4h0m12 3h0m6 0h0m23 3h0m14 1h0m8 4h0m8 4h0m340 28h0m-14-4h0m-3-7h0m-1-5h0m0 13h0m-2-13h0m-1 2h0m-3 8h0m-1-4h0m-8-8h0m-2 6h0m-9-7h0m0 5h0m-5-1h0m-9-3h0m0-3h0m-6 6h0m-20-3h0m-8 9h0m-3-10h0m-6 12h0m-3-5h0m-7 7h0m-9 3h0m-200-2h0m-3 2h0m-1-4h0m-4-11h0m0 14h0m-2-4h0m-4-6h0m-4-6h0m-111-3h0m-6 1h0m-7 19h0m0-5h0m-5 7h0m0-4h0m-5 13h0m0-4h0m5 10h0m2-13h0m0 22h0m2-12h0m128 2h0m6-9h0m2 4h0m0-6h0m1 7h0m3-3h0m0-6h0m2 0h0m185 16h0m6-4h0m1-5h0m122 0h0m2 14h0m2-6h0m1-14h0m4 10h0m-7 30h0m-2-3h0m-6-3h0m-137-9h0m-13 18h0m-180-19h0m-1 2h0m-1-1h0m-7 5h0m0 1h0m-24 12h0m-14 2h0m-2-3h0m-37-4h0m-4-4h0m-5 2h0m-4-7h0m-18-6h0m282 43h0m4-5h0m3-14h0m3 16h0m3-9h0m140 12h0m1-5h0m7-11h0m5 1h0m3-4h0m173 14h0m10 7h0m9-12h0m2 13h0m37 17h0m-1 5h0m-1-13h0m-1 16h0m-4-21h0m0 7h0m-14 0h0m-13-6h0m-28 2h0m-13-5h0m-2 13h0m-11 7h0m-1 0h0m-156-19h0m-2 5h0m-3 1h0m-14 7h0m-8 4h0m-124-16h0m-2 0h0m-1 15h0m-65 5h0m-12-9h0m-5-1h0m-12-4h0m0-4h0m-2 10h0m0-10h0m-13-2h0m-6-2h0m-7 3h0m-28 9h0m-12 8h0m-4-5h0m-6 0h0m-20 29h0m0-2h0m1-6h0m2 4h0m4 3h0m107-19h0m8 2h0m5-1h0m0 8h0m8 2h0m1 9h0m5 2h0m50-15h0m1-5h0m11 20h0m0-5h0m7-9h0m2 8h0m1 4h0m7-2h0m66 0h0m7-6h0m0 1h0m1-4h0m1-1h0m7 5h0m4-1h0m1-7h0m2 0h0m187 18h0m0-16h0m1 4h0m1 1h0m0 6h0m0 3h0m0-1h0m6-12h0m5 0h0m80-6h0m4-2h0m4 16h0m8 5h0m2 2h0m3 12h0m0 10h0m-114-16h0m0 8h0m-5-5h0m-4 8h0m-205-14h0m-10 3h0m-6 1h0m-12-4h0m-9 1h0m-1 2h0m-10-2h0m-5 2h0m-2 1h0m-82-6h0m-2 16h0m0-13h0m-1 13h0m-5 2h0m-5-18h0m-133 16h0m-5-8h0m-71 13h0m-1-8h0m-4 1h0m-1-6h0m-6 3h0m-2-3h0m-5-4h0m-5-1h0m-3 6h0m-6-3h0m-11-1h0m-2-2h0m0 5h0m-1-2h0m-4 4h0m0-6h0m-15 3h0m0-1h0m-1 4h0m-10 7h0m-12 10h0m104 2h0m2 0h0m3 3h0m53 5h0m5 4h0m12 5h0m118-1h0m6-8h0m0-13h0m3 7h0m227 9h0m6 3h0m2-4h0m3-1h0m4 2h0m0-5h0m5-7h0m0 3h0m3 1h0m1-1h0m6-2h0m3 3h0m6 2h0m5-1h0m5-2h0m4 0h0m5 6h0m3-3h0m59 12h0m0-14h0m3 2h0m2-4h0m2 5h0m111 7h0m8 11h0m-6-1h0m-1 14h0m0-16h0m-1 20h0m-110-7h0m-5-10h0m-3 9h0m-37 2h0m-3-11h0m-3-5h0m-1 0h0m-4 0h0m-78 12h0m-2 9h0m0-2h0m0-11h0m-3 15h0m-1-13h0m-3 8h0m-1 2h0m-223-15h0m-1 1h0m-1 2h0m0 0h0m-6 6h0m-1-9h0m-22 15h0m-7 1h0m-34 1h0m-12 1h0m-6 0h0m-9-6h0m-8-1h0m-15-14h0m-60 16h0m-5-4h0m-109 4h0m-2 3h0m-5-13h0m-3-3h0m0 1h0m0-3h0m8 27h0m7-2h0m5 7h0m1-2h0m4 9h0m1-5h0m6 9h0m10 0h0m59-5h0m1-3h0m6 1h0m2 2h0m1-1h0m3-3h0m2-5h0m2-5h0m101-2h0m0 2h0m11-2h0m2-1h0m2 5h0m2-1h0m4 1h0m2-4h0m8 8h0m6-7h0m1 3h0m7-5h0m8 6h0m13-4h0m33 18h0m1-2h0m4 3h0m1-4h0m9 1h0m14 3h0m6 1h0m7-2h0m0 1h0m3 2h0m167-16h0m7 7h0m86-3h0m0-8h0m3 20h0m1-17h0m40 1h0m2 1h0m1-8h0m2 4h0m3 4h0m1 5h0m2 2h0m98 3h0m-1 8h0m0 6h0m-4 1h0m-11 9h0m-69-6h0m-13-4h0m0-2h0m-1-6h0m-57 14h0m-6-3h0m-12 10h0m0 0h0m-41 1h0m-18-12h0m-154 10h0m-6-1h0m-2-3h0m-2-3h0m-5-7h0m0-1h0m-10 0h0m-51-3h0m-13 4h0m-2 3h0m-1-5h0m-7 1h0m0 1h0m-3 2h0m-1 4h0m0 7h0m-1-8h0m-188-11h0m-18 1h0m-15 1h0m-5 0h0m-5 5h0m-3-5h0m-6-1h0m-4 2h0m-14 40h0m7-4h0m6-2h0m14-5h0m12 1h0m2 0h0m1 0h0m9-3h0m6-3h0m4 6h0m10-6h0m16 11h0m8-2h0m1 0h0m6 0h0m142 10h0m2-10h0m1-8h0m5 13h0m109-14h0m2 8h0m5 10h0m178-16h0m1-2h0m8 3h0m1 1h0m4-3h0m4-1h0m2-3h0m50 23h0m6-1h0m2 1h0m4 0h0m19 0h0m20-16h0m2 14h0m2 2h0m0 0h0m8-22h0m0 3h0m14 11h0m11 4h0m1 2h0m2-3h0m2 1h0m1-4h0m7-3h0m1 7h0m2-1h0m6-12h0m4 6h0m-33 21h0m-2 5h0m-8 0h0m-45-11h0m-10-2h0m-1 3h0m-11 2h0m-15 0h0m-1 2h0m-2 5h0m-5-6h0m-1 10h0m-2-9h0m-1 5h0m-224-5h0m-3 2h0m-2-7h0m-11 19h0m-94-2h0m-1-4h0m-4 1h0m0-11h0m-6-6h0m-1 2h0m-121 5h0m-4-2h0m-2 2h0m-140 8h0m-1-3h0m-3-2h0m-4 7h0m-6 14h0m3 12h0m2-7h0m0-4h0m2 3h0m152 3h0m4-2h0m0 6h0m5-2h0m125-10h0m1-6h0m7 11h0m7-1h0m20 8h0m2-3h0m9 2h0m3 1h0m1-3h0m16 5h0m3-5h0m4 1h0m224 1h0m3-6h0m4-1h0m16-6h0m3-3h0m119 1h0m1 3h0m1 16h0m0-9h0m1-8h0m0 7h0m7 11h0m3 0h0m-7 16h0m0-5h0m-7-5h0m-7 15h0m-138-15h0m-2 0h0m-2-1h0m0 6h0m-7 10h0m-113 4h0m-6-4h0m-2-1h0m-15 2h0m-10-14h0m-22 7h0m0-6h0m-6 3h0m-7 1h0m-2-4h0m-1-1h0m0 6h0m-3 3h0m-2 2h0m-4-3h0m-9 3h0m-6 3h0m-7-3h0m-2-3h0m-6 3h0m-2 4h0m-186-15h0m-2-3h0m-6 8h0m0 5h0m-1 4h0m-1 1h0m-1-2h0m-1-3h0m-151 7h0m-1-19h0m-2 4h0m3 16h0m12 6h0m121 13h0m6-10h0m3 0h0m2-2h0m0 5h0m1-3h0m2 10h0m2-9h0m1-5h0m0-1h0m3-3h0m0 12h0m5-10h0m2 0h0m145 17h0m18-9h0m0 4h0m5-12h0m2-2h0m4 1h0m10-1h0m113 2h0m2-2h0m5 13h0m0-10h0m1 6h0m4 11h0m7-9h0m94-2h0m4 12h0m7-1h0m1 1h0m5 0h0m109 1h0m8-3h0m3-3h0m0-4h0m3 6h0m13-8h0m4-11h0m6 0h0m3 19h0m2-1h0m68 24h0m-9 2h0m-2 3h0m-3-3h0m-1-14h0m-7-3h0m-3 0h0m-6 3h0m-2 4h0m-5-7h0m-4 3h0m-3-5h0m-7 1h0m-19-1h0m-10 0h0m-23 4h0m-12 4h0m-3 3h0m0-6h0m0 12h0m-4-12h0m-11 16h0m-3-9h0m-3 10h0m-3-4h0m-15-4h0m-2 3h0m0-1h0m0 4h0m-5-1h0m-12 2h0m-14-5h0m-6-6h0m-1 9h0m-4-9h0m-1 3h0m-11 0h0m-108-12h0m-14-2h0m-3 2h0m-176 8h0m-10 11h0m-152-21h0m-2 3h0m-9-1h0m-3 3h0m0 9h0m-9-3h0m-4-4h0m-2 11h0m0-1h0m-5-2h0m-13-5h0m-8 6h0m-12-7h0m-3 7h0m-5 0h0m-9-14h0m-11 5h0m-1 2h0m-2-9h0m-9 3h0m245 41h0m7-9h0m5-5h0m5-5h0m176 14h0m1 8h0m2-4h0m4-6h0m12-13h0m185 0h0m138 3h0m6 6h0m2 6h0m10 17h0m-7 5h0m-2-12h0m0 7h0m0 10h0m-4-16h0m-153 2h0m-9 5h0m0 13h0m-1 0h0m-1-6h0m-75 3h0m-8 0h0m-2-2h0m-2 4h0m-15 0h0m-6-4h0m-1 5h0m-6-5h0m-6 2h0m-16 3h0m-45-21h0m-2 8h0m-3-1h0m-6 9h0m-7-2h0m-5 0h0m-155-15h0m-10 5h0m-7-3h0m-140 19h0m-5 0h0m-12-4h0m-2 2h0m-1 0h0m0 3h0m-3-1h0m-7-4h0m-7-1h0m-13 4h0m0-5h0m-4 3h0m0 4h0m-42 23h0m1-6h0m5-2h0m5-8h0m15 3h0m3-5h0m8 0h0m8-3h0m45 5h0m6-5h0m4 8h0m1-3h0m7 5h0m0-5h0m3 4h0m6 4h0m3 4h0m4 0h0m113-16h0m2 5h0m1-1h0m2 1h0m3-6h0m1 10h0m0-1h0m7 6h0m4 8h0m2-8h0m0 2h0m1 0h0m98 5h0m33-16h0m8 6h0m6-2h0m4-9h0m1-1h0m40 21h0m7-5h0m5-3h0m1 2h0m7-10h0m0 2h0m5-5h0m66 4h0m7 7h0m4 4h0m1-11h0m1 1h0m1 11h0m4 5h0m2-1h0m52-21h0m4-1h0m6 23h0m7-8h0m124 6h0m9-3h0m3-5h0m6 6h0m0-4h0m9-7h0m-21 23h0m-3-2h0m-8 9h0m-9 1h0m-4-6h0m-2 1h0m0 11h0m-15 1h0m-9 1h0m-2-1h0m-19-2h0m-6 2h0m-3 1h0m-4 0h0m-13-8h0m-5 7h0m-7-3h0m-7-7h0m-7-8h0m-4-2h0m-4 5h0m-1-7h0m-67 8h0m-7-6h0m0-2h0m-118 12h0m-1 2h0m-1-2h0m-2-2h0m-1 3h0m-4 7h0m-1 3h0m-44-23h0m-11 0h0m-13 1h0m-1 6h0m-45 10h0m-4-7h0m-4 5h0m-1-7h0m-2 1h0m-8 10h0m0 1h0m-17-12h0m-1-8h0m-5 11h0m-1-1h0m-145 1h0m-130 7h0m-1 2h0m-1-3h0m-5 1h0m-1-8h0m-1 12h0m138 22h0m3-14h0m1-2h0m3 17h0m3-4h0m117 4h0m4 1h0m9-1h0m3 1h0m11-2h0m146-17h0m1 12h0m0 5h0m2-3h0m1-4h0m1 7h0m1 3h0m2-12h0m116-8h0m15 19h0m16-2h0m1 1h0m1-6h0m7 7h0m20-6h0m5-9h0m1 0h0m1 3h0m4-1h0m2 6h0m1-5h0m7-7h0m6 11h0m16 4h0m1-3h0m19 5h0m8-19h0m23 3h0m9-1h0m8-1h0m-17 35h0m-2-2h0m-2 6h0m-1-1h0m-9-12h0m-3 4h0m-2-8h0m-108 3h0m-6 4h0m-3-7h0m-10 20h0m-1 0h0m0-16h0m0 6h0m-3-2h0m-1 3h0m-2 4h0m-2-3h0m-1 6h0m-5-17h0m-2 21h0m-5-13h0m0 2h0m-4 2h0m-5-2h0m-1 4h0m-93-11h0m0 5h0m-3 9h0m-3-15h0m-1 4h0m-101 12h0m-3 2h0m-9-5h0m-5 2h0m-5-4h0m-8-11h0m-51 3h0m-6 0h0m-2 2h0m-3 2h0m-4-1h0m0 2h0m-4-4h0m-1 0h0m-3 7h0m-4 2h0m-2-6h0m-12 10h0m-91 0h0m-4 3h0m-2 0h0m-2-4h0m-63 4h0m-4-1h0m-1 1h0m-7-4h0m-8-4h0m-2 2h0m-6-6h0m-3 7h0m-1-8h0m-3-3h0m-8 0h0m29 20h0m0-3h0m28 5h0m8 1h0m16 0h0m8-4h0m22-2h0m63 22h0m9-1h0m2-2h0m14-18h0m129 21h0m0-8h0m1 5h0m0-1h0m3-4h0m7 5h0m107-12h0m11-2h0m11-1h0m1 8h0m3-3h0m19-7h0m4 2h0m47 4h0m1 11h0m3-6h0m2 4h0m1-6h0m0 8h0m1-17h0m1 4h0m0-2h0m2 8h0m154-12h0m4 5h0m11 22h0m-2 14h0m-168-1h0m-8 5h0m-6-18h0m-202 1h0m-4 3h0m-1 1h0m-5 6h0m-2 7h0m0 1h0m-141-20h0m-6 5h0m-1 0h0m-2 4h0m-1 8h0m0-12h0m-223 34h0m16-11h0m4-2h0m6 5h0m1-5h0m7 6h0m0-4h0m8-4h0m7 7h0m5 0h0m1 2h0m5 1h0m17 7h0m1 3h0m1-8h0m1 9h0m140-23h0m1 7h0m1 12h0m0-17h0m132 19h0m7 0h0m1 1h0m4-8h0m1-7h0m2 2h0m8-9h0m215 3h0m7 9h0m4-7h0m5 8h0m0 0h0m11 5h0m130-2h0m11-3h0m4-7h0m2-6h0m2 3h0m1-3h0m-19 25h0m-12 8h0m-3 1h0m0-6h0m-21 13h0m-19 1h0m-20-4h0m-15 4h0m-13-6h0m-2 1h0m-6 3h0m-1 2h0m0-2h0m-25-14h0m-256 4h0m-4-3h0m-46 19h0m-68-1h0m0-12h0m-4 7h0m-2-1h0m-4-3h0m-1-2h0m-2 0h0m-131 3h0m-3 0h0m-10-12h0m-1-1h0m-82 1h0m-2-1h0m-1 10h0m-2-8h0m-3 16h0m-13 21h0m5-10h0m2-4h0m2 4h0m0 5h0m113 10h0m1 2h0m144-18h0m17-2h0m4 0h0m6-2h0m4 7h0m11 3h0m3-10h0m4 0h0m7 3h0m364-3h0m128 45h0m-6 1h0m-9 0h0m-7-1h0m-3-3h0m-1 1h0m-1 3h0m-1-6h0m-1 2h0m-12-1h0m-3 3h0m-3 1h0m-4-4h0m-7 5h0m-11 1h0m-96-3h0m-3-7h0m-6 5h0m-2 5h0m-4-13h0m0 4h0m-3-5h0m-1 2h0m-2 3h0m-9-4h0m-1 6h0m-15-4h0m-24-1h0m-3 3h0m-9 0h0m-2 2h0m-1 2h0m-7 2h0m-8-2h0m-426-4h0m-6-9h0m0-4h0m-1 16h0m-109-14h0m-2 5h0m-1 3h0m-3-7h0m11 20h0m3 2h0m3 5h0m1 5h0m2-3h0m12 9h0m44 4h0m12 1h0m1-3h0m6 1h0m11-19h0m4 0h0m200 12h0m0 7h0m2-6h0m5-4h0m6 5h0m9-9h0m21 2h0m10-1h0m7 1h0m12 1h0m10 5h0m0-3h0m17 10h0m9 0h0m85 1h0m5-5h0m2 2h0m2-1h0m2-3h0m2 0h0m18-12h0m23-4h0m91 5h0m4 3h0m3-2h0m1 17h0m66-17h0m0 8h0m8-6h0m4 0h0m61-8h0m24 5h0m4 2h0m2-3h0m10 17h0m12 21h0m-3 2h0m0-18h0m-2 8h0m-2-8h0m-1-2h0m-130 8h0m-1 12h0m-2-1h0m-4-8h0m-47 2h0m-5-2h0m-3 8h0m-1 0h0m-149-17h0m-2 0h0m-1 5h0m-2-3h0m-7 16h0m-58-6h0m-5-4h0m-1 12h0m-1-21h0m-6 5h0m-115 4h0m-9 1h0m-5 3h0m-83 2h0m0-1h0m-2-1h0m-9 0h0m-8-1h0m-42-3h0m-2 1h0m-15 4h0m-2-2h0m-35-13h0m-3 4h0m-11 4h0m-1-6h0m-2 4h0m-17-2h0m-6-4h0m-1 2h0m0-2h0m0 7h0m53 29h0m2 6h0m2-11h0m0-2h0m1-2h0m2 13h0m2-4h0m103-10h0m5 16h0m5-13h0m4 14h0m0-5h0m55-10h0m1 4h0m8 11h0m1-14h0m1 18h0m1-14h0m2 7h0m135-13h0m40 17h0m3 1h0m2-12h0m1 14h0m0-12h0m3 11h0m5-6h0m1-8h0m133 13h0m4-7h0m0 7h0m14-19h0m70 8h0m8 2h0m115 11h0m4-1h0m8-16h0m0 1h0m5 6h0m3-11h0m2-2h0m-11 25h0m-2-1h0m-23 9h0m-9 2h0m-8 9h0m-3-2h0m-6 0h0m-12 5h0m-7-3h0m-4 2h0m0-8h0m-7 6h0m0-7h0m-1 0h0m-8 1h0m-3 0h0m-4 3h0m-8-3h0m-3-1h0m-138-5h0m-2 3h0m-8 5h0m-13 0h0m-4 4h0m0-3h0m-2 5h0m-2-2h0m-10 1h0m-1-1h0m-44 0h0m-14 1h0m0 0h0m-6-16h0m-2-3h0m-2-2h0m-3 13h0m-8-8h0m-1 3h0m-3-7h0m-46 3h0m-3 2h0m0-6h0m-1 12h0m-4 2h0m-2-5h0m-15 11h0m-6 1h0m-71 1h0m-1-3h0m-1 3h0m-14-14h0m-1 5h0m0-6h0m0 1h0m-4-6h0m-1 14h0m-1-13h0m-2 2h0m-6 0h0m-69 4h0m-1-1h0m-1 4h0m-3 3h0m-1-3h0m-2 3h0m-4 2h0m-3 2h0m-6 1h0m-7 3h0m-67-1h0m-10-9h0m-6-1h0m-1 4h0m-1 1h0m-1-16h0m-3 3h0m24 21h0m5-1h0m5 2h0m4 1h0m4 2h0m5 2h0m5 1h0m16 0h0m5-2h0m1 0h0m12-4h0m9 0h0m121 1h0m2-1h0m21 7h0m4-2h0m4 3h0m2-4h0m10 5h0m4-7h0m0 6h0m4-9h0m22 4h0m12-5h0m102 3h0m30 2h0m20-1h0" fill="none" stroke="#5e4088" stroke-width="14.0" stroke-linecap="round" stroke-opacity="0.8"/></g><ellipse cx="495.7" cy="798.2" rx="9.7" ry="1.4" fill="#f8f2f9" fill-opacity="0.9" transform="rotate(0 495.7 798.2)" filter="url(#bl05)"/><ellipse cx="569.5" cy="819.7" rx="12.5" ry="1.4" fill="#f8f2f9" fill-opacity="0.9" transform="rotate(-25 569.5 819.7)" filter="url(#bl05)"/><ellipse cx="498.7" cy="841.2" rx="8.3" ry="1.1" fill="#f8f2f9" fill-opacity="0.9" transform="rotate(0 498.7 841.2)" filter="url(#bl05)"/><ellipse cx="640.2" cy="801.2" rx="9.7" ry="1.1" fill="#f8f2f9" fill-opacity="0.9" transform="rotate(-20 640.2 801.2)" filter="url(#bl05)"/><ellipse cx="658.6" cy="761.3" rx="6.9" ry="2.0" fill="#f8f2f9" fill-opacity="0.9" transform="rotate(0 658.6 761.3)" filter="url(#bl05)"/><ellipse cx="492.6" cy="764.3" rx="6.9" ry="1.0" fill="#f8f2f9" fill-opacity="0.9" transform="rotate(0 492.6 764.3)" filter="url(#bl05)"/><ellipse cx="480.3" cy="881.2" rx="6.9" ry="1.2" fill="#f8f2f9" fill-opacity="0.9" transform="rotate(0 480.3 881.2)" filter="url(#bl05)"/><ellipse cx="658.6" cy="899.6" rx="8.3" ry="1.0" fill="#f8f2f9" fill-opacity="0.9" transform="rotate(0 658.6 899.6)" filter="url(#bl05)"/><ellipse cx="554.1" cy="902.7" rx="8.3" ry="1.0" fill="#f8f2f9" fill-opacity="0.9" transform="rotate(0 554.1 902.7)" filter="url(#bl05)"/><ellipse cx="504.9" cy="905.8" rx="6.9" ry="0.9" fill="#f8f2f9" fill-opacity="0.9" transform="rotate(0 504.9 905.8)" filter="url(#bl05)"/><ellipse cx="560.2" cy="785.9" rx="6.9" ry="1.0" fill="#f8f2f9" fill-opacity="0.9" transform="rotate(0 560.2 785.9)" filter="url(#bl05)"/></g><g filter="url(#bl05)"><path transform="translate(468 709) scale(.25)" d="M24 8h0m11 8h0m2 4h0m1-3h0m8-4h0m7-7h0m11 11h0m6-8h0m3 5h0m3 1h0m8-10h0m4 1h0m4 10h0m151-12h0m1-1h0m32-1h0m19 2h0m18 13h0m2-6h0m10 6h0m1-12h0m2-3h0m7 17h0m3 0h0m7-6h0m3 3h0m6 3h0m0-19h0m38 13h0m1-6h0m4 0h0m15 0h0m2-6h0m4 19h0m6-16h0m2 0h0m3-4h0m4 23h0m34-8h0m2-13h0m8 20h0m3 0h0m8-4h0m106-7h0m3 4h0m13-14h0m9 10h0m61 7h0m49-7h0m1-2h0m9-6h0m60-1h0m4 5h0m17-3h0m8 1h0m3 33h0m-70 2h0m-42 2h0m-15-5h0m-34-10h0m-202 3h0m-14 8h0m-9-2h0m-3 8h0m-8-12h0m-9 9h0m-4-11h0m-4 11h0m-17 0h0m-18 1h0m-26-16h0m-1 20h0m-7-10h0m-1-12h0m-15 13h0m-22 6h0m-12 1h0m-7-3h0m-1-16h0m-27 4h0m-204-4h0m-3 15h0m-17-7h0m-31 5h0m-5 29h0m13-7h0m7-4h0m1-6h0m2 12h0m10 0h0m2-9h0m7 12h0m4 4h0m2-7h0m2-11h0m12-2h0m2 5h0m14 10h0m4-8h0m2 4h0m10 9h0m4 0h0m0-3h0m170-17h0m3 12h0m5 0h0m6 8h0m2-11h0m7 0h0m4-8h0m6 11h0m9 6h0m4 3h0m4 0h0m18-22h0m23 4h0m8-1h0m2 0h0m9 19h0m19-10h0m15 0h0m11-8h0m2-1h0m236 11h0m65-8h0m13 5h0m1 5h0m26 6h0m41-5h0m15 1h0m11-1h0m2 5h0m-27 2h0m-63 8h0m-351 1h0m-2-5h0m-1 9h0m-2 0h0m-24-6h0m0 9h0m-31-9h0m-1 4h0m-6 0h0m-13-5h0m-17 2h0m-7 9h0m0-5h0m-4-7h0m-5 6h0m-8-5h0m-18-2h0m-12 11h0m-23 8h0m-2 0h0m-95-10h0m-16 9h0m-11 0h0m-2-14h0m-4 1h0m-2 2h0m-23 4h0m-4 2h0m-17-6h0m-11-5h0m-10 0h0m0-5h0m-3 1h0m-7 17h0m-10-12h0m-3-1h0m7 32h0m7 5h0m1-7h0m2-2h0m1-1h0m4 10h0m2-14h0m2 8h0m4 9h0m3-4h0m8 2h0m0-2h0m4-12h0m12-1h0m3 14h0m16 3h0m1-3h0m10-2h0m3-8h0m13 14h0m0-5h0m13-18h0m4 0h0m2 5h0m20 0h0m17 11h0m2 3h0m8 3h0m9-19h0m19 0h0m17 0h0m10 0h0m1-1h0m8 12h0m17-9h0m23-5h0m9 3h0m5 7h0m24 0h0m6 13h0m19-1h0m0-2h0m5 0h0m3-9h0m12 11h0m10 0h0m16-22h0m2 0h0m246 14h0m43-8h0m114-3h0m7 3h0m-97 30h0m-11 1h0m-78-5h0m-226 13h0m-6-5h0m-11 1h0m-5 3h0m-2-4h0m-6-9h0m-138-6h0m-2 16h0m-23-11h0m-3 3h0m-11 4h0m-13 0h0m-14 0h0m-17-13h0m-5 7h0m-4-4h0m-3 10h0m-6-8h0m-16 6h0m-9 7h0m-7-12h0m-8 0h0m-2 16h0m-4-21h0m-6 19h0m-1 1h0m-1-11h0m-10-9h0m-3 1h0m-5 12h0m-1 3h0m-12 6h0m-5-5h0m-3 0h0m-18-9h0m-1 28h0m2 7h0m6-19h0m7 1h0m34 12h0m3-1h0m2 1h0m2 1h0m0-2h0m4-4h0m6 9h0m7-4h0m8-9h0m21 2h0m11 8h0m16-9h0m5 10h0m16 1h0m2-15h0m14 18h0m1-8h0m13-5h0m1 13h0m5-6h0m6-12h0m2 3h0m163 7h0m2-1h0m4 11h0m1-17h0m15 1h0m183-4h0m25 3h0m50 12h0m30-16h0m167 9h0m0 23h0m-1 2h0m-194-1h0m-21 2h0m-49-5h0m-47 2h0m-7-8h0m-117 5h0m-2 0h0m-6 2h0m-1-1h0m-6 6h0m-3-9h0m-17 1h0m-171 4h0m-8 13h0m-8-15h0m-5 9h0m-5-16h0m-16 4h0m-3 9h0m-10-9h0m-1 3h0m-71-6h0m-19-1h0m-10 14h0m-4-7h0m-16-6h0m-10 15h0m-1-5h0m-8-7h0m2 39h0m4-5h0m0 8h0m19 0h0m2-10h0m138-4h0m2-4h0m4 16h0m7-14h0m17 7h0m2-2h0m7 12h0m167-18h0m1 10h0m11-2h0m2 3h0m0 5h0m1-3h0m24-8h0m8-8h0m44 12h0m91 6h0m22-17h0m97 2h0m2 10h0m2-14h0m-153 32h0m-6 13h0m-70 0h0m-59-9h0m-24-10h0m-12 5h0m-1 9h0m-5 2h0m-139-12h0m-2 13h0m0-19h0m-10 15h0m-3-6h0m-2-2h0m-10 11h0m-4 1h0m-1-2h0m-148-1h0m-6-5h0m-5 11h0m-6-23h0m-10 13h0m0 5h0m2 19h0m4 0h0m5-7h0m1 6h0m1 7h0m1-6h0m6-7h0m0 0h0m157 14h0m2-18h0m2 4h0m9 17h0m3 0h0m35-10h0m3-9h0m16 7h0m36 11h0m3-1h0m2 1h0m11-5h0m11 3h0m17-2h0m11-14h0m9-2h0m3 7h0m2-2h0m2-3h0m2 5h0m8 2h0m4 0h0m1-4h0m29-1h0m9 1h0m79 7h0m6-6h0m2 3h0m33-7h0m11 16h0m155-11h0m143 6h0m-14 17h0m-136 8h0m-13-1h0m-379 1h0m-1 5h0m-1 2h0m-11-10h0m-3-5h0m-2 10h0m-15-12h0m-2 7h0m-6 4h0m-14-7h0m-36-8h0m-2 6h0m-22 10h0m-3-9h0m-23 0h0m-5-1h0m-20 4h0m-35 2h0m-8 2h0m-7-3h0m-29 7h0m-7-2h0m-7-5h0m-15-8h0m-2 0h0m0 10h0m4 30h0m32-20h0m2 0h0m105 0h0m5 2h0m6-3h0m9 9h0m10-4h0m0-5h0m15 3h0m19 2h0m19 18h0m2-23h0m11 2h0m34 4h0m1-4h0m231 5h0m171 1h0m11 4h0m113 1h0m15-8h0m-17 20h0m-199 0h0m-46 12h0m-12-13h0m-30 10h0m-52 10h0m-24-17h0m-177 11h0m-40-13h0m-5-1h0m-13 21h0m2 25h0m58-22h0m29 20h0m5-5h0m138-8h0m8 3h0m21 8h0m86-8h0m7-4h0m232-5h0m21 20h0m-8 3h0m-30 3h0m-213 0h0m-37 11h0m-30-11h0m-147 9h0m-111 11h0m-1-9h0m-18-9h0m-35 42h0m37-23h0m6 19h0m20-19h0m40 19h0m5 2h0m1-7h0m0-1h0m288 0h0m205-4h0m-263 18h0m-273 7h0m-15 9h0m-55-6h0m-183-6h0m21 30h0m122-10h0m60 17h0m14-11h0m20-5h0m3 12h0m8-3h0m307-8h0m37 12h0m-81 28h0m-12-8h0m-279 3h0m-53-13h0m-3 9h0m-33-7h0m-44 6h0m-15 3h0m-16-3h0m-49 7h0m-5-14h0m38 20h0m209 15h0m13-1h0m197 20h0m-437 8h0m-16-17h0m287 26h0m3 9h0m30 0h0m12 0h0m2 1h0m56 6h0m376-10h0m0 10h0m45-13h0m-28 30h0m-346-3h0m-3-1h0m-41 3h0m-11 2h0m-170 2h0m-187-12h0m57 43h0m107-6h0m6 0h0m229-7h0m2 2h0m13 0h0m7-3h0m17 14h0m327-14h0m33 15h0m-272 4h0m-64 10h0m-48 4h0m-16-17h0m-26 18h0m-7-11h0m-199 2h0m-45-5h0m-21 16h0m-72-1h0m-31-18h0m67 41h0m12 5h0m31-18h0m25 13h0m225-1h0m138-14h0m10 8h0m256-8h0m1 6h0m10 3h0m20 22h0m0-4h0m-36 17h0m-39-8h0m-170-3h0m-50 7h0m-4 3h0m-1-17h0m-23 3h0m-30 3h0m-62 9h0m-209-5h0m-15 1h0m-75-14h0m73 28h0m139 13h0m10-1h0m94-10h0m59 0h0m61 1h0m11-4h0m12-5h0m88 6h0m96 17h0m15-21h0m40 32h0m-4-4h0m-6 11h0m-41-16h0m-15 8h0m-28 4h0m-70-7h0m-133-3h0m-1 7h0m-2 0h0m-41 8h0m-76 1h0m-4-10h0m-8-8h0m-27 7h0m-16 0h0m-5 4h0m-93-9h0m-4 9h0m-121 29h0m1-4h0m25 10h0m32-22h0m26 13h0m19 0h0m16-9h0m7 7h0m162-10h0m37 18h0m260-20h0m-254 29h0m-11 4h0m-179-6h0m-2 12h0m-103-15h0m-145 10h0m0 10h0m24 12h0m5-2h0m26 3h0m4 4h0m153-3h0m15-5h0m11-5h0m196 7h0m220 12h0m1-17h0m7 1h0m39 42h0m-5-5h0m-44-2h0m-15 3h0m-403 1h0m-177-5h0m-4 10h0m-5-4h0m-53-11h0m151 38h0m35-5h0m26-9h0m2 5h0m315 3h0m61 1h0m23-11h0m7 8h0m87 7h0m10 2h0m62 0h0m40 0h0m-466 1h0" fill="none" stroke="#5e4088" stroke-width="13.2" stroke-linecap="round" stroke-opacity="0.78"/></g><g filter="url(#bl1)"><path d="M591.0 739.7C589.4 741.8 599.7 729.0 603.3 724.4C606.9 719.8 614.6 709.5 612.5 712.1" fill="none" stroke="#f6eef7" stroke-width="5.5" stroke-linecap="round" stroke-linejoin="round" stroke-opacity="1.0"/></g><g filter="url(#bl1)"><path d="M508.0 745.9C506.7 745.1 514.4 750.3 517.2 752.0C520.0 753.8 526.4 757.7 524.9 756.7" fill="none" stroke="#f6eef7" stroke-width="4.3" stroke-linecap="round" stroke-linejoin="round" stroke-opacity="1.0"/></g><g filter="url(#bl1)"><path d="M664.8 752.0L664.8 765.9" fill="none" stroke="#f6eef7" stroke-width="3.7" stroke-linecap="round" stroke-linejoin="round" stroke-opacity="1.0"/></g><g filter="url(#bl1)"><path d="M538.7 887.3C536.7 888.6 552.0 879.6 557.2 876.6C562.3 873.5 572.5 867.1 569.5 868.9" fill="none" stroke="#f6eef7" stroke-width="3.1" stroke-linecap="round" stroke-linejoin="round" stroke-opacity="1.0"/></g><g filter="url(#bl1)"><path d="M627.9 861.2L643.3 858.1" fill="none" stroke="#f6eef7" stroke-width="2.8" stroke-linecap="round" stroke-linejoin="round" stroke-opacity="1.0"/></g><g filter="url(#bl1)"><path d="M474.1 712.1L480.3 721.3" fill="none" stroke="#f6eef7" stroke-width="7.7" stroke-linecap="round" stroke-linejoin="round" stroke-opacity="1.0"/></g><g filter="url(#bl1)"><path d="M584.8 896.6L591.0 905.8" fill="none" stroke="#f6eef7" stroke-width="3.1" stroke-linecap="round" stroke-linejoin="round" stroke-opacity="1.0"/></g><g filter="url(#bl1)"><path d="M578.7 758.2L591.0 758.2" fill="none" stroke="#f6eef7" stroke-width="3.1" stroke-linecap="round" stroke-linejoin="round" stroke-opacity="1.0"/></g><g filter="url(#bl1)"><path d="M560.2 856.6L572.5 853.5" fill="none" stroke="#f6eef7" stroke-width="2.5" stroke-linecap="round" stroke-linejoin="round" stroke-opacity="1.0"/></g><ellipse cx="591.0" cy="792.0" rx="4.6" ry="1.8" fill="#c83a5a" fill-opacity="0.8" transform="rotate(-30 591.0 792.0)" /><ellipse cx="480.3" cy="787.4" rx="1.8" ry="7.7" fill="#d04a70" fill-opacity="0.7" transform="rotate(0 480.3 787.4)" /></g>
<path d="M22.5 1.6V195.5H222" fill="none" stroke="#1a1a1a" stroke-width="1.1"/><text x="13.9" y="14.0" text-anchor="end">5</text><text x="13.9" y="39.2" text-anchor="end">4</text><text x="13.9" y="64.4" text-anchor="end">3</text><text x="13.9" y="89.5" text-anchor="end">2</text><text x="13.9" y="114.7" text-anchor="end">1</text><text x="13.9" y="139.9" text-anchor="end">0</text><text x="13.9" y="165.1" text-anchor="end">−1</text><text x="13.9" y="190.3" text-anchor="end">−2</text><text x="30.7" y="212.1" text-anchor="middle">−5.0</text><text x="67.5" y="212.1" text-anchor="middle">−2.5</text><text x="104.3" y="212.1" text-anchor="middle">0.0</text><text x="141.1" y="212.1" text-anchor="middle">2.5</text><text x="177.9" y="212.1" text-anchor="middle">5.0</text><text x="214.7" y="212.1" text-anchor="middle">7.5</text><path d="M253.5 1.6V195.5H454" fill="none" stroke="#1a1a1a" stroke-width="1.1"/><text x="244.9" y="23.7" text-anchor="end">2</text><text x="244.9" y="51.6" text-anchor="end">1</text><text x="244.9" y="79.5" text-anchor="end">0</text><text x="244.9" y="107.4" text-anchor="end">−1</text><text x="244.9" y="135.3" text-anchor="end">−2</text><text x="244.9" y="163.2" text-anchor="end">−3</text><text x="244.9" y="191.1" text-anchor="end">−4</text><text x="283.4" y="212.1" text-anchor="middle">−4</text><text x="322.0" y="212.1" text-anchor="middle">−2</text><text x="360.6" y="212.1" text-anchor="middle">0</text><text x="399.2" y="212.1" text-anchor="middle">2</text><text x="437.8" y="212.1" text-anchor="middle">4</text><path d="M484.5 1.6V195.5H685" fill="none" stroke="#1a1a1a" stroke-width="1.1"/><text x="475.9" y="23.7" text-anchor="end">2</text><text x="475.9" y="51.6" text-anchor="end">1</text><text x="475.9" y="79.5" text-anchor="end">0</text><text x="475.9" y="107.4" text-anchor="end">−1</text><text x="475.9" y="135.3" text-anchor="end">−2</text><text x="475.9" y="163.2" text-anchor="end">−3</text><text x="475.9" y="191.1" text-anchor="end">−4</text><text x="514.6" y="212.1" text-anchor="middle">−4</text><text x="553.2" y="212.1" text-anchor="middle">−2</text><text x="591.8" y="212.1" text-anchor="middle">0</text><text x="630.4" y="212.1" text-anchor="middle">2</text><text x="669.0" y="212.1" text-anchor="middle">4</text><path d="M22.5 237.4V431.9H222" fill="none" stroke="#1a1a1a" stroke-width="1.1"/><text x="13.9" y="259.7" text-anchor="end">2</text><text x="13.9" y="287.6" text-anchor="end">1</text><text x="13.9" y="315.5" text-anchor="end">0</text><text x="13.9" y="343.4" text-anchor="end">−1</text><text x="13.9" y="371.3" text-anchor="end">−2</text><text x="13.9" y="399.2" text-anchor="end">−3</text><text x="13.9" y="427.1" text-anchor="end">−4</text><text x="52.1" y="448.5" text-anchor="middle">−4</text><text x="90.7" y="448.5" text-anchor="middle">−2</text><text x="129.3" y="448.5" text-anchor="middle">0</text><text x="167.9" y="448.5" text-anchor="middle">2</text><text x="206.5" y="448.5" text-anchor="middle">4</text><path d="M253.5 237.4V431.9H454" fill="none" stroke="#1a1a1a" stroke-width="1.1"/><text x="244.9" y="259.7" text-anchor="end">2</text><text x="244.9" y="287.6" text-anchor="end">1</text><text x="244.9" y="315.5" text-anchor="end">0</text><text x="244.9" y="343.4" text-anchor="end">−1</text><text x="244.9" y="371.3" text-anchor="end">−2</text><text x="244.9" y="399.2" text-anchor="end">−3</text><text x="244.9" y="427.1" text-anchor="end">−4</text><text x="283.4" y="448.5" text-anchor="middle">−4</text><text x="322.0" y="448.5" text-anchor="middle">−2</text><text x="360.6" y="448.5" text-anchor="middle">0</text><text x="399.2" y="448.5" text-anchor="middle">2</text><text x="437.8" y="448.5" text-anchor="middle">4</text><path d="M484.5 237.4V431.9H685" fill="none" stroke="#1a1a1a" stroke-width="1.1"/><text x="475.9" y="259.7" text-anchor="end">2</text><text x="475.9" y="287.6" text-anchor="end">1</text><text x="475.9" y="315.5" text-anchor="end">0</text><text x="475.9" y="343.4" text-anchor="end">−1</text><text x="475.9" y="371.3" text-anchor="end">−2</text><text x="475.9" y="399.2" text-anchor="end">−3</text><text x="475.9" y="427.1" text-anchor="end">−4</text><text x="514.6" y="448.5" text-anchor="middle">−4</text><text x="553.2" y="448.5" text-anchor="middle">−2</text><text x="591.8" y="448.5" text-anchor="middle">0</text><text x="630.4" y="448.5" text-anchor="middle">2</text><text x="669.0" y="448.5" text-anchor="middle">4</text><path d="M22.5 473.2V668.2H222" fill="none" stroke="#1a1a1a" stroke-width="1.1"/><text x="13.9" y="497.1" text-anchor="end">2</text><text x="13.9" y="525.0" text-anchor="end">1</text><text x="13.9" y="552.9" text-anchor="end">0</text><text x="13.9" y="580.8" text-anchor="end">−1</text><text x="13.9" y="608.7" text-anchor="end">−2</text><text x="13.9" y="636.6" text-anchor="end">−3</text><text x="13.9" y="664.5" text-anchor="end">−4</text><text x="52.1" y="684.8" text-anchor="middle">−4</text><text x="90.7" y="684.8" text-anchor="middle">−2</text><text x="129.3" y="684.8" text-anchor="middle">0</text><text x="167.9" y="684.8" text-anchor="middle">2</text><text x="206.5" y="684.8" text-anchor="middle">4</text>
<g class="sc" fill-opacity="1"><circle class="k0" cx="84.7" cy="24.8"/><circle class="k0" cx="82.6" cy="28.4"/><circle class="k0" cx="94.7" cy="42.8"/><circle class="k0" cx="98.0" cy="54.9"/><circle class="k0" cx="58.0" cy="44.4"/><circle class="k0" cx="62.1" cy="56.1"/><circle class="k0" cx="59.8" cy="53.0"/><circle class="k0" cx="51.3" cy="54.7"/><circle class="k0" cx="53.1" cy="62.5"/><circle class="k0" cx="50.5" cy="64.6"/><circle class="k0" cx="83.4" cy="60.8"/><circle class="k0" cx="115.7" cy="15.3"/><circle class="k0" cx="157.9" cy="22.4"/><circle class="k0" cx="142.0" cy="22.5"/><circle class="k0" cx="157.7" cy="29.8"/><circle class="k0" cx="107.1" cy="28.2"/><circle class="k0" cx="114.6" cy="25.6"/><circle class="k0" cx="129.7" cy="28.1"/><circle class="k0" cx="106.2" cy="44.9"/><circle class="k0" cx="130.9" cy="28.4"/><circle class="k0" cx="129.5" cy="39.7"/><circle class="k0" cx="142.1" cy="37.1"/><circle class="k0" cx="123.4" cy="50.1"/><circle class="k0" cx="146.9" cy="55.0"/><circle class="k0" cx="163.8" cy="57.7"/><circle class="k0" cx="123.1" cy="59.7"/><circle class="k0" cx="121.1" cy="65.8"/><circle class="k0" cx="114.5" cy="70.0"/><circle class="k0" cx="177.9" cy="54.5"/><circle class="k0" cx="183.4" cy="60.2"/><circle class="k0" cx="48.8" cy="80.0"/><circle class="k0" cx="47.5" cy="85.0"/><circle class="k0" cx="60.3" cy="86.3"/><circle class="k0" cx="51.4" cy="97.6"/><circle class="k0" cx="48.1" cy="97.5"/><circle class="k0" cx="39.4" cy="112.4"/><circle class="k0" cx="158.6" cy="98.3"/><circle class="k0" cx="163.4" cy="86.5"/><circle class="k0" cx="167.1" cy="118.4"/><circle class="k0" cx="168.4" cy="81.4"/><circle class="k0" cx="188.2" cy="86.0"/><circle class="k0" cx="174.8" cy="74.3"/><circle class="k0" cx="189.0" cy="108.5"/><circle class="k0" cx="176.8" cy="125.8"/><circle class="k0" cx="201.2" cy="135.9"/><circle class="k0" cx="194.3" cy="143.4"/><circle class="k0" cx="198.3" cy="147.0"/><circle class="k0" cx="87.2" cy="25.5"/><circle class="k0" cx="95.9" cy="26.6"/><circle class="k0" cx="79.0" cy="28.1"/><circle class="k0" cx="82.1" cy="29.1"/><circle class="k0" cx="91.3" cy="31.7"/><circle class="k0" cx="71.9" cy="40.9"/><circle class="k0" cx="82.6" cy="39.3"/><circle class="k0" cx="88.8" cy="40.9"/><circle class="k0" cx="93.9" cy="45.5"/><circle class="k0" cx="96.4" cy="53.1"/><circle class="k0" cx="97.4" cy="58.8"/><circle class="k0" cx="60.7" cy="46.0"/><circle class="k0" cx="64.7" cy="48.0"/><circle class="k0" cx="63.2" cy="52.1"/><circle class="k0" cx="73.9" cy="48.5"/><circle class="k0" cx="80.6" cy="47.5"/><circle class="k0" cx="76.5" cy="55.7"/><circle class="k0" cx="83.1" cy="57.7"/><circle class="k0" cx="66.8" cy="58.2"/><circle class="k0" cx="60.7" cy="58.8"/><circle class="k0" cx="56.6" cy="51.6"/><circle class="k0" cx="53.5" cy="54.7"/><circle class="k0" cx="50.4" cy="57.2"/><circle class="k0" cx="54.0" cy="59.3"/><circle class="k0" cx="49.9" cy="62.3"/><circle class="k0" cx="52.0" cy="65.9"/><circle class="k0" cx="72.4" cy="64.9"/><circle class="k0" cx="80.6" cy="63.4"/><circle class="k0" cx="113.3" cy="11.2"/><circle class="k0" cx="112.3" cy="14.3"/><circle class="k0" cx="130.7" cy="14.8"/><circle class="k0" cx="134.2" cy="15.3"/><circle class="k0" cx="139.9" cy="18.4"/><circle class="k0" cx="124.5" cy="20.4"/><circle class="k0" cx="135.8" cy="23.0"/><circle class="k0" cx="153.6" cy="20.4"/><circle class="k0" cx="160.3" cy="24.5"/><circle class="k0" cx="143.9" cy="24.5"/><circle class="k0" cx="154.7" cy="28.6"/><circle class="k0" cx="109.2" cy="29.6"/><circle class="k0" cx="114.3" cy="27.6"/><circle class="k0" cx="113.8" cy="32.7"/><circle class="k0" cx="119.4" cy="30.7"/><circle class="k0" cx="128.6" cy="25.5"/><circle class="k0" cx="133.2" cy="25.0"/><circle class="k0" cx="137.8" cy="28.1"/><circle class="k0" cx="118.9" cy="34.7"/><circle class="k0" cx="103.1" cy="38.8"/><circle class="k0" cx="104.1" cy="42.9"/><circle class="k0" cx="129.6" cy="31.7"/><circle class="k0" cx="130.1" cy="36.3"/><circle class="k0" cx="140.4" cy="35.3"/><circle class="k0" cx="123.5" cy="37.8"/><circle class="k0" cx="161.3" cy="43.9"/><circle class="k0" cx="108.7" cy="49.0"/><circle class="k0" cx="116.3" cy="51.1"/><circle class="k0" cx="123.0" cy="47.0"/><circle class="k0" cx="125.0" cy="44.5"/><circle class="k0" cx="123.5" cy="53.6"/><circle class="k0" cx="118.4" cy="54.2"/><circle class="k0" cx="135.8" cy="52.1"/><circle class="k0" cx="148.0" cy="46.0"/><circle class="k0" cx="145.5" cy="50.1"/><circle class="k0" cx="149.0" cy="53.1"/><circle class="k0" cx="147.0" cy="57.2"/><circle class="k0" cx="158.8" cy="50.1"/><circle class="k0" cx="162.3" cy="50.1"/><circle class="k0" cx="159.3" cy="55.2"/><circle class="k0" cx="163.9" cy="54.2"/><circle class="k0" cx="157.2" cy="59.3"/><circle class="k0" cx="154.2" cy="63.4"/><circle class="k0" cx="168.0" cy="65.4"/><circle class="k0" cx="123.5" cy="59.3"/><circle class="k0" cx="125.5" cy="62.3"/><circle class="k0" cx="121.5" cy="63.4"/><circle class="k0" cx="112.3" cy="59.3"/><circle class="k0" cx="109.2" cy="61.3"/><circle class="k0" cx="103.1" cy="62.3"/><circle class="k0" cx="122.5" cy="68.0"/><circle class="k0" cx="116.3" cy="67.4"/><circle class="k0" cx="181.0" cy="55.6"/><circle class="k0" cx="186.2" cy="62.3"/><circle class="k0" cx="171.2" cy="64.6"/><circle class="k0" cx="170.8" cy="67.8"/><circle class="k0" cx="52.0" cy="80.7"/><circle class="k0" cx="49.9" cy="83.8"/><circle class="k0" cx="57.6" cy="88.4"/><circle class="k0" cx="65.3" cy="85.3"/><circle class="k0" cx="47.9" cy="97.1"/><circle class="k0" cx="46.3" cy="100.1"/><circle class="k0" cx="44.3" cy="104.7"/><circle class="k0" cx="70.9" cy="75.1"/><circle class="k0" cx="87.7" cy="85.8"/><circle class="k0" cx="41.2" cy="111.4"/><circle class="k0" cx="42.3" cy="113.9"/><circle class="k0" cx="148.5" cy="77.2"/><circle class="k0" cx="157.2" cy="77.7"/><circle class="k0" cx="157.7" cy="96.1"/><circle class="k0" cx="164.4" cy="89.9"/><circle class="k0" cx="163.9" cy="102.7"/><circle class="k0" cx="167.4" cy="112.9"/><circle class="k0" cx="168.5" cy="116.0"/><circle class="k0" cx="169.5" cy="83.3"/><circle class="k0" cx="169.5" cy="94.5"/><circle class="k0" cx="185.4" cy="79.9"/><circle class="k0" cx="190.1" cy="88.5"/><circle class="k0" cx="172.4" cy="76.3"/><circle class="k0" cx="180.2" cy="83.4"/><circle class="k0" cx="181.4" cy="87.3"/><circle class="k0" cx="174.7" cy="93.3"/><circle class="k0" cx="171.6" cy="96.0"/><circle class="k0" cx="190.9" cy="98.8"/><circle class="k0" cx="195.2" cy="98.8"/><circle class="k0" cx="198.4" cy="110.2"/><circle class="k0" cx="178.7" cy="101.5"/><circle class="k0" cx="182.2" cy="100.0"/><circle class="k0" cx="187.7" cy="110.2"/><circle class="k0" cx="173.5" cy="112.6"/><circle class="k0" cx="170.4" cy="109.4"/><circle class="k0" cx="182.6" cy="120.5"/><circle class="k0" cx="178.7" cy="124.4"/><circle class="k0" cx="184.2" cy="126.0"/><circle class="k0" cx="188.9" cy="130.7"/><circle class="k0" cx="192.1" cy="129.1"/><circle class="k0" cx="193.6" cy="132.3"/><circle class="k0" cx="193.6" cy="136.2"/><circle class="k0" cx="202.3" cy="119.7"/><circle class="k0" cx="198.4" cy="124.4"/><circle class="k0" cx="206.3" cy="124.4"/><circle class="k0" cx="203.1" cy="136.2"/><circle class="k0" cx="209.4" cy="139.4"/><circle class="k0" cx="200.0" cy="138.6"/><circle class="k0" cx="47.9" cy="156.3"/><circle class="k0" cx="48.9" cy="163.5"/><circle class="k0" cx="209.4" cy="140.6"/><circle class="k0" cx="197.6" cy="142.6"/><circle class="k0" cx="196.0" cy="146.9"/><circle class="k0" cx="198.4" cy="149.3"/><circle class="k0" cx="211.0" cy="158.0"/><circle class="k0" cx="217.3" cy="160.0"/><circle class="k1" cx="70.5" cy="35.3"/><circle class="k1" cx="78.5" cy="37.0"/><circle class="k1" cx="121.3" cy="12.3"/><circle class="k1" cx="124.8" cy="13.0"/><circle class="k1" cx="147.9" cy="21.0"/><circle class="k1" cx="147.6" cy="25.4"/><circle class="k1" cx="159.9" cy="36.6"/><circle class="k1" cx="109.6" cy="26.4"/><circle class="k1" cx="108.1" cy="38.5"/><circle class="k1" cx="163.9" cy="44.6"/><circle class="k1" cx="115.5" cy="47.1"/><circle class="k1" cx="134.2" cy="48.8"/><circle class="k1" cx="145.6" cy="52.3"/><circle class="k1" cx="143.4" cy="57.8"/><circle class="k1" cx="161.8" cy="66.7"/><circle class="k1" cx="102.5" cy="66.1"/><circle class="k1" cx="122.4" cy="68.5"/><circle class="k1" cx="186.4" cy="68.3"/><circle class="k1" cx="56.4" cy="104.3"/><circle class="k1" cx="72.2" cy="79.4"/><circle class="k1" cx="87.2" cy="84.4"/><circle class="k1" cx="59.9" cy="112.8"/><circle class="k1" cx="59.3" cy="127.6"/><circle class="k1" cx="98.3" cy="123.0"/><circle class="k1" cx="149.4" cy="90.7"/><circle class="k1" cx="150.2" cy="101.8"/><circle class="k1" cx="169.9" cy="107.2"/><circle class="k1" cx="163.5" cy="110.2"/><circle class="k1" cx="157.1" cy="117.1"/><circle class="k1" cx="164.4" cy="119.5"/><circle class="k1" cx="172.4" cy="77.0"/><circle class="k1" cx="174.2" cy="82.4"/><circle class="k1" cx="171.3" cy="91.2"/><circle class="k1" cx="170.8" cy="102.3"/><circle class="k1" cx="182.5" cy="106.2"/><circle class="k1" cx="184.4" cy="118.2"/><circle class="k1" cx="177.9" cy="134.9"/><circle class="k1" cx="183.8" cy="128.5"/><circle class="k1" cx="177.4" cy="136.8"/><circle class="k1" cx="198.2" cy="132.4"/><circle class="k1" cx="202.7" cy="120.4"/><circle class="k1" cx="186.9" cy="147.0"/><circle class="k1" cx="186.5" cy="146.7"/><circle class="k1" cx="190.6" cy="151.1"/><circle class="k1" cx="191.0" cy="152.1"/><circle class="k1" cx="195.7" cy="155.6"/><circle class="k1" cx="189.6" cy="157.7"/><circle class="k1" cx="204.9" cy="158.3"/><circle class="k1" cx="205.4" cy="159.5"/><circle class="k1" cx="204.1" cy="161.5"/><circle class="k1" cx="198.6" cy="166.1"/><circle class="k1" cx="206.1" cy="162.7"/><circle class="k1" cx="216.1" cy="163.6"/><circle class="k1" cx="218.0" cy="172.8"/><circle class="k1" cx="209.8" cy="176.6"/><circle class="k1" cx="200.8" cy="180.0"/><circle class="k1" cx="86.2" cy="31.7"/><circle class="k1" cx="70.4" cy="38.3"/><circle class="k1" cx="75.0" cy="36.3"/><circle class="k1" cx="79.6" cy="41.9"/><circle class="k1" cx="85.2" cy="44.5"/><circle class="k1" cx="97.4" cy="65.4"/><circle class="k1" cx="120.4" cy="9.7"/><circle class="k1" cx="127.6" cy="12.3"/><circle class="k1" cx="128.1" cy="20.4"/><circle class="k1" cx="145.0" cy="19.9"/><circle class="k1" cx="149.0" cy="17.4"/><circle class="k1" cx="149.6" cy="21.5"/><circle class="k1" cx="147.5" cy="26.1"/><circle class="k1" cx="148.5" cy="28.6"/><circle class="k1" cx="162.3" cy="31.7"/><circle class="k1" cx="162.8" cy="35.8"/><circle class="k1" cx="111.2" cy="24.5"/><circle class="k1" cx="109.7" cy="35.8"/><circle class="k1" cx="108.2" cy="34.7"/><circle class="k1" cx="133.7" cy="37.8"/><circle class="k1" cx="165.4" cy="42.4"/><circle class="k1" cx="169.0" cy="46.0"/><circle class="k1" cx="111.8" cy="47.0"/><circle class="k1" cx="136.3" cy="50.1"/><circle class="k1" cx="140.9" cy="51.1"/><circle class="k1" cx="142.9" cy="54.2"/><circle class="k1" cx="142.4" cy="56.7"/><circle class="k1" cx="145.0" cy="60.3"/><circle class="k1" cx="164.9" cy="60.3"/><circle class="k1" cx="160.8" cy="63.9"/><circle class="k1" cx="100.5" cy="65.4"/><circle class="k1" cx="118.9" cy="66.9"/><circle class="k1" cx="171.2" cy="44.5"/><circle class="k1" cx="194.4" cy="65.4"/><circle class="k1" cx="189.7" cy="68.2"/><circle class="k1" cx="59.6" cy="92.0"/><circle class="k1" cx="67.8" cy="93.5"/><circle class="k1" cx="53.5" cy="102.2"/><circle class="k1" cx="72.9" cy="75.6"/><circle class="k1" cx="73.9" cy="80.2"/><circle class="k1" cx="71.9" cy="82.3"/><circle class="k1" cx="86.2" cy="82.3"/><circle class="k1" cx="61.2" cy="116.0"/><circle class="k1" cx="48.4" cy="120.1"/><circle class="k1" cx="43.3" cy="123.1"/><circle class="k1" cx="56.6" cy="125.7"/><circle class="k1" cx="69.3" cy="129.3"/><circle class="k1" cx="70.4" cy="133.4"/><circle class="k1" cx="98.0" cy="125.2"/><circle class="k1" cx="122.5" cy="83.3"/><circle class="k1" cx="125.5" cy="84.8"/><circle class="k1" cx="120.4" cy="85.3"/><circle class="k1" cx="120.9" cy="89.9"/><circle class="k1" cx="152.1" cy="75.6"/><circle class="k1" cx="154.2" cy="73.6"/><circle class="k1" cx="168.5" cy="78.2"/><circle class="k1" cx="147.0" cy="90.9"/><circle class="k1" cx="149.0" cy="87.4"/><circle class="k1" cx="154.7" cy="84.8"/><circle class="k1" cx="156.7" cy="89.9"/><circle class="k1" cx="151.6" cy="91.5"/><circle class="k1" cx="168.0" cy="89.9"/><circle class="k1" cx="148.5" cy="103.7"/><circle class="k1" cx="153.1" cy="110.9"/><circle class="k1" cx="166.9" cy="105.3"/><circle class="k1" cx="165.4" cy="107.8"/><circle class="k1" cx="159.3" cy="115.0"/><circle class="k1" cx="160.3" cy="119.0"/><circle class="k1" cx="166.4" cy="120.1"/><circle class="k1" cx="100.5" cy="125.2"/><circle class="k1" cx="189.3" cy="70.4"/><circle class="k1" cx="195.2" cy="74.7"/><circle class="k1" cx="196.0" cy="81.8"/><circle class="k1" cx="170.4" cy="77.9"/><circle class="k1" cx="174.7" cy="85.4"/><circle class="k1" cx="170.4" cy="89.3"/><circle class="k1" cx="173.2" cy="102.3"/><circle class="k1" cx="183.8" cy="103.9"/><circle class="k1" cx="186.2" cy="106.7"/><circle class="k1" cx="183.4" cy="115.7"/><circle class="k1" cx="186.9" cy="116.9"/><circle class="k1" cx="173.9" cy="121.6"/><circle class="k1" cx="172.0" cy="127.9"/><circle class="k1" cx="177.9" cy="131.5"/><circle class="k1" cx="182.6" cy="131.9"/><circle class="k1" cx="176.3" cy="134.6"/><circle class="k1" cx="180.2" cy="137.8"/><circle class="k1" cx="196.4" cy="134.6"/><circle class="k1" cx="202.3" cy="123.6"/><circle class="k1" cx="202.3" cy="128.7"/><circle class="k1" cx="201.9" cy="143.4"/><circle class="k1" cx="182.6" cy="146.6"/><circle class="k1" cx="184.2" cy="148.9"/><circle class="k1" cx="188.5" cy="144.6"/><circle class="k1" cx="192.1" cy="144.6"/><circle class="k1" cx="192.9" cy="150.5"/><circle class="k1" cx="189.7" cy="149.7"/><circle class="k1" cx="193.6" cy="155.2"/><circle class="k1" cx="191.7" cy="157.6"/><circle class="k1" cx="203.9" cy="153.6"/><circle class="k1" cx="207.1" cy="156.8"/><circle class="k1" cx="203.1" cy="160.0"/><circle class="k1" cx="206.3" cy="161.1"/><circle class="k1" cx="197.2" cy="164.7"/><circle class="k1" cx="201.5" cy="166.7"/><circle class="k1" cx="205.5" cy="165.5"/><circle class="k1" cx="216.1" cy="161.1"/><circle class="k1" cx="214.9" cy="166.3"/><circle class="k1" cx="215.3" cy="171.0"/><circle class="k1" cx="213.8" cy="173.0"/><circle class="k1" cx="199.6" cy="177.7"/><circle class="k1" cx="207.8" cy="176.1"/><circle class="k1" cx="202.3" cy="181.6"/><circle class="k1" cx="198.0" cy="180.5"/><circle class="k1" cx="209.4" cy="183.6"/><circle class="k2" cx="78.9" cy="34.5"/><circle class="k2" cx="93.0" cy="30.0"/><circle class="k2" cx="65.7" cy="44.8"/><circle class="k2" cx="86.6" cy="50.8"/><circle class="k2" cx="120.6" cy="10.6"/><circle class="k2" cx="119.4" cy="18.5"/><circle class="k2" cx="155.1" cy="23.5"/><circle class="k2" cx="124.6" cy="30.0"/><circle class="k2" cx="132.1" cy="31.9"/><circle class="k2" cx="137.0" cy="49.0"/><circle class="k2" cx="150.5" cy="60.8"/><circle class="k2" cx="101.6" cy="67.9"/><circle class="k2" cx="172.9" cy="51.3"/><circle class="k2" cx="185.8" cy="57.8"/><circle class="k2" cx="188.3" cy="60.5"/><circle class="k2" cx="51.4" cy="93.5"/><circle class="k2" cx="58.0" cy="99.6"/><circle class="k2" cx="57.9" cy="103.3"/><circle class="k2" cx="81.1" cy="67.8"/><circle class="k2" cx="93.0" cy="76.8"/><circle class="k2" cx="187.1" cy="74.4"/><circle class="k2" cx="195.8" cy="107.7"/><circle class="k2" cx="180.8" cy="112.2"/><circle class="k2" cx="50.9" cy="157.3"/><circle class="k2" cx="88.2" cy="26.1"/><circle class="k2" cx="78.5" cy="30.7"/><circle class="k2" cx="74.5" cy="31.7"/><circle class="k2" cx="95.4" cy="32.7"/><circle class="k2" cx="96.4" cy="30.7"/><circle class="k2" cx="92.3" cy="37.3"/><circle class="k2" cx="67.3" cy="36.8"/><circle class="k2" cx="91.3" cy="49.0"/><circle class="k2" cx="93.4" cy="50.6"/><circle class="k2" cx="90.3" cy="54.2"/><circle class="k2" cx="92.8" cy="58.8"/><circle class="k2" cx="68.3" cy="45.0"/><circle class="k2" cx="68.8" cy="50.6"/><circle class="k2" cx="77.0" cy="52.1"/><circle class="k2" cx="84.2" cy="53.6"/><circle class="k2" cx="117.9" cy="9.2"/><circle class="k2" cx="115.8" cy="14.3"/><circle class="k2" cx="115.8" cy="19.4"/><circle class="k2" cx="133.7" cy="20.4"/><circle class="k2" cx="157.7" cy="22.0"/><circle class="k2" cx="124.0" cy="26.6"/><circle class="k2" cx="133.2" cy="29.6"/><circle class="k2" cx="124.0" cy="33.7"/><circle class="k2" cx="134.7" cy="40.4"/><circle class="k2" cx="115.3" cy="45.0"/><circle class="k2" cx="130.1" cy="49.0"/><circle class="k2" cx="138.3" cy="47.0"/><circle class="k2" cx="149.6" cy="64.4"/><circle class="k2" cx="106.1" cy="64.9"/><circle class="k2" cx="104.1" cy="68.0"/><circle class="k2" cx="172.0" cy="48.9"/><circle class="k2" cx="183.8" cy="56.8"/><circle class="k2" cx="187.3" cy="63.5"/><circle class="k2" cx="49.9" cy="79.2"/><circle class="k2" cx="50.4" cy="87.9"/><circle class="k2" cx="55.5" cy="89.4"/><circle class="k2" cx="53.5" cy="93.0"/><circle class="k2" cx="58.6" cy="95.0"/><circle class="k2" cx="69.9" cy="88.9"/><circle class="k2" cx="69.3" cy="98.1"/><circle class="k2" cx="63.2" cy="99.1"/><circle class="k2" cx="59.6" cy="100.7"/><circle class="k2" cx="57.6" cy="105.3"/><circle class="k2" cx="80.1" cy="73.1"/><circle class="k2" cx="81.1" cy="71.5"/><circle class="k2" cx="94.4" cy="74.1"/><circle class="k2" cx="93.4" cy="71.0"/><circle class="k2" cx="45.8" cy="115.5"/><circle class="k2" cx="53.5" cy="112.9"/><circle class="k2" cx="57.1" cy="116.0"/><circle class="k2" cx="55.0" cy="120.6"/><circle class="k2" cx="50.4" cy="122.6"/><circle class="k2" cx="115.3" cy="75.6"/><circle class="k2" cx="118.9" cy="73.1"/><circle class="k2" cx="147.0" cy="79.7"/><circle class="k2" cx="166.9" cy="72.6"/><circle class="k2" cx="189.7" cy="74.3"/><circle class="k2" cx="183.4" cy="92.9"/><circle class="k2" cx="196.0" cy="105.1"/><circle class="k2" cx="179.1" cy="111.0"/><circle class="k2" cx="178.3" cy="119.7"/><circle class="k2" cx="49.4" cy="154.8"/><circle class="k3" cx="87.0" cy="91.9"/><circle class="k3" cx="61.9" cy="136.7"/><circle class="k3" cx="75.3" cy="137.1"/><circle class="k3" cx="73.2" cy="134.8"/><circle class="k3" cx="87.6" cy="132.7"/><circle class="k3" cx="96.1" cy="128.5"/><circle class="k3" cx="60.5" cy="144.7"/><circle class="k3" cx="63.2" cy="147.4"/><circle class="k3" cx="63.2" cy="146.3"/><circle class="k3" cx="65.4" cy="148.9"/><circle class="k3" cx="62.6" cy="150.9"/><circle class="k3" cx="58.9" cy="160.0"/><circle class="k3" cx="52.4" cy="173.2"/><circle class="k3" cx="88.8" cy="89.9"/><circle class="k3" cx="66.3" cy="115.0"/><circle class="k3" cx="60.7" cy="128.2"/><circle class="k3" cx="60.7" cy="131.8"/><circle class="k3" cx="62.2" cy="134.4"/><circle class="k3" cx="75.0" cy="133.9"/><circle class="k3" cx="79.0" cy="134.4"/><circle class="k3" cx="73.9" cy="137.4"/><circle class="k3" cx="69.3" cy="136.4"/><circle class="k3" cx="83.1" cy="132.3"/><circle class="k3" cx="87.2" cy="130.8"/><circle class="k3" cx="91.3" cy="127.2"/><circle class="k3" cx="94.9" cy="126.2"/><circle class="k3" cx="65.8" cy="141.5"/><circle class="k3" cx="68.8" cy="143.1"/><circle class="k3" cx="71.9" cy="141.0"/><circle class="k3" cx="72.9" cy="140.5"/><circle class="k3" cx="59.6" cy="147.7"/><circle class="k3" cx="64.7" cy="145.6"/><circle class="k3" cx="66.8" cy="147.2"/><circle class="k3" cx="63.2" cy="151.2"/><circle class="k3" cx="60.7" cy="153.3"/><circle class="k3" cx="61.7" cy="156.3"/><circle class="k3" cx="57.6" cy="157.4"/><circle class="k3" cx="59.6" cy="160.4"/><circle class="k3" cx="57.6" cy="163.5"/><circle class="k3" cx="54.5" cy="165.0"/><circle class="k3" cx="56.1" cy="167.1"/><circle class="k3" cx="52.0" cy="169.6"/><circle class="k3" cx="48.4" cy="171.7"/><circle class="k3" cx="50.4" cy="172.7"/><circle class="k4" cx="135.2" cy="110.4"/><circle class="k4" cx="140.0" cy="115.2"/><circle class="k4" cx="149.7" cy="117.3"/><circle class="k4" cx="195.8" cy="158.9"/><circle class="k4" cx="207.5" cy="177.7"/><circle class="k4" cx="90.3" cy="87.4"/><circle class="k4" cx="66.3" cy="125.2"/><circle class="k4" cx="127.1" cy="108.8"/><circle class="k4" cx="132.7" cy="111.4"/><circle class="k4" cx="129.1" cy="113.9"/><circle class="k4" cx="136.8" cy="116.0"/><circle class="k4" cx="141.4" cy="118.0"/><circle class="k4" cx="146.0" cy="118.5"/><circle class="k4" cx="149.6" cy="121.1"/><circle class="k4" cx="198.4" cy="158.0"/><circle class="k4" cx="200.4" cy="163.5"/><circle class="k4" cx="205.5" cy="177.3"/><circle class="k4" cx="207.4" cy="180.8"/></g><g class="sc" fill-opacity="1"><circle class="k0" cx="314.6" cy="45.2"/><circle class="k0" cx="318.9" cy="50.5"/><circle class="k1" cx="327.9" cy="56.0"/><circle class="k0" cx="296.4" cy="55.1"/><circle class="k0" cx="296.2" cy="60.3"/><circle class="k0" cx="303.7" cy="61.9"/><circle class="k0" cx="314.9" cy="56.5"/><circle class="k0" cx="322.2" cy="58.1"/><circle class="k0" cx="300.4" cy="70.2"/><circle class="k0" cx="288.8" cy="63.3"/><circle class="k0" cx="279.3" cy="65.1"/><circle class="k0" cx="283.4" cy="72.9"/><circle class="k0" cx="294.8" cy="71.2"/><circle class="k2" cx="322.4" cy="73.9"/><circle class="k0" cx="321.4" cy="77.2"/><circle class="k0" cx="313.6" cy="86.6"/><circle class="k1" cx="278.3" cy="78.6"/><circle class="k3" cx="281.8" cy="88.5"/><circle class="k1" cx="284.0" cy="96.3"/><circle class="k0" cx="301.0" cy="93.7"/><circle class="k4" cx="326.0" cy="95.2"/><circle class="k0" cx="285.1" cy="96.0"/><circle class="k2" cx="290.6" cy="101.7"/><circle class="k0" cx="298.2" cy="103.9"/><circle class="k0" cx="326.6" cy="106.1"/><circle class="k0" cx="306.5" cy="120.0"/><circle class="k0" cx="395.5" cy="19.7"/><circle class="k2" cx="392.2" cy="21.4"/><circle class="k0" cx="393.1" cy="27.4"/><circle class="k1" cx="354.4" cy="54.5"/><circle class="k1" cx="382.6" cy="49.1"/><circle class="k0" cx="349.8" cy="66.7"/><circle class="k1" cx="345.1" cy="63.5"/><circle class="k0" cx="381.3" cy="68.4"/><circle class="k0" cx="399.1" cy="69.3"/><circle class="k0" cx="402.2" cy="55.0"/><circle class="k1" cx="370.4" cy="68.9"/><circle class="k1" cx="415.2" cy="9.2"/><circle class="k0" cx="400.8" cy="14.2"/><circle class="k1" cx="400.3" cy="31.6"/><circle class="k1" cx="408.7" cy="43.9"/><circle class="k0" cx="405.4" cy="49.6"/><circle class="k2" cx="411.3" cy="65.8"/><circle class="k1" cx="432.4" cy="60.2"/><circle class="k0" cx="332.4" cy="76.4"/><circle class="k1" cx="354.7" cy="69.6"/><circle class="k1" cx="357.2" cy="74.6"/><circle class="k3" cx="355.3" cy="82.4"/><circle class="k2" cx="350.7" cy="82.0"/><circle class="k0" cx="397.6" cy="70.0"/><circle class="k4" cx="339.5" cy="85.8"/><circle class="k0" cx="375.9" cy="85.5"/><circle class="k1" cx="373.9" cy="87.7"/><circle class="k2" cx="350.4" cy="99.4"/><circle class="k0" cx="361.8" cy="91.7"/><circle class="k1" cx="370.5" cy="91.9"/><circle class="k0" cx="373.0" cy="100.0"/><circle class="k1" cx="394.4" cy="86.6"/><circle class="k2" cx="400.9" cy="90.8"/><circle class="k1" cx="356.4" cy="97.9"/><circle class="k3" cx="349.1" cy="104.3"/><circle class="k0" cx="381.1" cy="108.3"/><circle class="k1" cx="385.1" cy="102.0"/><circle class="k1" cx="398.0" cy="100.3"/><circle class="k1" cx="394.9" cy="106.1"/><circle class="k1" cx="392.4" cy="107.8"/><circle class="k2" cx="330.2" cy="108.8"/><circle class="k3" cx="364.0" cy="113.9"/><circle class="k1" cx="369.1" cy="115.2"/><circle class="k1" cx="367.0" cy="125.2"/><circle class="k0" cx="377.8" cy="122.1"/><circle class="k2" cx="368.8" cy="127.4"/><circle class="k1" cx="372.4" cy="126.4"/><circle class="k4" cx="393.0" cy="123.2"/><circle class="k2" cx="400.5" cy="127.3"/><circle class="k0" cx="385.9" cy="136.9"/><circle class="k1" cx="393.5" cy="132.5"/><circle class="k1" cx="372.3" cy="135.5"/><circle class="k0" cx="362.2" cy="135.7"/><circle class="k1" cx="437.4" cy="84.1"/><circle class="k0" cx="418.8" cy="78.6"/><circle class="k0" cx="399.2" cy="87.8"/><circle class="k0" cx="421.4" cy="93.3"/><circle class="k2" cx="402.7" cy="99.5"/><circle class="k0" cx="406.2" cy="102.5"/><circle class="k0" cx="432.3" cy="87.5"/><circle class="k1" cx="435.9" cy="98.8"/><circle class="k3" cx="428.6" cy="103.2"/><circle class="k0" cx="432.8" cy="105.0"/><circle class="k1" cx="442.2" cy="109.5"/><circle class="k1" cx="446.3" cy="114.4"/><circle class="k3" cx="424.1" cy="114.5"/><circle class="k3" cx="429.9" cy="116.4"/><circle class="k3" cx="428.1" cy="126.2"/><circle class="k0" cx="448.6" cy="129.0"/><circle class="k1" cx="414.1" cy="129.3"/><circle class="k0" cx="414.4" cy="131.8"/><circle class="k3" cx="421.4" cy="130.8"/><circle class="k3" cx="403.5" cy="127.4"/><circle class="k0" cx="417.2" cy="137.5"/><circle class="k0" cx="374.2" cy="149.3"/><circle class="k0" cx="378.0" cy="145.2"/><circle class="k0" cx="399.5" cy="146.3"/><circle class="k1" cx="397.7" cy="152.5"/><circle class="k1" cx="395.3" cy="155.5"/><circle class="k0" cx="399.2" cy="157.1"/><circle class="k0" cx="356.4" cy="161.1"/><circle class="k1" cx="391.3" cy="166.1"/><circle class="k0" cx="395.4" cy="164.9"/><circle class="k1" cx="396.3" cy="162.3"/><circle class="k3" cx="400.2" cy="156.4"/><circle class="k1" cx="402.5" cy="169.3"/><circle class="k1" cx="409.9" cy="145.3"/><circle class="k1" cx="406.5" cy="146.7"/><circle class="k1" cx="404.5" cy="154.4"/><circle class="k0" cx="427.3" cy="144.7"/><circle class="k3" cx="446.0" cy="155.0"/><circle class="k3" cx="426.0" cy="155.3"/><circle class="k3" cx="422.1" cy="170.9"/><circle class="k3" cx="444.3" cy="168.9"/><circle class="k1" cx="446.0" cy="173.2"/><circle class="k1" cx="435.3" cy="181.5"/><circle class="k0" cx="290.6" cy="47.5"/><circle class="k1" cx="294.2" cy="47.0"/><circle class="k0" cx="296.2" cy="44.4"/><circle class="k0" cx="297.3" cy="44.9"/><circle class="k0" cx="304.9" cy="44.7"/><circle class="k0" cx="315.1" cy="42.4"/><circle class="k0" cx="318.2" cy="44.4"/><circle class="k0" cx="322.3" cy="44.4"/><circle class="k0" cx="316.2" cy="47.5"/><circle class="k0" cx="321.3" cy="50.0"/><circle class="k0" cx="326.4" cy="50.0"/><circle class="k0" cx="329.4" cy="48.5"/><circle class="k0" cx="327.4" cy="53.6"/><circle class="k3" cx="319.7" cy="54.1"/><circle class="k1" cx="290.6" cy="55.2"/><circle class="k0" cx="295.7" cy="57.2"/><circle class="k0" cx="298.8" cy="59.8"/><circle class="k0" cx="292.7" cy="60.3"/><circle class="k0" cx="302.9" cy="58.2"/><circle class="k0" cx="308.5" cy="61.3"/><circle class="k3" cx="312.1" cy="57.2"/><circle class="k4" cx="316.2" cy="57.7"/><circle class="k0" cx="319.2" cy="59.2"/><circle class="k0" cx="316.7" cy="63.8"/><circle class="k0" cx="296.7" cy="64.4"/><circle class="k0" cx="301.9" cy="68.4"/><circle class="k0" cx="286.5" cy="62.3"/><circle class="k0" cx="283.5" cy="63.8"/><circle class="k2" cx="280.4" cy="67.4"/><circle class="k0" cx="287.5" cy="65.9"/><circle class="k0" cx="325.4" cy="64.4"/><circle class="k4" cx="330.0" cy="65.9"/><circle class="k0" cx="328.9" cy="62.3"/><circle class="k0" cx="317.2" cy="69.0"/><circle class="k0" cx="327.4" cy="69.0"/><circle class="k0" cx="281.4" cy="73.2"/><circle class="k0" cx="278.3" cy="72.7"/><circle class="k4" cx="289.6" cy="73.7"/><circle class="k3" cx="294.2" cy="73.7"/><circle class="k1" cx="308.0" cy="73.7"/><circle class="k0" cx="320.2" cy="73.2"/><circle class="k0" cx="323.3" cy="77.3"/><circle class="k0" cx="321.3" cy="80.9"/><circle class="k2" cx="325.9" cy="82.4"/><circle class="k0" cx="308.0" cy="79.3"/><circle class="k2" cx="309.5" cy="83.9"/><circle class="k0" cx="317.2" cy="85.5"/><circle class="k0" cx="322.3" cy="86.5"/><circle class="k1" cx="313.6" cy="90.1"/><circle class="k4" cx="317.2" cy="91.1"/><circle class="k3" cx="276.3" cy="79.3"/><circle class="k2" cx="281.9" cy="79.3"/><circle class="k2" cx="277.3" cy="82.9"/><circle class="k2" cx="296.7" cy="78.8"/><circle class="k0" cx="298.8" cy="82.9"/><circle class="k1" cx="300.8" cy="84.4"/><circle class="k0" cx="285.5" cy="86.0"/><circle class="k0" cx="292.7" cy="87.5"/><circle class="k0" cx="296.7" cy="90.6"/><circle class="k0" cx="279.9" cy="87.5"/><circle class="k0" cx="276.8" cy="91.1"/><circle class="k1" cx="282.4" cy="91.1"/><circle class="k3" cx="280.4" cy="95.2"/><circle class="k0" cx="289.6" cy="96.7"/><circle class="k3" cx="294.7" cy="93.6"/><circle class="k4" cx="303.9" cy="95.7"/><circle class="k3" cx="310.0" cy="96.2"/><circle class="k0" cx="320.2" cy="98.2"/><circle class="k0" cx="324.3" cy="96.2"/><circle class="k0" cx="330.5" cy="91.6"/><circle class="k0" cx="331.5" cy="96.7"/><circle class="k0" cx="285.5" cy="99.8"/><circle class="k1" cx="282.4" cy="103.3"/><circle class="k3" cx="284.0" cy="105.9"/><circle class="k2" cx="292.7" cy="100.8"/><circle class="k1" cx="292.1" cy="105.9"/><circle class="k1" cx="301.9" cy="102.8"/><circle class="k1" cx="299.8" cy="107.9"/><circle class="k0" cx="304.9" cy="107.9"/><circle class="k1" cx="314.1" cy="101.8"/><circle class="k3" cx="317.2" cy="105.9"/><circle class="k1" cx="313.6" cy="108.5"/><circle class="k1" cx="324.8" cy="104.9"/><circle class="k1" cx="328.4" cy="104.9"/><circle class="k0" cx="330.5" cy="107.9"/><circle class="k1" cx="323.8" cy="110.5"/><circle class="k0" cx="289.1" cy="113.0"/><circle class="k1" cx="296.2" cy="114.1"/><circle class="k4" cx="295.2" cy="115.6"/><circle class="k0" cx="306.5" cy="112.0"/><circle class="k0" cx="307.0" cy="116.6"/><circle class="k3" cx="315.1" cy="114.6"/><circle class="k1" cx="319.2" cy="119.2"/><circle class="k0" cx="310.0" cy="121.2"/><circle class="k0" cx="302.9" cy="125.3"/><circle class="k0" cx="305.9" cy="126.3"/><circle class="k3" cx="329.4" cy="116.1"/><circle class="k1" cx="329.4" cy="123.8"/><circle class="k0" cx="329.4" cy="126.3"/><circle class="k2" cx="400.0" cy="16.3"/><circle class="k4" cx="398.9" cy="19.4"/><circle class="k1" cx="401.0" cy="23.0"/><circle class="k0" cx="389.2" cy="22.5"/><circle class="k1" cx="392.3" cy="24.5"/><circle class="k0" cx="395.4" cy="28.1"/><circle class="k0" cx="393.3" cy="34.2"/><circle class="k4" cx="398.9" cy="36.3"/><circle class="k1" cx="401.0" cy="33.2"/><circle class="k1" cx="383.6" cy="33.7"/><circle class="k3" cx="382.6" cy="36.3"/><circle class="k1" cx="387.7" cy="36.3"/><circle class="k3" cx="372.9" cy="40.3"/><circle class="k2" cx="374.9" cy="38.8"/><circle class="k0" cx="376.5" cy="42.4"/><circle class="k0" cx="372.4" cy="46.5"/><circle class="k0" cx="357.5" cy="44.4"/><circle class="k0" cx="355.0" cy="48.0"/><circle class="k1" cx="362.7" cy="46.5"/><circle class="k0" cx="361.6" cy="50.0"/><circle class="k1" cx="359.6" cy="52.1"/><circle class="k0" cx="351.9" cy="53.1"/><circle class="k3" cx="355.5" cy="55.2"/><circle class="k0" cx="352.4" cy="57.7"/><circle class="k1" cx="355.0" cy="60.3"/><circle class="k1" cx="368.3" cy="53.6"/><circle class="k3" cx="377.5" cy="52.6"/><circle class="k1" cx="378.0" cy="55.7"/><circle class="k3" cx="382.1" cy="52.1"/><circle class="k1" cx="386.2" cy="51.1"/><circle class="k1" cx="387.2" cy="56.7"/><circle class="k1" cx="380.0" cy="58.2"/><circle class="k0" cx="385.1" cy="61.3"/><circle class="k1" cx="382.1" cy="63.3"/><circle class="k0" cx="357.5" cy="64.9"/><circle class="k0" cx="348.3" cy="64.4"/><circle class="k2" cx="349.9" cy="67.4"/><circle class="k0" cx="346.3" cy="66.4"/><circle class="k1" cx="383.6" cy="67.9"/><circle class="k2" cx="397.4" cy="67.4"/><circle class="k1" cx="401.5" cy="53.1"/><circle class="k0" cx="332.5" cy="48.5"/><circle class="k0" cx="332.5" cy="63.3"/><circle class="k0" cx="332.5" cy="66.4"/><circle class="k2" cx="360.6" cy="70.5"/><circle class="k0" cx="368.8" cy="70.0"/><circle class="k1" cx="372.9" cy="69.0"/><circle class="k0" cx="417.0" cy="8.1"/><circle class="k0" cx="415.4" cy="10.5"/><circle class="k2" cx="415.0" cy="12.8"/><circle class="k1" cx="402.4" cy="15.6"/><circle class="k1" cx="403.6" cy="19.1"/><circle class="k2" cx="408.3" cy="18.3"/><circle class="k3" cx="413.8" cy="19.5"/><circle class="k1" cx="405.5" cy="21.5"/><circle class="k1" cx="402.8" cy="23.9"/><circle class="k1" cx="409.9" cy="23.1"/><circle class="k1" cx="409.5" cy="27.0"/><circle class="k1" cx="404.4" cy="27.8"/><circle class="k1" cx="406.7" cy="31.7"/><circle class="k1" cx="402.8" cy="33.3"/><circle class="k1" cx="414.2" cy="32.9"/><circle class="k3" cx="418.2" cy="35.3"/><circle class="k1" cx="420.9" cy="38.1"/><circle class="k3" cx="411.9" cy="39.6"/><circle class="k3" cx="414.6" cy="40.8"/><circle class="k0" cx="406.3" cy="42.0"/><circle class="k1" cx="408.7" cy="47.1"/><circle class="k3" cx="407.9" cy="52.2"/><circle class="k2" cx="404.4" cy="53.4"/><circle class="k0" cx="405.2" cy="58.9"/><circle class="k0" cx="412.2" cy="62.1"/><circle class="k1" cx="409.9" cy="64.5"/><circle class="k0" cx="415.0" cy="64.9"/><circle class="k0" cx="412.2" cy="68.8"/><circle class="k0" cx="406.3" cy="68.8"/><circle class="k1" cx="429.6" cy="60.5"/><circle class="k2" cx="435.5" cy="60.1"/><circle class="k3" cx="431.2" cy="63.7"/><circle class="k0" cx="436.3" cy="64.9"/><circle class="k2" cx="432.7" cy="68.0"/><circle class="k1" cx="334.6" cy="76.1"/><circle class="k0" cx="343.8" cy="75.1"/><circle class="k3" cx="349.4" cy="74.6"/><circle class="k4" cx="354.0" cy="73.0"/><circle class="k0" cx="359.6" cy="75.1"/><circle class="k3" cx="365.7" cy="74.1"/><circle class="k1" cx="370.8" cy="72.5"/><circle class="k1" cx="355.5" cy="80.2"/><circle class="k4" cx="361.1" cy="80.7"/><circle class="k2" cx="352.9" cy="83.8"/><circle class="k0" cx="367.3" cy="82.2"/><circle class="k1" cx="388.7" cy="76.1"/><circle class="k1" cx="393.3" cy="77.6"/><circle class="k0" cx="397.4" cy="72.5"/><circle class="k0" cx="395.4" cy="83.8"/><circle class="k0" cx="337.1" cy="84.8"/><circle class="k2" cx="342.2" cy="86.3"/><circle class="k0" cx="340.2" cy="90.4"/><circle class="k1" cx="339.2" cy="91.9"/><circle class="k1" cx="361.1" cy="88.4"/><circle class="k0" cx="375.9" cy="82.8"/><circle class="k0" cx="379.0" cy="87.3"/><circle class="k1" cx="384.6" cy="85.3"/><circle class="k1" cx="387.7" cy="87.3"/><circle class="k0" cx="373.4" cy="90.4"/><circle class="k4" cx="382.6" cy="92.5"/><circle class="k2" cx="350.4" cy="91.4"/><circle class="k4" cx="333.0" cy="91.4"/><circle class="k0" cx="333.0" cy="96.5"/><circle class="k0" cx="336.1" cy="98.6"/><circle class="k0" cx="342.7" cy="97.6"/><circle class="k2" cx="345.3" cy="99.6"/><circle class="k0" cx="349.4" cy="100.6"/><circle class="k0" cx="351.4" cy="96.0"/><circle class="k1" cx="360.1" cy="94.5"/><circle class="k3" cx="363.7" cy="97.6"/><circle class="k2" cx="369.8" cy="95.5"/><circle class="k0" cx="375.9" cy="99.6"/><circle class="k0" cx="379.5" cy="96.0"/><circle class="k3" cx="384.6" cy="97.1"/><circle class="k1" cx="397.4" cy="88.4"/><circle class="k2" cx="400.5" cy="87.3"/><circle class="k0" cx="400.5" cy="92.5"/><circle class="k0" cx="400.0" cy="96.5"/><circle class="k1" cx="357.0" cy="101.7"/><circle class="k1" cx="361.6" cy="104.7"/><circle class="k0" cx="353.5" cy="106.3"/><circle class="k3" cx="347.8" cy="106.3"/><circle class="k1" cx="343.8" cy="109.3"/><circle class="k2" cx="369.3" cy="105.7"/><circle class="k0" cx="373.9" cy="104.7"/><circle class="k2" cx="382.1" cy="104.7"/><circle class="k0" cx="387.2" cy="103.7"/><circle class="k3" cx="399.4" cy="101.7"/><circle class="k1" cx="396.4" cy="104.7"/><circle class="k0" cx="395.4" cy="109.3"/><circle class="k1" cx="400.5" cy="111.4"/><circle class="k3" cx="332.5" cy="107.8"/><circle class="k0" cx="339.7" cy="113.4"/><circle class="k0" cx="348.9" cy="112.9"/><circle class="k1" cx="356.5" cy="110.9"/><circle class="k0" cx="366.2" cy="110.9"/><circle class="k0" cx="364.7" cy="116.0"/><circle class="k0" cx="379.0" cy="111.9"/><circle class="k0" cx="341.2" cy="118.5"/><circle class="k0" cx="347.3" cy="118.0"/><circle class="k0" cx="345.8" cy="121.6"/><circle class="k0" cx="333.5" cy="123.1"/><circle class="k2" cx="371.3" cy="116.0"/><circle class="k0" cx="372.4" cy="119.0"/><circle class="k1" cx="374.9" cy="122.1"/><circle class="k0" cx="366.7" cy="122.6"/><circle class="k0" cx="382.6" cy="120.6"/><circle class="k0" cx="378.5" cy="125.2"/><circle class="k0" cx="369.8" cy="129.2"/><circle class="k0" cx="374.4" cy="127.7"/><circle class="k2" cx="391.8" cy="114.4"/><circle class="k1" cx="396.9" cy="114.4"/><circle class="k0" cx="392.8" cy="119.5"/><circle class="k1" cx="399.4" cy="118.0"/><circle class="k3" cx="393.3" cy="125.2"/><circle class="k0" cx="397.4" cy="128.2"/><circle class="k2" cx="383.1" cy="134.4"/><circle class="k1" cx="385.6" cy="132.3"/><circle class="k1" cx="390.2" cy="132.8"/><circle class="k2" cx="395.4" cy="134.4"/><circle class="k1" cx="373.9" cy="132.8"/><circle class="k1" cx="374.4" cy="137.4"/><circle class="k1" cx="354.0" cy="136.4"/><circle class="k4" cx="360.6" cy="138.4"/><circle class="k0" cx="388.2" cy="138.4"/><circle class="k2" cx="400.5" cy="135.4"/><circle class="k2" cx="406.7" cy="72.6"/><circle class="k1" cx="405.9" cy="75.3"/><circle class="k1" cx="434.3" cy="71.8"/><circle class="k0" cx="437.9" cy="73.4"/><circle class="k0" cx="438.3" cy="76.5"/><circle class="k0" cx="437.5" cy="80.5"/><circle class="k0" cx="435.1" cy="83.6"/><circle class="k2" cx="416.6" cy="80.5"/><circle class="k0" cx="416.6" cy="86.0"/><circle class="k0" cx="402.8" cy="87.2"/><circle class="k0" cx="408.7" cy="86.4"/><circle class="k2" cx="407.9" cy="91.1"/><circle class="k3" cx="421.7" cy="87.6"/><circle class="k1" cx="420.1" cy="91.5"/><circle class="k0" cx="415.0" cy="91.9"/><circle class="k0" cx="411.9" cy="95.8"/><circle class="k0" cx="417.0" cy="99.4"/><circle class="k1" cx="402.8" cy="97.0"/><circle class="k0" cx="406.7" cy="100.2"/><circle class="k1" cx="426.0" cy="90.3"/><circle class="k0" cx="430.0" cy="88.7"/><circle class="k4" cx="435.5" cy="91.5"/><circle class="k4" cx="428.4" cy="95.0"/><circle class="k1" cx="432.7" cy="99.0"/><circle class="k0" cx="440.2" cy="95.8"/><circle class="k4" cx="443.8" cy="95.4"/><circle class="k1" cx="437.1" cy="101.0"/><circle class="k1" cx="441.8" cy="100.2"/><circle class="k0" cx="422.5" cy="104.1"/><circle class="k1" cx="428.0" cy="101.4"/><circle class="k1" cx="430.4" cy="103.7"/><circle class="k1" cx="430.0" cy="108.1"/><circle class="k0" cx="430.4" cy="110.0"/><circle class="k1" cx="438.7" cy="108.8"/><circle class="k0" cx="444.2" cy="106.9"/><circle class="k0" cx="442.6" cy="112.8"/><circle class="k0" cx="446.1" cy="111.2"/><circle class="k1" cx="404.4" cy="108.1"/><circle class="k0" cx="403.6" cy="112.4"/><circle class="k0" cx="406.7" cy="114.4"/><circle class="k0" cx="416.6" cy="113.6"/><circle class="k0" cx="420.9" cy="113.2"/><circle class="k1" cx="425.3" cy="119.1"/><circle class="k1" cx="433.5" cy="117.5"/><circle class="k3" cx="441.0" cy="118.3"/><circle class="k1" cx="417.8" cy="121.8"/><circle class="k2" cx="424.9" cy="124.6"/><circle class="k3" cx="437.9" cy="125.4"/><circle class="k1" cx="443.0" cy="123.0"/><circle class="k1" cx="448.5" cy="127.0"/><circle class="k4" cx="445.8" cy="129.3"/><circle class="k0" cx="414.2" cy="126.6"/><circle class="k2" cx="419.7" cy="127.8"/><circle class="k1" cx="410.7" cy="130.9"/><circle class="k0" cx="424.1" cy="130.9"/><circle class="k3" cx="426.4" cy="132.5"/><circle class="k3" cx="404.4" cy="125.4"/><circle class="k1" cx="402.4" cy="122.2"/><circle class="k3" cx="445.8" cy="134.1"/><circle class="k2" cx="403.6" cy="136.4"/><circle class="k0" cx="407.5" cy="137.2"/><circle class="k1" cx="414.2" cy="137.2"/><circle class="k1" cx="428.8" cy="139.2"/><circle class="k3" cx="438.7" cy="138.8"/><circle class="k3" cx="443.0" cy="139.6"/><circle class="k2" cx="355.0" cy="141.5"/><circle class="k1" cx="362.7" cy="142.0"/><circle class="k3" cx="369.8" cy="142.5"/><circle class="k1" cx="380.0" cy="143.0"/><circle class="k1" cx="383.6" cy="145.1"/><circle class="k0" cx="365.7" cy="147.1"/><circle class="k0" cx="372.4" cy="147.6"/><circle class="k0" cx="377.5" cy="148.7"/><circle class="k1" cx="363.7" cy="151.2"/><circle class="k0" cx="397.4" cy="145.1"/><circle class="k2" cx="400.5" cy="151.2"/><circle class="k1" cx="392.3" cy="154.3"/><circle class="k1" cx="398.4" cy="154.8"/><circle class="k1" cx="355.0" cy="159.4"/><circle class="k1" cx="358.6" cy="159.9"/><circle class="k1" cx="365.7" cy="157.9"/><circle class="k0" cx="370.8" cy="159.4"/><circle class="k2" cx="362.7" cy="163.5"/><circle class="k1" cx="367.3" cy="164.5"/><circle class="k1" cx="363.7" cy="166.5"/><circle class="k1" cx="370.3" cy="162.5"/><circle class="k1" cx="372.9" cy="168.1"/><circle class="k0" cx="363.7" cy="171.7"/><circle class="k1" cx="366.7" cy="174.2"/><circle class="k1" cx="370.8" cy="173.7"/><circle class="k0" cx="384.6" cy="161.9"/><circle class="k1" cx="382.6" cy="168.6"/><circle class="k2" cx="390.2" cy="168.6"/><circle class="k0" cx="393.3" cy="164.0"/><circle class="k2" cx="397.4" cy="164.5"/><circle class="k4" cx="400.0" cy="159.4"/><circle class="k1" cx="400.5" cy="168.6"/><circle class="k1" cx="387.7" cy="172.7"/><circle class="k1" cx="394.3" cy="172.7"/><circle class="k1" cx="392.3" cy="175.2"/><circle class="k2" cx="404.0" cy="144.2"/><circle class="k1" cx="412.2" cy="144.2"/><circle class="k3" cx="420.5" cy="145.7"/><circle class="k0" cx="409.5" cy="148.5"/><circle class="k0" cx="402.8" cy="151.2"/><circle class="k0" cx="406.7" cy="154.8"/><circle class="k2" cx="409.9" cy="155.2"/><circle class="k0" cx="409.9" cy="158.7"/><circle class="k1" cx="405.2" cy="162.3"/><circle class="k0" cx="402.4" cy="169.4"/><circle class="k0" cx="428.8" cy="141.4"/><circle class="k0" cx="435.1" cy="144.2"/><circle class="k3" cx="437.5" cy="146.1"/><circle class="k3" cx="443.0" cy="145.7"/><circle class="k3" cx="446.5" cy="146.9"/><circle class="k1" cx="449.3" cy="147.3"/><circle class="k2" cx="439.8" cy="152.0"/><circle class="k1" cx="438.7" cy="155.6"/><circle class="k1" cx="445.4" cy="154.4"/><circle class="k0" cx="445.0" cy="157.6"/><circle class="k3" cx="424.1" cy="155.6"/><circle class="k0" cx="428.4" cy="160.7"/><circle class="k4" cx="432.0" cy="160.7"/><circle class="k3" cx="422.9" cy="164.3"/><circle class="k0" cx="428.0" cy="167.4"/><circle class="k1" cx="422.5" cy="168.6"/><circle class="k3" cx="437.1" cy="166.2"/><circle class="k4" cx="439.4" cy="163.5"/><circle class="k1" cx="444.2" cy="161.5"/><circle class="k1" cx="445.8" cy="167.0"/><circle class="k0" cx="448.5" cy="170.2"/><circle class="k4" cx="444.6" cy="171.0"/><circle class="k0" cx="432.0" cy="174.5"/><circle class="k2" cx="435.9" cy="176.1"/><circle class="k0" cx="441.8" cy="174.9"/><circle class="k2" cx="444.6" cy="175.7"/><circle class="k4" cx="434.3" cy="179.6"/><circle class="k0" cx="438.3" cy="180.4"/><circle class="k3" cx="438.3" cy="182.8"/></g><g class="sc" fill-opacity="1"><circle class="k5" cx="545.8" cy="45.2"/><circle class="k5" cx="550.1" cy="50.5"/><circle class="k5" cx="559.1" cy="56.0"/><circle class="k5" cx="527.6" cy="55.1"/><circle class="k5" cx="527.4" cy="60.3"/><circle class="k5" cx="534.9" cy="61.9"/><circle class="k5" cx="546.1" cy="56.5"/><circle class="k5" cx="553.4" cy="58.1"/><circle class="k5" cx="531.6" cy="70.2"/><circle class="k5" cx="520.0" cy="63.3"/><circle class="k5" cx="510.5" cy="65.1"/><circle class="k5" cx="514.6" cy="72.9"/><circle class="k5" cx="526.0" cy="71.2"/><circle class="k5" cx="553.6" cy="73.9"/><circle class="k5" cx="552.6" cy="77.2"/><circle class="k5" cx="544.8" cy="86.6"/><circle class="k5" cx="509.5" cy="78.6"/><circle class="k5" cx="513.0" cy="88.5"/><circle class="k5" cx="515.2" cy="96.3"/><circle class="k5" cx="532.2" cy="93.7"/><circle class="k5" cx="557.2" cy="95.2"/><circle class="k5" cx="516.3" cy="96.0"/><circle class="k5" cx="521.8" cy="101.7"/><circle class="k5" cx="529.4" cy="103.9"/><circle class="k5" cx="557.8" cy="106.1"/><circle class="k5" cx="537.7" cy="120.0"/><circle class="k6" cx="626.7" cy="19.7"/><circle class="k5" cx="623.4" cy="21.4"/><circle class="k6" cx="624.3" cy="27.4"/><circle class="k5" cx="585.6" cy="54.5"/><circle class="k6" cx="613.8" cy="49.1"/><circle class="k6" cx="581.0" cy="66.7"/><circle class="k5" cx="576.3" cy="63.5"/><circle class="k6" cx="612.5" cy="68.4"/><circle class="k5" cx="630.3" cy="69.3"/><circle class="k6" cx="633.4" cy="55.0"/><circle class="k6" cx="601.6" cy="68.9"/><circle class="k6" cx="646.4" cy="9.2"/><circle class="k5" cx="632.0" cy="14.2"/><circle class="k6" cx="631.5" cy="31.6"/><circle class="k6" cx="639.9" cy="43.9"/><circle class="k6" cx="636.6" cy="49.6"/><circle class="k6" cx="642.5" cy="65.8"/><circle class="k6" cx="663.6" cy="60.2"/><circle class="k5" cx="563.6" cy="76.4"/><circle class="k6" cx="585.9" cy="69.6"/><circle class="k6" cx="588.4" cy="74.6"/><circle class="k6" cx="586.5" cy="82.4"/><circle class="k6" cx="581.9" cy="82.0"/><circle class="k5" cx="628.8" cy="70.0"/><circle class="k5" cx="570.7" cy="85.8"/><circle class="k6" cx="607.1" cy="85.5"/><circle class="k5" cx="605.1" cy="87.7"/><circle class="k5" cx="581.6" cy="99.4"/><circle class="k5" cx="593.0" cy="91.7"/><circle class="k5" cx="601.7" cy="91.9"/><circle class="k6" cx="604.2" cy="100.0"/><circle class="k6" cx="625.6" cy="86.6"/><circle class="k6" cx="632.1" cy="90.8"/><circle class="k5" cx="587.6" cy="97.9"/><circle class="k5" cx="580.3" cy="104.3"/><circle class="k6" cx="612.3" cy="108.3"/><circle class="k6" cx="616.3" cy="102.0"/><circle class="k6" cx="629.2" cy="100.3"/><circle class="k6" cx="626.1" cy="106.1"/><circle class="k6" cx="623.6" cy="107.8"/><circle class="k5" cx="561.4" cy="108.8"/><circle class="k5" cx="595.2" cy="113.9"/><circle class="k6" cx="600.3" cy="115.2"/><circle class="k5" cx="598.2" cy="125.2"/><circle class="k6" cx="609.0" cy="122.1"/><circle class="k6" cx="600.0" cy="127.4"/><circle class="k5" cx="603.6" cy="126.4"/><circle class="k6" cx="624.2" cy="123.2"/><circle class="k6" cx="631.7" cy="127.3"/><circle class="k6" cx="617.1" cy="136.9"/><circle class="k6" cx="624.7" cy="132.5"/><circle class="k6" cx="603.5" cy="135.5"/><circle class="k5" cx="593.4" cy="135.7"/><circle class="k6" cx="668.6" cy="84.1"/><circle class="k6" cx="650.0" cy="78.6"/><circle class="k6" cx="630.4" cy="87.8"/><circle class="k6" cx="652.6" cy="93.3"/><circle class="k6" cx="633.9" cy="99.5"/><circle class="k6" cx="637.4" cy="102.5"/><circle class="k6" cx="663.5" cy="87.5"/><circle class="k6" cx="667.1" cy="98.8"/><circle class="k6" cx="659.8" cy="103.2"/><circle class="k6" cx="664.0" cy="105.0"/><circle class="k6" cx="673.4" cy="109.5"/><circle class="k6" cx="677.5" cy="114.4"/><circle class="k6" cx="655.3" cy="114.5"/><circle class="k6" cx="661.1" cy="116.4"/><circle class="k6" cx="659.3" cy="126.2"/><circle class="k6" cx="679.8" cy="129.0"/><circle class="k6" cx="645.3" cy="129.3"/><circle class="k6" cx="645.6" cy="131.8"/><circle class="k6" cx="652.6" cy="130.8"/><circle class="k6" cx="634.7" cy="127.4"/><circle class="k6" cx="648.4" cy="137.5"/><circle class="k6" cx="605.4" cy="149.3"/><circle class="k6" cx="609.2" cy="145.2"/><circle class="k6" cx="630.7" cy="146.3"/><circle class="k6" cx="628.9" cy="152.5"/><circle class="k6" cx="626.5" cy="155.5"/><circle class="k6" cx="630.4" cy="157.1"/><circle class="k6" cx="587.6" cy="161.1"/><circle class="k6" cx="622.5" cy="166.1"/><circle class="k6" cx="626.6" cy="164.9"/><circle class="k6" cx="627.5" cy="162.3"/><circle class="k6" cx="631.4" cy="156.4"/><circle class="k6" cx="633.7" cy="169.3"/><circle class="k6" cx="641.1" cy="145.3"/><circle class="k6" cx="637.7" cy="146.7"/><circle class="k6" cx="635.7" cy="154.4"/><circle class="k6" cx="658.5" cy="144.7"/><circle class="k6" cx="677.2" cy="155.0"/><circle class="k6" cx="657.2" cy="155.3"/><circle class="k6" cx="653.3" cy="170.9"/><circle class="k6" cx="675.5" cy="168.9"/><circle class="k6" cx="677.2" cy="173.2"/><circle class="k6" cx="666.5" cy="181.5"/><circle class="k5" cx="521.8" cy="47.5"/><circle class="k5" cx="525.4" cy="47.0"/><circle class="k5" cx="527.4" cy="44.4"/><circle class="k5" cx="528.5" cy="44.9"/><circle class="k5" cx="536.1" cy="44.7"/><circle class="k5" cx="546.3" cy="42.4"/><circle class="k5" cx="549.4" cy="44.4"/><circle class="k5" cx="553.5" cy="44.4"/><circle class="k5" cx="547.4" cy="47.5"/><circle class="k5" cx="552.5" cy="50.0"/><circle class="k5" cx="557.6" cy="50.0"/><circle class="k5" cx="560.6" cy="48.5"/><circle class="k5" cx="558.6" cy="53.6"/><circle class="k5" cx="550.9" cy="54.1"/><circle class="k5" cx="521.8" cy="55.2"/><circle class="k5" cx="526.9" cy="57.2"/><circle class="k5" cx="530.0" cy="59.8"/><circle class="k5" cx="523.9" cy="60.3"/><circle class="k5" cx="534.1" cy="58.2"/><circle class="k5" cx="539.7" cy="61.3"/><circle class="k5" cx="543.3" cy="57.2"/><circle class="k5" cx="547.4" cy="57.7"/><circle class="k5" cx="550.4" cy="59.2"/><circle class="k5" cx="547.9" cy="63.8"/><circle class="k5" cx="527.9" cy="64.4"/><circle class="k5" cx="533.1" cy="68.4"/><circle class="k5" cx="517.7" cy="62.3"/><circle class="k5" cx="514.7" cy="63.8"/><circle class="k5" cx="511.6" cy="67.4"/><circle class="k5" cx="518.7" cy="65.9"/><circle class="k5" cx="556.6" cy="64.4"/><circle class="k5" cx="561.2" cy="65.9"/><circle class="k5" cx="560.1" cy="62.3"/><circle class="k5" cx="548.4" cy="69.0"/><circle class="k5" cx="558.6" cy="69.0"/><circle class="k5" cx="512.6" cy="73.2"/><circle class="k5" cx="509.5" cy="72.7"/><circle class="k5" cx="520.8" cy="73.7"/><circle class="k5" cx="525.4" cy="73.7"/><circle class="k5" cx="539.2" cy="73.7"/><circle class="k5" cx="551.4" cy="73.2"/><circle class="k5" cx="554.5" cy="77.3"/><circle class="k5" cx="552.5" cy="80.9"/><circle class="k5" cx="557.1" cy="82.4"/><circle class="k5" cx="539.2" cy="79.3"/><circle class="k5" cx="540.7" cy="83.9"/><circle class="k5" cx="548.4" cy="85.5"/><circle class="k5" cx="553.5" cy="86.5"/><circle class="k5" cx="544.8" cy="90.1"/><circle class="k5" cx="548.4" cy="91.1"/><circle class="k5" cx="507.5" cy="79.3"/><circle class="k5" cx="513.1" cy="79.3"/><circle class="k5" cx="508.5" cy="82.9"/><circle class="k5" cx="527.9" cy="78.8"/><circle class="k5" cx="530.0" cy="82.9"/><circle class="k5" cx="532.0" cy="84.4"/><circle class="k5" cx="516.7" cy="86.0"/><circle class="k5" cx="523.9" cy="87.5"/><circle class="k5" cx="527.9" cy="90.6"/><circle class="k5" cx="511.1" cy="87.5"/><circle class="k5" cx="508.0" cy="91.1"/><circle class="k5" cx="513.6" cy="91.1"/><circle class="k5" cx="511.6" cy="95.2"/><circle class="k5" cx="520.8" cy="96.7"/><circle class="k5" cx="525.9" cy="93.6"/><circle class="k5" cx="535.1" cy="95.7"/><circle class="k5" cx="541.2" cy="96.2"/><circle class="k5" cx="551.4" cy="98.2"/><circle class="k5" cx="555.5" cy="96.2"/><circle class="k5" cx="561.7" cy="91.6"/><circle class="k5" cx="562.7" cy="96.7"/><circle class="k5" cx="516.7" cy="99.8"/><circle class="k5" cx="513.6" cy="103.3"/><circle class="k5" cx="515.2" cy="105.9"/><circle class="k5" cx="523.9" cy="100.8"/><circle class="k5" cx="523.3" cy="105.9"/><circle class="k5" cx="533.1" cy="102.8"/><circle class="k5" cx="531.0" cy="107.9"/><circle class="k5" cx="536.1" cy="107.9"/><circle class="k5" cx="545.3" cy="101.8"/><circle class="k5" cx="548.4" cy="105.9"/><circle class="k5" cx="544.8" cy="108.5"/><circle class="k5" cx="556.0" cy="104.9"/><circle class="k5" cx="559.6" cy="104.9"/><circle class="k5" cx="561.7" cy="107.9"/><circle class="k5" cx="555.0" cy="110.5"/><circle class="k5" cx="520.3" cy="113.0"/><circle class="k5" cx="527.4" cy="114.1"/><circle class="k5" cx="526.4" cy="115.6"/><circle class="k5" cx="537.7" cy="112.0"/><circle class="k5" cx="538.2" cy="116.6"/><circle class="k5" cx="546.3" cy="114.6"/><circle class="k5" cx="550.4" cy="119.2"/><circle class="k5" cx="541.2" cy="121.2"/><circle class="k5" cx="534.1" cy="125.3"/><circle class="k5" cx="537.1" cy="126.3"/><circle class="k5" cx="560.6" cy="116.1"/><circle class="k5" cx="560.6" cy="123.8"/><circle class="k5" cx="560.6" cy="126.3"/><circle class="k5" cx="631.2" cy="16.3"/><circle class="k5" cx="630.1" cy="19.4"/><circle class="k6" cx="632.2" cy="23.0"/><circle class="k5" cx="620.4" cy="22.5"/><circle class="k5" cx="623.5" cy="24.5"/><circle class="k6" cx="626.6" cy="28.1"/><circle class="k6" cx="624.5" cy="34.2"/><circle class="k6" cx="630.1" cy="36.3"/><circle class="k6" cx="632.2" cy="33.2"/><circle class="k6" cx="614.8" cy="33.7"/><circle class="k6" cx="613.8" cy="36.3"/><circle class="k6" cx="618.9" cy="36.3"/><circle class="k5" cx="604.1" cy="40.3"/><circle class="k6" cx="606.1" cy="38.8"/><circle class="k6" cx="607.7" cy="42.4"/><circle class="k5" cx="603.6" cy="46.5"/><circle class="k5" cx="588.7" cy="44.4"/><circle class="k5" cx="586.2" cy="48.0"/><circle class="k5" cx="593.9" cy="46.5"/><circle class="k5" cx="592.8" cy="50.0"/><circle class="k5" cx="590.8" cy="52.1"/><circle class="k5" cx="583.1" cy="53.1"/><circle class="k5" cx="586.7" cy="55.2"/><circle class="k5" cx="583.6" cy="57.7"/><circle class="k5" cx="586.2" cy="60.3"/><circle class="k5" cx="599.5" cy="53.6"/><circle class="k6" cx="608.7" cy="52.6"/><circle class="k6" cx="609.2" cy="55.7"/><circle class="k6" cx="613.3" cy="52.1"/><circle class="k6" cx="617.4" cy="51.1"/><circle class="k6" cx="618.4" cy="56.7"/><circle class="k6" cx="611.2" cy="58.2"/><circle class="k6" cx="616.3" cy="61.3"/><circle class="k6" cx="613.3" cy="63.3"/><circle class="k5" cx="588.7" cy="64.9"/><circle class="k5" cx="579.5" cy="64.4"/><circle class="k6" cx="581.1" cy="67.4"/><circle class="k5" cx="577.5" cy="66.4"/><circle class="k6" cx="614.8" cy="67.9"/><circle class="k5" cx="628.6" cy="67.4"/><circle class="k6" cx="632.7" cy="53.1"/><circle class="k5" cx="563.7" cy="48.5"/><circle class="k5" cx="563.7" cy="63.3"/><circle class="k5" cx="563.7" cy="66.4"/><circle class="k6" cx="591.8" cy="70.5"/><circle class="k6" cx="600.0" cy="70.0"/><circle class="k6" cx="604.1" cy="69.0"/><circle class="k6" cx="648.2" cy="8.1"/><circle class="k6" cx="646.6" cy="10.5"/><circle class="k6" cx="646.2" cy="12.8"/><circle class="k6" cx="633.6" cy="15.6"/><circle class="k6" cx="634.8" cy="19.1"/><circle class="k5" cx="639.5" cy="18.3"/><circle class="k6" cx="645.0" cy="19.5"/><circle class="k6" cx="636.7" cy="21.5"/><circle class="k6" cx="634.0" cy="23.9"/><circle class="k6" cx="641.1" cy="23.1"/><circle class="k6" cx="640.7" cy="27.0"/><circle class="k6" cx="635.6" cy="27.8"/><circle class="k6" cx="637.9" cy="31.7"/><circle class="k6" cx="634.0" cy="33.3"/><circle class="k6" cx="645.4" cy="32.9"/><circle class="k6" cx="649.4" cy="35.3"/><circle class="k6" cx="652.1" cy="38.1"/><circle class="k6" cx="643.1" cy="39.6"/><circle class="k6" cx="645.8" cy="40.8"/><circle class="k6" cx="637.5" cy="42.0"/><circle class="k6" cx="639.9" cy="47.1"/><circle class="k6" cx="639.1" cy="52.2"/><circle class="k6" cx="635.6" cy="53.4"/><circle class="k6" cx="636.4" cy="58.9"/><circle class="k6" cx="643.4" cy="62.1"/><circle class="k6" cx="641.1" cy="64.5"/><circle class="k6" cx="646.2" cy="64.9"/><circle class="k6" cx="643.4" cy="68.8"/><circle class="k6" cx="637.5" cy="68.8"/><circle class="k6" cx="660.8" cy="60.5"/><circle class="k6" cx="666.7" cy="60.1"/><circle class="k6" cx="662.4" cy="63.7"/><circle class="k6" cx="667.5" cy="64.9"/><circle class="k6" cx="663.9" cy="68.0"/><circle class="k5" cx="565.8" cy="76.1"/><circle class="k5" cx="575.0" cy="75.1"/><circle class="k6" cx="580.6" cy="74.6"/><circle class="k6" cx="585.2" cy="73.0"/><circle class="k6" cx="590.8" cy="75.1"/><circle class="k6" cx="596.9" cy="74.1"/><circle class="k6" cx="602.0" cy="72.5"/><circle class="k6" cx="586.7" cy="80.2"/><circle class="k6" cx="592.3" cy="80.7"/><circle class="k6" cx="584.1" cy="83.8"/><circle class="k6" cx="598.5" cy="82.2"/><circle class="k6" cx="619.9" cy="76.1"/><circle class="k6" cx="624.5" cy="77.6"/><circle class="k5" cx="628.6" cy="72.5"/><circle class="k6" cx="626.6" cy="83.8"/><circle class="k5" cx="568.3" cy="84.8"/><circle class="k5" cx="573.4" cy="86.3"/><circle class="k5" cx="571.4" cy="90.4"/><circle class="k5" cx="570.4" cy="91.9"/><circle class="k5" cx="592.3" cy="88.4"/><circle class="k6" cx="607.1" cy="82.8"/><circle class="k6" cx="610.2" cy="87.3"/><circle class="k6" cx="615.8" cy="85.3"/><circle class="k6" cx="618.9" cy="87.3"/><circle class="k5" cx="604.6" cy="90.4"/><circle class="k6" cx="613.8" cy="92.5"/><circle class="k5" cx="581.6" cy="91.4"/><circle class="k5" cx="564.2" cy="91.4"/><circle class="k5" cx="564.2" cy="96.5"/><circle class="k5" cx="567.3" cy="98.6"/><circle class="k5" cx="573.9" cy="97.6"/><circle class="k5" cx="576.5" cy="99.6"/><circle class="k5" cx="580.6" cy="100.6"/><circle class="k5" cx="582.6" cy="96.0"/><circle class="k5" cx="591.3" cy="94.5"/><circle class="k5" cx="594.9" cy="97.6"/><circle class="k5" cx="601.0" cy="95.5"/><circle class="k6" cx="607.1" cy="99.6"/><circle class="k6" cx="610.7" cy="96.0"/><circle class="k6" cx="615.8" cy="97.1"/><circle class="k6" cx="628.6" cy="88.4"/><circle class="k6" cx="631.7" cy="87.3"/><circle class="k6" cx="631.7" cy="92.5"/><circle class="k6" cx="631.2" cy="96.5"/><circle class="k5" cx="588.2" cy="101.7"/><circle class="k5" cx="592.8" cy="104.7"/><circle class="k5" cx="584.7" cy="106.3"/><circle class="k5" cx="579.0" cy="106.3"/><circle class="k6" cx="575.0" cy="109.3"/><circle class="k6" cx="600.5" cy="105.7"/><circle class="k6" cx="605.1" cy="104.7"/><circle class="k6" cx="613.3" cy="104.7"/><circle class="k6" cx="618.4" cy="103.7"/><circle class="k6" cx="630.6" cy="101.7"/><circle class="k6" cx="627.6" cy="104.7"/><circle class="k6" cx="626.6" cy="109.3"/><circle class="k5" cx="631.7" cy="111.4"/><circle class="k5" cx="563.7" cy="107.8"/><circle class="k6" cx="570.9" cy="113.4"/><circle class="k6" cx="580.1" cy="112.9"/><circle class="k5" cx="587.7" cy="110.9"/><circle class="k5" cx="597.4" cy="110.9"/><circle class="k5" cx="595.9" cy="116.0"/><circle class="k6" cx="610.2" cy="111.9"/><circle class="k6" cx="572.4" cy="118.5"/><circle class="k6" cx="578.5" cy="118.0"/><circle class="k6" cx="577.0" cy="121.6"/><circle class="k5" cx="564.7" cy="123.1"/><circle class="k6" cx="602.5" cy="116.0"/><circle class="k5" cx="603.6" cy="119.0"/><circle class="k6" cx="606.1" cy="122.1"/><circle class="k5" cx="597.9" cy="122.6"/><circle class="k6" cx="613.8" cy="120.6"/><circle class="k6" cx="609.7" cy="125.2"/><circle class="k6" cx="601.0" cy="129.2"/><circle class="k6" cx="605.6" cy="127.7"/><circle class="k6" cx="623.0" cy="114.4"/><circle class="k6" cx="628.1" cy="114.4"/><circle class="k6" cx="624.0" cy="119.5"/><circle class="k6" cx="630.6" cy="118.0"/><circle class="k6" cx="624.5" cy="125.2"/><circle class="k6" cx="628.6" cy="128.2"/><circle class="k6" cx="614.3" cy="134.4"/><circle class="k6" cx="616.8" cy="132.3"/><circle class="k6" cx="621.4" cy="132.8"/><circle class="k6" cx="626.6" cy="134.4"/><circle class="k6" cx="605.1" cy="132.8"/><circle class="k6" cx="605.6" cy="137.4"/><circle class="k5" cx="585.2" cy="136.4"/><circle class="k5" cx="591.8" cy="138.4"/><circle class="k6" cx="619.4" cy="138.4"/><circle class="k6" cx="631.7" cy="135.4"/><circle class="k6" cx="637.9" cy="72.6"/><circle class="k6" cx="637.1" cy="75.3"/><circle class="k6" cx="665.5" cy="71.8"/><circle class="k6" cx="669.1" cy="73.4"/><circle class="k6" cx="669.5" cy="76.5"/><circle class="k6" cx="668.7" cy="80.5"/><circle class="k6" cx="666.3" cy="83.6"/><circle class="k6" cx="647.8" cy="80.5"/><circle class="k6" cx="647.8" cy="86.0"/><circle class="k6" cx="634.0" cy="87.2"/><circle class="k6" cx="639.9" cy="86.4"/><circle class="k6" cx="639.1" cy="91.1"/><circle class="k6" cx="652.9" cy="87.6"/><circle class="k6" cx="651.3" cy="91.5"/><circle class="k6" cx="646.2" cy="91.9"/><circle class="k6" cx="643.1" cy="95.8"/><circle class="k6" cx="648.2" cy="99.4"/><circle class="k6" cx="634.0" cy="97.0"/><circle class="k6" cx="637.9" cy="100.2"/><circle class="k6" cx="657.2" cy="90.3"/><circle class="k6" cx="661.2" cy="88.7"/><circle class="k6" cx="666.7" cy="91.5"/><circle class="k6" cx="659.6" cy="95.0"/><circle class="k6" cx="663.9" cy="99.0"/><circle class="k6" cx="671.4" cy="95.8"/><circle class="k6" cx="675.0" cy="95.4"/><circle class="k6" cx="668.3" cy="101.0"/><circle class="k6" cx="673.0" cy="100.2"/><circle class="k6" cx="653.7" cy="104.1"/><circle class="k6" cx="659.2" cy="101.4"/><circle class="k6" cx="661.6" cy="103.7"/><circle class="k6" cx="661.2" cy="108.1"/><circle class="k6" cx="661.6" cy="110.0"/><circle class="k6" cx="669.9" cy="108.8"/><circle class="k6" cx="675.4" cy="106.9"/><circle class="k6" cx="673.8" cy="112.8"/><circle class="k6" cx="677.3" cy="111.2"/><circle class="k5" cx="635.6" cy="108.1"/><circle class="k5" cx="634.8" cy="112.4"/><circle class="k6" cx="637.9" cy="114.4"/><circle class="k6" cx="647.8" cy="113.6"/><circle class="k6" cx="652.1" cy="113.2"/><circle class="k6" cx="656.5" cy="119.1"/><circle class="k6" cx="664.7" cy="117.5"/><circle class="k6" cx="672.2" cy="118.3"/><circle class="k6" cx="649.0" cy="121.8"/><circle class="k6" cx="656.1" cy="124.6"/><circle class="k6" cx="669.1" cy="125.4"/><circle class="k6" cx="674.2" cy="123.0"/><circle class="k6" cx="679.7" cy="127.0"/><circle class="k6" cx="677.0" cy="129.3"/><circle class="k6" cx="645.4" cy="126.6"/><circle class="k6" cx="650.9" cy="127.8"/><circle class="k6" cx="641.9" cy="130.9"/><circle class="k6" cx="655.3" cy="130.9"/><circle class="k6" cx="657.6" cy="132.5"/><circle class="k6" cx="635.6" cy="125.4"/><circle class="k6" cx="633.6" cy="122.2"/><circle class="k6" cx="677.0" cy="134.1"/><circle class="k6" cx="634.8" cy="136.4"/><circle class="k6" cx="638.7" cy="137.2"/><circle class="k6" cx="645.4" cy="137.2"/><circle class="k6" cx="660.0" cy="139.2"/><circle class="k6" cx="669.9" cy="138.8"/><circle class="k6" cx="674.2" cy="139.6"/><circle class="k5" cx="586.2" cy="141.5"/><circle class="k5" cx="593.9" cy="142.0"/><circle class="k6" cx="601.0" cy="142.5"/><circle class="k6" cx="611.2" cy="143.0"/><circle class="k6" cx="614.8" cy="145.1"/><circle class="k5" cx="596.9" cy="147.1"/><circle class="k5" cx="603.6" cy="147.6"/><circle class="k6" cx="608.7" cy="148.7"/><circle class="k5" cx="594.9" cy="151.2"/><circle class="k6" cx="628.6" cy="145.1"/><circle class="k6" cx="631.7" cy="151.2"/><circle class="k6" cx="623.5" cy="154.3"/><circle class="k6" cx="629.6" cy="154.8"/><circle class="k6" cx="586.2" cy="159.4"/><circle class="k6" cx="589.8" cy="159.9"/><circle class="k5" cx="596.9" cy="157.9"/><circle class="k5" cx="602.0" cy="159.4"/><circle class="k5" cx="593.9" cy="163.5"/><circle class="k5" cx="598.5" cy="164.5"/><circle class="k5" cx="594.9" cy="166.5"/><circle class="k5" cx="601.5" cy="162.5"/><circle class="k5" cx="604.1" cy="168.1"/><circle class="k5" cx="594.9" cy="171.7"/><circle class="k5" cx="597.9" cy="174.2"/><circle class="k5" cx="602.0" cy="173.7"/><circle class="k5" cx="615.8" cy="161.9"/><circle class="k6" cx="613.8" cy="168.6"/><circle class="k6" cx="621.4" cy="168.6"/><circle class="k6" cx="624.5" cy="164.0"/><circle class="k6" cx="628.6" cy="164.5"/><circle class="k6" cx="631.2" cy="159.4"/><circle class="k6" cx="631.7" cy="168.6"/><circle class="k5" cx="618.9" cy="172.7"/><circle class="k6" cx="625.5" cy="172.7"/><circle class="k6" cx="623.5" cy="175.2"/><circle class="k6" cx="635.2" cy="144.2"/><circle class="k6" cx="643.4" cy="144.2"/><circle class="k6" cx="651.7" cy="145.7"/><circle class="k6" cx="640.7" cy="148.5"/><circle class="k6" cx="634.0" cy="151.2"/><circle class="k6" cx="637.9" cy="154.8"/><circle class="k6" cx="641.1" cy="155.2"/><circle class="k6" cx="641.1" cy="158.7"/><circle class="k6" cx="636.4" cy="162.3"/><circle class="k6" cx="633.6" cy="169.4"/><circle class="k6" cx="660.0" cy="141.4"/><circle class="k6" cx="666.3" cy="144.2"/><circle class="k6" cx="668.7" cy="146.1"/><circle class="k6" cx="674.2" cy="145.7"/><circle class="k6" cx="677.7" cy="146.9"/><circle class="k6" cx="680.5" cy="147.3"/><circle class="k6" cx="671.0" cy="152.0"/><circle class="k6" cx="669.9" cy="155.6"/><circle class="k6" cx="676.6" cy="154.4"/><circle class="k6" cx="676.2" cy="157.6"/><circle class="k6" cx="655.3" cy="155.6"/><circle class="k6" cx="659.6" cy="160.7"/><circle class="k6" cx="663.2" cy="160.7"/><circle class="k6" cx="654.1" cy="164.3"/><circle class="k6" cx="659.2" cy="167.4"/><circle class="k6" cx="653.7" cy="168.6"/><circle class="k6" cx="668.3" cy="166.2"/><circle class="k6" cx="670.6" cy="163.5"/><circle class="k6" cx="675.4" cy="161.5"/><circle class="k6" cx="677.0" cy="167.0"/><circle class="k6" cx="679.7" cy="170.2"/><circle class="k6" cx="675.8" cy="171.0"/><circle class="k6" cx="663.2" cy="174.5"/><circle class="k6" cx="667.1" cy="176.1"/><circle class="k6" cx="673.0" cy="174.9"/><circle class="k6" cx="675.8" cy="175.7"/><circle class="k6" cx="665.5" cy="179.6"/><circle class="k6" cx="669.5" cy="180.4"/><circle class="k6" cx="669.5" cy="182.8"/></g><g class="sc" fill-opacity="1"><circle class="k7" cx="83.3" cy="281.2"/><circle class="k8" cx="87.6" cy="286.5"/><circle class="k9" cx="96.6" cy="292.0"/><circle class="k8" cx="65.1" cy="291.1"/><circle class="k7" cx="64.9" cy="296.3"/><circle class="k7" cx="72.4" cy="297.9"/><circle class="k7" cx="83.6" cy="292.5"/><circle class="k8" cx="90.9" cy="294.1"/><circle class="k9" cx="69.1" cy="306.2"/><circle class="k7" cx="57.5" cy="299.3"/><circle class="k7" cx="48.0" cy="301.1"/><circle class="k7" cx="52.1" cy="308.9"/><circle class="k10" cx="63.5" cy="307.2"/><circle class="k10" cx="91.1" cy="309.9"/><circle class="k11" cx="90.1" cy="313.2"/><circle class="k7" cx="82.3" cy="322.6"/><circle class="k8" cx="47.0" cy="314.6"/><circle class="k7" cx="50.5" cy="324.5"/><circle class="k7" cx="52.7" cy="332.3"/><circle class="k9" cx="69.7" cy="329.7"/><circle class="k7" cx="94.7" cy="331.2"/><circle class="k7" cx="53.8" cy="332.0"/><circle class="k8" cx="59.3" cy="337.7"/><circle class="k11" cx="66.9" cy="339.9"/><circle class="k11" cx="95.3" cy="342.1"/><circle class="k9" cx="75.2" cy="356.0"/><circle class="k11" cx="164.2" cy="255.7"/><circle class="k8" cx="160.9" cy="257.4"/><circle class="k7" cx="161.8" cy="263.4"/><circle class="k9" cx="123.1" cy="290.5"/><circle class="k10" cx="151.3" cy="285.1"/><circle class="k9" cx="118.5" cy="302.7"/><circle class="k7" cx="113.8" cy="299.5"/><circle class="k9" cx="150.0" cy="304.4"/><circle class="k9" cx="167.8" cy="305.3"/><circle class="k7" cx="170.9" cy="291.0"/><circle class="k10" cx="139.1" cy="304.9"/><circle class="k11" cx="183.9" cy="245.2"/><circle class="k10" cx="169.5" cy="250.2"/><circle class="k7" cx="169.0" cy="267.6"/><circle class="k7" cx="177.4" cy="279.9"/><circle class="k7" cx="174.1" cy="285.6"/><circle class="k9" cx="180.0" cy="301.8"/><circle class="k8" cx="201.1" cy="296.2"/><circle class="k7" cx="101.1" cy="312.4"/><circle class="k9" cx="123.4" cy="305.6"/><circle class="k7" cx="125.9" cy="310.6"/><circle class="k7" cx="124.0" cy="318.4"/><circle class="k7" cx="119.4" cy="318.0"/><circle class="k10" cx="166.3" cy="306.0"/><circle class="k7" cx="108.2" cy="321.8"/><circle class="k7" cx="144.6" cy="321.5"/><circle class="k11" cx="142.6" cy="323.7"/><circle class="k7" cx="119.1" cy="335.4"/><circle class="k7" cx="130.5" cy="327.7"/><circle class="k11" cx="139.2" cy="327.9"/><circle class="k8" cx="141.7" cy="336.0"/><circle class="k7" cx="163.1" cy="322.6"/><circle class="k10" cx="169.6" cy="326.8"/><circle class="k7" cx="125.1" cy="333.9"/><circle class="k10" cx="117.8" cy="340.3"/><circle class="k7" cx="149.8" cy="344.3"/><circle class="k10" cx="153.8" cy="338.0"/><circle class="k7" cx="166.7" cy="336.3"/><circle class="k7" cx="163.6" cy="342.1"/><circle class="k7" cx="161.1" cy="343.8"/><circle class="k11" cx="98.9" cy="344.8"/><circle class="k9" cx="132.7" cy="349.9"/><circle class="k7" cx="137.8" cy="351.2"/><circle class="k7" cx="135.7" cy="361.2"/><circle class="k7" cx="146.5" cy="358.1"/><circle class="k7" cx="137.5" cy="363.4"/><circle class="k7" cx="141.1" cy="362.4"/><circle class="k10" cx="161.7" cy="359.2"/><circle class="k7" cx="169.2" cy="363.3"/><circle class="k8" cx="154.6" cy="372.9"/><circle class="k10" cx="162.2" cy="368.5"/><circle class="k7" cx="141.0" cy="371.5"/><circle class="k7" cx="130.9" cy="371.7"/><circle class="k11" cx="206.1" cy="320.1"/><circle class="k7" cx="187.5" cy="314.6"/><circle class="k7" cx="167.9" cy="323.8"/><circle class="k7" cx="190.1" cy="329.3"/><circle class="k7" cx="171.4" cy="335.5"/><circle class="k7" cx="174.9" cy="338.5"/><circle class="k8" cx="201.0" cy="323.5"/><circle class="k11" cx="204.6" cy="334.8"/><circle class="k11" cx="197.3" cy="339.2"/><circle class="k10" cx="201.5" cy="341.0"/><circle class="k10" cx="210.9" cy="345.5"/><circle class="k9" cx="215.0" cy="350.4"/><circle class="k11" cx="192.8" cy="350.5"/><circle class="k7" cx="198.6" cy="352.4"/><circle class="k7" cx="196.8" cy="362.2"/><circle class="k10" cx="217.3" cy="365.0"/><circle class="k7" cx="182.8" cy="365.3"/><circle class="k11" cx="183.1" cy="367.8"/><circle class="k9" cx="190.1" cy="366.8"/><circle class="k11" cx="172.2" cy="363.4"/><circle class="k8" cx="185.9" cy="373.5"/><circle class="k7" cx="142.9" cy="385.3"/><circle class="k10" cx="146.7" cy="381.2"/><circle class="k10" cx="168.2" cy="382.3"/><circle class="k7" cx="166.4" cy="388.5"/><circle class="k9" cx="164.0" cy="391.5"/><circle class="k8" cx="167.9" cy="393.1"/><circle class="k9" cx="125.1" cy="397.1"/><circle class="k9" cx="160.0" cy="402.1"/><circle class="k9" cx="164.1" cy="400.9"/><circle class="k7" cx="165.0" cy="398.3"/><circle class="k7" cx="168.9" cy="392.4"/><circle class="k10" cx="171.2" cy="405.3"/><circle class="k9" cx="178.6" cy="381.3"/><circle class="k7" cx="175.2" cy="382.7"/><circle class="k11" cx="173.2" cy="390.4"/><circle class="k9" cx="196.0" cy="380.7"/><circle class="k7" cx="214.7" cy="391.0"/><circle class="k10" cx="194.7" cy="391.3"/><circle class="k7" cx="190.8" cy="406.9"/><circle class="k7" cx="213.0" cy="404.9"/><circle class="k9" cx="214.7" cy="409.2"/><circle class="k10" cx="204.0" cy="417.5"/><circle class="k10" cx="59.3" cy="283.5"/><circle class="k9" cx="62.9" cy="283.0"/><circle class="k9" cx="64.9" cy="280.4"/><circle class="k7" cx="66.0" cy="280.9"/><circle class="k7" cx="73.6" cy="280.7"/><circle class="k9" cx="83.8" cy="278.4"/><circle class="k10" cx="86.9" cy="280.4"/><circle class="k7" cx="91.0" cy="280.4"/><circle class="k7" cx="84.9" cy="283.5"/><circle class="k8" cx="90.0" cy="286.0"/><circle class="k9" cx="95.1" cy="286.0"/><circle class="k11" cx="98.1" cy="284.5"/><circle class="k7" cx="96.1" cy="289.6"/><circle class="k7" cx="88.4" cy="290.1"/><circle class="k7" cx="59.3" cy="291.2"/><circle class="k8" cx="64.4" cy="293.2"/><circle class="k9" cx="67.5" cy="295.8"/><circle class="k7" cx="61.4" cy="296.3"/><circle class="k10" cx="71.6" cy="294.2"/><circle class="k7" cx="77.2" cy="297.3"/><circle class="k9" cx="80.8" cy="293.2"/><circle class="k7" cx="84.9" cy="293.7"/><circle class="k7" cx="87.9" cy="295.2"/><circle class="k9" cx="85.4" cy="299.8"/><circle class="k8" cx="65.4" cy="300.4"/><circle class="k7" cx="70.6" cy="304.4"/><circle class="k10" cx="55.2" cy="298.3"/><circle class="k7" cx="52.2" cy="299.8"/><circle class="k7" cx="49.1" cy="303.4"/><circle class="k9" cx="56.2" cy="301.9"/><circle class="k7" cx="94.1" cy="300.4"/><circle class="k11" cx="98.7" cy="301.9"/><circle class="k9" cx="97.6" cy="298.3"/><circle class="k9" cx="85.9" cy="305.0"/><circle class="k7" cx="96.1" cy="305.0"/><circle class="k8" cx="50.1" cy="309.2"/><circle class="k7" cx="47.0" cy="308.7"/><circle class="k11" cx="58.3" cy="309.7"/><circle class="k7" cx="62.9" cy="309.7"/><circle class="k7" cx="76.7" cy="309.7"/><circle class="k9" cx="88.9" cy="309.2"/><circle class="k7" cx="92.0" cy="313.3"/><circle class="k8" cx="90.0" cy="316.9"/><circle class="k7" cx="94.6" cy="318.4"/><circle class="k7" cx="76.7" cy="315.3"/><circle class="k7" cx="78.2" cy="319.9"/><circle class="k7" cx="85.9" cy="321.5"/><circle class="k9" cx="91.0" cy="322.5"/><circle class="k8" cx="82.3" cy="326.1"/><circle class="k7" cx="85.9" cy="327.1"/><circle class="k7" cx="45.0" cy="315.3"/><circle class="k7" cx="50.6" cy="315.3"/><circle class="k8" cx="46.0" cy="318.9"/><circle class="k7" cx="65.4" cy="314.8"/><circle class="k10" cx="67.5" cy="318.9"/><circle class="k10" cx="69.5" cy="320.4"/><circle class="k7" cx="54.2" cy="322.0"/><circle class="k8" cx="61.4" cy="323.5"/><circle class="k11" cx="65.4" cy="326.6"/><circle class="k9" cx="48.6" cy="323.5"/><circle class="k8" cx="45.5" cy="327.1"/><circle class="k8" cx="51.1" cy="327.1"/><circle class="k7" cx="49.1" cy="331.2"/><circle class="k7" cx="58.3" cy="332.7"/><circle class="k8" cx="63.4" cy="329.6"/><circle class="k9" cx="72.6" cy="331.7"/><circle class="k10" cx="78.7" cy="332.2"/><circle class="k9" cx="88.9" cy="334.2"/><circle class="k7" cx="93.0" cy="332.2"/><circle class="k7" cx="99.2" cy="327.6"/><circle class="k7" cx="100.2" cy="332.7"/><circle class="k7" cx="54.2" cy="335.8"/><circle class="k10" cx="51.1" cy="339.3"/><circle class="k7" cx="52.7" cy="341.9"/><circle class="k7" cx="61.4" cy="336.8"/><circle class="k8" cx="60.8" cy="341.9"/><circle class="k7" cx="70.6" cy="338.8"/><circle class="k8" cx="68.5" cy="343.9"/><circle class="k7" cx="73.6" cy="343.9"/><circle class="k7" cx="82.8" cy="337.8"/><circle class="k11" cx="85.9" cy="341.9"/><circle class="k11" cx="82.3" cy="344.5"/><circle class="k7" cx="93.5" cy="340.9"/><circle class="k10" cx="97.1" cy="340.9"/><circle class="k7" cx="99.2" cy="343.9"/><circle class="k7" cx="92.5" cy="346.5"/><circle class="k8" cx="57.8" cy="349.0"/><circle class="k7" cx="64.9" cy="350.1"/><circle class="k7" cx="63.9" cy="351.6"/><circle class="k8" cx="75.2" cy="348.0"/><circle class="k10" cx="75.7" cy="352.6"/><circle class="k7" cx="83.8" cy="350.6"/><circle class="k11" cx="87.9" cy="355.2"/><circle class="k9" cx="78.7" cy="357.2"/><circle class="k10" cx="71.6" cy="361.3"/><circle class="k10" cx="74.6" cy="362.3"/><circle class="k10" cx="98.1" cy="352.1"/><circle class="k8" cx="98.1" cy="359.8"/><circle class="k7" cx="98.1" cy="362.3"/><circle class="k9" cx="168.7" cy="252.3"/><circle class="k11" cx="167.6" cy="255.4"/><circle class="k7" cx="169.7" cy="259.0"/><circle class="k7" cx="157.9" cy="258.5"/><circle class="k8" cx="161.0" cy="260.5"/><circle class="k7" cx="164.1" cy="264.1"/><circle class="k7" cx="162.0" cy="270.2"/><circle class="k9" cx="167.6" cy="272.3"/><circle class="k7" cx="169.7" cy="269.2"/><circle class="k7" cx="152.3" cy="269.7"/><circle class="k10" cx="151.3" cy="272.3"/><circle class="k9" cx="156.4" cy="272.3"/><circle class="k11" cx="141.6" cy="276.3"/><circle class="k7" cx="143.6" cy="274.8"/><circle class="k8" cx="145.2" cy="278.4"/><circle class="k10" cx="141.1" cy="282.5"/><circle class="k7" cx="126.2" cy="280.4"/><circle class="k7" cx="123.7" cy="284.0"/><circle class="k8" cx="131.4" cy="282.5"/><circle class="k8" cx="130.3" cy="286.0"/><circle class="k7" cx="128.3" cy="288.1"/><circle class="k7" cx="120.6" cy="289.1"/><circle class="k7" cx="124.2" cy="291.2"/><circle class="k7" cx="121.1" cy="293.7"/><circle class="k11" cx="123.7" cy="296.3"/><circle class="k7" cx="137.0" cy="289.6"/><circle class="k9" cx="146.2" cy="288.6"/><circle class="k9" cx="146.7" cy="291.7"/><circle class="k9" cx="150.8" cy="288.1"/><circle class="k9" cx="154.9" cy="287.1"/><circle class="k7" cx="155.9" cy="292.7"/><circle class="k7" cx="148.7" cy="294.2"/><circle class="k7" cx="153.8" cy="297.3"/><circle class="k7" cx="150.8" cy="299.3"/><circle class="k9" cx="126.2" cy="300.9"/><circle class="k10" cx="117.0" cy="300.4"/><circle class="k7" cx="118.6" cy="303.4"/><circle class="k9" cx="115.0" cy="302.4"/><circle class="k7" cx="152.3" cy="303.9"/><circle class="k10" cx="166.1" cy="303.4"/><circle class="k10" cx="170.2" cy="289.1"/><circle class="k9" cx="101.2" cy="284.5"/><circle class="k7" cx="101.2" cy="299.3"/><circle class="k8" cx="101.2" cy="302.4"/><circle class="k11" cx="129.3" cy="306.5"/><circle class="k8" cx="137.5" cy="306.0"/><circle class="k7" cx="141.6" cy="305.0"/><circle class="k10" cx="185.7" cy="244.1"/><circle class="k10" cx="184.1" cy="246.5"/><circle class="k7" cx="183.7" cy="248.8"/><circle class="k9" cx="171.1" cy="251.6"/><circle class="k7" cx="172.3" cy="255.1"/><circle class="k7" cx="177.0" cy="254.3"/><circle class="k7" cx="182.5" cy="255.5"/><circle class="k7" cx="174.2" cy="257.5"/><circle class="k9" cx="171.5" cy="259.9"/><circle class="k9" cx="178.6" cy="259.1"/><circle class="k11" cx="178.2" cy="263.0"/><circle class="k9" cx="173.1" cy="263.8"/><circle class="k10" cx="175.4" cy="267.7"/><circle class="k11" cx="171.5" cy="269.3"/><circle class="k7" cx="182.9" cy="268.9"/><circle class="k7" cx="186.9" cy="271.3"/><circle class="k7" cx="189.6" cy="274.1"/><circle class="k9" cx="180.6" cy="275.6"/><circle class="k7" cx="183.3" cy="276.8"/><circle class="k7" cx="175.0" cy="278.0"/><circle class="k7" cx="177.4" cy="283.1"/><circle class="k10" cx="176.6" cy="288.2"/><circle class="k11" cx="173.1" cy="289.4"/><circle class="k7" cx="173.9" cy="294.9"/><circle class="k7" cx="180.9" cy="298.1"/><circle class="k7" cx="178.6" cy="300.5"/><circle class="k8" cx="183.7" cy="300.9"/><circle class="k7" cx="180.9" cy="304.8"/><circle class="k7" cx="175.0" cy="304.8"/><circle class="k9" cx="198.3" cy="296.5"/><circle class="k9" cx="204.2" cy="296.1"/><circle class="k8" cx="199.9" cy="299.7"/><circle class="k10" cx="205.0" cy="300.9"/><circle class="k7" cx="201.4" cy="304.0"/><circle class="k11" cx="103.3" cy="312.1"/><circle class="k11" cx="112.5" cy="311.1"/><circle class="k8" cx="118.1" cy="310.6"/><circle class="k10" cx="122.7" cy="309.0"/><circle class="k7" cx="128.3" cy="311.1"/><circle class="k10" cx="134.4" cy="310.1"/><circle class="k7" cx="139.5" cy="308.5"/><circle class="k8" cx="124.2" cy="316.2"/><circle class="k7" cx="129.8" cy="316.7"/><circle class="k8" cx="121.6" cy="319.8"/><circle class="k7" cx="136.0" cy="318.2"/><circle class="k11" cx="157.4" cy="312.1"/><circle class="k7" cx="162.0" cy="313.6"/><circle class="k7" cx="166.1" cy="308.5"/><circle class="k9" cx="164.1" cy="319.8"/><circle class="k8" cx="105.8" cy="320.8"/><circle class="k10" cx="110.9" cy="322.3"/><circle class="k9" cx="108.9" cy="326.4"/><circle class="k9" cx="107.9" cy="327.9"/><circle class="k7" cx="129.8" cy="324.4"/><circle class="k7" cx="144.6" cy="318.8"/><circle class="k10" cx="147.7" cy="323.3"/><circle class="k7" cx="153.3" cy="321.3"/><circle class="k7" cx="156.4" cy="323.3"/><circle class="k7" cx="142.1" cy="326.4"/><circle class="k9" cx="151.3" cy="328.5"/><circle class="k7" cx="119.1" cy="327.4"/><circle class="k10" cx="101.7" cy="327.4"/><circle class="k7" cx="101.7" cy="332.5"/><circle class="k9" cx="104.8" cy="334.6"/><circle class="k7" cx="111.4" cy="333.6"/><circle class="k7" cx="114.0" cy="335.6"/><circle class="k7" cx="118.1" cy="336.6"/><circle class="k9" cx="120.1" cy="332.0"/><circle class="k7" cx="128.8" cy="330.5"/><circle class="k10" cx="132.4" cy="333.6"/><circle class="k10" cx="138.5" cy="331.5"/><circle class="k7" cx="144.6" cy="335.6"/><circle class="k7" cx="148.2" cy="332.0"/><circle class="k7" cx="153.3" cy="333.1"/><circle class="k10" cx="166.1" cy="324.4"/><circle class="k10" cx="169.2" cy="323.3"/><circle class="k9" cx="169.2" cy="328.5"/><circle class="k7" cx="168.7" cy="332.5"/><circle class="k7" cx="125.7" cy="337.7"/><circle class="k7" cx="130.3" cy="340.7"/><circle class="k8" cx="122.2" cy="342.3"/><circle class="k7" cx="116.5" cy="342.3"/><circle class="k9" cx="112.5" cy="345.3"/><circle class="k7" cx="138.0" cy="341.7"/><circle class="k7" cx="142.6" cy="340.7"/><circle class="k11" cx="150.8" cy="340.7"/><circle class="k8" cx="155.9" cy="339.7"/><circle class="k7" cx="168.1" cy="337.7"/><circle class="k7" cx="165.1" cy="340.7"/><circle class="k9" cx="164.1" cy="345.3"/><circle class="k7" cx="169.2" cy="347.4"/><circle class="k10" cx="101.2" cy="343.8"/><circle class="k8" cx="108.4" cy="349.4"/><circle class="k7" cx="117.6" cy="348.9"/><circle class="k9" cx="125.2" cy="346.9"/><circle class="k7" cx="134.9" cy="346.9"/><circle class="k11" cx="133.4" cy="352.0"/><circle class="k7" cx="147.7" cy="347.9"/><circle class="k7" cx="109.9" cy="354.5"/><circle class="k10" cx="116.0" cy="354.0"/><circle class="k9" cx="114.5" cy="357.6"/><circle class="k9" cx="102.2" cy="359.1"/><circle class="k11" cx="140.0" cy="352.0"/><circle class="k10" cx="141.1" cy="355.0"/><circle class="k7" cx="143.6" cy="358.1"/><circle class="k7" cx="135.4" cy="358.6"/><circle class="k7" cx="151.3" cy="356.6"/><circle class="k10" cx="147.2" cy="361.2"/><circle class="k7" cx="138.5" cy="365.2"/><circle class="k7" cx="143.1" cy="363.7"/><circle class="k11" cx="160.5" cy="350.4"/><circle class="k10" cx="165.6" cy="350.4"/><circle class="k7" cx="161.5" cy="355.5"/><circle class="k9" cx="168.1" cy="354.0"/><circle class="k8" cx="162.0" cy="361.2"/><circle class="k7" cx="166.1" cy="364.2"/><circle class="k10" cx="151.8" cy="370.4"/><circle class="k8" cx="154.3" cy="368.3"/><circle class="k8" cx="158.9" cy="368.8"/><circle class="k7" cx="164.1" cy="370.4"/><circle class="k10" cx="142.6" cy="368.8"/><circle class="k11" cx="143.1" cy="373.4"/><circle class="k7" cx="122.7" cy="372.4"/><circle class="k11" cx="129.3" cy="374.4"/><circle class="k7" cx="156.9" cy="374.4"/><circle class="k9" cx="169.2" cy="371.4"/><circle class="k10" cx="175.4" cy="308.6"/><circle class="k9" cx="174.6" cy="311.3"/><circle class="k7" cx="203.0" cy="307.8"/><circle class="k7" cx="206.6" cy="309.4"/><circle class="k11" cx="207.0" cy="312.5"/><circle class="k9" cx="206.2" cy="316.5"/><circle class="k7" cx="203.8" cy="319.6"/><circle class="k7" cx="185.3" cy="316.5"/><circle class="k7" cx="185.3" cy="322.0"/><circle class="k7" cx="171.5" cy="323.2"/><circle class="k7" cx="177.4" cy="322.4"/><circle class="k10" cx="176.6" cy="327.1"/><circle class="k7" cx="190.4" cy="323.6"/><circle class="k9" cx="188.8" cy="327.5"/><circle class="k11" cx="183.7" cy="327.9"/><circle class="k10" cx="180.6" cy="331.8"/><circle class="k7" cx="185.7" cy="335.4"/><circle class="k9" cx="171.5" cy="333.0"/><circle class="k10" cx="175.4" cy="336.2"/><circle class="k9" cx="194.7" cy="326.3"/><circle class="k10" cx="198.7" cy="324.7"/><circle class="k7" cx="204.2" cy="327.5"/><circle class="k7" cx="197.1" cy="331.0"/><circle class="k7" cx="201.4" cy="335.0"/><circle class="k7" cx="208.9" cy="331.8"/><circle class="k7" cx="212.5" cy="331.4"/><circle class="k7" cx="205.8" cy="337.0"/><circle class="k7" cx="210.5" cy="336.2"/><circle class="k9" cx="191.2" cy="340.1"/><circle class="k7" cx="196.7" cy="337.4"/><circle class="k7" cx="199.1" cy="339.7"/><circle class="k10" cx="198.7" cy="344.1"/><circle class="k7" cx="199.1" cy="346.0"/><circle class="k7" cx="207.4" cy="344.8"/><circle class="k7" cx="212.9" cy="342.9"/><circle class="k9" cx="211.3" cy="348.8"/><circle class="k9" cx="214.8" cy="347.2"/><circle class="k7" cx="173.1" cy="344.1"/><circle class="k10" cx="172.3" cy="348.4"/><circle class="k7" cx="175.4" cy="350.4"/><circle class="k10" cx="185.3" cy="349.6"/><circle class="k10" cx="189.6" cy="349.2"/><circle class="k7" cx="194.0" cy="355.1"/><circle class="k10" cx="202.2" cy="353.5"/><circle class="k7" cx="209.7" cy="354.3"/><circle class="k7" cx="186.5" cy="357.8"/><circle class="k10" cx="193.6" cy="360.6"/><circle class="k7" cx="206.6" cy="361.4"/><circle class="k10" cx="211.7" cy="359.0"/><circle class="k9" cx="217.2" cy="363.0"/><circle class="k9" cx="214.5" cy="365.3"/><circle class="k7" cx="182.9" cy="362.6"/><circle class="k10" cx="188.4" cy="363.8"/><circle class="k7" cx="179.4" cy="366.9"/><circle class="k7" cx="192.8" cy="366.9"/><circle class="k8" cx="195.1" cy="368.5"/><circle class="k10" cx="173.1" cy="361.4"/><circle class="k11" cx="171.1" cy="358.2"/><circle class="k8" cx="214.5" cy="370.1"/><circle class="k9" cx="172.3" cy="372.4"/><circle class="k9" cx="176.2" cy="373.2"/><circle class="k7" cx="182.9" cy="373.2"/><circle class="k8" cx="197.5" cy="375.2"/><circle class="k7" cx="207.4" cy="374.8"/><circle class="k8" cx="211.7" cy="375.6"/><circle class="k11" cx="123.7" cy="377.5"/><circle class="k10" cx="131.4" cy="378.0"/><circle class="k9" cx="138.5" cy="378.5"/><circle class="k8" cx="148.7" cy="379.0"/><circle class="k10" cx="152.3" cy="381.1"/><circle class="k7" cx="134.4" cy="383.1"/><circle class="k9" cx="141.1" cy="383.6"/><circle class="k10" cx="146.2" cy="384.7"/><circle class="k11" cx="132.4" cy="387.2"/><circle class="k7" cx="166.1" cy="381.1"/><circle class="k9" cx="169.2" cy="387.2"/><circle class="k10" cx="161.0" cy="390.3"/><circle class="k7" cx="167.1" cy="390.8"/><circle class="k11" cx="123.7" cy="395.4"/><circle class="k7" cx="127.3" cy="395.9"/><circle class="k7" cx="134.4" cy="393.9"/><circle class="k7" cx="139.5" cy="395.4"/><circle class="k7" cx="131.4" cy="399.5"/><circle class="k10" cx="136.0" cy="400.5"/><circle class="k7" cx="132.4" cy="402.5"/><circle class="k10" cx="139.0" cy="398.5"/><circle class="k8" cx="141.6" cy="404.1"/><circle class="k9" cx="132.4" cy="407.7"/><circle class="k11" cx="135.4" cy="410.2"/><circle class="k10" cx="139.5" cy="409.7"/><circle class="k9" cx="153.3" cy="397.9"/><circle class="k10" cx="151.3" cy="404.6"/><circle class="k7" cx="158.9" cy="404.6"/><circle class="k7" cx="162.0" cy="400.0"/><circle class="k7" cx="166.1" cy="400.5"/><circle class="k11" cx="168.7" cy="395.4"/><circle class="k7" cx="169.2" cy="404.6"/><circle class="k7" cx="156.4" cy="408.7"/><circle class="k11" cx="163.0" cy="408.7"/><circle class="k10" cx="161.0" cy="411.2"/><circle class="k8" cx="172.7" cy="380.2"/><circle class="k7" cx="180.9" cy="380.2"/><circle class="k7" cx="189.2" cy="381.7"/><circle class="k9" cx="178.2" cy="384.5"/><circle class="k7" cx="171.5" cy="387.2"/><circle class="k8" cx="175.4" cy="390.8"/><circle class="k7" cx="178.6" cy="391.2"/><circle class="k7" cx="178.6" cy="394.7"/><circle class="k9" cx="173.9" cy="398.3"/><circle class="k7" cx="171.1" cy="405.4"/><circle class="k10" cx="197.5" cy="377.4"/><circle class="k9" cx="203.8" cy="380.2"/><circle class="k10" cx="206.2" cy="382.1"/><circle class="k9" cx="211.7" cy="381.7"/><circle class="k7" cx="215.2" cy="382.9"/><circle class="k7" cx="218.0" cy="383.3"/><circle class="k8" cx="208.5" cy="388.0"/><circle class="k7" cx="207.4" cy="391.6"/><circle class="k9" cx="214.1" cy="390.4"/><circle class="k7" cx="213.7" cy="393.6"/><circle class="k10" cx="192.8" cy="391.6"/><circle class="k10" cx="197.1" cy="396.7"/><circle class="k10" cx="200.7" cy="396.7"/><circle class="k7" cx="191.6" cy="400.3"/><circle class="k7" cx="196.7" cy="403.4"/><circle class="k7" cx="191.2" cy="404.6"/><circle class="k11" cx="205.8" cy="402.2"/><circle class="k10" cx="208.1" cy="399.5"/><circle class="k7" cx="212.9" cy="397.5"/><circle class="k9" cx="214.5" cy="403.0"/><circle class="k10" cx="217.2" cy="406.2"/><circle class="k10" cx="213.3" cy="407.0"/><circle class="k7" cx="200.7" cy="410.5"/><circle class="k10" cx="204.6" cy="412.1"/><circle class="k7" cx="210.5" cy="410.9"/><circle class="k7" cx="213.3" cy="411.7"/><circle class="k7" cx="203.0" cy="415.6"/><circle class="k7" cx="207.0" cy="416.4"/><circle class="k7" cx="207.0" cy="418.8"/></g><g class="sc" fill-opacity="1"><circle class="k5" cx="314.6" cy="281.2"/><circle class="k6" cx="318.9" cy="286.5"/><circle class="k6" cx="327.9" cy="292.0"/><circle class="k5" cx="296.4" cy="291.1"/><circle class="k5" cx="296.2" cy="296.3"/><circle class="k5" cx="303.7" cy="297.9"/><circle class="k5" cx="314.9" cy="292.5"/><circle class="k5" cx="322.2" cy="294.1"/><circle class="k5" cx="300.4" cy="306.2"/><circle class="k5" cx="288.8" cy="299.3"/><circle class="k5" cx="279.3" cy="301.1"/><circle class="k5" cx="283.4" cy="308.9"/><circle class="k5" cx="294.8" cy="307.2"/><circle class="k6" cx="322.4" cy="309.9"/><circle class="k6" cx="321.4" cy="313.2"/><circle class="k6" cx="313.6" cy="322.6"/><circle class="k5" cx="278.3" cy="314.6"/><circle class="k5" cx="281.8" cy="324.5"/><circle class="k5" cx="284.0" cy="332.3"/><circle class="k5" cx="301.0" cy="329.7"/><circle class="k5" cx="326.0" cy="331.2"/><circle class="k5" cx="285.1" cy="332.0"/><circle class="k5" cx="290.6" cy="337.7"/><circle class="k5" cx="298.2" cy="339.9"/><circle class="k6" cx="326.6" cy="342.1"/><circle class="k5" cx="306.5" cy="356.0"/><circle class="k6" cx="395.5" cy="255.7"/><circle class="k5" cx="392.2" cy="257.4"/><circle class="k6" cx="393.1" cy="263.4"/><circle class="k5" cx="354.4" cy="290.5"/><circle class="k5" cx="382.6" cy="285.1"/><circle class="k6" cx="349.8" cy="302.7"/><circle class="k6" cx="345.1" cy="299.5"/><circle class="k6" cx="381.3" cy="304.4"/><circle class="k6" cx="399.1" cy="305.3"/><circle class="k6" cx="402.2" cy="291.0"/><circle class="k6" cx="370.4" cy="304.9"/><circle class="k6" cx="415.2" cy="245.2"/><circle class="k5" cx="400.8" cy="250.2"/><circle class="k6" cx="400.3" cy="267.6"/><circle class="k5" cx="408.7" cy="279.9"/><circle class="k6" cx="405.4" cy="285.6"/><circle class="k6" cx="411.3" cy="301.8"/><circle class="k6" cx="432.4" cy="296.2"/><circle class="k5" cx="332.4" cy="312.4"/><circle class="k6" cx="354.7" cy="305.6"/><circle class="k6" cx="357.2" cy="310.6"/><circle class="k6" cx="355.3" cy="318.4"/><circle class="k6" cx="350.7" cy="318.0"/><circle class="k6" cx="397.6" cy="306.0"/><circle class="k6" cx="339.5" cy="321.8"/><circle class="k6" cx="375.9" cy="321.5"/><circle class="k5" cx="373.9" cy="323.7"/><circle class="k6" cx="350.4" cy="335.4"/><circle class="k6" cx="361.8" cy="327.7"/><circle class="k6" cx="370.5" cy="327.9"/><circle class="k6" cx="373.0" cy="336.0"/><circle class="k6" cx="394.4" cy="322.6"/><circle class="k5" cx="400.9" cy="326.8"/><circle class="k6" cx="356.4" cy="333.9"/><circle class="k6" cx="349.1" cy="340.3"/><circle class="k6" cx="381.1" cy="344.3"/><circle class="k6" cx="385.1" cy="338.0"/><circle class="k6" cx="398.0" cy="336.3"/><circle class="k6" cx="394.9" cy="342.1"/><circle class="k6" cx="392.4" cy="343.8"/><circle class="k5" cx="330.2" cy="344.8"/><circle class="k5" cx="364.0" cy="349.9"/><circle class="k6" cx="369.1" cy="351.2"/><circle class="k6" cx="367.0" cy="361.2"/><circle class="k6" cx="377.8" cy="358.1"/><circle class="k5" cx="368.8" cy="363.4"/><circle class="k5" cx="372.4" cy="362.4"/><circle class="k6" cx="393.0" cy="359.2"/><circle class="k6" cx="400.5" cy="363.3"/><circle class="k5" cx="385.9" cy="372.9"/><circle class="k6" cx="393.5" cy="368.5"/><circle class="k6" cx="372.3" cy="371.5"/><circle class="k6" cx="362.2" cy="371.7"/><circle class="k6" cx="437.4" cy="320.1"/><circle class="k5" cx="418.8" cy="314.6"/><circle class="k5" cx="399.2" cy="323.8"/><circle class="k6" cx="421.4" cy="329.3"/><circle class="k6" cx="402.7" cy="335.5"/><circle class="k6" cx="406.2" cy="338.5"/><circle class="k6" cx="432.3" cy="323.5"/><circle class="k6" cx="435.9" cy="334.8"/><circle class="k6" cx="428.6" cy="339.2"/><circle class="k6" cx="432.8" cy="341.0"/><circle class="k6" cx="442.2" cy="345.5"/><circle class="k6" cx="446.3" cy="350.4"/><circle class="k6" cx="424.1" cy="350.5"/><circle class="k6" cx="429.9" cy="352.4"/><circle class="k6" cx="428.1" cy="362.2"/><circle class="k6" cx="448.6" cy="365.0"/><circle class="k6" cx="414.1" cy="365.3"/><circle class="k6" cx="414.4" cy="367.8"/><circle class="k6" cx="421.4" cy="366.8"/><circle class="k6" cx="403.5" cy="363.4"/><circle class="k6" cx="417.2" cy="373.5"/><circle class="k6" cx="374.2" cy="385.3"/><circle class="k6" cx="378.0" cy="381.2"/><circle class="k6" cx="399.5" cy="382.3"/><circle class="k6" cx="397.7" cy="388.5"/><circle class="k6" cx="395.3" cy="391.5"/><circle class="k6" cx="399.2" cy="393.1"/><circle class="k5" cx="356.4" cy="397.1"/><circle class="k6" cx="391.3" cy="402.1"/><circle class="k6" cx="395.4" cy="400.9"/><circle class="k6" cx="396.3" cy="398.3"/><circle class="k6" cx="400.2" cy="392.4"/><circle class="k6" cx="402.5" cy="405.3"/><circle class="k5" cx="409.9" cy="381.3"/><circle class="k6" cx="406.5" cy="382.7"/><circle class="k6" cx="404.5" cy="390.4"/><circle class="k6" cx="427.3" cy="380.7"/><circle class="k6" cx="446.0" cy="391.0"/><circle class="k6" cx="426.0" cy="391.3"/><circle class="k6" cx="422.1" cy="406.9"/><circle class="k6" cx="444.3" cy="404.9"/><circle class="k6" cx="446.0" cy="409.2"/><circle class="k6" cx="435.3" cy="417.5"/><circle class="k5" cx="290.6" cy="283.5"/><circle class="k6" cx="294.2" cy="283.0"/><circle class="k5" cx="296.2" cy="280.4"/><circle class="k5" cx="297.3" cy="280.9"/><circle class="k6" cx="304.9" cy="280.7"/><circle class="k6" cx="315.1" cy="278.4"/><circle class="k5" cx="318.2" cy="280.4"/><circle class="k6" cx="322.3" cy="280.4"/><circle class="k5" cx="316.2" cy="283.5"/><circle class="k6" cx="321.3" cy="286.0"/><circle class="k6" cx="326.4" cy="286.0"/><circle class="k5" cx="329.4" cy="284.5"/><circle class="k6" cx="327.4" cy="289.6"/><circle class="k6" cx="319.7" cy="290.1"/><circle class="k5" cx="290.6" cy="291.2"/><circle class="k5" cx="295.7" cy="293.2"/><circle class="k5" cx="298.8" cy="295.8"/><circle class="k5" cx="292.7" cy="296.3"/><circle class="k5" cx="302.9" cy="294.2"/><circle class="k5" cx="308.5" cy="297.3"/><circle class="k5" cx="312.1" cy="293.2"/><circle class="k5" cx="316.2" cy="293.7"/><circle class="k5" cx="319.2" cy="295.2"/><circle class="k6" cx="316.7" cy="299.8"/><circle class="k5" cx="296.7" cy="300.4"/><circle class="k5" cx="301.9" cy="304.4"/><circle class="k5" cx="286.5" cy="298.3"/><circle class="k5" cx="283.5" cy="299.8"/><circle class="k5" cx="280.4" cy="303.4"/><circle class="k5" cx="287.5" cy="301.9"/><circle class="k5" cx="325.4" cy="300.4"/><circle class="k6" cx="330.0" cy="301.9"/><circle class="k5" cx="328.9" cy="298.3"/><circle class="k5" cx="317.2" cy="305.0"/><circle class="k5" cx="327.4" cy="305.0"/><circle class="k5" cx="281.4" cy="309.2"/><circle class="k5" cx="278.3" cy="308.7"/><circle class="k5" cx="289.6" cy="309.7"/><circle class="k5" cx="294.2" cy="309.7"/><circle class="k5" cx="308.0" cy="309.7"/><circle class="k6" cx="320.2" cy="309.2"/><circle class="k6" cx="323.3" cy="313.3"/><circle class="k6" cx="321.3" cy="316.9"/><circle class="k5" cx="325.9" cy="318.4"/><circle class="k5" cx="308.0" cy="315.3"/><circle class="k5" cx="309.5" cy="319.9"/><circle class="k5" cx="317.2" cy="321.5"/><circle class="k5" cx="322.3" cy="322.5"/><circle class="k6" cx="313.6" cy="326.1"/><circle class="k5" cx="317.2" cy="327.1"/><circle class="k5" cx="276.3" cy="315.3"/><circle class="k5" cx="281.9" cy="315.3"/><circle class="k5" cx="277.3" cy="318.9"/><circle class="k5" cx="296.7" cy="314.8"/><circle class="k5" cx="298.8" cy="318.9"/><circle class="k5" cx="300.8" cy="320.4"/><circle class="k5" cx="285.5" cy="322.0"/><circle class="k5" cx="292.7" cy="323.5"/><circle class="k5" cx="296.7" cy="326.6"/><circle class="k5" cx="279.9" cy="323.5"/><circle class="k5" cx="276.8" cy="327.1"/><circle class="k5" cx="282.4" cy="327.1"/><circle class="k5" cx="280.4" cy="331.2"/><circle class="k5" cx="289.6" cy="332.7"/><circle class="k5" cx="294.7" cy="329.6"/><circle class="k5" cx="303.9" cy="331.7"/><circle class="k5" cx="310.0" cy="332.2"/><circle class="k5" cx="320.2" cy="334.2"/><circle class="k5" cx="324.3" cy="332.2"/><circle class="k6" cx="330.5" cy="327.6"/><circle class="k6" cx="331.5" cy="332.7"/><circle class="k5" cx="285.5" cy="335.8"/><circle class="k5" cx="282.4" cy="339.3"/><circle class="k5" cx="284.0" cy="341.9"/><circle class="k5" cx="292.7" cy="336.8"/><circle class="k5" cx="292.1" cy="341.9"/><circle class="k5" cx="301.9" cy="338.8"/><circle class="k5" cx="299.8" cy="343.9"/><circle class="k5" cx="304.9" cy="343.9"/><circle class="k5" cx="314.1" cy="337.8"/><circle class="k5" cx="317.2" cy="341.9"/><circle class="k5" cx="313.6" cy="344.5"/><circle class="k6" cx="324.8" cy="340.9"/><circle class="k6" cx="328.4" cy="340.9"/><circle class="k5" cx="330.5" cy="343.9"/><circle class="k5" cx="323.8" cy="346.5"/><circle class="k5" cx="289.1" cy="349.0"/><circle class="k6" cx="296.2" cy="350.1"/><circle class="k5" cx="295.2" cy="351.6"/><circle class="k5" cx="306.5" cy="348.0"/><circle class="k5" cx="307.0" cy="352.6"/><circle class="k5" cx="315.1" cy="350.6"/><circle class="k6" cx="319.2" cy="355.2"/><circle class="k5" cx="310.0" cy="357.2"/><circle class="k5" cx="302.9" cy="361.3"/><circle class="k6" cx="305.9" cy="362.3"/><circle class="k6" cx="329.4" cy="352.1"/><circle class="k6" cx="329.4" cy="359.8"/><circle class="k5" cx="329.4" cy="362.3"/><circle class="k5" cx="400.0" cy="252.3"/><circle class="k6" cx="398.9" cy="255.4"/><circle class="k6" cx="401.0" cy="259.0"/><circle class="k5" cx="389.2" cy="258.5"/><circle class="k5" cx="392.3" cy="260.5"/><circle class="k6" cx="395.4" cy="264.1"/><circle class="k5" cx="393.3" cy="270.2"/><circle class="k5" cx="398.9" cy="272.3"/><circle class="k6" cx="401.0" cy="269.2"/><circle class="k6" cx="383.6" cy="269.7"/><circle class="k6" cx="382.6" cy="272.3"/><circle class="k6" cx="387.7" cy="272.3"/><circle class="k6" cx="372.9" cy="276.3"/><circle class="k5" cx="374.9" cy="274.8"/><circle class="k5" cx="376.5" cy="278.4"/><circle class="k5" cx="372.4" cy="282.5"/><circle class="k5" cx="357.5" cy="280.4"/><circle class="k5" cx="355.0" cy="284.0"/><circle class="k6" cx="362.7" cy="282.5"/><circle class="k6" cx="361.6" cy="286.0"/><circle class="k5" cx="359.6" cy="288.1"/><circle class="k5" cx="351.9" cy="289.1"/><circle class="k6" cx="355.5" cy="291.2"/><circle class="k5" cx="352.4" cy="293.7"/><circle class="k5" cx="355.0" cy="296.3"/><circle class="k6" cx="368.3" cy="289.6"/><circle class="k6" cx="377.5" cy="288.6"/><circle class="k6" cx="378.0" cy="291.7"/><circle class="k5" cx="382.1" cy="288.1"/><circle class="k5" cx="386.2" cy="287.1"/><circle class="k6" cx="387.2" cy="292.7"/><circle class="k5" cx="380.0" cy="294.2"/><circle class="k5" cx="385.1" cy="297.3"/><circle class="k6" cx="382.1" cy="299.3"/><circle class="k6" cx="357.5" cy="300.9"/><circle class="k6" cx="348.3" cy="300.4"/><circle class="k6" cx="349.9" cy="303.4"/><circle class="k6" cx="346.3" cy="302.4"/><circle class="k6" cx="383.6" cy="303.9"/><circle class="k6" cx="397.4" cy="303.4"/><circle class="k6" cx="401.5" cy="289.1"/><circle class="k5" cx="332.5" cy="284.5"/><circle class="k5" cx="332.5" cy="299.3"/><circle class="k6" cx="332.5" cy="302.4"/><circle class="k6" cx="360.6" cy="306.5"/><circle class="k6" cx="368.8" cy="306.0"/><circle class="k6" cx="372.9" cy="305.0"/><circle class="k6" cx="417.0" cy="244.1"/><circle class="k6" cx="415.4" cy="246.5"/><circle class="k6" cx="415.0" cy="248.8"/><circle class="k5" cx="402.4" cy="251.6"/><circle class="k6" cx="403.6" cy="255.1"/><circle class="k6" cx="408.3" cy="254.3"/><circle class="k6" cx="413.8" cy="255.5"/><circle class="k5" cx="405.5" cy="257.5"/><circle class="k6" cx="402.8" cy="259.9"/><circle class="k6" cx="409.9" cy="259.1"/><circle class="k6" cx="409.5" cy="263.0"/><circle class="k6" cx="404.4" cy="263.8"/><circle class="k6" cx="406.7" cy="267.7"/><circle class="k6" cx="402.8" cy="269.3"/><circle class="k6" cx="414.2" cy="268.9"/><circle class="k5" cx="418.2" cy="271.3"/><circle class="k6" cx="420.9" cy="274.1"/><circle class="k6" cx="411.9" cy="275.6"/><circle class="k6" cx="414.6" cy="276.8"/><circle class="k5" cx="406.3" cy="278.0"/><circle class="k6" cx="408.7" cy="283.1"/><circle class="k6" cx="407.9" cy="288.2"/><circle class="k6" cx="404.4" cy="289.4"/><circle class="k6" cx="405.2" cy="294.9"/><circle class="k6" cx="412.2" cy="298.1"/><circle class="k6" cx="409.9" cy="300.5"/><circle class="k6" cx="415.0" cy="300.9"/><circle class="k6" cx="412.2" cy="304.8"/><circle class="k5" cx="406.3" cy="304.8"/><circle class="k6" cx="429.6" cy="296.5"/><circle class="k6" cx="435.5" cy="296.1"/><circle class="k6" cx="431.2" cy="299.7"/><circle class="k6" cx="436.3" cy="300.9"/><circle class="k6" cx="432.7" cy="304.0"/><circle class="k5" cx="334.6" cy="312.1"/><circle class="k5" cx="343.8" cy="311.1"/><circle class="k6" cx="349.4" cy="310.6"/><circle class="k6" cx="354.0" cy="309.0"/><circle class="k6" cx="359.6" cy="311.1"/><circle class="k5" cx="365.7" cy="310.1"/><circle class="k6" cx="370.8" cy="308.5"/><circle class="k6" cx="355.5" cy="316.2"/><circle class="k6" cx="361.1" cy="316.7"/><circle class="k6" cx="352.9" cy="319.8"/><circle class="k5" cx="367.3" cy="318.2"/><circle class="k5" cx="388.7" cy="312.1"/><circle class="k6" cx="393.3" cy="313.6"/><circle class="k6" cx="397.4" cy="308.5"/><circle class="k5" cx="395.4" cy="319.8"/><circle class="k5" cx="337.1" cy="320.8"/><circle class="k6" cx="342.2" cy="322.3"/><circle class="k5" cx="340.2" cy="326.4"/><circle class="k5" cx="339.2" cy="327.9"/><circle class="k5" cx="361.1" cy="324.4"/><circle class="k6" cx="375.9" cy="318.8"/><circle class="k6" cx="379.0" cy="323.3"/><circle class="k6" cx="384.6" cy="321.3"/><circle class="k5" cx="387.7" cy="323.3"/><circle class="k5" cx="373.4" cy="326.4"/><circle class="k5" cx="382.6" cy="328.5"/><circle class="k6" cx="350.4" cy="327.4"/><circle class="k6" cx="333.0" cy="327.4"/><circle class="k6" cx="333.0" cy="332.5"/><circle class="k5" cx="336.1" cy="334.6"/><circle class="k6" cx="342.7" cy="333.6"/><circle class="k5" cx="345.3" cy="335.6"/><circle class="k5" cx="349.4" cy="336.6"/><circle class="k6" cx="351.4" cy="332.0"/><circle class="k6" cx="360.1" cy="330.5"/><circle class="k6" cx="363.7" cy="333.6"/><circle class="k6" cx="369.8" cy="331.5"/><circle class="k6" cx="375.9" cy="335.6"/><circle class="k6" cx="379.5" cy="332.0"/><circle class="k6" cx="384.6" cy="333.1"/><circle class="k6" cx="397.4" cy="324.4"/><circle class="k5" cx="400.5" cy="323.3"/><circle class="k6" cx="400.5" cy="328.5"/><circle class="k6" cx="400.0" cy="332.5"/><circle class="k6" cx="357.0" cy="337.7"/><circle class="k5" cx="361.6" cy="340.7"/><circle class="k6" cx="353.5" cy="342.3"/><circle class="k6" cx="347.8" cy="342.3"/><circle class="k6" cx="343.8" cy="345.3"/><circle class="k6" cx="369.3" cy="341.7"/><circle class="k6" cx="373.9" cy="340.7"/><circle class="k6" cx="382.1" cy="340.7"/><circle class="k6" cx="387.2" cy="339.7"/><circle class="k6" cx="399.4" cy="337.7"/><circle class="k6" cx="396.4" cy="340.7"/><circle class="k6" cx="395.4" cy="345.3"/><circle class="k6" cx="400.5" cy="347.4"/><circle class="k5" cx="332.5" cy="343.8"/><circle class="k5" cx="339.7" cy="349.4"/><circle class="k5" cx="348.9" cy="348.9"/><circle class="k5" cx="356.5" cy="346.9"/><circle class="k5" cx="366.2" cy="346.9"/><circle class="k5" cx="364.7" cy="352.0"/><circle class="k6" cx="379.0" cy="347.9"/><circle class="k6" cx="341.2" cy="354.5"/><circle class="k5" cx="347.3" cy="354.0"/><circle class="k6" cx="345.8" cy="357.6"/><circle class="k6" cx="333.5" cy="359.1"/><circle class="k6" cx="371.3" cy="352.0"/><circle class="k5" cx="372.4" cy="355.0"/><circle class="k6" cx="374.9" cy="358.1"/><circle class="k6" cx="366.7" cy="358.6"/><circle class="k6" cx="382.6" cy="356.6"/><circle class="k6" cx="378.5" cy="361.2"/><circle class="k5" cx="369.8" cy="365.2"/><circle class="k5" cx="374.4" cy="363.7"/><circle class="k6" cx="391.8" cy="350.4"/><circle class="k5" cx="396.9" cy="350.4"/><circle class="k6" cx="392.8" cy="355.5"/><circle class="k6" cx="399.4" cy="354.0"/><circle class="k6" cx="393.3" cy="361.2"/><circle class="k6" cx="397.4" cy="364.2"/><circle class="k5" cx="383.1" cy="370.4"/><circle class="k6" cx="385.6" cy="368.3"/><circle class="k6" cx="390.2" cy="368.8"/><circle class="k6" cx="395.4" cy="370.4"/><circle class="k6" cx="373.9" cy="368.8"/><circle class="k6" cx="374.4" cy="373.4"/><circle class="k6" cx="354.0" cy="372.4"/><circle class="k6" cx="360.6" cy="374.4"/><circle class="k6" cx="388.2" cy="374.4"/><circle class="k6" cx="400.5" cy="371.4"/><circle class="k6" cx="406.7" cy="308.6"/><circle class="k6" cx="405.9" cy="311.3"/><circle class="k6" cx="434.3" cy="307.8"/><circle class="k6" cx="437.9" cy="309.4"/><circle class="k6" cx="438.3" cy="312.5"/><circle class="k6" cx="437.5" cy="316.5"/><circle class="k6" cx="435.1" cy="319.6"/><circle class="k5" cx="416.6" cy="316.5"/><circle class="k5" cx="416.6" cy="322.0"/><circle class="k5" cx="402.8" cy="323.2"/><circle class="k6" cx="408.7" cy="322.4"/><circle class="k6" cx="407.9" cy="327.1"/><circle class="k6" cx="421.7" cy="323.6"/><circle class="k6" cx="420.1" cy="327.5"/><circle class="k6" cx="415.0" cy="327.9"/><circle class="k6" cx="411.9" cy="331.8"/><circle class="k6" cx="417.0" cy="335.4"/><circle class="k6" cx="402.8" cy="333.0"/><circle class="k6" cx="406.7" cy="336.2"/><circle class="k6" cx="426.0" cy="326.3"/><circle class="k6" cx="430.0" cy="324.7"/><circle class="k6" cx="435.5" cy="327.5"/><circle class="k6" cx="428.4" cy="331.0"/><circle class="k6" cx="432.7" cy="335.0"/><circle class="k6" cx="440.2" cy="331.8"/><circle class="k6" cx="443.8" cy="331.4"/><circle class="k6" cx="437.1" cy="337.0"/><circle class="k6" cx="441.8" cy="336.2"/><circle class="k5" cx="422.5" cy="340.1"/><circle class="k6" cx="428.0" cy="337.4"/><circle class="k6" cx="430.4" cy="339.7"/><circle class="k6" cx="430.0" cy="344.1"/><circle class="k6" cx="430.4" cy="346.0"/><circle class="k6" cx="438.7" cy="344.8"/><circle class="k6" cx="444.2" cy="342.9"/><circle class="k6" cx="442.6" cy="348.8"/><circle class="k6" cx="446.1" cy="347.2"/><circle class="k6" cx="404.4" cy="344.1"/><circle class="k5" cx="403.6" cy="348.4"/><circle class="k6" cx="406.7" cy="350.4"/><circle class="k6" cx="416.6" cy="349.6"/><circle class="k6" cx="420.9" cy="349.2"/><circle class="k6" cx="425.3" cy="355.1"/><circle class="k6" cx="433.5" cy="353.5"/><circle class="k6" cx="441.0" cy="354.3"/><circle class="k6" cx="417.8" cy="357.8"/><circle class="k6" cx="424.9" cy="360.6"/><circle class="k6" cx="437.9" cy="361.4"/><circle class="k6" cx="443.0" cy="359.0"/><circle class="k6" cx="448.5" cy="363.0"/><circle class="k6" cx="445.8" cy="365.3"/><circle class="k6" cx="414.2" cy="362.6"/><circle class="k6" cx="419.7" cy="363.8"/><circle class="k6" cx="410.7" cy="366.9"/><circle class="k6" cx="424.1" cy="366.9"/><circle class="k6" cx="426.4" cy="368.5"/><circle class="k6" cx="404.4" cy="361.4"/><circle class="k6" cx="402.4" cy="358.2"/><circle class="k6" cx="445.8" cy="370.1"/><circle class="k5" cx="403.6" cy="372.4"/><circle class="k6" cx="407.5" cy="373.2"/><circle class="k6" cx="414.2" cy="373.2"/><circle class="k6" cx="428.8" cy="375.2"/><circle class="k6" cx="438.7" cy="374.8"/><circle class="k6" cx="443.0" cy="375.6"/><circle class="k5" cx="355.0" cy="377.5"/><circle class="k6" cx="362.7" cy="378.0"/><circle class="k6" cx="369.8" cy="378.5"/><circle class="k6" cx="380.0" cy="379.0"/><circle class="k6" cx="383.6" cy="381.1"/><circle class="k5" cx="365.7" cy="383.1"/><circle class="k6" cx="372.4" cy="383.6"/><circle class="k6" cx="377.5" cy="384.7"/><circle class="k6" cx="363.7" cy="387.2"/><circle class="k6" cx="397.4" cy="381.1"/><circle class="k6" cx="400.5" cy="387.2"/><circle class="k6" cx="392.3" cy="390.3"/><circle class="k6" cx="398.4" cy="390.8"/><circle class="k5" cx="355.0" cy="395.4"/><circle class="k5" cx="358.6" cy="395.9"/><circle class="k5" cx="365.7" cy="393.9"/><circle class="k5" cx="370.8" cy="395.4"/><circle class="k5" cx="362.7" cy="399.5"/><circle class="k5" cx="367.3" cy="400.5"/><circle class="k5" cx="363.7" cy="402.5"/><circle class="k6" cx="370.3" cy="398.5"/><circle class="k6" cx="372.9" cy="404.1"/><circle class="k6" cx="363.7" cy="407.7"/><circle class="k5" cx="366.7" cy="410.2"/><circle class="k6" cx="370.8" cy="409.7"/><circle class="k6" cx="384.6" cy="397.9"/><circle class="k5" cx="382.6" cy="404.6"/><circle class="k6" cx="390.2" cy="404.6"/><circle class="k6" cx="393.3" cy="400.0"/><circle class="k6" cx="397.4" cy="400.5"/><circle class="k6" cx="400.0" cy="395.4"/><circle class="k6" cx="400.5" cy="404.6"/><circle class="k6" cx="387.7" cy="408.7"/><circle class="k6" cx="394.3" cy="408.7"/><circle class="k6" cx="392.3" cy="411.2"/><circle class="k6" cx="404.0" cy="380.2"/><circle class="k5" cx="412.2" cy="380.2"/><circle class="k6" cx="420.5" cy="381.7"/><circle class="k6" cx="409.5" cy="384.5"/><circle class="k6" cx="402.8" cy="387.2"/><circle class="k6" cx="406.7" cy="390.8"/><circle class="k6" cx="409.9" cy="391.2"/><circle class="k6" cx="409.9" cy="394.7"/><circle class="k6" cx="405.2" cy="398.3"/><circle class="k6" cx="402.4" cy="405.4"/><circle class="k6" cx="428.8" cy="377.4"/><circle class="k6" cx="435.1" cy="380.2"/><circle class="k5" cx="437.5" cy="382.1"/><circle class="k6" cx="443.0" cy="381.7"/><circle class="k6" cx="446.5" cy="382.9"/><circle class="k6" cx="449.3" cy="383.3"/><circle class="k6" cx="439.8" cy="388.0"/><circle class="k6" cx="438.7" cy="391.6"/><circle class="k6" cx="445.4" cy="390.4"/><circle class="k6" cx="445.0" cy="393.6"/><circle class="k6" cx="424.1" cy="391.6"/><circle class="k5" cx="428.4" cy="396.7"/><circle class="k6" cx="432.0" cy="396.7"/><circle class="k5" cx="422.9" cy="400.3"/><circle class="k6" cx="428.0" cy="403.4"/><circle class="k6" cx="422.5" cy="404.6"/><circle class="k6" cx="437.1" cy="402.2"/><circle class="k5" cx="439.4" cy="399.5"/><circle class="k6" cx="444.2" cy="397.5"/><circle class="k6" cx="445.8" cy="403.0"/><circle class="k6" cx="448.5" cy="406.2"/><circle class="k6" cx="444.6" cy="407.0"/><circle class="k6" cx="432.0" cy="410.5"/><circle class="k6" cx="435.9" cy="412.1"/><circle class="k6" cx="441.8" cy="410.9"/><circle class="k6" cx="444.6" cy="411.7"/><circle class="k6" cx="434.3" cy="415.6"/><circle class="k6" cx="438.3" cy="416.4"/><circle class="k6" cx="438.3" cy="418.8"/></g><g class="sc sc2" fill-opacity="0.9"><circle class="k12" cx="525.4" cy="280.9"/><use href="#xm" class="k13" x="524.3" y="284.5" transform="translate(524.3 284.5) scale(1.08) translate(-524.3 -284.5)"/><use href="#xm" class="k14" x="536.6" y="280.9" transform="translate(536.6 280.9) scale(1.08) translate(-536.6 -280.9)"/><circle class="k13" cx="546.3" cy="278.4"/><use href="#xm" class="k14" x="548.9" y="282.0" transform="translate(548.9 282.0) scale(1.08) translate(-548.9 -282.0)"/><circle class="k14" cx="552.4" cy="280.4"/><circle class="k14" cx="550.4" cy="290.1"/><circle class="k14" cx="548.4" cy="291.7"/><use href="#xm" class="k13" x="543.2" y="293.2" transform="translate(543.2 293.2) scale(1.08) translate(-543.2 -293.2)"/><use href="#xm" class="k13" x="546.8" y="294.2" transform="translate(546.8 294.2) scale(1.08) translate(-546.8 -294.2)"/><use href="#xm" class="k13" x="539.7" y="297.3" transform="translate(539.7 297.3) scale(1.08) translate(-539.7 -297.3)"/><use href="#xm" class="k14" x="526.4" y="292.7" transform="translate(526.4 292.7) scale(1.08) translate(-526.4 -292.7)"/><use href="#xm" class="k14" x="530.0" y="296.3" transform="translate(530.0 296.3) scale(1.08) translate(-530.0 -296.3)"/><use href="#xm" class="k13" x="513.6" y="300.4" transform="translate(513.6 300.4) scale(1.08) translate(-513.6 -300.4)"/><use href="#xm" class="k13" x="511.1" y="305.0" transform="translate(511.1 305.0) scale(1.08) translate(-511.1 -305.0)"/><use href="#xm" class="k13" x="515.7" y="306.5" transform="translate(515.7 306.5) scale(1.08) translate(-515.7 -306.5)"/><use href="#xm" class="k14" x="527.9" y="303.4" transform="translate(527.9 303.4) scale(1.08) translate(-527.9 -303.4)"/><use href="#xm" class="k12" x="533.0" y="304.4" transform="translate(533.0 304.4) scale(1.08) translate(-533.0 -304.4)"/><use href="#xm" class="k14" x="548.4" y="305.0" transform="translate(548.4 305.0) scale(1.08) translate(-548.4 -305.0)"/><use href="#xm" class="k12" x="520.8" y="309.7" transform="translate(520.8 309.7) scale(1.08) translate(-520.8 -309.7)"/><circle class="k13" cx="551.9" cy="309.2"/><use href="#xm" class="k14" x="508.0" y="315.8" transform="translate(508.0 315.8) scale(1.08) translate(-508.0 -315.8)"/><use href="#xm" class="k14" x="513.1" y="315.8" transform="translate(513.1 315.8) scale(1.08) translate(-513.1 -315.8)"/><use href="#xm" class="k13" x="508.5" y="320.4" transform="translate(508.5 320.4) scale(1.08) translate(-508.5 -320.4)"/><circle class="k14" cx="551.9" cy="316.9"/><use href="#xm" class="k13" x="532.0" y="320.4" transform="translate(532.0 320.4) scale(1.08) translate(-532.0 -320.4)"/><use href="#xm" class="k13" x="527.9" y="326.1" transform="translate(527.9 326.1) scale(1.08) translate(-527.9 -326.1)"/><use href="#xm" class="k14" x="525.9" y="330.1" transform="translate(525.9 330.1) scale(1.08) translate(-525.9 -330.1)"/><use href="#xm" class="k14" x="525.9" y="334.7" transform="translate(525.9 334.7) scale(1.08) translate(-525.9 -334.7)"/><use href="#xm" class="k12" x="512.6" y="329.1" transform="translate(512.6 329.1) scale(1.08) translate(-512.6 -329.1)"/><use href="#xm" class="k13" x="513.6" y="330.1" transform="translate(513.6 330.1) scale(1.08) translate(-513.6 -330.1)"/><use href="#xm" class="k12" x="548.4" y="321.5" transform="translate(548.4 321.5) scale(1.08) translate(-548.4 -321.5)"/><use href="#xm" class="k12" x="548.4" y="327.1" transform="translate(548.4 327.1) scale(1.08) translate(-548.4 -327.1)"/><use href="#xm" class="k13" x="513.6" y="339.9" transform="translate(513.6 339.9) scale(1.08) translate(-513.6 -339.9)"/><use href="#xm" class="k13" x="517.7" y="339.9" transform="translate(517.7 339.9) scale(1.08) translate(-517.7 -339.9)"/><use href="#xm" class="k13" x="522.3" y="340.9" transform="translate(522.3 340.9) scale(1.08) translate(-522.3 -340.9)"/><use href="#xm" class="k12" x="533.0" y="338.3" transform="translate(533.0 338.3) scale(1.08) translate(-533.0 -338.3)"/><circle class="k13" cx="544.3" cy="336.3"/><use href="#xm" class="k13" x="545.8" y="337.8" transform="translate(545.8 337.8) scale(1.08) translate(-545.8 -337.8)"/><use href="#xm" class="k14" x="548.9" y="336.8" transform="translate(548.9 336.8) scale(1.08) translate(-548.9 -336.8)"/><use href="#xm" class="k13" x="548.4" y="341.9" transform="translate(548.4 341.9) scale(1.08) translate(-548.4 -341.9)"/><use href="#xm" class="k14" x="544.3" y="345.5" transform="translate(544.3 345.5) scale(1.08) translate(-544.3 -345.5)"/><circle class="k12" cx="531.0" cy="345.5"/><use href="#xm" class="k13" x="526.9" y="347.0" transform="translate(526.9 347.0) scale(1.08) translate(-526.9 -347.0)"/><use href="#xm" class="k13" x="526.4" y="351.6" transform="translate(526.4 351.6) scale(1.08) translate(-526.4 -351.6)"/><use href="#xm" class="k14" x="535.1" y="350.6" transform="translate(535.1 350.6) scale(1.08) translate(-535.1 -350.6)"/><circle class="k12" cx="550.4" cy="355.2"/><use href="#xm" class="k13" x="534.0" y="361.3" transform="translate(534.0 361.3) scale(1.08) translate(-534.0 -361.3)"/><use href="#xm" class="k14" x="620.9" y="259.0" transform="translate(620.9 259.0) scale(1.08) translate(-620.9 -259.0)"/><use href="#xm" class="k14" x="615.8" y="269.7" transform="translate(615.8 269.7) scale(1.08) translate(-615.8 -269.7)"/><circle class="k12" cx="619.4" cy="272.3"/><use href="#xm" class="k13" x="623.5" y="269.7" transform="translate(623.5 269.7) scale(1.08) translate(-623.5 -269.7)"/><circle class="k13" cx="557.6" cy="286.6"/><circle class="k14" cx="560.1" cy="288.6"/><circle class="k13" cx="585.7" cy="285.5"/><circle class="k14" cx="593.3" cy="284.0"/><use href="#xm" class="k13" x="584.1" y="289.1" transform="translate(584.1 289.1) scale(1.08) translate(-584.1 -289.1)"/><use href="#xm" class="k14" x="591.3" y="288.1" transform="translate(591.3 288.1) scale(1.08) translate(-591.3 -288.1)"/><use href="#xm" class="k14" x="584.6" y="294.2" transform="translate(584.6 294.2) scale(1.08) translate(-584.6 -294.2)"/><circle class="k12" cx="609.2" cy="287.6"/><circle class="k14" cx="609.2" cy="291.7"/><use href="#xm" class="k13" x="616.8" y="287.6" transform="translate(616.8 287.6) scale(1.08) translate(-616.8 -287.6)"/><use href="#xm" class="k13" x="616.3" y="297.8" transform="translate(616.3 297.8) scale(1.08) translate(-616.3 -297.8)"/><circle class="k14" cx="580.0" cy="300.9"/><circle class="k14" cx="583.1" cy="302.9"/><circle class="k14" cx="579.5" cy="305.5"/><circle class="k14" cx="599.5" cy="306.0"/><circle class="k12" cx="645.6" cy="247.9"/><circle class="k14" cx="634.6" cy="255.0"/><circle class="k14" cx="637.3" cy="258.9"/><use href="#xm" class="k14" x="648.6" y="271.2" transform="translate(648.6 271.2) scale(1.08) translate(-648.6 -271.2)"/><circle class="k14" cx="638.1" cy="275.1"/><use href="#xm" class="k13" x="637.3" y="278.2" transform="translate(637.3 278.2) scale(1.08) translate(-637.3 -278.2)"/><circle class="k12" cx="635.5" cy="289.1"/><circle class="k14" cx="635.9" cy="294.8"/><circle class="k14" cx="641.2" cy="300.1"/><use href="#xm" class="k14" x="637.7" y="305.3" transform="translate(637.7 305.3) scale(1.08) translate(-637.7 -305.3)"/><use href="#xm" class="k13" x="574.9" y="311.1" transform="translate(574.9 311.1) scale(1.08) translate(-574.9 -311.1)"/><use href="#xm" class="k13" x="596.9" y="310.1" transform="translate(596.9 310.1) scale(1.08) translate(-596.9 -310.1)"/><use href="#xm" class="k12" x="587.7" y="314.2" transform="translate(587.7 314.2) scale(1.08) translate(-587.7 -314.2)"/><circle class="k14" cx="592.3" cy="316.7"/><use href="#xm" class="k14" x="598.4" y="318.2" transform="translate(598.4 318.2) scale(1.08) translate(-598.4 -318.2)"/><use href="#xm" class="k14" x="619.9" y="311.6" transform="translate(619.9 311.6) scale(1.08) translate(-619.9 -311.6)"/><use href="#xm" class="k14" x="624.5" y="319.8" transform="translate(624.5 319.8) scale(1.08) translate(-624.5 -319.8)"/><use href="#xm" class="k13" x="606.1" y="323.9" transform="translate(606.1 323.9) scale(1.08) translate(-606.1 -323.9)"/><circle class="k14" cx="562.7" cy="327.9"/><use href="#xm" class="k13" x="570.3" y="327.9" transform="translate(570.3 327.9) scale(1.08) translate(-570.3 -327.9)"/><use href="#xm" class="k14" x="572.9" y="327.4" transform="translate(572.9 327.4) scale(1.08) translate(-572.9 -327.4)"/><use href="#xm" class="k12" x="564.2" y="334.1" transform="translate(564.2 334.1) scale(1.08) translate(-564.2 -334.1)"/><use href="#xm" class="k13" x="562.2" y="338.2" transform="translate(562.2 338.2) scale(1.08) translate(-562.2 -338.2)"/><circle class="k12" cx="559.6" cy="340.7"/><use href="#xm" class="k12" x="577.0" y="335.6" transform="translate(577.0 335.6) scale(1.08) translate(-577.0 -335.6)"/><use href="#xm" class="k12" x="593.3" y="340.7" transform="translate(593.3 340.7) scale(1.08) translate(-593.3 -340.7)"/><circle class="k12" cx="574.9" cy="345.3"/><circle class="k12" cx="577.0" cy="352.5"/><use href="#xm" class="k12" x="578.5" y="355.0" transform="translate(578.5 355.0) scale(1.08) translate(-578.5 -355.0)"/><use href="#xm" class="k12" x="603.0" y="355.5" transform="translate(603.0 355.5) scale(1.08) translate(-603.0 -355.5)"/><circle class="k12" cx="601.0" cy="362.2"/><circle class="k13" cx="608.6" cy="361.2"/><circle class="k13" cx="624.5" cy="353.5"/><use href="#xm" class="k13" x="560.6" y="362.2" transform="translate(560.6 362.2) scale(1.08) translate(-560.6 -362.2)"/><circle class="k14" cx="631.6" cy="309.2"/><use href="#xm" class="k14" x="638.1" y="307.4" transform="translate(638.1 307.4) scale(1.08) translate(-638.1 -307.4)"/><circle class="k13" cx="667.9" cy="309.6"/><use href="#xm" class="k14" x="647.8" y="317.1" transform="translate(647.8 317.1) scale(1.08) translate(-647.8 -317.1)"/><circle class="k12" cx="629.4" cy="325.0"/><circle class="k13" cx="648.6" cy="323.6"/><circle class="k13" cx="653.0" cy="323.6"/><circle class="k14" cx="651.3" cy="327.1"/><circle class="k14" cx="658.7" cy="324.5"/><circle class="k14" cx="632.9" cy="333.3"/><circle class="k13" cx="638.1" cy="336.3"/><circle class="k12" cx="631.6" cy="338.5"/><circle class="k14" cx="643.0" cy="332.0"/><use href="#xm" class="k13" x="653.9" y="339.8" transform="translate(653.9 339.8) scale(1.08) translate(-653.9 -339.8)"/><circle class="k13" cx="660.9" cy="339.4"/><circle class="k12" cx="661.3" cy="343.8"/><circle class="k14" cx="665.7" cy="335.5"/><circle class="k12" cx="674.0" cy="331.5"/><circle class="k13" cx="669.7" cy="344.7"/><use href="#xm" class="k13" x="674.9" y="342.9" transform="translate(674.9 342.9) scale(1.08) translate(-674.9 -342.9)"/><circle class="k14" cx="673.6" cy="348.6"/><use href="#xm" class="k12" x="634.2" y="347.7" transform="translate(634.2 347.7) scale(1.08) translate(-634.2 -347.7)"/><circle class="k13" cx="637.7" cy="350.4"/><circle class="k14" cx="628.1" cy="355.2"/><circle class="k14" cx="652.2" cy="349.0"/><circle class="k12" cx="648.6" cy="357.8"/><circle class="k14" cx="645.6" cy="362.6"/><circle class="k14" cx="650.8" cy="364.4"/><circle class="k14" cx="676.7" cy="364.8"/><circle class="k12" cx="676.7" cy="370.5"/><circle class="k13" cx="674.9" cy="375.8"/><circle class="k14" cx="638.6" cy="373.6"/><circle class="k12" cx="612.7" cy="382.4"/><circle class="k12" cx="629.5" cy="382.4"/><circle class="k13" cx="634.6" cy="380.2"/><circle class="k14" cx="634.6" cy="385.4"/><circle class="k13" cx="630.3" cy="399.2"/><circle class="k14" cx="629.5" cy="402.9"/><circle class="k13" cx="629.5" cy="405.1"/><circle class="k14" cx="600.3" cy="407.3"/><circle class="k14" cx="658.7" cy="403.6"/><use href="#xm" class="k13" x="668.2" y="381.7" transform="translate(668.2 381.7) scale(1.08) translate(-668.2 -381.7)"/><circle class="k14" cx="669.7" cy="390.5"/><circle class="k14" cx="675.5" cy="393.4"/><circle class="k14" cx="674.1" cy="411.6"/></g><g class="sc sc2" fill-opacity="1"><use href="#xm" class="k5" x="60.3" y="521.9" transform="translate(60.3 521.9) scale(1.08) translate(-60.3 -521.9)"/><circle class="k5" cx="62.9" cy="519.9"/><use href="#xm" class="k5" x="63.9" y="529.0" transform="translate(63.9 529.0) scale(1.08) translate(-63.9 -529.0)"/><use href="#xm" class="k5" x="72.1" y="530.6" transform="translate(72.1 530.6) scale(1.08) translate(-72.1 -530.6)"/><use href="#xm" class="k5" x="80.8" y="530.1" transform="translate(80.8 530.1) scale(1.08) translate(-80.8 -530.1)"/><circle class="k5" cx="85.4" cy="519.9"/><use href="#xm" class="k5" x="87.4" y="516.3" transform="translate(87.4 516.3) scale(1.08) translate(-87.4 -516.3)"/><use href="#xm" class="k5" x="56.7" y="538.2" transform="translate(56.7 538.2) scale(1.08) translate(-56.7 -538.2)"/><use href="#xm" class="k5" x="64.9" y="536.7" transform="translate(64.9 536.7) scale(1.08) translate(-64.9 -536.7)"/><use href="#xm" class="k5" x="68.5" y="536.7" transform="translate(68.5 536.7) scale(1.08) translate(-68.5 -536.7)"/><use href="#xm" class="k5" x="53.2" y="544.4" transform="translate(53.2 544.4) scale(1.08) translate(-53.2 -544.4)"/><use href="#xm" class="k5" x="62.9" y="545.9" transform="translate(62.9 545.9) scale(1.08) translate(-62.9 -545.9)"/><use href="#xm" class="k5" x="69.0" y="552.7" transform="translate(69.0 552.7) scale(1.08) translate(-69.0 -552.7)"/><use href="#xm" class="k5" x="61.3" y="559.8" transform="translate(61.3 559.8) scale(1.08) translate(-61.3 -559.8)"/><use href="#xm" class="k5" x="65.4" y="562.9" transform="translate(65.4 562.9) scale(1.08) translate(-65.4 -562.9)"/><use href="#xm" class="k5" x="46.5" y="556.8" transform="translate(46.5 556.8) scale(1.08) translate(-46.5 -556.8)"/><use href="#xm" class="k5" x="51.1" y="563.4" transform="translate(51.1 563.4) scale(1.08) translate(-51.1 -563.4)"/><use href="#xm" class="k5" x="49.1" y="567.0" transform="translate(49.1 567.0) scale(1.08) translate(-49.1 -567.0)"/><use href="#xm" class="k5" x="52.1" y="567.0" transform="translate(52.1 567.0) scale(1.08) translate(-52.1 -567.0)"/><use href="#xm" class="k5" x="63.4" y="570.5" transform="translate(63.4 570.5) scale(1.08) translate(-63.4 -570.5)"/><use href="#xm" class="k5" x="62.9" y="573.6" transform="translate(62.9 573.6) scale(1.08) translate(-62.9 -573.6)"/><use href="#xm" class="k5" x="55.7" y="576.2" transform="translate(55.7 576.2) scale(1.08) translate(-55.7 -576.2)"/><use href="#xm" class="k5" x="57.8" y="577.2" transform="translate(57.8 577.2) scale(1.08) translate(-57.8 -577.2)"/><use href="#xm" class="k5" x="64.9" y="582.8" transform="translate(64.9 582.8) scale(1.08) translate(-64.9 -582.8)"/><circle class="k5" cx="64.9" cy="586.9"/><use href="#xm" class="k5" x="72.6" y="586.9" transform="translate(72.6 586.9) scale(1.08) translate(-72.6 -586.9)"/><use href="#xm" class="k5" x="83.3" y="580.8" transform="translate(83.3 580.8) scale(1.08) translate(-83.3 -580.8)"/><use href="#xm" class="k5" x="71.0" y="598.1" transform="translate(71.0 598.1) scale(1.08) translate(-71.0 -598.1)"/><circle class="k5" cx="75.1" cy="599.2"/><circle class="k5" cx="90.0" cy="553.2"/><circle class="k5" cx="90.0" cy="559.3"/><use href="#xm" class="k5" x="88.9" y="570.5" transform="translate(88.9 570.5) scale(1.08) translate(-88.9 -570.5)"/><use href="#xm" class="k5" x="91.5" y="575.7" transform="translate(91.5 575.7) scale(1.08) translate(-91.5 -575.7)"/><use href="#xm" class="k5" x="128.8" y="522.4" transform="translate(128.8 522.4) scale(1.08) translate(-128.8 -522.4)"/><use href="#xm" class="k5" x="132.4" y="519.3" transform="translate(132.4 519.3) scale(1.08) translate(-132.4 -519.3)"/><use href="#xm" class="k5" x="141.0" y="518.8" transform="translate(141.0 518.8) scale(1.08) translate(-141.0 -518.8)"/><use href="#xm" class="k6" x="151.3" y="524.5" transform="translate(151.3 524.5) scale(1.08) translate(-151.3 -524.5)"/><use href="#xm" class="k6" x="153.8" y="533.6" transform="translate(153.8 533.6) scale(1.08) translate(-153.8 -533.6)"/><use href="#xm" class="k5" x="123.7" y="532.6" transform="translate(123.7 532.6) scale(1.08) translate(-123.7 -532.6)"/><use href="#xm" class="k5" x="117.0" y="541.3" transform="translate(117.0 541.3) scale(1.08) translate(-117.0 -541.3)"/><use href="#xm" class="k5" x="117.5" y="543.9" transform="translate(117.5 543.9) scale(1.08) translate(-117.5 -543.9)"/><circle class="k6" cx="141.6" cy="542.3"/><circle class="k5" cx="103.8" cy="548.0"/><use href="#xm" class="k6" x="157.4" y="548.0" transform="translate(157.4 548.0) scale(1.08) translate(-157.4 -548.0)"/><circle class="k6" cx="185.2" cy="482.7"/><use href="#xm" class="k6" x="184.2" y="486.3" transform="translate(184.2 486.3) scale(1.08) translate(-184.2 -486.3)"/><circle class="k6" cx="178.6" cy="499.6"/><use href="#xm" class="k6" x="122.1" y="555.7" transform="translate(122.1 555.7) scale(1.08) translate(-122.1 -555.7)"/><use href="#xm" class="k5" x="109.9" y="563.4" transform="translate(109.9 563.4) scale(1.08) translate(-109.9 -563.4)"/><circle class="k5" cx="120.6" cy="568.5"/><use href="#xm" class="k5" x="114.5" y="572.1" transform="translate(114.5 572.1) scale(1.08) translate(-114.5 -572.1)"/><use href="#xm" class="k5" x="99.7" y="575.1" transform="translate(99.7 575.1) scale(1.08) translate(-99.7 -575.1)"/><circle class="k5" cx="93.5" cy="577.7"/><use href="#xm" class="k5" x="130.8" y="577.2" transform="translate(130.8 577.2) scale(1.08) translate(-130.8 -577.2)"/><use href="#xm" class="k5" x="108.3" y="584.3" transform="translate(108.3 584.3) scale(1.08) translate(-108.3 -584.3)"/><use href="#xm" class="k5" x="108.9" y="586.4" transform="translate(108.9 586.4) scale(1.08) translate(-108.9 -586.4)"/><circle class="k6" cx="150.8" cy="577.2"/><use href="#xm" class="k6" x="161.5" y="590.0" transform="translate(161.5 590.0) scale(1.08) translate(-161.5 -590.0)"/><use href="#xm" class="k6" x="146.2" y="597.1" transform="translate(146.2 597.1) scale(1.08) translate(-146.2 -597.1)"/><use href="#xm" class="k6" x="139.0" y="601.2" transform="translate(139.0 601.2) scale(1.08) translate(-139.0 -601.2)"/><circle class="k6" cx="143.1" cy="601.7"/><circle class="k6" cx="158.4" cy="605.8"/><use href="#xm" class="k6" x="206.7" y="553.3" transform="translate(206.7 553.3) scale(1.08) translate(-206.7 -553.3)"/><use href="#xm" class="k6" x="195.9" y="574.2" transform="translate(195.9 574.2) scale(1.08) translate(-195.9 -574.2)"/><circle class="k6" cx="179.1" cy="598.2"/><use href="#xm" class="k6" x="179.6" y="603.9" transform="translate(179.6 603.9) scale(1.08) translate(-179.6 -603.9)"/><circle class="k6" cx="190.3" cy="604.9"/><circle class="k6" cx="176.0" cy="609.7"/><circle class="k6" cx="217.6" cy="619.9"/><use href="#xm" class="k6" x="162.1" y="646.2" transform="translate(162.1 646.2) scale(1.08) translate(-162.1 -646.2)"/><use href="#xm" class="k6" x="197.2" y="641.8" transform="translate(197.2 641.8) scale(1.08) translate(-197.2 -641.8)"/><use href="#xm" class="k6" x="203.8" y="647.6" transform="translate(203.8 647.6) scale(1.08) translate(-203.8 -647.6)"/><use href="#xm" class="k6" x="210.3" y="647.6" transform="translate(210.3 647.6) scale(1.08) translate(-210.3 -647.6)"/></g><rect x="51.1" y="571.9" width="9.2" height="9.2" fill="none" stroke="#000" stroke-width="1.5"/><text x="33.2" y="581.3" font-size="12.5" fill="#000">P1</text><rect x="41.6" y="551.9" width="9.2" height="9.2" fill="none" stroke="#000" stroke-width="1.5"/><text x="24" y="561.4" font-size="12.5" fill="#000">P2</text><rect x="110.1" y="567.2" width="9.2" height="9.2" fill="none" stroke="#000" stroke-width="1.5"/><text x="92.5" y="577.7" font-size="12.5" fill="#000">P3</text><rect x="137.5" y="537.2" width="9.2" height="9.2" fill="none" stroke="#000" stroke-width="1.5"/><text x="120.1" y="547.4" font-size="12.5" fill="#000">P4</text><rect x="181.1" y="477.6" width="9.2" height="9.2" fill="none" stroke="#000" stroke-width="1.5"/><text x="162.7" y="487.8" font-size="12.5" fill="#000">P5</text><rect x="94.4" y="128.4" width="56.0" height="64.0" rx="2" fill="#fff" fill-opacity="0.85" stroke="#d6d6d6" stroke-width="0.9"/><circle cx="102.4" cy="135.7" r="2.8" fill="#66c2a5" stroke="#222" stroke-width="0.7"/><text x="113" y="139.4" font-size="10.3" letter-spacing="0" fill="#1a1a1a">UPenn</text><circle cx="102.4" cy="148" r="2.8" fill="#fc8d62" stroke="#222" stroke-width="0.7"/><text x="113" y="151.7" font-size="10.3" letter-spacing="0" fill="#1a1a1a">TCGA</text><circle cx="102.4" cy="160.2" r="2.8" fill="#8da0cb" stroke="#222" stroke-width="0.7"/><text x="113" y="163.9" font-size="10.3" letter-spacing="0" fill="#1a1a1a">WCM</text><circle cx="102.4" cy="172.9" r="2.8" fill="#e78ac3" stroke="#222" stroke-width="0.7"/><text x="113" y="176.6" font-size="10.3" letter-spacing="0" fill="#1a1a1a">UTurku</text><circle cx="102.4" cy="185" r="2.8" fill="#a6d854" stroke="#222" stroke-width="0.7"/><text x="113" y="188.7" font-size="10.3" letter-spacing="0" fill="#1a1a1a">MS</text><rect x="256.5" y="127.6" width="55.5" height="64.4" rx="2" fill="#fff" fill-opacity="0.85" stroke="#d6d6d6" stroke-width="0.9"/><circle cx="265" cy="134.3" r="2.8" fill="#66c2a5" stroke="#222" stroke-width="0.7"/><text x="275" y="138.0" font-size="10.3" letter-spacing="0" fill="#1a1a1a">UPenn</text><circle cx="265" cy="147.1" r="2.8" fill="#fc8d62" stroke="#222" stroke-width="0.7"/><text x="275" y="150.8" font-size="10.3" letter-spacing="0" fill="#1a1a1a">TCGA</text><circle cx="265" cy="159.5" r="2.8" fill="#8da0cb" stroke="#222" stroke-width="0.7"/><text x="275" y="163.2" font-size="10.3" letter-spacing="0" fill="#1a1a1a">WCM</text><circle cx="265" cy="171.9" r="2.8" fill="#e78ac3" stroke="#222" stroke-width="0.7"/><text x="275" y="175.6" font-size="10.3" letter-spacing="0" fill="#1a1a1a">UTurku</text><circle cx="265" cy="184.4" r="2.8" fill="#a6d854" stroke="#222" stroke-width="0.7"/><text x="275" y="188.1" font-size="10.3" letter-spacing="0" fill="#1a1a1a">MS</text><rect x="487" y="152.8" width="77.10000000000002" height="39.19999999999999" rx="2" fill="#fff" fill-opacity="0.85" stroke="#d6d6d6" stroke-width="0.9"/><text x="506" y="163.2" font-size="10.3" letter-spacing="0.35" fill="#1a1a1a">Histotyping</text><circle cx="496" cy="171.9" r="3.1" fill="#5f98c6"/><text x="506" y="175.6" font-size="10.3" letter-spacing="0.35" fill="#1a1a1a">Low-risk</text><circle cx="496" cy="184.4" r="3.1" fill="#e94849"/><text x="506" y="188.1" font-size="10.3" letter-spacing="0.35" fill="#1a1a1a">High-risk</text><rect x="25.6" y="364.4" width="92.0" height="63.900000000000034" rx="2" fill="#fff" fill-opacity="0.85" stroke="#d6d6d6" stroke-width="0.9"/><circle cx="33.8" cy="371.7" r="3.1" fill="#3796af"/><text x="43.9" y="375.4" font-size="10.3" letter-spacing="0.35" fill="#1a1a1a">Grade group 1</text><circle cx="33.8" cy="384.2" r="3.1" fill="#96d29b"/><text x="43.9" y="387.9" font-size="10.3" letter-spacing="0.35" fill="#1a1a1a">Grade group 2</text><circle cx="33.8" cy="396.7" r="3.1" fill="#e6f5a0"/><text x="43.9" y="400.4" font-size="10.3" letter-spacing="0.35" fill="#1a1a1a">Grade group 3</text><circle cx="33.8" cy="409.2" r="3.1" fill="#fede8c"/><text x="43.9" y="412.9" font-size="10.3" letter-spacing="0.35" fill="#1a1a1a">Grade group 4</text><circle cx="33.8" cy="421.7" r="3.1" fill="#fc9655"/><text x="43.9" y="425.4" font-size="10.3" letter-spacing="0.35" fill="#1a1a1a">Grade group 5</text><rect x="256.5" y="389.2" width="85.69999999999999" height="39.0" rx="2" fill="#fff" fill-opacity="0.85" stroke="#d6d6d6" stroke-width="0.9"/><text x="275.3" y="399.7" font-size="10.3" letter-spacing="0.35" fill="#1a1a1a">Histotyping+</text><circle cx="265" cy="408.8" r="3.1" fill="#5f98c6"/><text x="275.3" y="412.5" font-size="10.3" letter-spacing="0.35" fill="#1a1a1a">Low-risk</text><circle cx="265" cy="421.1" r="3.1" fill="#e94849"/><text x="275.3" y="424.8" font-size="10.3" letter-spacing="0.35" fill="#1a1a1a">High-risk</text><rect x="487.6" y="364.4" width="110.0" height="64.0" rx="2" fill="#fff" fill-opacity="0.85" stroke="#d6d6d6" stroke-width="0.9"/><circle cx="496" cy="371" r="3.1" fill="#4daf4a"/><text x="506" y="374.7" font-size="10.3" letter-spacing="0.55" fill="#1a1a1a">Decipher low</text><circle cx="496" cy="383.8" r="3.1" fill="#984ea3"/><text x="506" y="387.5" font-size="10.3" letter-spacing="0.55" fill="#1a1a1a">Decipher interm.</text><circle cx="496" cy="396.2" r="3.1" fill="#ff7f00"/><text x="506" y="399.9" font-size="10.3" letter-spacing="0.55" fill="#1a1a1a">Decipher high</text><circle cx="496" cy="408.6" r="3.1" fill="#333"/><text x="506" y="412.3" font-size="10.3" letter-spacing="0.55" fill="#1a1a1a">Histotyping+ low</text><path d="M494.4 424.6L496.0 423.0L497.6 424.6L499.2 423.0L497.6 421.4L499.2 419.8L497.6 418.2L496.0 419.8L494.4 418.2L492.8 419.8L494.4 421.4L492.8 423.0Z" fill="#333"/><text x="506" y="425.1" font-size="10.3" letter-spacing="0.55" fill="#1a1a1a">Histotyping+ high</text><rect x="25.6" y="613.3" width="121.9" height="51.90000000000009" rx="2" fill="#fff" fill-opacity="0.85" stroke="#d6d6d6" stroke-width="0.9"/><circle cx="33.6" cy="620.2" r="3.1" fill="#5f98c6"/><text x="43.7" y="623.9" font-size="10.3" letter-spacing="0.35" fill="#1a1a1a">Histotyping low</text><circle cx="33.6" cy="632.6" r="3.1" fill="#e94849"/><text x="43.7" y="636.3" font-size="10.3" letter-spacing="0.35" fill="#1a1a1a">Histotyping high</text><circle cx="33.6" cy="645" r="3.1" fill="#333"/><text x="43.7" y="648.7" font-size="10.3" letter-spacing="0.35" fill="#1a1a1a">BCR-free > 10 years</text><path d="M32.0 660.6L33.6 659.0L35.2 660.6L36.8 659.0L35.2 657.4L36.8 655.8L35.2 654.2L33.6 655.8L32.0 654.2L30.4 655.8L32.0 657.4L30.4 659.0Z" fill="#333"/><text x="43.7" y="661.1" font-size="10.3" letter-spacing="0.35" fill="#1a1a1a">BCR-free < 1 year</text>
<text class="cap" transform="translate(110 231.6) scale(1.12 1)" text-anchor="middle" font-size="14.5" letter-spacing="0">a</text><text class="cap" transform="translate(342 231.6) scale(1.12 1)" text-anchor="middle" font-size="14.5" letter-spacing="0">b</text><text class="cap" transform="translate(572.5 231.6) scale(1.12 1)" text-anchor="middle" font-size="14.5" letter-spacing="0">c</text><text class="cap" transform="translate(111 468.1) scale(1.12 1)" text-anchor="middle" font-size="14.5" letter-spacing="0">d</text><text class="cap" transform="translate(342 468.1) scale(1.12 1)" text-anchor="middle" font-size="14.5" letter-spacing="0">e</text><text class="cap" transform="translate(572.5 468.1) scale(1.12 1)" text-anchor="middle" font-size="14.5" letter-spacing="0">f</text><text class="cap" transform="translate(111 705.1) scale(1.12 1)" text-anchor="middle" font-size="14.5" letter-spacing="0">g</text><text class="cap" transform="translate(341.5 704.1) scale(1.12 1)" text-anchor="middle" font-size="14.5" letter-spacing="0.6">P1</text><text class="cap" transform="translate(573 704.1) scale(1.12 1)" text-anchor="middle" font-size="14.5" letter-spacing="0.6">P2</text><text class="cap" transform="translate(110 936.6) scale(1.12 1)" text-anchor="middle" font-size="14.5" letter-spacing="0.6">P3</text><text class="cap" transform="translate(341.5 936.6) scale(1.12 1)" text-anchor="middle" font-size="14.5" letter-spacing="0.6">P4</text><text class="cap" transform="translate(573 936.6) scale(1.12 1)" text-anchor="middle" font-size="14.5" letter-spacing="0.6">P5</text></svg></body></html>
